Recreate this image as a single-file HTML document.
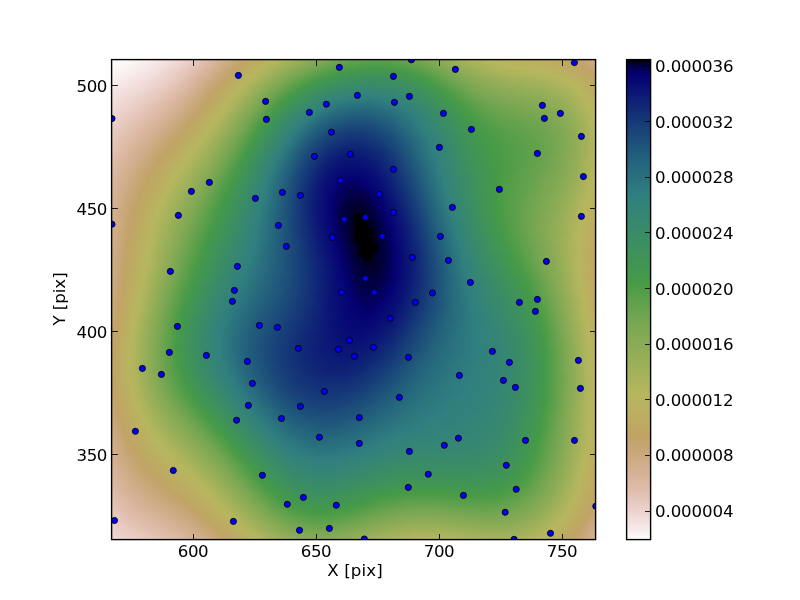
<!DOCTYPE html><html><head><meta charset="utf-8"><title>KDE density X [pix] Y [pix]</title><style>
html,body{margin:0;padding:0;background:#fff}
body{width:800px;height:600px;position:relative;overflow:hidden;font-family:"DejaVu Sans","Liberation Sans",sans-serif;font-size:16.67px;color:#000}
#fld{position:absolute;left:112px;top:60px;width:484px;height:480px;overflow:hidden}
#fld i{display:block;height:1px;width:100%}
#pts{position:absolute;left:112px;top:60px}
.ln{position:absolute;background:#000}
.t{position:absolute;white-space:nowrap;line-height:20px;height:20px;letter-spacing:-0.13px;will-change:transform}
#cb{position:absolute;left:627px;top:60px;width:24px;height:480px;background:linear-gradient(180deg,#000000 0%,#000000 0.3906%,#01002b 0.3906%,#01002b 0.7812%,#010039 0.7812%,#010039 1.172%,#020043 1.172%,#020043 1.562%,#03004e 1.562%,#03004e 1.953%,#030059 1.953%,#030059 2.344%,#040064 2.344%,#040064 2.734%,#05006e 2.734%,#05006e 3.125%,#050274 3.125%,#050274 3.516%,#060574 3.516%,#060574 3.906%,#070774 3.906%,#070774 4.297%,#070975 4.297%,#070975 4.688%,#080b75 4.688%,#080b75 5.078%,#090e75 5.078%,#090e75 5.469%,#091075 5.469%,#091075 5.859%,#0a1275 5.859%,#0a1275 6.25%,#0b1575 6.25%,#0b1575 6.641%,#0b1776 6.641%,#0b1776 7.031%,#0c1976 7.031%,#0c1976 7.422%,#0d1c76 7.422%,#0d1c76 7.812%,#0d1e76 7.812%,#0d1e76 8.203%,#0e2076 8.203%,#0e2076 8.594%,#0f2277 8.594%,#0f2277 8.984%,#0f2577 8.984%,#0f2577 9.375%,#102777 9.375%,#102777 9.766%,#112977 9.766%,#112977 10.16%,#112c77 10.16%,#112c77 10.55%,#122e77 10.55%,#122e77 10.94%,#133078 10.94%,#133078 11.33%,#133278 11.33%,#133278 11.72%,#143478 11.72%,#143478 12.11%,#153778 12.11%,#153778 12.5%,#153978 12.5%,#153978 12.89%,#163b79 12.89%,#163b79 13.28%,#173d79 13.28%,#173d79 13.67%,#173f79 13.67%,#173f79 14.06%,#184179 14.06%,#184179 14.45%,#194379 14.45%,#194379 14.84%,#194579 14.84%,#194579 15.23%,#1a477a 15.23%,#1a477a 15.62%,#1b497a 15.62%,#1b497a 16.02%,#1b4b7a 16.02%,#1b4b7a 16.41%,#1c4d7a 16.41%,#1c4d7a 16.8%,#1d4f7a 16.8%,#1d4f7a 17.19%,#1d517b 17.19%,#1d517b 17.58%,#1e537b 17.58%,#1e537b 17.97%,#1f557b 17.97%,#1f557b 18.36%,#1f577b 18.36%,#1f577b 18.75%,#20597b 18.75%,#20597b 19.14%,#215a7b 19.14%,#215a7b 19.53%,#215c7c 19.53%,#215c7c 19.92%,#225e7c 19.92%,#225e7c 20.31%,#23607c 20.31%,#23607c 20.7%,#23627c 20.7%,#23627c 21.09%,#24647c 21.09%,#24647c 21.48%,#25657d 21.48%,#25657d 21.88%,#25677d 21.88%,#25677d 22.27%,#26687d 22.27%,#26687d 22.66%,#276a7d 22.66%,#276a7d 23.05%,#276b7d 23.05%,#276b7d 23.44%,#286d7d 23.44%,#286d7d 23.83%,#296f7e 23.83%,#296f7e 24.22%,#29707e 24.22%,#29707e 24.61%,#2a727e 24.61%,#2a727e 25%,#2b737e 25%,#2b737e 25.39%,#2b757e 25.39%,#2b757e 25.78%,#2c777f 25.78%,#2c777f 26.17%,#2d787f 26.17%,#2d787f 26.56%,#2d7a7f 26.56%,#2d7a7f 26.95%,#2e7b7f 26.95%,#2e7b7f 27.34%,#2f7d7f 27.34%,#2f7d7f 27.73%,#2f7e7f 27.73%,#2f7e7f 28.12%,#308080 28.12%,#308080 28.52%,#30817e 28.52%,#30817e 28.91%,#31817d 28.91%,#31817d 29.3%,#31827c 29.3%,#31827c 29.69%,#32827b 29.69%,#32827b 30.08%,#328379 30.08%,#328379 30.47%,#338378 30.47%,#338378 30.86%,#338477 30.86%,#338477 31.25%,#348576 31.25%,#348576 31.64%,#348575 31.64%,#348575 32.03%,#358673 32.03%,#358673 32.42%,#358672 32.42%,#358672 32.81%,#368771 32.81%,#368771 33.2%,#368770 33.2%,#368770 33.59%,#37886e 33.59%,#37886e 33.98%,#37896d 33.98%,#37896d 34.38%,#38896c 34.38%,#38896c 34.77%,#388a6b 34.77%,#388a6b 35.16%,#388a6a 35.16%,#388a6a 35.55%,#398b68 35.55%,#398b68 35.94%,#398c67 35.94%,#398c67 36.33%,#3a8c66 36.33%,#3a8c66 36.72%,#3a8d65 36.72%,#3a8d65 37.11%,#3b8d63 37.11%,#3b8d63 37.5%,#3b8e62 37.5%,#3b8e62 37.89%,#3c8e61 37.89%,#3c8e61 38.28%,#3c8f60 38.28%,#3c8f60 38.67%,#3d905f 38.67%,#3d905f 39.06%,#3d905d 39.06%,#3d905d 39.45%,#3e915c 39.45%,#3e915c 39.84%,#3e915b 39.84%,#3e915b 40.23%,#3f925a 40.23%,#3f925a 40.62%,#3f9258 40.62%,#3f9258 41.02%,#409357 41.02%,#409357 41.41%,#409456 41.41%,#409456 41.8%,#409455 41.8%,#409455 42.19%,#419554 42.19%,#419554 42.58%,#419552 42.58%,#419552 42.97%,#429651 42.97%,#429651 43.36%,#429650 43.36%,#429650 43.75%,#43974f 43.75%,#43974f 44.14%,#43984d 44.14%,#43984d 44.53%,#44984c 44.53%,#44984c 44.92%,#44994b 44.92%,#44994b 45.31%,#45994a 45.31%,#45994a 45.7%,#459a49 45.7%,#459a49 46.09%,#479a47 46.09%,#479a47 46.48%,#4a9b46 46.48%,#4a9b46 46.88%,#4c9c47 46.88%,#4c9c47 47.27%,#4e9c47 47.27%,#4e9c47 47.66%,#509d48 47.66%,#509d48 48.05%,#539d48 48.05%,#539d48 48.44%,#559e49 48.44%,#559e49 48.83%,#579f4a 48.83%,#579f4a 49.22%,#599f4a 49.22%,#599f4a 49.61%,#5ba04b 49.61%,#5ba04b 50%,#5ea04b 50%,#5ea04b 50.39%,#60a14c 50.39%,#60a14c 50.78%,#62a14c 50.78%,#62a14c 51.17%,#64a24d 51.17%,#64a24d 51.56%,#67a34e 51.56%,#67a34e 51.95%,#69a34e 51.95%,#69a34e 52.34%,#6ba44f 52.34%,#6ba44f 52.73%,#6da44f 52.73%,#6da44f 53.12%,#6fa450 53.12%,#6fa450 53.52%,#72a551 53.52%,#72a551 53.91%,#74a551 53.91%,#74a551 54.3%,#76a652 54.3%,#76a652 54.69%,#78a652 54.69%,#78a652 55.08%,#7aa752 55.08%,#7aa752 55.47%,#7ca753 55.47%,#7ca753 55.86%,#7da853 55.86%,#7da853 56.25%,#7fa853 56.25%,#7fa853 56.64%,#81a854 56.64%,#81a854 57.03%,#82a954 57.03%,#82a954 57.42%,#84a954 57.42%,#84a954 57.81%,#86aa55 57.81%,#86aa55 58.2%,#87aa55 58.2%,#87aa55 58.59%,#89ab55 58.59%,#89ab55 58.98%,#8aab56 58.98%,#8aab56 59.38%,#8cab56 59.38%,#8cab56 59.77%,#8eac56 59.77%,#8eac56 60.16%,#8fac56 60.16%,#8fac56 60.55%,#91ad57 60.55%,#91ad57 60.94%,#93ad57 60.94%,#93ad57 61.33%,#94ae57 61.33%,#94ae57 61.72%,#96ae58 61.72%,#96ae58 62.11%,#98af58 62.11%,#98af58 62.5%,#99af58 62.5%,#99af58 62.89%,#9baf59 62.89%,#9baf59 63.28%,#9db059 63.28%,#9db059 63.67%,#9eb059 63.67%,#9eb059 64.06%,#a0b15a 64.06%,#a0b15a 64.45%,#a2b15a 64.45%,#a2b15a 64.84%,#a3b25a 64.84%,#a3b25a 65.23%,#a5b25b 65.23%,#a5b25b 65.62%,#a7b25b 65.62%,#a7b25b 66.02%,#a8b35b 66.02%,#a8b35b 66.41%,#aab35c 66.41%,#aab35c 66.8%,#abb45c 66.8%,#abb45c 67.19%,#adb45c 67.19%,#adb45c 67.58%,#afb55c 67.58%,#afb55c 67.97%,#b0b55d 67.97%,#b0b55d 68.36%,#b2b65d 68.36%,#b2b65d 68.75%,#b4b65d 68.75%,#b4b65d 69.14%,#b5b65e 69.14%,#b5b65e 69.53%,#b7b75e 69.53%,#b7b75e 69.92%,#b7b65e 69.92%,#b7b65e 70.31%,#b8b55f 70.31%,#b8b55f 70.7%,#b8b45f 70.7%,#b8b45f 71.09%,#b9b35f 71.09%,#b9b35f 71.48%,#b9b360 71.48%,#b9b360 71.88%,#b9b260 71.88%,#b9b260 72.27%,#bab160 72.27%,#bab160 72.66%,#bab061 72.66%,#bab061 73.05%,#bbaf61 73.05%,#bbaf61 73.44%,#bbae61 73.44%,#bbae61 73.83%,#bcad62 73.83%,#bcad62 74.22%,#bcac62 74.22%,#bcac62 74.61%,#bcac62 74.61%,#bcac62 75%,#bdab62 75%,#bdab62 75.39%,#bdaa63 75.39%,#bdaa63 75.78%,#bea963 75.78%,#bea963 76.17%,#bea863 76.17%,#bea863 76.56%,#bfa764 76.56%,#bfa764 76.95%,#bfa664 76.95%,#bfa664 77.34%,#bfa664 77.34%,#bfa664 77.73%,#c0a565 77.73%,#c0a565 78.12%,#c0a465 78.12%,#c0a465 78.52%,#c1a367 78.52%,#c1a367 78.91%,#c2a46a 78.91%,#c2a46a 79.3%,#c3a46c 79.3%,#c3a46c 79.69%,#c4a46f 79.69%,#c4a46f 80.08%,#c5a571 80.08%,#c5a571 80.47%,#c6a574 80.47%,#c6a574 80.86%,#c7a676 80.86%,#c7a676 81.25%,#c8a779 81.25%,#c8a779 81.64%,#caa87b 81.64%,#caa87b 82.03%,#cba97e 82.03%,#cba97e 82.42%,#ccaa80 82.42%,#ccaa80 82.81%,#cdaa82 82.81%,#cdaa82 83.2%,#ceab85 83.2%,#ceab85 83.59%,#cfac87 83.59%,#cfac87 83.98%,#d0ad8a 83.98%,#d0ad8a 84.38%,#d1ae8c 84.38%,#d1ae8c 84.77%,#d3af8f 84.77%,#d3af8f 85.16%,#d4b091 85.16%,#d4b091 85.55%,#d5b194 85.55%,#d5b194 85.94%,#d6b196 85.94%,#d6b196 86.33%,#d7b298 86.33%,#d7b298 86.72%,#d8b49b 86.72%,#d8b49b 87.11%,#d9b59d 87.11%,#d9b59d 87.5%,#dab7a0 87.5%,#dab7a0 87.89%,#dbb8a2 87.89%,#dbb8a2 88.28%,#ddb9a5 88.28%,#ddb9a5 88.67%,#debba7 88.67%,#debba7 89.06%,#dfbcaa 89.06%,#dfbcaa 89.45%,#e0bdad 89.45%,#e0bdad 89.84%,#e1bfb0 89.84%,#e1bfb0 90.23%,#e2c1b3 90.23%,#e2c1b3 90.62%,#e3c3b6 90.62%,#e3c3b6 91.02%,#e4c5b9 91.02%,#e4c5b9 91.41%,#e6c7bc 91.41%,#e6c7bc 91.8%,#e7c9bf 91.8%,#e7c9bf 92.19%,#e8cbc2 92.19%,#e8cbc2 92.58%,#e9cdc5 92.58%,#e9cdc5 92.97%,#eacfc8 92.97%,#eacfc8 93.36%,#ebd1cb 93.36%,#ebd1cb 93.75%,#ecd3ce 93.75%,#ecd3ce 94.14%,#edd5d1 94.14%,#edd5d1 94.53%,#eed8d4 94.53%,#eed8d4 94.92%,#f0dad7 94.92%,#f0dad7 95.31%,#f1dcda 95.31%,#f1dcda 95.7%,#f2dedd 95.7%,#f2dedd 96.09%,#f3e1e0 96.09%,#f3e1e0 96.48%,#f4e4e3 96.48%,#f4e4e3 96.88%,#f5e7e6 96.88%,#f5e7e6 97.27%,#f6eae9 97.27%,#f6eae9 97.66%,#f7ecec 97.66%,#f7ecec 98.05%,#f9efef 98.05%,#f9efef 98.44%,#faf2f2 98.44%,#faf2f2 98.83%,#fbf5f5 98.83%,#fbf5f5 99.22%,#fcf8f8 99.22%,#fcf8f8 99.61%,#fdfbfb 99.61%,#fdfbfb 100%)}
</style></head><body>
<div id="fld"><i style="background:linear-gradient(90deg,#fdfbfb 0.5%,#fcf8f8 3.5%,#f4e4e3 10.5%,#f2dedd 11.5%,#f1dcda 12.5%,#eacfc8 15.5%,#e1bfb0 18.5%,#d7b298 21.5%,#d3af8f 22.5%,#c7a676 25.5%,#c3a46c 26.5%,#c0a565 27.5%,#b8b55f 32.5%,#b4b65d 33.5%,#8aab56 40.5%,#7ca753 43.5%,#78a652 44.5%,#72a551 45.5%,#60a14c 49.5%,#579f4a 53.5%,#599f4a 57.5%,#62a14c 60.5%,#6ba44f 62.5%,#72a551 63.5%,#a5b25b 73.5%,#b7b75e 78.5%,#bcac62 91.5%,#c0a565 95.5%,#c2a46a 96.5%,#ccaa80 99.5%)"></i><i style="background:linear-gradient(90deg,#fdfbfb 0.5%,#fcf8f8 3.5%,#f4e4e3 10.5%,#f2dedd 11.5%,#f1dcda 12.5%,#eacfc8 15.5%,#e1bfb0 18.5%,#d7b298 21.5%,#d3af8f 22.5%,#c7a676 25.5%,#c3a46c 26.5%,#c0a565 27.5%,#b8b55f 32.5%,#b4b65d 33.5%,#8aab56 40.5%,#7ca753 43.5%,#78a652 44.5%,#72a551 45.5%,#60a14c 49.5%,#579f4a 53.5%,#599f4a 57.5%,#62a14c 60.5%,#6ba44f 62.5%,#72a551 63.5%,#a5b25b 73.5%,#b7b75e 78.5%,#bcac62 91.5%,#c0a565 95.5%,#c2a46a 96.5%,#ccaa80 99.5%)"></i><i style="background:linear-gradient(90deg,#fdfbfb 0.5%,#fcf8f8 3.5%,#f4e4e3 10.5%,#f2dedd 11.5%,#f1dcda 12.5%,#eacfc8 15.5%,#e1bfaf 18.5%,#d7b298 21.5%,#c7a676 25.5%,#c3a46c 26.5%,#c0a565 27.5%,#b8b55f 32.5%,#b4b65d 33.5%,#8aab55 40.5%,#7ba753 43.5%,#78a652 44.5%,#71a550 45.5%,#60a14c 49.5%,#579e4a 53.5%,#599f4a 57.5%,#62a14c 60.5%,#6ba34f 62.5%,#71a550 63.5%,#a5b25b 73.5%,#b7b75e 78.5%,#bcac62 91.5%,#c0a565 95.5%,#c2a46a 96.5%,#ccaa80 99.5%)"></i><i style="background:linear-gradient(90deg,#fdfafa 0.5%,#fdfafa 1.5%,#fbf7f7 3.5%,#f7eceb 7.5%,#f4e3e2 10.5%,#eed7d2 13.5%,#e9cec6 15.5%,#e0beae 18.5%,#d6b196 21.5%,#c6a673 25.5%,#c2a46b 26.5%,#bfa664 27.5%,#b9b360 31.5%,#b1b55d 33.5%,#88aa55 40.5%,#78a652 43.5%,#74a551 44.5%,#6ea44f 45.5%,#5ca04b 49.5%,#539d49 53.5%,#539d49 55.5%,#569e49 57.5%,#5fa04c 60.5%,#67a34e 62.5%,#94ad57 70.5%,#a3b15a 73.5%,#b5b65e 78.5%,#b9b45f 82.5%,#bcad61 90.5%,#bfa664 95.5%,#c4a46f 97.5%,#cba97e 99.5%)"></i><i style="background:linear-gradient(90deg,#fdfafa 0.5%,#fdfafa 1.5%,#f7ebeb 7.5%,#f3e1e0 10.5%,#edd6d1 13.5%,#e3c3b5 17.5%,#d5b194 21.5%,#c5a571 25.5%,#c2a469 26.5%,#bfa664 27.5%,#b8b45f 31.5%,#afb55d 33.5%,#9db059 36.5%,#6aa34f 45.5%,#589f4a 49.5%,#4f9c49 53.5%,#4f9c49 55.5%,#529d48 57.5%,#5ba04b 60.5%,#64a24d 62.5%,#7ca753 66.5%,#a1b15a 73.5%,#b3b65d 78.5%,#b8b45f 82.5%,#bbae61 90.5%,#bfa664 95.5%,#c3a46d 97.5%,#caa87d 99.5%)"></i><i style="background:linear-gradient(90deg,#fcf9f9 0.5%,#fcf9f9 1.5%,#f7ebea 7.5%,#f5e6e5 8.5%,#f3e0df 10.5%,#edd5d0 13.5%,#e5c7bb 16.5%,#dfbcaa 18.5%,#d4b092 21.5%,#c4a46e 25.5%,#c1a467 26.5%,#bfa764 27.5%,#b8b55f 31.5%,#b3b55d 32.5%,#9aaf59 36.5%,#66a24e 45.5%,#549e49 49.5%,#4c9c49 53.5%,#4c9c49 55.5%,#4f9c48 57.5%,#589f4a 60.5%,#61a14c 62.5%,#7aa752 66.5%,#90ac57 70.5%,#a3b15a 74.5%,#b2b55d 78.5%,#b8b55f 82.5%,#b9b360 86.5%,#bcad62 92.5%,#bfa764 95.5%,#c2a46b 97.5%,#caa87b 99.5%)"></i><i style="background:linear-gradient(90deg,#fcf9f8 0.5%,#fcf9f8 1.5%,#f8eded 5.5%,#f8edec 6.5%,#f6eae9 7.5%,#f4e5e4 8.5%,#f2dfde 10.5%,#eed6d2 12.5%,#edd4cf 13.5%,#e9cec6 14.5%,#e5c6ba 16.5%,#d7b39a 20.5%,#c7a675 24.5%,#c3a46c 25.5%,#c0a566 26.5%,#b7b65e 31.5%,#98af58 36.5%,#7ca753 41.5%,#6da44f 43.5%,#62a14d 45.5%,#519d48 49.5%,#4c9c47 51.5%,#489b49 53.5%,#489b49 55.5%,#4c9c47 57.5%,#559e49 60.5%,#5ea04b 62.5%,#78a652 66.5%,#8eac56 70.5%,#a1b15a 74.5%,#b0b55d 78.5%,#b7b65e 82.5%,#b9b45f 86.5%,#bbae61 92.5%,#bea864 95.5%,#c1a369 97.5%,#c9a77a 99.5%)"></i><i style="background:linear-gradient(90deg,#fcf8f8 0.5%,#fcf8f8 1.5%,#f7ecec 5.5%,#f7ecec 6.5%,#f6e9e9 7.5%,#f4e4e3 8.5%,#f2dedc 10.5%,#edd5d0 12.5%,#ecd3cd 13.5%,#e9cdc4 14.5%,#e4c5b8 16.5%,#ddbaa7 18.5%,#d7b298 20.5%,#cfac87 22.5%,#c6a573 24.5%,#c2a46a 25.5%,#c0a565 26.5%,#b6b75e 31.5%,#95ae58 36.5%,#79a652 41.5%,#6aa34f 43.5%,#5fa14c 45.5%,#4d9c48 49.5%,#499b47 51.5%,#459a49 53.5%,#459a49 55.5%,#499b47 57.5%,#4d9c48 59.5%,#5b9f4b 62.5%,#75a651 66.5%,#8cab56 70.5%,#9fb15a 74.5%,#aeb55c 78.5%,#b6b75e 82.5%,#b9b360 88.5%,#bbae61 92.5%,#bfa664 96.5%,#c1a367 97.5%,#c4a46e 98.5%,#c8a778 99.5%)"></i><i style="background:linear-gradient(90deg,#fcf7f7 0.5%,#fbf7f6 1.5%,#f6e8e7 7.5%,#f4e3e2 8.5%,#f1dddb 10.5%,#edd4cf 12.5%,#ebd1cb 13.5%,#e3c4b6 16.5%,#d6b196 20.5%,#ceab85 22.5%,#c5a571 24.5%,#c1a468 25.5%,#bfa664 26.5%,#bab160 29.5%,#b4b65e 31.5%,#93ad57 36.5%,#75a651 41.5%,#66a24e 43.5%,#5ba04b 45.5%,#4b9b49 49.5%,#44994b 53.5%,#44994b 55.5%,#489a49 57.5%,#4b9b49 59.5%,#539d49 61.5%,#89ab55 70.5%,#9db059 74.5%,#acb45c 78.5%,#b5b65e 82.5%,#b9b45f 88.5%,#bbaf61 92.5%,#bfa764 96.5%,#c0a467 97.5%,#c3a46c 98.5%,#c7a676 99.5%)"></i><i style="background:linear-gradient(90deg,#fbf7f7 0.5%,#f5e7e6 7.5%,#f1dcda 10.5%,#ebd0c9 13.5%,#e3c2b4 16.5%,#d5b194 20.5%,#cdab83 22.5%,#c4a46f 24.5%,#c1a567 25.5%,#bfa764 26.5%,#b9b260 29.5%,#b7b55f 30.5%,#b2b65d 31.5%,#90ad57 36.5%,#72a550 41.5%,#62a14d 43.5%,#579f4a 45.5%,#4e9c4a 47.5%,#499a4a 49.5%,#44984d 53.5%,#44984d 55.5%,#46994b 57.5%,#499a4a 59.5%,#509d48 61.5%,#5b9f4b 63.5%,#76a651 67.5%,#87aa55 70.5%,#97ae58 73.5%,#a8b35b 77.5%,#b0b55d 80.5%,#b3b65d 82.5%,#b8b55f 88.5%,#bab061 92.5%,#bfa764 96.5%,#c2a46a 98.5%,#c6a674 99.5%)"></i><i style="background:linear-gradient(90deg,#fbf6f6 0.5%,#f9f0f0 3.5%,#f5e6e5 7.5%,#f0dbd9 10.5%,#eacfc8 13.5%,#e5c7bb 15.5%,#dfbcaa 17.5%,#d4b092 20.5%,#ccaa81 22.5%,#c3a46d 24.5%,#c0a566 25.5%,#b6b55e 30.5%,#b0b55d 31.5%,#8eac56 36.5%,#7ca753 39.5%,#5fa04c 43.5%,#4f9c48 46.5%,#4a9b4a 47.5%,#47994b 49.5%,#43974e 53.5%,#43974f 54.5%,#45984d 57.5%,#47994b 59.5%,#4c9c48 61.5%,#579f4a 63.5%,#80a853 69.5%,#95ae58 73.5%,#a6b25b 77.5%,#aeb45c 80.5%,#b1b55d 82.5%,#b8b65f 88.5%,#bab160 92.5%,#bea864 96.5%,#c1a468 98.5%,#c5a572 99.5%)"></i><i style="background:linear-gradient(90deg,#fbf6f5 0.5%,#f9f0f0 2.5%,#f9f0ef 3.5%,#f5e7e7 6.5%,#f0dad7 10.5%,#e5c6b9 15.5%,#debba8 17.5%,#d7b399 19.5%,#d3af90 20.5%,#d0ac88 21.5%,#c7a675 23.5%,#c2a46b 24.5%,#c0a565 25.5%,#b6b65e 30.5%,#92ad57 35.5%,#7aa752 39.5%,#5ba04b 43.5%,#509d48 45.5%,#4c9c47 46.5%,#479a4a 47.5%,#429650 52.5%,#429651 54.5%,#429650 56.5%,#469a4a 60.5%,#499b48 61.5%,#549e49 63.5%,#7ea853 69.5%,#94ad57 73.5%,#a4b25a 77.5%,#acb45c 80.5%,#b7b65e 88.5%,#bbae61 94.5%,#bfa664 97.5%,#c1a466 98.5%,#c4a570 99.5%)"></i><i style="background:linear-gradient(90deg,#fbf5f5 0.5%,#f8efef 2.5%,#f8efee 3.5%,#f3e0df 8.5%,#f0dcd9 9.5%,#efd9d6 10.5%,#e4c5b8 15.5%,#ddbaa6 17.5%,#d7b298 19.5%,#d2af8e 20.5%,#cfac86 21.5%,#c6a573 23.5%,#c1a469 24.5%,#bfa664 25.5%,#bab160 28.5%,#b4b65e 30.5%,#90ac57 35.5%,#76a652 39.5%,#589f4a 43.5%,#499b47 46.5%,#44994b 47.5%,#43974e 49.5%,#419553 54.5%,#429651 57.5%,#44994b 60.5%,#479a48 61.5%,#519d48 63.5%,#65a24d 66.5%,#7ca753 69.5%,#92ad57 73.5%,#a2b15a 77.5%,#acb45c 81.5%,#b6b75e 88.5%,#b7b55f 90.5%,#bbaf61 94.5%,#c0a465 98.5%,#c4a46e 99.5%)"></i><i style="background:linear-gradient(90deg,#faf4f4 0.5%,#f8efee 2.5%,#f8eeed 3.5%,#f2dfde 8.5%,#f0dbd8 9.5%,#efd8d5 10.5%,#e3c3b6 15.5%,#d6b196 19.5%,#d1ae8c 20.5%,#c5a571 23.5%,#c1a468 24.5%,#bfa764 25.5%,#b9b260 28.5%,#b2b65d 30.5%,#7aa752 38.5%,#549e49 43.5%,#479a49 46.5%,#44984d 47.5%,#429650 49.5%,#409455 54.5%,#419553 57.5%,#46994a 61.5%,#4e9c48 63.5%,#7aa752 69.5%,#90ac57 73.5%,#a0b15a 77.5%,#abb45c 81.5%,#b4b65e 88.5%,#b6b55e 90.5%,#bbaf61 94.5%,#c0a565 98.5%,#c3a46d 99.5%)"></i><i style="background:linear-gradient(90deg,#faf4f3 0.5%,#f2dedd 8.5%,#f0dad7 9.5%,#eed7d4 10.5%,#e5c7bc 14.5%,#e3c2b4 15.5%,#d5b195 19.5%,#c8a778 22.5%,#c4a46f 23.5%,#c0a567 24.5%,#bea764 25.5%,#b9b35f 28.5%,#b6b55e 29.5%,#b0b55d 30.5%,#77a652 38.5%,#519d48 43.5%,#46994b 46.5%,#43974f 47.5%,#419553 49.5%,#409356 52.5%,#409356 55.5%,#419553 58.5%,#45994b 61.5%,#4c9c48 63.5%,#529d48 64.5%,#77a652 69.5%,#83a954 71.5%,#97ae58 75.5%,#9eb059 77.5%,#a9b35b 81.5%,#b3b65d 88.5%,#b7b55e 91.5%,#bbae61 95.5%,#c0a565 98.5%,#c2a46b 99.5%)"></i><i style="background:linear-gradient(90deg,#faf3f3 0.5%,#f1dddb 8.5%,#efd9d5 9.5%,#eed7d2 10.5%,#e5c6ba 14.5%,#d8b39a 18.5%,#d5b093 19.5%,#c7a676 22.5%,#c3a46d 23.5%,#c0a566 24.5%,#b8b45f 28.5%,#b5b65e 29.5%,#83a954 36.5%,#5ca04b 41.5%,#4e9c47 43.5%,#46994c 45.5%,#429651 47.5%,#419455 49.5%,#3f9358 52.5%,#3f9358 55.5%,#419455 58.5%,#429650 60.5%,#499b48 63.5%,#509d48 64.5%,#75a651 69.5%,#81a954 71.5%,#95ae58 75.5%,#9cb059 77.5%,#a7b35b 81.5%,#aab45c 84.5%,#b6b65e 91.5%,#bbaf61 95.5%,#bfa664 98.5%,#c2a369 99.5%)"></i><i style="background:linear-gradient(90deg,#faf3f2 0.5%,#f1dcda 8.5%,#efd8d4 9.5%,#edd6d1 10.5%,#e5c6b9 14.5%,#debba8 16.5%,#d7b399 18.5%,#d4b092 19.5%,#c6a574 22.5%,#c2a46b 23.5%,#c0a565 24.5%,#b8b55f 28.5%,#b4b65e 29.5%,#79a652 37.5%,#589f4a 41.5%,#4b9b46 43.5%,#469a4a 44.5%,#419553 47.5%,#409357 49.5%,#3e925a 52.5%,#3e925a 55.5%,#409357 58.5%,#469a49 63.5%,#4d9c47 64.5%,#6aa34e 68.5%,#72a551 69.5%,#7fa853 71.5%,#93ad57 75.5%,#a5b25b 81.5%,#a9b35b 84.5%,#b2b65d 90.5%,#b6b65e 91.5%,#bab061 95.5%,#bfa664 98.5%,#c1a368 99.5%)"></i><i style="background:linear-gradient(90deg,#f9f1f1 0.5%,#f0dcd9 8.5%,#eed7d3 9.5%,#edd5d0 10.5%,#e4c4b7 14.5%,#ddbaa6 16.5%,#d6b297 18.5%,#d3af90 19.5%,#c6a573 22.5%,#c1a469 23.5%,#bfa664 24.5%,#b7b55e 28.5%,#b3b65d 29.5%,#7fa853 36.5%,#64a24d 39.5%,#559e49 41.5%,#499a48 43.5%,#44994b 44.5%,#409455 47.5%,#3f9259 49.5%,#3e915c 52.5%,#3e915c 55.5%,#3f9258 58.5%,#45994a 63.5%,#4b9b47 64.5%,#519d48 65.5%,#70a550 69.5%,#7ea853 71.5%,#92ad57 75.5%,#a4b25a 81.5%,#afb55d 89.5%,#b6b65e 92.5%,#bab060 95.5%,#bfa764 98.5%,#c0a467 99.5%)"></i><i style="background:linear-gradient(90deg,#f9f0f0 0.5%,#f4e3e2 5.5%,#f0dbd8 8.5%,#eed6d2 9.5%,#edd4cf 10.5%,#e3c3b5 14.5%,#d6b196 18.5%,#ceab85 20.5%,#c5a571 22.5%,#c1a468 23.5%,#bfa764 24.5%,#b6b55e 28.5%,#b1b55d 29.5%,#7ca753 36.5%,#61a14c 39.5%,#519d49 41.5%,#4c9b49 42.5%,#47994a 43.5%,#43984d 44.5%,#409357 47.5%,#3e915b 49.5%,#3d905e 52.5%,#3d905e 55.5%,#3f925a 58.5%,#44994b 63.5%,#4e9c48 65.5%,#6ea450 69.5%,#7ca753 71.5%,#90ac57 75.5%,#a2b15a 81.5%,#adb45c 89.5%,#b5b65e 92.5%,#bab160 95.5%,#c0a466 99.5%)"></i><i style="background:linear-gradient(90deg,#f8efef 0.5%,#f3e2e1 5.5%,#ecd3cd 10.5%,#e5c7bb 13.5%,#d8b49c 17.5%,#d5b194 18.5%,#c9a779 21.5%,#c4a570 22.5%,#c0a567 23.5%,#bea864 24.5%,#b9b35f 27.5%,#b5b55e 28.5%,#afb55d 29.5%,#79a752 36.5%,#5ea04b 39.5%,#4e9c48 41.5%,#46984c 43.5%,#43974f 44.5%,#3d905d 49.5%,#3c8f60 53.5%,#3c8f60 55.5%,#3e915b 58.5%,#44984d 63.5%,#4b9b48 65.5%,#549e49 66.5%,#7aa752 71.5%,#8eac56 75.5%,#a0b15a 81.5%,#acb45c 89.5%,#b7b55e 93.5%,#b9b260 95.5%,#c0a566 99.5%)"></i><i style="background:linear-gradient(90deg,#f8eeed 0.5%,#f3e1e1 5.5%,#f1dddb 6.5%,#efd9d5 8.5%,#edd4cf 9.5%,#ecd2cc 10.5%,#e5c6ba 13.5%,#d8b39a 17.5%,#cdaa82 20.5%,#c4a46e 22.5%,#c0a566 23.5%,#b8b45f 27.5%,#b3b55d 28.5%,#adb45c 29.5%,#77a652 36.5%,#5b9f4b 39.5%,#4b9b48 41.5%,#47994b 42.5%,#429651 44.5%,#3d8f5f 49.5%,#3b8e62 53.5%,#3c8e61 55.5%,#3d905d 58.5%,#43974e 63.5%,#489b49 65.5%,#519d48 66.5%,#78a652 71.5%,#8cac56 75.5%,#9fb059 81.5%,#aab35c 89.5%,#b6b65e 93.5%,#b9b360 95.5%,#bfa665 99.5%)"></i><i style="background:linear-gradient(90deg,#f7edec 0.5%,#f3e1e0 5.5%,#f1dcda 6.5%,#efd8d4 8.5%,#ecd3ce 9.5%,#ebd1cb 10.5%,#e4c5b9 13.5%,#debba7 15.5%,#d7b299 17.5%,#ccaa80 20.5%,#c3a46d 22.5%,#bfa664 23.5%,#b8b55f 27.5%,#acb45c 29.5%,#8bab56 33.5%,#74a551 36.5%,#69a34e 37.5%,#579f4a 39.5%,#489b47 41.5%,#44984c 42.5%,#409357 45.5%,#3c8e61 49.5%,#3a8d64 53.5%,#3c8e61 57.5%,#409357 61.5%,#459a49 65.5%,#4e9c47 66.5%,#559e49 67.5%,#76a652 71.5%,#8bab56 75.5%,#9db059 81.5%,#a8b35b 89.5%,#adb45c 91.5%,#b5b65e 93.5%,#b9b35f 95.5%,#bfa664 99.5%)"></i><i style="background:linear-gradient(90deg,#f7eceb 0.5%,#f3e0df 5.5%,#f0dcd9 6.5%,#eed7d3 8.5%,#ecd2cd 9.5%,#ebd0ca 10.5%,#e4c4b7 13.5%,#d6b297 17.5%,#d3af90 18.5%,#c6a674 21.5%,#c2a46b 22.5%,#bfa664 23.5%,#b7b55e 27.5%,#b1b55d 28.5%,#71a550 36.5%,#549e49 39.5%,#469a49 41.5%,#43974e 42.5%,#3f9259 45.5%,#3b8e63 49.5%,#3a8c66 53.5%,#3b8e62 57.5%,#3f9259 61.5%,#45994a 65.5%,#539d48 67.5%,#74a551 71.5%,#89ab55 75.5%,#9baf59 81.5%,#a7b35b 89.5%,#afb55d 92.5%,#b4b65e 93.5%,#b8b45f 95.5%,#bfa764 99.5%)"></i><i style="background:linear-gradient(90deg,#f7ebeb 0.5%,#f2dfdd 5.5%,#eed6d1 8.5%,#ebd1cb 9.5%,#eacfc8 10.5%,#e3c3b5 13.5%,#d6b196 17.5%,#d2af8e 18.5%,#c6a572 21.5%,#c2a469 22.5%,#bfa764 23.5%,#b9b360 26.5%,#b6b55e 27.5%,#afb55c 28.5%,#7fa853 34.5%,#6ea450 36.5%,#5a9f4a 38.5%,#4a9b49 40.5%,#45994b 41.5%,#429750 42.5%,#3e915b 45.5%,#3a8d64 49.5%,#398b68 53.5%,#3a8c66 56.5%,#3e925a 61.5%,#44994b 65.5%,#509d48 67.5%,#72a551 71.5%,#87aa55 75.5%,#8eac56 77.5%,#99af58 81.5%,#a3b25a 88.5%,#aab45c 91.5%,#b5b65e 94.5%,#b8b45f 95.5%,#bea764 99.5%)"></i><i style="background:linear-gradient(90deg,#f7ebea 0.5%,#f2dedc 5.5%,#edd5d0 8.5%,#ebd1ca 9.5%,#eacfc7 10.5%,#e2c2b3 13.5%,#d9b59d 16.5%,#d2ae8d 18.5%,#c9a87a 20.5%,#c1a468 22.5%,#bea864 23.5%,#b9b35f 26.5%,#b4b55e 27.5%,#7da753 34.5%,#569e49 38.5%,#4e9c48 39.5%,#489a4a 40.5%,#409456 43.5%,#3c8f60 46.5%,#3a8c66 49.5%,#388a6a 53.5%,#398b67 56.5%,#3e915c 61.5%,#44984c 65.5%,#4e9c47 67.5%,#6fa450 71.5%,#76a651 72.5%,#86aa55 75.5%,#8dac56 77.5%,#98af58 81.5%,#a2b15a 88.5%,#a9b35b 91.5%,#b4b65e 94.5%,#b8b55f 95.5%,#bea863 99.5%)"></i><i style="background:linear-gradient(90deg,#f7eae9 0.5%,#f1dddb 5.5%,#edd4cf 8.5%,#ead0c9 9.5%,#e9cec6 10.5%,#d9b49c 16.5%,#d1ae8b 18.5%,#c8a778 20.5%,#c4a46e 21.5%,#c0a566 22.5%,#bea863 23.5%,#b8b45f 26.5%,#b3b55d 27.5%,#7ba752 34.5%,#539e49 38.5%,#4a9b48 39.5%,#43974f 41.5%,#3e915c 44.5%,#3a8c67 48.5%,#388a6b 52.5%,#398b69 56.5%,#3d905d 61.5%,#43984e 65.5%,#46994a 66.5%,#4c9c47 67.5%,#6da44f 71.5%,#74a551 72.5%,#84a954 75.5%,#8cab56 77.5%,#96ae58 81.5%,#a0b15a 88.5%,#a8b35b 91.5%,#b3b65d 94.5%,#b8b65f 95.5%,#bea963 99.5%)"></i><i style="background:linear-gradient(90deg,#f6e9e9 0.5%,#f0dad7 6.5%,#edd5d1 7.5%,#e9cdc5 10.5%,#e7c9bf 11.5%,#e3c3b6 12.5%,#dfbca9 14.5%,#d8b49b 16.5%,#d4b091 17.5%,#d0ad8a 18.5%,#c7a676 20.5%,#c3a46c 21.5%,#c0a565 22.5%,#b8b55f 26.5%,#b2b65d 27.5%,#78a652 34.5%,#509d48 38.5%,#479a47 39.5%,#44984c 40.5%,#3f925a 43.5%,#398b69 48.5%,#37896d 52.5%,#388a6b 56.5%,#398b67 58.5%,#3d8f5f 61.5%,#44994b 66.5%,#4a9b46 67.5%,#6ba44f 71.5%,#78a652 73.5%,#8aab55 77.5%,#93ad57 80.5%,#9eb059 88.5%,#a3b25a 90.5%,#aab35b 92.5%,#b7b65e 95.5%,#bea963 99.5%)"></i><i style="background:linear-gradient(90deg,#f6e8e8 0.5%,#efd9d5 6.5%,#edd4cf 7.5%,#ecd2cc 8.5%,#e8ccc3 10.5%,#debba8 14.5%,#d7b399 16.5%,#d3af8f 17.5%,#d0ac88 18.5%,#c7a674 20.5%,#c2a46b 21.5%,#bfa664 22.5%,#b7b55e 26.5%,#b1b55d 27.5%,#7ea853 33.5%,#589f4a 37.5%,#4e9c49 38.5%,#469a49 39.5%,#43974e 40.5%,#3c8f5f 44.5%,#38896c 49.5%,#36886f 53.5%,#398b69 58.5%,#3c8f60 61.5%,#44984c 66.5%,#489a47 67.5%,#509d48 68.5%,#68a34e 71.5%,#76a652 73.5%,#89ab55 77.5%,#91ad57 80.5%,#9db059 88.5%,#a2b15a 90.5%,#a8b35b 92.5%,#b6b65e 95.5%,#b8b45f 96.5%,#bdaa63 99.5%)"></i><i style="background:linear-gradient(90deg,#f5e7e6 0.5%,#efd8d4 6.5%,#e7cbc1 10.5%,#d7b298 16.5%,#d2af8e 17.5%,#cfac87 18.5%,#c6a573 20.5%,#c2a469 21.5%,#bfa664 22.5%,#b6b65e 26.5%,#afb55d 27.5%,#7ca753 33.5%,#559e49 37.5%,#4b9b49 38.5%,#45994b 39.5%,#3c8e61 44.5%,#37886e 49.5%,#368771 53.5%,#388a6a 58.5%,#3b8e62 61.5%,#43974e 66.5%,#479a49 67.5%,#4e9c48 68.5%,#74a551 73.5%,#87aa55 77.5%,#8fac56 80.5%,#9bb059 88.5%,#a0b15a 90.5%,#afb55d 94.5%,#b5b65e 95.5%,#b8b55f 96.5%,#bdaa63 99.5%)"></i><i style="background:linear-gradient(90deg,#f5e6e5 0.5%,#eed7d3 6.5%,#e7c9bf 10.5%,#e0bdac 13.5%,#d6b296 16.5%,#d1ae8c 17.5%,#ceab85 18.5%,#c5a571 20.5%,#c1a468 21.5%,#bfa764 22.5%,#b9b35f 25.5%,#b5b65e 26.5%,#aeb45c 27.5%,#7aa752 33.5%,#5a9f4a 36.5%,#519d48 37.5%,#499a4a 38.5%,#429652 40.5%,#3b8e63 44.5%,#368770 49.5%,#358673 53.5%,#38896c 58.5%,#3b8d63 61.5%,#43974f 66.5%,#46994a 67.5%,#4b9c48 68.5%,#73a551 73.5%,#79a652 74.5%,#85aa54 77.5%,#8dac56 80.5%,#9cb059 89.5%,#a6b25b 92.5%,#aeb45c 94.5%,#b4b65e 95.5%,#b8b65f 96.5%,#bdab62 99.5%)"></i><i style="background:linear-gradient(90deg,#f4e5e4 0.5%,#eed6d2 6.5%,#ebd2cc 7.5%,#ead0c9 8.5%,#e6c8bd 10.5%,#dfbdaa 13.5%,#d5b195 16.5%,#d1ad8b 17.5%,#cdab83 18.5%,#c4a570 20.5%,#c1a466 21.5%,#bea864 22.5%,#b8b45f 25.5%,#b4b65e 26.5%,#78a652 33.5%,#579f4a 36.5%,#4e9c47 37.5%,#46994b 38.5%,#3a8d65 44.5%,#358672 49.5%,#348575 53.5%,#368770 57.5%,#3a8d65 61.5%,#429650 66.5%,#499b47 68.5%,#71a550 73.5%,#77a652 74.5%,#80a853 76.5%,#8aab55 79.5%,#9baf59 89.5%,#a4b25a 92.5%,#acb45c 94.5%,#b7b65e 96.5%,#bdab62 99.5%)"></i><i style="background:linear-gradient(90deg,#f4e4e3 0.5%,#edd5d0 6.5%,#ebd1ca 7.5%,#eacfc7 8.5%,#dfbca9 13.5%,#d5b093 16.5%,#d0ad89 17.5%,#cdaa82 18.5%,#c4a46e 20.5%,#c0a465 21.5%,#b8b45f 25.5%,#b3b65d 26.5%,#75a652 33.5%,#549e49 36.5%,#4b9b47 37.5%,#44994b 38.5%,#3b8e63 43.5%,#388a6a 45.5%,#358674 49.5%,#348476 53.5%,#358771 57.5%,#3b8e63 62.5%,#44984d 67.5%,#479a48 68.5%,#569e49 70.5%,#6fa450 73.5%,#75a652 74.5%,#7ea853 76.5%,#88aa55 79.5%,#99af58 89.5%,#abb45c 94.5%,#b7b75e 96.5%,#bcac62 99.5%)"></i><i style="background:linear-gradient(90deg,#f4e3e2 0.5%,#edd4cf 6.5%,#ebd0c9 7.5%,#e9cec6 8.5%,#debba8 13.5%,#d4b092 16.5%,#c8a677 19.5%,#c3a46c 20.5%,#c0a565 21.5%,#b7b55f 25.5%,#b1b55d 26.5%,#86aa55 31.5%,#73a551 33.5%,#519d49 36.5%,#4a9b48 37.5%,#44984d 38.5%,#3a8d65 43.5%,#38896c 45.5%,#348575 49.5%,#338478 53.5%,#358673 57.5%,#3b8d64 62.5%,#43974e 67.5%,#469a49 68.5%,#4d9c48 69.5%,#73a551 74.5%,#80a854 77.5%,#89ab55 80.5%,#98ae58 89.5%,#a1b15a 92.5%,#aab35c 94.5%,#b6b65e 96.5%,#bcac62 99.5%)"></i><i style="background:linear-gradient(90deg,#f4e2e1 0.5%,#ecd3ce 6.5%,#eacfc8 7.5%,#e9cdc5 8.5%,#e0bead 12.5%,#d3af90 16.5%,#c7a675 19.5%,#c2a46a 20.5%,#bfa664 21.5%,#b9b260 24.5%,#b6b55e 25.5%,#b0b55d 26.5%,#7ba753 32.5%,#4e9c48 36.5%,#489a4a 37.5%,#43974f 38.5%,#3b8e63 42.5%,#37886e 45.5%,#338477 49.5%,#328379 53.5%,#348574 57.5%,#3a8c65 62.5%,#43974f 67.5%,#45994a 68.5%,#4b9b48 69.5%,#539d48 70.5%,#71a550 74.5%,#7fa853 77.5%,#87aa55 80.5%,#96ae58 89.5%,#a0b15a 92.5%,#a9b35b 94.5%,#b5b65e 96.5%,#b8b55f 97.5%,#bcad62 99.5%)"></i><i style="background:linear-gradient(90deg,#f3e2e1 0.5%,#f0dbd8 3.5%,#e8ccc4 8.5%,#ddb9a5 13.5%,#d2af8f 16.5%,#ceab85 17.5%,#cba97d 18.5%,#c1a468 20.5%,#bfa664 21.5%,#b9b35f 24.5%,#b5b55e 25.5%,#aeb45c 26.5%,#79a652 32.5%,#4c9c48 36.5%,#46994b 37.5%,#429650 38.5%,#3a8d64 42.5%,#36886f 45.5%,#338378 49.5%,#32827b 53.5%,#348576 57.5%,#3a8c66 62.5%,#429650 67.5%,#499b48 69.5%,#519d48 70.5%,#6ea450 74.5%,#7ea853 77.5%,#86aa55 80.5%,#95ae57 89.5%,#9fb059 92.5%,#b4b65d 96.5%,#b8b55f 97.5%,#bcad62 99.5%)"></i><i style="background:linear-gradient(90deg,#f3e1e0 0.5%,#f0dad7 3.5%,#eed6d1 4.5%,#ebd1cb 6.5%,#e9cec5 7.5%,#e8ccc2 8.5%,#dcb8a3 13.5%,#d2ae8d 16.5%,#c5a572 19.5%,#c1a466 20.5%,#bfa764 21.5%,#b8b45f 24.5%,#b4b65e 25.5%,#a4b25a 27.5%,#77a652 32.5%,#549e49 35.5%,#499b47 36.5%,#44984d 37.5%,#3a8c66 42.5%,#368771 45.5%,#338379 48.5%,#31827c 51.5%,#31827c 53.5%,#338478 57.5%,#398b68 62.5%,#44984d 68.5%,#469a48 69.5%,#4f9c47 70.5%,#6ca44f 74.5%,#7ca753 77.5%,#85a954 80.5%,#8dac56 85.5%,#8dac56 86.5%,#93ad57 89.5%,#9db059 92.5%,#b3b65d 96.5%,#b8b65e 97.5%,#bbae61 99.5%)"></i><i style="background:linear-gradient(90deg,#f3e1e0 0.5%,#efd9d6 3.5%,#edd5d0 4.5%,#ebd1ca 6.5%,#e9cdc4 7.5%,#e8cbc1 8.5%,#debca9 12.5%,#d8b39a 14.5%,#d1ae8b 16.5%,#c5a570 19.5%,#c0a465 20.5%,#b8b45f 24.5%,#b3b65d 25.5%,#88aa55 30.5%,#75a551 32.5%,#519d48 35.5%,#479a48 36.5%,#43974e 37.5%,#398b68 42.5%,#358673 45.5%,#32827a 48.5%,#31807d 51.5%,#31807d 53.5%,#338379 57.5%,#398b69 62.5%,#459a49 69.5%,#4d9c47 70.5%,#5da04b 72.5%,#71a550 75.5%,#7ba753 77.5%,#83a954 80.5%,#8bab56 85.5%,#8bab56 86.5%,#92ad57 89.5%,#9cb059 92.5%,#abb45c 95.5%,#b7b65e 97.5%,#bbae61 99.5%)"></i><i style="background:linear-gradient(90deg,#f3e0df 0.5%,#ead0c9 6.5%,#e8ccc3 7.5%,#e7cac0 8.5%,#e3c2b4 10.5%,#debba7 12.5%,#d7b399 14.5%,#d0ad8a 16.5%,#c4a46e 19.5%,#c0a565 20.5%,#b7b55f 24.5%,#b2b55d 25.5%,#7ca753 31.5%,#67a34e 33.5%,#4e9c48 35.5%,#46994a 36.5%,#429750 37.5%,#388a6a 42.5%,#348575 45.5%,#31817b 48.5%,#307f7e 53.5%,#32837a 57.5%,#388a6a 62.5%,#45994a 69.5%,#4b9b48 70.5%,#5ba04b 72.5%,#6fa450 75.5%,#79a752 77.5%,#82a954 80.5%,#8aab55 85.5%,#8aab55 86.5%,#91ad57 89.5%,#9baf59 92.5%,#aab35c 95.5%,#b6b65e 97.5%,#bbaf61 99.5%)"></i><i style="background:linear-gradient(90deg,#f2e0de 0.5%,#eacfc8 6.5%,#e8cbc2 7.5%,#e7c9bf 8.5%,#e2c1b3 10.5%,#d6b297 14.5%,#d0ad88 16.5%,#c3a46c 19.5%,#c0a565 20.5%,#b7b55e 24.5%,#b0b55d 25.5%,#7aa752 31.5%,#64a24d 33.5%,#579e49 34.5%,#4c9c48 35.5%,#45994b 36.5%,#38896c 42.5%,#338477 45.5%,#32827c 47.5%,#2f7e7d 50.5%,#2f7d7e 53.5%,#307f7e 55.5%,#338379 58.5%,#38896c 62.5%,#44994b 69.5%,#499b48 70.5%,#509d48 71.5%,#599f4a 72.5%,#6da44f 75.5%,#78a652 77.5%,#80a854 80.5%,#89ab55 85.5%,#89ab55 86.5%,#8fac56 89.5%,#99af58 92.5%,#a9b35b 95.5%,#b5b65e 97.5%,#bbaf61 99.5%)"></i><i style="background:linear-gradient(90deg,#f2dfde 0.5%,#f0dbd8 1.5%,#eed7d2 3.5%,#e9cec6 6.5%,#e7cac0 7.5%,#e6c8bd 8.5%,#e2c1b1 10.5%,#d6b196 14.5%,#cfac87 16.5%,#c2a36a 19.5%,#bfa664 20.5%,#b6b65e 24.5%,#a7b35b 26.5%,#79a652 31.5%,#549e49 34.5%,#499b48 35.5%,#419553 37.5%,#37896d 42.5%,#338378 45.5%,#31817d 47.5%,#2e7c7e 50.5%,#2e7c7e 53.5%,#30807e 56.5%,#32837a 58.5%,#37896d 62.5%,#44984c 69.5%,#489b48 70.5%,#4e9c47 71.5%,#579f4a 72.5%,#6ba44f 75.5%,#7aa752 78.5%,#7fa853 80.5%,#87aa55 85.5%,#87aa55 86.5%,#8eac56 89.5%,#98af58 92.5%,#a8b35b 95.5%,#b5b65e 97.5%,#bbaf61 99.5%)"></i><i style="background:linear-gradient(90deg,#f2dfdd 0.5%,#f0dad7 1.5%,#ecd3ce 4.5%,#eacfc8 5.5%,#e9cdc5 6.5%,#e7c9bf 7.5%,#e6c8bc 8.5%,#e1c0b0 10.5%,#debba8 11.5%,#d8b49b 13.5%,#ceab85 16.5%,#c1a368 19.5%,#bfa664 20.5%,#b9b260 23.5%,#b6b65e 24.5%,#a5b25b 26.5%,#77a652 31.5%,#519d48 34.5%,#469a49 35.5%,#43974e 36.5%,#36886f 42.5%,#32837a 45.5%,#30807f 47.5%,#2e7a7f 50.5%,#2e7a7f 53.5%,#307f7f 56.5%,#338379 59.5%,#37886e 62.5%,#43984d 69.5%,#469a48 70.5%,#4c9c47 71.5%,#559e49 72.5%,#69a34e 75.5%,#79a652 78.5%,#7ea853 80.5%,#86aa55 85.5%,#86aa55 86.5%,#8dac56 89.5%,#96ae58 92.5%,#a7b35b 95.5%,#b4b65d 97.5%,#bab061 99.5%)"></i><i style="background:linear-gradient(90deg,#f1dedc 0.5%,#efdad6 1.5%,#ecd2cd 4.5%,#eacfc7 5.5%,#e9cdc4 6.5%,#e6c9be 7.5%,#e5c6ba 8.5%,#e1bfae 10.5%,#ddbaa6 11.5%,#d8b39a 13.5%,#ceab84 16.5%,#c5a570 18.5%,#c0a367 19.5%,#bfa764 20.5%,#b9b35f 23.5%,#b4b65e 24.5%,#92ad57 28.5%,#75a551 31.5%,#4f9c48 34.5%,#45994a 35.5%,#398c67 40.5%,#338378 44.5%,#2f7e7f 47.5%,#2d787f 50.5%,#2d787f 53.5%,#2f7d7f 56.5%,#32827a 59.5%,#36886f 62.5%,#459a49 70.5%,#4b9b47 71.5%,#539e49 72.5%,#67a34e 75.5%,#77a652 78.5%,#7ca753 80.5%,#85aa54 86.5%,#8bab56 89.5%,#95ae58 92.5%,#9aaf59 93.5%,#b3b65d 97.5%,#b8b55f 98.5%,#bab060 99.5%)"></i><i style="background:linear-gradient(90deg,#f1dddb 0.5%,#e8ccc3 6.5%,#e0bead 10.5%,#d4b092 14.5%,#cdaa82 16.5%,#c4a46f 18.5%,#c0a466 19.5%,#b8b45f 23.5%,#b3b65d 24.5%,#90ac57 28.5%,#72a551 31.5%,#4c9c48 34.5%,#44994b 35.5%,#398b69 40.5%,#32837a 44.5%,#2e7c7f 47.5%,#2c767e 50.5%,#2c767e 53.5%,#2e7c7f 56.5%,#32827c 59.5%,#38896c 63.5%,#45994a 70.5%,#4a9b47 71.5%,#66a24d 75.5%,#75a651 78.5%,#7ba753 80.5%,#84a954 86.5%,#8aab56 89.5%,#94ae57 92.5%,#99af58 93.5%,#b3b65d 97.5%,#b8b55f 98.5%,#bab160 99.5%)"></i><i style="background:linear-gradient(90deg,#f1dcd9 0.5%,#e8cbc1 6.5%,#dfbdab 10.5%,#d3b091 14.5%,#ccaa81 16.5%,#c3a46d 18.5%,#c0a466 19.5%,#b8b45f 23.5%,#b2b55d 24.5%,#8eac56 28.5%,#70a550 31.5%,#569e49 33.5%,#4a9b48 34.5%,#44984d 35.5%,#388a6a 40.5%,#31827c 44.5%,#2d7a7f 47.5%,#2b747e 50.5%,#2b747e 53.5%,#2d7a7f 56.5%,#31817d 59.5%,#37896d 63.5%,#44994b 70.5%,#489b48 71.5%,#509d48 72.5%,#64a24d 75.5%,#73a551 78.5%,#7ba753 81.5%,#87aa55 88.5%,#93ad57 92.5%,#a4b25a 95.5%,#b2b55d 97.5%,#b8b65e 98.5%,#bab160 99.5%)"></i><i style="background:linear-gradient(90deg,#f0dbd8 0.5%,#eed6d1 2.5%,#ebd0c9 4.5%,#e8ccc3 5.5%,#e7cac0 6.5%,#dcb9a3 11.5%,#d3af90 14.5%,#cba97f 16.5%,#c2a46c 18.5%,#c0a565 19.5%,#b8b55f 23.5%,#a8b35b 25.5%,#82a954 29.5%,#6ea44f 31.5%,#539e49 33.5%,#489b48 34.5%,#43974e 35.5%,#3a8c66 39.5%,#31817e 44.5%,#2c777f 47.5%,#2a727e 50.5%,#2a727e 53.5%,#2c767e 55.5%,#31817e 59.5%,#37886e 63.5%,#44984c 70.5%,#479a48 71.5%,#4e9c47 72.5%,#68a34e 76.5%,#71a550 78.5%,#7aa752 81.5%,#85aa55 88.5%,#92ad57 92.5%,#9cb059 94.5%,#b7b65e 98.5%,#b9b260 99.5%)"></i><i style="background:linear-gradient(90deg,#f0dad7 0.5%,#edd5d1 2.5%,#e8cbc2 5.5%,#e7c9bf 6.5%,#e0bead 9.5%,#dcb8a2 11.5%,#d3af8f 14.5%,#cba97e 16.5%,#c2a46a 18.5%,#bfa664 19.5%,#b7b65e 23.5%,#95ae57 27.5%,#81a854 29.5%,#6ba44f 31.5%,#519d48 33.5%,#459a49 34.5%,#429750 35.5%,#398b68 39.5%,#30807f 44.5%,#2b757e 47.5%,#29707e 50.5%,#29707e 53.5%,#2b747e 55.5%,#30807f 59.5%,#368870 63.5%,#459a48 71.5%,#4c9c47 72.5%,#67a34e 76.5%,#74a551 79.5%,#84a954 88.5%,#91ad57 92.5%,#9baf59 94.5%,#b7b75e 98.5%,#b9b260 99.5%)"></i><i style="background:linear-gradient(90deg,#efd9d6 0.5%,#edd4d0 2.5%,#e6c8be 6.5%,#dbb7a1 11.5%,#d2ae8d 14.5%,#c6a572 17.5%,#c1a469 18.5%,#bfa664 19.5%,#b6b65e 23.5%,#a5b25b 25.5%,#7fa853 29.5%,#69a34e 31.5%,#4e9c48 33.5%,#45994a 34.5%,#388a6a 39.5%,#338378 42.5%,#2f7e7f 44.5%,#2b737e 47.5%,#296e7e 50.5%,#296f7e 53.5%,#2a727e 55.5%,#2f7f7f 59.5%,#368771 63.5%,#459949 71.5%,#4b9b47 72.5%,#65a24d 76.5%,#72a551 79.5%,#83a954 88.5%,#90ad57 92.5%,#9aaf59 94.5%,#b6b75e 98.5%,#b9b360 99.5%)"></i><i style="background:linear-gradient(90deg,#efd9d6 0.5%,#ecd4ce 2.5%,#e6c8bc 6.5%,#dab69f 11.5%,#d1ae8c 14.5%,#c5a571 17.5%,#c1a468 18.5%,#bfa764 19.5%,#b5b65e 23.5%,#7ea853 29.5%,#67a24e 31.5%,#4c9c48 33.5%,#44994b 34.5%,#388a6b 39.5%,#32837a 42.5%,#2e7c7f 44.5%,#2a717e 47.5%,#286c7d 50.5%,#286d7d 53.5%,#29707e 55.5%,#2f7d7f 59.5%,#31807d 60.5%,#358772 63.5%,#44994a 71.5%,#499b47 72.5%,#63a24d 76.5%,#70a550 79.5%,#76a651 81.5%,#82a954 88.5%,#8fac56 92.5%,#9aaf58 94.5%,#b6b75e 98.5%,#b9b35f 99.5%)"></i><i style="background:linear-gradient(90deg,#efd8d5 0.5%,#e5c7bb 6.5%,#dcb9a4 10.5%,#d0ad8a 14.5%,#c4a46f 17.5%,#c1a467 18.5%,#bea864 19.5%,#b8b45f 22.5%,#b4b65e 23.5%,#7da753 29.5%,#579f4a 32.5%,#4a9b48 33.5%,#44984d 34.5%,#37896d 39.5%,#32827b 42.5%,#2e7a7f 44.5%,#296f7e 47.5%,#276a7d 50.5%,#276a7d 52.5%,#296f7e 55.5%,#2e7c7f 59.5%,#30807e 60.5%,#358673 63.5%,#44994b 71.5%,#489b48 72.5%,#4f9c47 73.5%,#5ca04b 75.5%,#6ba44f 78.5%,#74a551 81.5%,#81a854 88.5%,#8eac56 92.5%,#99af58 94.5%,#b5b65e 98.5%,#b9b45f 99.5%)"></i><i style="background:linear-gradient(90deg,#efd8d4 0.5%,#edd4cf 1.5%,#eacfc8 3.5%,#e7cabf 5.5%,#dcb9a3 10.5%,#d0ad89 14.5%,#c3a46e 17.5%,#c0a466 18.5%,#b8b45f 22.5%,#b3b65d 23.5%,#7ba753 29.5%,#559e49 32.5%,#479a48 33.5%,#43974f 34.5%,#37886e 39.5%,#31817d 42.5%,#2d787f 44.5%,#286d7d 47.5%,#26687d 50.5%,#26687d 52.5%,#286d7d 55.5%,#2c767f 58.5%,#307f7f 60.5%,#358674 63.5%,#44984d 71.5%,#469a48 72.5%,#4d9c47 73.5%,#5a9f4a 75.5%,#6aa34f 78.5%,#73a551 81.5%,#80a853 88.5%,#85aa54 90.5%,#8dac56 92.5%,#98af58 94.5%,#b4b65e 98.5%,#b8b45f 99.5%)"></i><i style="background:linear-gradient(90deg,#eed7d4 0.5%,#ecd3ce 1.5%,#eacfc8 3.5%,#e8cbc2 4.5%,#e7c9bf 5.5%,#e0bdad 8.5%,#dbb8a2 10.5%,#d8b49b 11.5%,#d6b196 12.5%,#cfac87 14.5%,#c3a46c 17.5%,#c0a565 18.5%,#b8b55f 22.5%,#b2b65d 23.5%,#7aa752 29.5%,#529d48 32.5%,#459a49 33.5%,#3d905d 36.5%,#368770 39.5%,#30807e 42.5%,#296e7e 46.5%,#25677d 50.5%,#25677d 52.5%,#276b7d 55.5%,#2b757e 58.5%,#2f7e7f 60.5%,#31817d 61.5%,#459a49 72.5%,#4c9c47 73.5%,#599f4a 75.5%,#69a34e 78.5%,#6fa450 80.5%,#84a954 90.5%,#8cab56 92.5%,#98af58 94.5%,#abb45c 97.5%,#b4b65d 98.5%,#b8b45f 99.5%)"></i><i style="background:linear-gradient(90deg,#eed7d2 0.5%,#ecd3cd 1.5%,#e9cec6 3.5%,#e7cac0 4.5%,#e6c8bd 5.5%,#dbb7a1 10.5%,#d5b194 12.5%,#ceac86 14.5%,#c2a46b 17.5%,#bfa664 18.5%,#b7b55e 22.5%,#b1b55d 23.5%,#78a652 29.5%,#509d48 32.5%,#45994a 33.5%,#3d8f5f 36.5%,#368771 39.5%,#307f7e 42.5%,#286c7d 46.5%,#25667d 49.5%,#25657c 52.5%,#276a7d 55.5%,#2b737e 58.5%,#2f7d7f 60.5%,#30807e 61.5%,#348575 63.5%,#459a49 72.5%,#4a9b47 73.5%,#63a24d 77.5%,#6ea450 80.5%,#7ea853 88.5%,#83a954 90.5%,#8bab56 92.5%,#a4b25a 96.5%,#b3b65d 98.5%,#b8b55f 99.5%)"></i><i style="background:linear-gradient(90deg,#edd6d1 0.5%,#e9cdc5 3.5%,#e7c9bf 4.5%,#e6c8bc 5.5%,#dab69f 10.5%,#d4b093 12.5%,#ceab84 14.5%,#c2a469 17.5%,#bfa664 18.5%,#b6b65e 22.5%,#afb55d 23.5%,#9db059 25.5%,#75a651 29.5%,#4e9c48 32.5%,#44994b 33.5%,#37896d 38.5%,#31817c 41.5%,#2f7d7f 42.5%,#2a727e 44.5%,#276a7d 46.5%,#24647c 49.5%,#24637c 52.5%,#26687d 55.5%,#2a727e 58.5%,#307f7e 61.5%,#348476 63.5%,#45994a 72.5%,#499b47 73.5%,#61a14c 77.5%,#6da44f 80.5%,#7da753 88.5%,#82a954 90.5%,#8bab56 92.5%,#96ae58 94.5%,#b2b65d 98.5%,#b8b55f 99.5%)"></i><i style="background:linear-gradient(90deg,#edd5d0 0.5%,#e9cdc4 3.5%,#e6c9be 4.5%,#e5c7bb 5.5%,#dcb9a4 9.5%,#d4b091 12.5%,#cdab83 14.5%,#c9a779 15.5%,#c5a571 16.5%,#c1a468 17.5%,#bfa764 18.5%,#b9b35f 21.5%,#b5b65e 22.5%,#9cb059 25.5%,#7ea853 28.5%,#73a551 29.5%,#4b9c48 32.5%,#44984c 33.5%,#37886e 38.5%,#30807d 41.5%,#29707e 44.5%,#26687d 46.5%,#23627c 49.5%,#23617c 52.5%,#25667d 55.5%,#286d7d 57.5%,#2f7e7f 61.5%,#338477 63.5%,#44994b 72.5%,#489b48 73.5%,#4e9c47 74.5%,#60a14c 77.5%,#6ba44f 80.5%,#7ca753 88.5%,#86aa55 91.5%,#94ae57 94.5%,#a2b15a 96.5%,#b2b55d 98.5%,#b8b55f 99.5%)"></i><i style="background:linear-gradient(90deg,#edd4cf 0.5%,#e8ccc3 3.5%,#e6c8bd 4.5%,#e5c6ba 5.5%,#dcb8a3 9.5%,#d3af90 12.5%,#ccaa81 14.5%,#c8a777 15.5%,#c4a570 16.5%,#c1a466 17.5%,#b8b45f 21.5%,#b4b65e 22.5%,#9aaf59 25.5%,#7da753 28.5%,#71a550 29.5%,#499b47 32.5%,#43974e 33.5%,#388a6a 37.5%,#32827b 40.5%,#307f7f 41.5%,#2b737e 43.5%,#25677d 46.5%,#23607c 49.5%,#225f7c 52.5%,#24657c 55.5%,#276b7d 57.5%,#2f7d7f 61.5%,#31817c 62.5%,#44984c 72.5%,#469a48 73.5%,#4d9c47 74.5%,#5fa04c 77.5%,#6aa34e 80.5%,#7ba752 88.5%,#85a954 91.5%,#93ad57 94.5%,#a1b15a 96.5%,#b8b65e 99.5%)"></i><i style="background:linear-gradient(90deg,#ecd3ce 0.5%,#e8cbc1 3.5%,#e5c7bb 4.5%,#e4c5b8 5.5%,#dbb8a2 9.5%,#d6b196 11.5%,#cca980 14.5%,#c7a676 15.5%,#c4a46e 16.5%,#c0a465 17.5%,#b8b45f 21.5%,#b3b65d 22.5%,#99af58 25.5%,#7ba753 28.5%,#549e49 31.5%,#479a48 32.5%,#43974f 33.5%,#358771 38.5%,#31817c 40.5%,#2f7e7f 41.5%,#286d7d 44.5%,#24657c 46.5%,#225e7c 49.5%,#225e7c 52.5%,#24637c 55.5%,#26697d 57.5%,#2f7d7f 61.5%,#31817d 62.5%,#459a49 73.5%,#4b9c47 74.5%,#5da04b 77.5%,#60a14c 78.5%,#68a34e 80.5%,#7aa752 88.5%,#84a954 91.5%,#93ad57 94.5%,#a0b15a 96.5%,#b7b65e 99.5%)"></i><i style="background:linear-gradient(90deg,#ecd2cd 0.5%,#e7cac0 3.5%,#e5c6ba 4.5%,#e4c4b7 5.5%,#dbb7a0 9.5%,#d5b194 11.5%,#cba97e 14.5%,#c6a674 15.5%,#c3a46d 16.5%,#c0a565 17.5%,#b8b55f 21.5%,#b2b65d 22.5%,#aab35b 23.5%,#7aa752 28.5%,#529d48 31.5%,#469a49 32.5%,#429650 33.5%,#37896c 37.5%,#31807d 40.5%,#2e7c7f 41.5%,#276b7d 44.5%,#24637c 46.5%,#215c7c 49.5%,#215c7c 52.5%,#23627c 55.5%,#26687d 57.5%,#2e7c7f 61.5%,#30807e 62.5%,#45994a 73.5%,#4a9b47 74.5%,#5ca04b 77.5%,#67a34e 80.5%,#79a652 88.5%,#83a954 91.5%,#92ad57 94.5%,#9fb15a 96.5%,#b7b65e 99.5%)"></i><i style="background:linear-gradient(90deg,#ecd2cc 0.5%,#e4c5b9 4.5%,#e3c3b6 5.5%,#ddb9a5 8.5%,#d4b092 11.5%,#caa87c 14.5%,#c6a573 15.5%,#c2a46b 16.5%,#bfa664 17.5%,#b8b65f 21.5%,#a8b35b 23.5%,#82a954 27.5%,#78a652 28.5%,#4f9d48 31.5%,#45994a 32.5%,#429652 33.5%,#37886e 37.5%,#307f7e 40.5%,#2d7a7f 41.5%,#26697d 44.5%,#23617c 46.5%,#205a7b 49.5%,#205a7b 52.5%,#23607c 55.5%,#25677d 57.5%,#307f7e 62.5%,#32827b 63.5%,#43974e 72.5%,#45994a 73.5%,#499b48 74.5%,#5a9f4a 77.5%,#66a24d 80.5%,#75a651 87.5%,#82a954 91.5%,#91ad57 94.5%,#98af58 95.5%,#b7b65e 99.5%)"></i><i style="background:linear-gradient(90deg,#ebd2cc 0.5%,#e4c5b8 4.5%,#e3c3b5 5.5%,#dcb9a4 8.5%,#d4b091 11.5%,#c9a87b 14.5%,#c5a571 15.5%,#c2a36a 16.5%,#bfa664 17.5%,#b7b65e 21.5%,#a7b35b 23.5%,#81a854 27.5%,#76a652 28.5%,#4d9c47 31.5%,#45994c 32.5%,#419553 33.5%,#36886f 37.5%,#32827b 39.5%,#307e7e 40.5%,#2a727e 42.5%,#24637c 45.5%,#215c7c 47.5%,#20587b 49.5%,#20587b 52.5%,#215c7c 54.5%,#25667d 57.5%,#2f7e7f 62.5%,#32827c 63.5%,#43974f 72.5%,#479a48 74.5%,#4e9c47 75.5%,#599f4a 77.5%,#64a24d 80.5%,#74a551 87.5%,#7da753 90.5%,#90ad57 94.5%,#a6b25b 97.5%,#b7b75e 99.5%)"></i><i style="background:linear-gradient(90deg,#ebd1cb 0.5%,#e8cbc2 2.5%,#e4c4b6 4.5%,#e2c2b3 5.5%,#d6b297 10.5%,#c9a779 14.5%,#c4a570 15.5%,#c1a368 16.5%,#bfa764 17.5%,#b7b75e 21.5%,#93ad57 25.5%,#80a853 27.5%,#75a551 28.5%,#65a24d 29.5%,#4b9b46 31.5%,#44984d 32.5%,#3b8e63 35.5%,#31827c 39.5%,#2f7d7f 40.5%,#29707e 42.5%,#23617c 45.5%,#205a7b 47.5%,#1f567b 49.5%,#1f567b 52.5%,#205a7b 54.5%,#24647c 57.5%,#2f7d7f 62.5%,#31817d 63.5%,#43974f 72.5%,#469a48 74.5%,#4d9c47 75.5%,#589f4a 77.5%,#63a24d 80.5%,#72a551 87.5%,#7ca753 90.5%,#90ac57 94.5%,#a5b25b 97.5%,#b7b75e 99.5%)"></i><i style="background:linear-gradient(90deg,#ebd1ca 0.5%,#e3c3b5 4.5%,#e2c1b2 5.5%,#d6b195 10.5%,#c8a778 14.5%,#c4a46e 15.5%,#c0a367 16.5%,#bea864 17.5%,#b6b75e 21.5%,#7ea853 27.5%,#73a551 28.5%,#63a24d 29.5%,#499b47 31.5%,#43974e 32.5%,#3b8d64 35.5%,#31817d 39.5%,#2e7c7f 40.5%,#286e7e 42.5%,#225f7c 45.5%,#20587b 47.5%,#1e547b 49.5%,#1e547b 52.5%,#20587b 54.5%,#24637c 57.5%,#2e7c7f 62.5%,#31817d 63.5%,#409455 71.5%,#459a49 74.5%,#4b9c47 75.5%,#529d48 76.5%,#5b9f4b 78.5%,#61a14c 80.5%,#71a550 87.5%,#7ba753 90.5%,#8fac56 94.5%,#a5b25b 97.5%,#b7b75e 99.5%)"></i><i style="background:linear-gradient(90deg,#ebd0ca 0.5%,#e1c0b1 5.5%,#d5b194 10.5%,#c7a676 14.5%,#c3a46d 15.5%,#c0a466 16.5%,#bea863 17.5%,#b9b45f 20.5%,#b5b65e 21.5%,#7da753 27.5%,#549e49 30.5%,#489a48 31.5%,#43974f 32.5%,#358673 37.5%,#307f7e 39.5%,#2d7a7f 40.5%,#286c7d 42.5%,#225d7c 45.5%,#1f567b 47.5%,#1e527b 49.5%,#1e527b 52.5%,#1f567b 54.5%,#23617c 57.5%,#2e7b7f 62.5%,#30807e 63.5%,#409456 71.5%,#459a49 74.5%,#4a9b47 75.5%,#599f4a 78.5%,#63a24d 81.5%,#70a550 87.5%,#7ba752 90.5%,#8fac56 94.5%,#a4b25a 97.5%,#b6b75e 99.5%)"></i><i style="background:linear-gradient(90deg,#ebd0c9 0.5%,#ddb9a5 7.5%,#d1ae8c 11.5%,#c7a675 14.5%,#c2a46b 15.5%,#c0a566 16.5%,#bea963 17.5%,#b8b45f 20.5%,#b4b65d 21.5%,#7ca753 27.5%,#529d48 30.5%,#479a49 31.5%,#429651 32.5%,#348574 37.5%,#2f7e7e 39.5%,#276a7d 42.5%,#215b7c 45.5%,#1e547b 47.5%,#1d507a 49.5%,#1d507a 52.5%,#1f557b 54.5%,#23607c 57.5%,#30807e 63.5%,#409456 71.5%,#45994a 74.5%,#4a9b47 75.5%,#589f4a 78.5%,#62a14c 81.5%,#6fa450 87.5%,#7aa752 90.5%,#8fac56 94.5%,#a4b25a 97.5%,#b5b65e 99.5%)"></i><i style="background:linear-gradient(90deg,#ead0c9 0.5%,#e4c4b7 3.5%,#dcb9a4 7.5%,#d1ae8b 11.5%,#c6a573 14.5%,#c2a369 15.5%,#bfa665 16.5%,#b8b55f 20.5%,#b2b65d 21.5%,#aab35b 22.5%,#7aa752 27.5%,#519d48 30.5%,#46994a 31.5%,#429652 32.5%,#348575 37.5%,#32827c 38.5%,#2f7d7f 39.5%,#26697d 42.5%,#20597b 45.5%,#1e527b 47.5%,#1c4e7a 49.5%,#1c4e7a 52.5%,#1e537b 54.5%,#225e7c 57.5%,#307f7f 63.5%,#409357 71.5%,#45994a 74.5%,#499b47 75.5%,#579e49 78.5%,#61a14c 81.5%,#6ea450 87.5%,#79a652 90.5%,#8eac56 94.5%,#9cb059 96.5%,#b5b65e 99.5%)"></i><i style="background:linear-gradient(90deg,#eacfc8 0.5%,#e3c4b6 3.5%,#e2c2b3 4.5%,#dcb8a3 7.5%,#d8b49b 8.5%,#d0ad8a 11.5%,#c5a572 14.5%,#c1a368 15.5%,#bfa664 16.5%,#b8b65e 20.5%,#a8b35b 22.5%,#79a652 27.5%,#69a34e 28.5%,#4f9c47 30.5%,#45994b 31.5%,#398b69 35.5%,#31817d 38.5%,#2e7c7f 39.5%,#26677d 42.5%,#20577b 45.5%,#1d507a 47.5%,#1c4c7a 49.5%,#1c4c7a 52.5%,#1c4e7a 53.5%,#215d7c 57.5%,#2f7f7f 63.5%,#31827c 64.5%,#409357 71.5%,#44994b 74.5%,#489b47 75.5%,#4c9c47 76.5%,#5a9f4a 79.5%,#60a14c 81.5%,#6ea44f 87.5%,#79a652 90.5%,#8eac56 94.5%,#9baf59 96.5%,#b4b65d 99.5%)"></i><i style="background:linear-gradient(90deg,#eacfc7 0.5%,#e3c3b5 3.5%,#e2c1b2 4.5%,#dbb7a1 7.5%,#d8b39a 8.5%,#d0ad89 11.5%,#c8a778 13.5%,#c0a367 15.5%,#bfa764 16.5%,#b7b65e 20.5%,#b0b55d 21.5%,#95ae58 24.5%,#77a652 27.5%,#67a34e 28.5%,#4d9c47 30.5%,#44984c 31.5%,#388a6a 35.5%,#30807d 38.5%,#2d7a7f 39.5%,#25657d 42.5%,#1f557b 45.5%,#1c4e7a 47.5%,#1b4a7a 49.5%,#1b4a7a 52.5%,#1c4c7a 53.5%,#215c7c 57.5%,#2a717e 61.5%,#2f7e7f 63.5%,#31827c 64.5%,#3f9358 71.5%,#44994b 74.5%,#4b9b47 76.5%,#599f4a 79.5%,#5fa14c 81.5%,#6da44f 87.5%,#78a652 90.5%,#87aa55 93.5%,#94ae57 95.5%,#b3b65d 99.5%)"></i><i style="background:linear-gradient(90deg,#e9cec6 0.5%,#d7b399 8.5%,#cfac87 11.5%,#c4a46f 14.5%,#c0a466 15.5%,#b6b65e 20.5%,#94ad57 24.5%,#75a651 27.5%,#66a24d 28.5%,#4b9b48 30.5%,#43984d 31.5%,#388a6b 35.5%,#328379 37.5%,#307f7e 38.5%,#2d787f 39.5%,#24647c 42.5%,#1e537b 45.5%,#1b4a7a 48.5%,#1a487a 50.5%,#1b4a7a 53.5%,#215a7b 57.5%,#2f7d7f 63.5%,#31817d 64.5%,#3b8e62 69.5%,#3f9259 71.5%,#469a49 75.5%,#4a9b47 76.5%,#589f4a 79.5%,#5ea04b 81.5%,#6ca44f 87.5%,#78a652 90.5%,#86aa55 93.5%,#93ad57 95.5%,#b3b65d 99.5%)"></i><i style="background:linear-gradient(90deg,#e9cdc4 0.5%,#dcb9a4 6.5%,#d1ae8c 10.5%,#cba97e 12.5%,#c3a46d 14.5%,#c0a466 15.5%,#b9b35f 19.5%,#b5b65e 20.5%,#9bb059 23.5%,#7fa853 26.5%,#73a551 27.5%,#569e49 29.5%,#499b48 30.5%,#43974e 31.5%,#32827a 37.5%,#2f7e7e 38.5%,#23627c 42.5%,#1d517b 45.5%,#1a487a 48.5%,#194579 50.5%,#1a497a 53.5%,#20597b 57.5%,#2e7c7f 63.5%,#31817d 64.5%,#338478 65.5%,#3f9259 71.5%,#469a49 75.5%,#499b47 76.5%,#579e49 79.5%,#5da04b 81.5%,#6ba44f 87.5%,#7ba753 91.5%,#85aa55 93.5%,#93ad57 95.5%,#b3b65d 99.5%)"></i><i style="background:linear-gradient(90deg,#e8ccc3 0.5%,#dcb9a3 6.5%,#d1ad8b 10.5%,#caa87d 12.5%,#c2a46c 14.5%,#c0a565 15.5%,#b9b45f 19.5%,#b5b65e 20.5%,#9aaf59 23.5%,#7da753 26.5%,#71a550 27.5%,#559e49 29.5%,#479a48 30.5%,#429750 31.5%,#31827c 37.5%,#2f7d7f 38.5%,#23607c 42.5%,#1d507a 45.5%,#194579 48.5%,#194379 50.5%,#1a477a 53.5%,#20587b 57.5%,#2e7b7f 63.5%,#31817e 64.5%,#3e925a 71.5%,#44984d 74.5%,#45994a 75.5%,#489b47 76.5%,#4d9c47 77.5%,#5ca04b 81.5%,#6aa34e 87.5%,#7ba753 91.5%,#85a954 93.5%,#92ad57 95.5%,#b2b65d 99.5%)"></i><i style="background:linear-gradient(90deg,#e8cbc2 0.5%,#e6c7bc 1.5%,#e4c5b9 2.5%,#dcb8a2 6.5%,#d8b49b 7.5%,#d0ad8a 10.5%,#c6a574 13.5%,#c2a46a 14.5%,#bfa664 15.5%,#b8b45f 19.5%,#b4b65d 20.5%,#99af58 23.5%,#7ca753 26.5%,#70a450 27.5%,#539d48 29.5%,#459a49 30.5%,#31817d 37.5%,#2e7b7f 38.5%,#225e7c 42.5%,#1c4e7a 45.5%,#194379 48.5%,#184179 50.5%,#194579 53.5%,#1d517b 56.5%,#286d7d 61.5%,#30817e 64.5%,#409456 72.5%,#43984d 74.5%,#44994b 75.5%,#489b47 76.5%,#4c9c47 77.5%,#5ca04b 81.5%,#69a34e 87.5%,#7aa752 91.5%,#84a954 93.5%,#91ad57 95.5%,#b2b65d 99.5%)"></i><i style="background:linear-gradient(90deg,#e8cbc1 0.5%,#e5c7bb 1.5%,#e4c5b8 2.5%,#d5b195 8.5%,#c6a572 13.5%,#c1a469 14.5%,#bfa664 15.5%,#b8b55f 19.5%,#b2b65d 20.5%,#aab35c 21.5%,#7aa752 26.5%,#6ea450 27.5%,#519d48 29.5%,#459949 30.5%,#31807e 37.5%,#2d7a7f 38.5%,#215d7c 42.5%,#1d517b 44.5%,#1a487a 46.5%,#184179 48.5%,#173f79 50.5%,#184179 52.5%,#1a487a 54.5%,#1f557b 57.5%,#286c7d 61.5%,#30807f 64.5%,#409356 72.5%,#43974e 74.5%,#479a48 76.5%,#4b9b47 77.5%,#5b9f4b 81.5%,#68a34e 87.5%,#7aa752 91.5%,#84a954 93.5%,#91ad57 95.5%,#b2b55d 99.5%)"></i><i style="background:linear-gradient(90deg,#e7cac1 0.5%,#d5b194 8.5%,#c5a571 13.5%,#c1a468 14.5%,#bfa764 15.5%,#b7b55f 19.5%,#a9b35b 21.5%,#79a652 26.5%,#6ca44f 27.5%,#4f9c47 29.5%,#44994a 30.5%,#388a6a 34.5%,#307f7e 37.5%,#2d797f 38.5%,#215b7c 42.5%,#1d4f7a 44.5%,#1a467a 46.5%,#184079 48.5%,#173e79 50.5%,#184079 52.5%,#1a467a 54.5%,#1e547b 57.5%,#307f7f 64.5%,#409357 72.5%,#43974e 74.5%,#469a48 76.5%,#4a9b47 77.5%,#5a9f4a 81.5%,#68a34e 87.5%,#70a550 89.5%,#83a954 93.5%,#90ad57 95.5%,#b1b55d 99.5%)"></i><i style="background:linear-gradient(90deg,#e7cac0 0.5%,#dfbca9 4.5%,#d5b093 8.5%,#c4a46f 13.5%,#c1a467 14.5%,#bfa764 15.5%,#b6b65e 19.5%,#a7b35b 21.5%,#82a954 25.5%,#6aa34f 27.5%,#4d9c47 29.5%,#44994b 30.5%,#358672 35.5%,#307f7e 37.5%,#205a7b 42.5%,#1c4d7a 44.5%,#194479 46.5%,#173e79 48.5%,#163c79 50.5%,#173e79 52.5%,#194479 54.5%,#1e527b 57.5%,#2f7e7f 64.5%,#368770 67.5%,#3f9357 72.5%,#43974f 74.5%,#469a49 76.5%,#4e9c47 78.5%,#569e49 80.5%,#67a34e 87.5%,#6fa450 89.5%,#83a954 93.5%,#90ad57 95.5%,#b1b55d 99.5%)"></i><i style="background:linear-gradient(90deg,#e7cabf 0.5%,#e0beae 3.5%,#d4b092 8.5%,#c3a46e 13.5%,#c0a466 14.5%,#b6b65e 19.5%,#9eb059 22.5%,#80a854 25.5%,#68a34e 27.5%,#4b9b47 29.5%,#44984d 30.5%,#358673 35.5%,#2f7e7f 37.5%,#20587b 42.5%,#1b4b7a 44.5%,#173f79 47.5%,#163c79 48.5%,#163a78 50.5%,#163c79 52.5%,#184279 54.5%,#1d517a 57.5%,#2f7e7f 64.5%,#32827b 65.5%,#3f9358 72.5%,#43974f 74.5%,#459a49 76.5%,#4d9c47 78.5%,#559e49 80.5%,#5fa04c 84.5%,#6ea450 89.5%,#83a954 93.5%,#90ac57 95.5%,#b1b55d 99.5%)"></i><i style="background:linear-gradient(90deg,#e7c9bf 0.5%,#e0bdad 3.5%,#d9b59d 6.5%,#d4b091 8.5%,#c3a46c 13.5%,#c0a565 14.5%,#b9b35f 18.5%,#b5b65e 19.5%,#9cb059 22.5%,#7fa853 25.5%,#74a551 26.5%,#4a9b46 29.5%,#43984e 30.5%,#348575 35.5%,#32827b 36.5%,#2f7d7f 37.5%,#25657d 40.5%,#1b497a 44.5%,#173d79 47.5%,#153878 49.5%,#163b79 52.5%,#194579 55.5%,#1d4f7a 57.5%,#2f7d7f 64.5%,#31827c 65.5%,#3f9258 72.5%,#44984c 75.5%,#479a47 77.5%,#4c9c47 78.5%,#559e49 80.5%,#5ea04b 84.5%,#62a14c 85.5%,#6da44f 89.5%,#74a551 90.5%,#82a954 93.5%,#8fac56 95.5%,#b0b55d 99.5%)"></i><i style="background:linear-gradient(90deg,#e6c8bd 0.5%,#dfbdab 3.5%,#d3af8f 8.5%,#c2a46b 13.5%,#bfa564 14.5%,#b8b45f 18.5%,#b4b65e 19.5%,#9baf59 22.5%,#7da853 25.5%,#72a551 26.5%,#489b47 29.5%,#43974f 30.5%,#348576 35.5%,#31827c 36.5%,#2e7b7f 37.5%,#24647c 40.5%,#1a477a 44.5%,#163b79 47.5%,#153978 48.5%,#153778 50.5%,#163978 52.5%,#194479 55.5%,#1c4e7a 57.5%,#2e7c7f 64.5%,#31817d 65.5%,#37896d 68.5%,#429650 74.5%,#479a48 77.5%,#4b9c47 78.5%,#549e49 80.5%,#5da04b 84.5%,#6da44f 89.5%,#82a954 93.5%,#8fac56 95.5%,#b0b55d 99.5%)"></i><i style="background:linear-gradient(90deg,#e6c8bc 0.5%,#dfbcaa 3.5%,#dab7a0 5.5%,#d2af8e 8.5%,#c5a570 12.5%,#c2a469 13.5%,#bfa664 14.5%,#b8b55f 18.5%,#b3b65d 19.5%,#9aaf58 22.5%,#7ca753 25.5%,#70a550 26.5%,#549e49 28.5%,#479a48 29.5%,#429750 30.5%,#36886f 34.5%,#31817d 36.5%,#2d7a7f 37.5%,#23627c 40.5%,#194679 44.5%,#153978 47.5%,#153778 48.5%,#143678 50.5%,#153878 52.5%,#184279 55.5%,#1c4d7a 57.5%,#2e7b7f 64.5%,#31817e 65.5%,#3f925a 72.5%,#43984d 75.5%,#469a48 77.5%,#4b9b46 78.5%,#539d48 80.5%,#5da04b 84.5%,#6da44f 89.5%,#82a954 93.5%,#8fac56 95.5%,#b0b55d 99.5%)"></i><i style="background:linear-gradient(90deg,#e5c7bb 0.5%,#e1bfaf 2.5%,#d4b093 7.5%,#cba97f 10.5%,#c4a46f 12.5%,#c1a468 13.5%,#bfa664 14.5%,#b8b55f 18.5%,#b2b65d 19.5%,#aab35c 20.5%,#98af58 22.5%,#7ba752 25.5%,#539d48 28.5%,#469a49 29.5%,#368770 34.5%,#31817e 36.5%,#2d797f 37.5%,#23617c 40.5%,#194479 44.5%,#153778 47.5%,#143578 48.5%,#143578 50.5%,#153778 52.5%,#184179 55.5%,#1b4b7a 57.5%,#2e7b7f 64.5%,#30817e 65.5%,#3e925a 72.5%,#43974e 75.5%,#469a48 77.5%,#4a9b46 78.5%,#569e49 81.5%,#5ca04b 84.5%,#65a24d 87.5%,#6da44f 89.5%,#7ca753 92.5%,#8fac56 95.5%,#b0b55d 99.5%)"></i><i style="background:linear-gradient(90deg,#e5c6ba 0.5%,#e0beae 2.5%,#d4b092 7.5%,#cdab83 9.5%,#cba97e 10.5%,#c3a46d 12.5%,#c1a466 13.5%,#b8b65f 18.5%,#a9b35b 20.5%,#79a652 25.5%,#519d48 28.5%,#45994a 29.5%,#358771 34.5%,#30807f 36.5%,#225f7c 40.5%,#184279 44.5%,#143678 47.5%,#143478 48.5%,#143478 51.5%,#153878 53.5%,#184079 55.5%,#1b4a7a 57.5%,#30807f 65.5%,#37886e 68.5%,#409456 73.5%,#469a48 77.5%,#4a9b46 78.5%,#559e49 81.5%,#65a24d 87.5%,#76a652 91.5%,#96ae58 96.5%,#b0b55d 99.5%)"></i><i style="background:linear-gradient(90deg,#e4c5b8 0.5%,#e0bdac 2.5%,#d3b091 7.5%,#cdaa82 9.5%,#caa97d 10.5%,#c3a46c 12.5%,#c0a465 13.5%,#b7b65e 18.5%,#a8b35b 20.5%,#78a652 25.5%,#509d48 28.5%,#44994b 29.5%,#358672 34.5%,#308080 36.5%,#225e7c 40.5%,#1a477a 43.5%,#163c79 45.5%,#143478 47.5%,#133278 48.5%,#133278 51.5%,#153678 53.5%,#173e79 55.5%,#1b497a 57.5%,#308080 65.5%,#37886f 68.5%,#409456 73.5%,#44994b 76.5%,#459a49 77.5%,#4a9b46 78.5%,#559e49 81.5%,#5ea04b 85.5%,#64a24d 87.5%,#7ca753 92.5%,#96ae58 96.5%,#b0b55d 99.5%)"></i><i style="background:linear-gradient(90deg,#e4c5b8 0.5%,#e0bdac 2.5%,#d3af90 7.5%,#caa87c 10.5%,#c2a46a 12.5%,#c0a565 13.5%,#b6b65e 18.5%,#a6b25b 20.5%,#77a652 25.5%,#4e9c48 28.5%,#44984c 29.5%,#358673 34.5%,#32827a 35.5%,#2f7e7f 36.5%,#215c7c 40.5%,#194579 43.5%,#163b79 45.5%,#133178 48.5%,#133178 51.5%,#143578 53.5%,#173d79 55.5%,#1a487a 57.5%,#307f80 65.5%,#32837a 66.5%,#409357 73.5%,#459a49 77.5%,#499b46 78.5%,#549e49 81.5%,#64a24d 87.5%,#71a550 90.5%,#82a954 93.5%,#96ae58 96.5%,#b0b55d 99.5%)"></i><i style="background:linear-gradient(90deg,#e4c4b7 0.5%,#dab7a0 4.5%,#d3af8f 7.5%,#c9a77a 10.5%,#c2a469 12.5%,#c0a565 13.5%,#b8b45f 17.5%,#b5b65e 18.5%,#a5b25b 20.5%,#80a853 24.5%,#75a651 25.5%,#4c9c48 28.5%,#44984d 29.5%,#32827b 35.5%,#2f7d7f 36.5%,#215b7b 40.5%,#194479 43.5%,#153978 45.5%,#122f78 48.5%,#122f78 51.5%,#143478 53.5%,#163c79 55.5%,#1a477a 57.5%,#2f7e7f 65.5%,#32827b 66.5%,#3e915b 72.5%,#43974f 75.5%,#459a49 77.5%,#499b47 78.5%,#549e49 81.5%,#63a24d 87.5%,#71a550 90.5%,#81a954 93.5%,#96ae58 96.5%,#b0b55d 99.5%)"></i><i style="background:linear-gradient(90deg,#e4c4b7 0.5%,#dab69f 4.5%,#d2ae8e 7.5%,#c5a570 11.5%,#c1a467 12.5%,#bfa664 13.5%,#b8b45f 17.5%,#b4b65e 18.5%,#9baf59 21.5%,#7fa853 24.5%,#74a551 25.5%,#4a9b47 28.5%,#43984e 29.5%,#31827c 35.5%,#2e7c7f 36.5%,#20597b 40.5%,#194379 43.5%,#153778 45.5%,#122e77 48.5%,#112c77 49.5%,#122e77 51.5%,#133278 53.5%,#163b79 55.5%,#215a7b 60.5%,#24637c 61.5%,#2f7e7f 65.5%,#32827b 66.5%,#3e915c 72.5%,#43974f 75.5%,#459a49 77.5%,#489b47 78.5%,#539e49 81.5%,#63a24d 87.5%,#70a550 90.5%,#81a954 93.5%,#96ae58 96.5%,#b0b55d 99.5%)"></i><i style="background:linear-gradient(90deg,#e3c4b6 0.5%,#d9b59e 4.5%,#d2ae8d 7.5%,#c4a46f 11.5%,#c0a466 12.5%,#b8b55f 17.5%,#b3b65d 18.5%,#9aaf58 21.5%,#7ea853 24.5%,#65a24d 26.5%,#489b47 28.5%,#43974e 29.5%,#31817d 35.5%,#2e7a7f 36.5%,#20587b 40.5%,#1a487a 42.5%,#163b79 44.5%,#133178 46.5%,#112a77 49.5%,#112a77 50.5%,#133178 53.5%,#163978 55.5%,#20597b 60.5%,#23627c 61.5%,#2f7d7f 65.5%,#31827c 66.5%,#348576 67.5%,#3e915c 72.5%,#419553 74.5%,#45994a 77.5%,#489b47 78.5%,#539d48 81.5%,#62a14d 87.5%,#70a450 90.5%,#8eac56 95.5%,#a7b25b 98.5%,#b0b55d 99.5%)"></i><i style="background:linear-gradient(90deg,#e3c3b5 0.5%,#dcb9a4 3.5%,#d9b59d 4.5%,#d1ae8b 7.5%,#c4a46e 11.5%,#c0a465 12.5%,#b8b55f 17.5%,#b2b55d 18.5%,#86aa55 23.5%,#71a550 25.5%,#549e49 27.5%,#479a48 28.5%,#3f9358 30.5%,#31817d 35.5%,#2d797f 36.5%,#1f567b 40.5%,#184079 43.5%,#143478 45.5%,#123078 46.5%,#102977 49.5%,#102977 50.5%,#123078 53.5%,#153878 55.5%,#20587b 60.5%,#23617c 61.5%,#2f7d7f 65.5%,#31827c 66.5%,#348476 67.5%,#3a8c66 70.5%,#419554 74.5%,#45994a 77.5%,#4c9c47 79.5%,#62a14c 87.5%,#6fa450 90.5%,#8eac56 95.5%,#a7b25b 98.5%,#b0b55d 99.5%)"></i><i style="background:linear-gradient(90deg,#e3c3b5 0.5%,#d9b49c 4.5%,#d0ad8a 7.5%,#c3a46d 11.5%,#c0a565 12.5%,#b7b65e 17.5%,#b1b55d 18.5%,#98af58 21.5%,#85aa54 23.5%,#6fa450 25.5%,#539d48 27.5%,#469a49 28.5%,#368770 33.5%,#30807e 35.5%,#2c787f 36.5%,#1c4d7a 41.5%,#173e79 43.5%,#133278 45.5%,#102977 48.5%,#102777 49.5%,#102977 51.5%,#122e77 53.5%,#153778 55.5%,#1b497a 58.5%,#2e7c7f 65.5%,#31817d 66.5%,#38896c 69.5%,#3d905d 72.5%,#429651 75.5%,#479a48 78.5%,#4b9b46 79.5%,#529d48 81.5%,#62a14c 87.5%,#6fa450 90.5%,#81a854 93.5%,#8eac56 95.5%,#a7b25b 98.5%,#b0b55d 99.5%)"></i><i style="background:linear-gradient(90deg,#e3c2b4 0.5%,#d8b49b 4.5%,#d6b196 5.5%,#d0ad88 7.5%,#c2a46b 11.5%,#c0a565 12.5%,#b7b65e 17.5%,#97ae58 21.5%,#84a954 23.5%,#6da44f 25.5%,#519d48 27.5%,#46994a 28.5%,#368771 33.5%,#307f7e 35.5%,#1b4b7a 41.5%,#173d79 43.5%,#122d77 46.5%,#102777 48.5%,#102777 51.5%,#122d77 53.5%,#143578 55.5%,#1a487a 58.5%,#2e7c7f 65.5%,#31817d 66.5%,#38896c 69.5%,#3d905d 72.5%,#429651 75.5%,#469a48 78.5%,#4b9b46 79.5%,#62a14c 87.5%,#6fa450 90.5%,#81a854 93.5%,#8eac56 95.5%,#a7b25b 98.5%,#b0b55d 99.5%)"></i><i style="background:linear-gradient(90deg,#e2c2b3 0.5%,#d8b39a 4.5%,#d5b195 5.5%,#c2a369 11.5%,#bfa664 12.5%,#b6b65e 17.5%,#96ae58 21.5%,#82a954 23.5%,#78a652 24.5%,#509d48 27.5%,#45994b 28.5%,#358672 33.5%,#2f7e7f 35.5%,#1b497a 41.5%,#163b79 43.5%,#112b77 46.5%,#0f2577 48.5%,#0f2577 51.5%,#102777 52.5%,#143478 55.5%,#1a477a 58.5%,#2e7c7f 65.5%,#31817e 66.5%,#338478 67.5%,#3f9259 73.5%,#469a48 78.5%,#4a9b46 79.5%,#62a14c 87.5%,#6fa450 90.5%,#8eac56 95.5%,#a7b25b 98.5%,#b0b55d 99.5%)"></i><i style="background:linear-gradient(90deg,#e2c2b3 0.5%,#d7b299 4.5%,#d5b194 5.5%,#c8a677 9.5%,#c1a368 11.5%,#bfa664 12.5%,#b6b65e 17.5%,#95ae57 21.5%,#81a854 23.5%,#77a652 24.5%,#4f9c47 27.5%,#44984c 28.5%,#32827a 34.5%,#2f7d7f 35.5%,#1a487a 41.5%,#153978 43.5%,#133378 44.5%,#0f2577 47.5%,#0f2377 48.5%,#0f2377 51.5%,#0f2577 52.5%,#133378 55.5%,#194579 58.5%,#2e7b7f 65.5%,#31817e 66.5%,#338478 67.5%,#3f925a 73.5%,#459a48 78.5%,#4a9b46 79.5%,#4e9c47 80.5%,#62a14c 87.5%,#6fa450 90.5%,#8eac56 95.5%,#a7b25b 98.5%,#b0b55d 99.5%)"></i><i style="background:linear-gradient(90deg,#e2c1b2 0.5%,#d7b298 4.5%,#d4b093 5.5%,#c7a675 9.5%,#c0a367 11.5%,#bfa764 12.5%,#bab060 15.5%,#b8b55f 16.5%,#b4b65e 17.5%,#93ad57 21.5%,#80a853 23.5%,#75a651 24.5%,#4d9c47 27.5%,#44984d 28.5%,#32827b 34.5%,#2e7c7f 35.5%,#1a467a 41.5%,#153878 43.5%,#133178 44.5%,#0f2477 47.5%,#0e2176 48.5%,#0e2276 51.5%,#0f2477 52.5%,#133278 55.5%,#194479 58.5%,#24657c 62.5%,#2e7b7f 65.5%,#30807f 66.5%,#37896d 69.5%,#3f925a 73.5%,#459a49 78.5%,#499b46 79.5%,#4e9c47 80.5%,#62a14c 87.5%,#6fa450 90.5%,#8eac56 95.5%,#b0b55d 99.5%)"></i><i style="background:linear-gradient(90deg,#e2c1b2 0.5%,#d6b297 4.5%,#d4b092 5.5%,#c3a46d 10.5%,#c0a466 11.5%,#bea764 12.5%,#b8b55f 16.5%,#b3b65d 17.5%,#9baf59 20.5%,#7fa853 23.5%,#74a551 24.5%,#4b9b48 27.5%,#43984e 28.5%,#31827c 34.5%,#2e7b7f 35.5%,#194579 41.5%,#153678 43.5%,#133078 44.5%,#0f2277 47.5%,#0e2076 48.5%,#0e2076 50.5%,#0f2377 52.5%,#133178 55.5%,#194479 58.5%,#24647c 62.5%,#30807f 66.5%,#37886e 69.5%,#3e925a 73.5%,#459a49 78.5%,#499b47 79.5%,#4d9c47 80.5%,#62a14c 87.5%,#6fa450 90.5%,#8eac56 95.5%,#b0b55d 99.5%)"></i><i style="background:linear-gradient(90deg,#e2c0b1 0.5%,#d6b196 4.5%,#d3b091 5.5%,#c3a46c 10.5%,#c0a466 11.5%,#b8b65e 16.5%,#aab35c 18.5%,#9aaf58 20.5%,#7ea853 23.5%,#72a551 24.5%,#499b48 27.5%,#43974e 28.5%,#31817d 34.5%,#2e7a7f 35.5%,#194479 41.5%,#143578 43.5%,#122f77 44.5%,#0e2176 47.5%,#0e1f76 48.5%,#0e2076 51.5%,#112a77 54.5%,#143578 56.5%,#194379 58.5%,#24637c 62.5%,#30807f 66.5%,#37886e 69.5%,#3e925a 73.5%,#459a49 78.5%,#489b47 79.5%,#509d48 81.5%,#62a14c 87.5%,#6fa450 90.5%,#8fac56 95.5%,#9eb059 97.5%,#b0b55d 99.5%)"></i><i style="background:linear-gradient(90deg,#e1c0b0 0.5%,#d5b195 4.5%,#d3af90 5.5%,#c2a46b 10.5%,#c0a565 11.5%,#b7b65e 16.5%,#a9b35b 18.5%,#87aa55 22.5%,#71a550 24.5%,#569e49 26.5%,#479a48 27.5%,#43974f 28.5%,#31817e 34.5%,#2d797f 35.5%,#1e547b 39.5%,#163b79 42.5%,#122d77 44.5%,#0e1f76 47.5%,#0d1d76 48.5%,#0e1f76 51.5%,#0f2477 53.5%,#102977 54.5%,#143478 56.5%,#184279 58.5%,#24637c 62.5%,#30807f 66.5%,#37886e 69.5%,#3e915b 73.5%,#44984c 77.5%,#489b47 79.5%,#509d48 81.5%,#62a14c 87.5%,#6fa450 90.5%,#96ae58 96.5%,#b0b55d 99.5%)"></i><i style="background:linear-gradient(90deg,#e1bfb0 0.5%,#debba7 1.5%,#dbb8a2 2.5%,#d5b194 4.5%,#d3af8f 5.5%,#c2a46a 10.5%,#bfa664 11.5%,#b7b75e 16.5%,#a8b35b 18.5%,#86aa55 22.5%,#70a450 24.5%,#559e49 26.5%,#459a49 27.5%,#30817e 34.5%,#25657d 37.5%,#153978 42.5%,#112c77 44.5%,#0d1e76 47.5%,#0d1c76 48.5%,#0d1c76 50.5%,#0f2377 53.5%,#102777 54.5%,#122e77 55.5%,#133278 56.5%,#184179 58.5%,#23627c 62.5%,#308080 66.5%,#37886e 69.5%,#3e915b 73.5%,#44984c 77.5%,#479a47 79.5%,#509d48 81.5%,#559e49 83.5%,#62a14c 87.5%,#6fa450 90.5%,#96ae58 96.5%,#b0b55d 99.5%)"></i><i style="background:linear-gradient(90deg,#e1bfaf 0.5%,#d5b093 4.5%,#d2ae8e 5.5%,#c8a778 8.5%,#c1a469 10.5%,#bfa664 11.5%,#b6b75e 16.5%,#96ae58 20.5%,#7ba752 23.5%,#539e49 26.5%,#459a49 27.5%,#30807f 34.5%,#24647c 37.5%,#153878 42.5%,#112a77 44.5%,#0d1d76 47.5%,#0c1b76 48.5%,#0c1a76 50.5%,#0e2276 53.5%,#102677 54.5%,#133278 56.5%,#184079 58.5%,#23617c 62.5%,#307f80 66.5%,#3e915b 73.5%,#44984c 77.5%,#479a47 79.5%,#509d48 81.5%,#559e49 83.5%,#62a14c 87.5%,#70a550 90.5%,#96ae58 96.5%,#b1b55d 99.5%)"></i><i style="background:linear-gradient(90deg,#e0bead 0.5%,#d7b399 3.5%,#d2ae8d 5.5%,#c4a46e 9.5%,#c1a468 10.5%,#bfa764 11.5%,#bab061 14.5%,#b8b45f 15.5%,#b5b65e 16.5%,#95ae58 20.5%,#79a752 23.5%,#519d48 26.5%,#45994a 27.5%,#368771 32.5%,#307f7f 34.5%,#24637c 37.5%,#173e79 41.5%,#112977 44.5%,#0d1b76 47.5%,#0c1976 50.5%,#0d1d76 52.5%,#0f2577 54.5%,#133178 56.5%,#173f79 58.5%,#23607c 62.5%,#2f7f7f 66.5%,#32827b 67.5%,#388a6a 70.5%,#3e915b 73.5%,#429650 76.5%,#479a47 79.5%,#4f9d48 81.5%,#62a14c 87.5%,#6ba44f 89.5%,#8fac56 95.5%,#9fb059 97.5%,#b1b55d 99.5%)"></i><i style="background:linear-gradient(90deg,#e0bdac 0.5%,#d7b298 3.5%,#d1ae8c 5.5%,#c3a46d 9.5%,#c1a467 10.5%,#bfa764 11.5%,#b8b55f 15.5%,#b4b65d 16.5%,#94ad57 20.5%,#78a652 23.5%,#4f9d48 26.5%,#44994b 27.5%,#358672 32.5%,#2f7e7f 34.5%,#23627c 37.5%,#173d79 41.5%,#102877 44.5%,#0c1a76 47.5%,#0b1776 50.5%,#0d1c76 52.5%,#0f2477 54.5%,#153778 57.5%,#1f567b 61.5%,#23607c 62.5%,#2f7e7f 66.5%,#32827b 67.5%,#388a6a 70.5%,#3e915c 73.5%,#429650 76.5%,#479a47 79.5%,#4c9c47 80.5%,#62a14c 87.5%,#6ba44f 89.5%,#8fac56 95.5%,#b1b55d 99.5%)"></i><i style="background:linear-gradient(90deg,#dfbdab 0.5%,#d6b297 3.5%,#d1ad8b 5.5%,#c7a675 8.5%,#c2a46b 9.5%,#c0a466 10.5%,#bea864 11.5%,#b8b65f 15.5%,#b3b65d 16.5%,#92ad57 20.5%,#77a652 23.5%,#5da04b 25.5%,#4e9c47 26.5%,#44994c 27.5%,#358673 32.5%,#2f7e7f 34.5%,#23617c 37.5%,#163c79 41.5%,#102677 44.5%,#0c1876 47.5%,#0b1676 50.5%,#0c1b76 52.5%,#102877 55.5%,#143678 57.5%,#25677d 63.5%,#2f7d7f 66.5%,#31827c 67.5%,#388a6b 70.5%,#3e915c 73.5%,#429650 76.5%,#479a47 79.5%,#4c9c47 80.5%,#62a14c 87.5%,#6ba44f 89.5%,#8fac56 95.5%,#b2b55d 99.5%)"></i><i style="background:linear-gradient(90deg,#dfbcaa 0.5%,#ddb9a5 1.5%,#d6b196 3.5%,#d4b091 4.5%,#c6a574 8.5%,#c2a46a 9.5%,#c0a565 10.5%,#b7b65e 15.5%,#b2b65d 16.5%,#89ab55 21.5%,#76a652 23.5%,#5ba04b 25.5%,#4c9c47 26.5%,#44984c 27.5%,#32827b 33.5%,#2f7d7f 34.5%,#23607c 37.5%,#163b79 41.5%,#0f2577 44.5%,#0b1776 47.5%,#0b1575 50.5%,#0c1976 52.5%,#102777 55.5%,#143478 57.5%,#25677d 63.5%,#2f7d7f 66.5%,#31827c 67.5%,#388a6b 70.5%,#3e915c 73.5%,#429650 76.5%,#479a47 79.5%,#4e9c47 81.5%,#62a14c 87.5%,#6ba44f 89.5%,#8fac56 95.5%,#a8b35b 98.5%,#b2b65d 99.5%)"></i><i style="background:linear-gradient(90deg,#dfbca9 0.5%,#d3af90 4.5%,#c9a77a 7.5%,#c1a469 9.5%,#bfa564 10.5%,#b9b260 14.5%,#b7b65e 15.5%,#b1b55d 16.5%,#88aa55 21.5%,#74a551 23.5%,#4a9b47 26.5%,#43984d 27.5%,#32827c 33.5%,#2e7c7f 34.5%,#225f7c 37.5%,#163a78 41.5%,#0f2477 44.5%,#0b1676 47.5%,#0a1475 50.5%,#0c1876 52.5%,#102677 55.5%,#143378 57.5%,#25667d 63.5%,#2e7c7f 66.5%,#31817d 67.5%,#3a8c66 71.5%,#419554 75.5%,#45994a 78.5%,#4b9c47 80.5%,#63a24d 87.5%,#6ca44f 89.5%,#90ac57 95.5%,#b2b65d 99.5%)"></i><i style="background:linear-gradient(90deg,#debca9 0.5%,#d3af8f 4.5%,#c9a779 7.5%,#c1a468 9.5%,#bfa664 10.5%,#b9b360 14.5%,#b6b65e 15.5%,#b0b55d 16.5%,#87aa55 21.5%,#72a551 23.5%,#499b47 26.5%,#43974e 27.5%,#31827c 33.5%,#2e7b7f 34.5%,#225e7c 37.5%,#153978 41.5%,#0f2377 44.5%,#0b1575 47.5%,#0a1375 50.5%,#0b1776 52.5%,#0e1f76 54.5%,#133378 57.5%,#25657d 63.5%,#2e7b7f 66.5%,#31817d 67.5%,#3a8c66 71.5%,#419454 75.5%,#469a48 79.5%,#4b9b46 80.5%,#63a24d 87.5%,#6ca44f 89.5%,#90ad57 95.5%,#b2b65d 99.5%)"></i><i style="background:linear-gradient(90deg,#debba8 0.5%,#d2af8e 4.5%,#c4a46f 8.5%,#c1a467 9.5%,#b9b35f 14.5%,#b5b65e 15.5%,#afb55c 16.5%,#86aa55 21.5%,#7ca753 22.5%,#70a550 23.5%,#569e49 25.5%,#489b48 26.5%,#43974f 27.5%,#31817d 33.5%,#2d7a7f 34.5%,#153878 41.5%,#0d1c76 45.5%,#0a1475 47.5%,#0a1275 50.5%,#0b1676 52.5%,#0d1e76 54.5%,#133278 57.5%,#1e527b 61.5%,#24657c 63.5%,#2e7b7f 66.5%,#31817e 67.5%,#3a8c67 71.5%,#3f9258 74.5%,#429651 76.5%,#469a48 79.5%,#4a9b46 80.5%,#64a24d 87.5%,#6ca44f 89.5%,#90ad57 95.5%,#b2b65d 99.5%)"></i><i style="background:linear-gradient(90deg,#debba8 0.5%,#d2ae8d 4.5%,#c8a677 7.5%,#c3a46d 8.5%,#c0a466 9.5%,#b8b45f 14.5%,#b4b65e 15.5%,#aeb45c 16.5%,#85a954 21.5%,#6fa450 23.5%,#549e49 25.5%,#469a48 26.5%,#31817e 33.5%,#2d797f 34.5%,#225d7c 37.5%,#184079 40.5%,#122f78 42.5%,#0c1a76 45.5%,#0b1676 46.5%,#0a1175 48.5%,#0a1175 50.5%,#0c1876 53.5%,#0d1d76 54.5%,#133178 57.5%,#1e527b 61.5%,#24647c 63.5%,#2e7a7f 66.5%,#31817e 67.5%,#398c67 71.5%,#3f9258 74.5%,#43984d 77.5%,#469a48 79.5%,#4a9b46 80.5%,#64a24d 87.5%,#6da44f 89.5%,#74a551 90.5%,#7da853 92.5%,#91ad57 95.5%,#b2b65d 99.5%)"></i><i style="background:linear-gradient(90deg,#debba7 0.5%,#d8b49b 2.5%,#c7a676 7.5%,#c3a46c 8.5%,#c0a465 9.5%,#b8b45f 14.5%,#b3b65d 15.5%,#adb45c 16.5%,#83a954 21.5%,#7aa752 22.5%,#529d48 25.5%,#459a49 26.5%,#30807e 33.5%,#25657c 36.5%,#173f79 40.5%,#122e77 42.5%,#0c1976 45.5%,#0b1475 46.5%,#091075 48.5%,#091075 50.5%,#0b1776 53.5%,#0d1b76 54.5%,#133078 57.5%,#24637c 63.5%,#2b737e 65.5%,#30817e 67.5%,#398b67 71.5%,#3f9259 74.5%,#43984e 77.5%,#459a49 79.5%,#4a9b46 80.5%,#539d48 82.5%,#60a14c 86.5%,#6da44f 89.5%,#7da853 92.5%,#91ad57 95.5%,#b2b65d 99.5%)"></i><i style="background:linear-gradient(90deg,#ddbaa6 0.5%,#d7b39a 2.5%,#c6a674 7.5%,#c2a46b 8.5%,#c0a565 9.5%,#b8b55f 14.5%,#b2b65d 15.5%,#acb45c 16.5%,#8bab56 20.5%,#78a652 22.5%,#519d48 25.5%,#45994a 26.5%,#30807f 33.5%,#215b7b 37.5%,#173e79 40.5%,#122d77 42.5%,#0c1876 45.5%,#0a1375 46.5%,#090f75 48.5%,#091175 51.5%,#0b1676 53.5%,#0c1a76 54.5%,#122f78 57.5%,#24637c 63.5%,#30807f 67.5%,#398b67 71.5%,#3f9259 74.5%,#43974e 77.5%,#459a49 79.5%,#4a9b46 80.5%,#539d48 82.5%,#60a14c 86.5%,#6ea450 89.5%,#7ea853 92.5%,#92ad57 95.5%,#b3b65d 99.5%)"></i><i style="background:linear-gradient(90deg,#ddbaa6 0.5%,#d7b399 2.5%,#caa87b 6.5%,#c2a46a 8.5%,#c0a565 9.5%,#b8b65f 14.5%,#abb45c 16.5%,#81a854 21.5%,#77a652 22.5%,#4f9d48 25.5%,#45994a 26.5%,#30807f 33.5%,#1a467a 39.5%,#0f2477 43.5%,#0a1275 46.5%,#090e75 48.5%,#090f75 51.5%,#0c1976 54.5%,#122e77 57.5%,#23627c 63.5%,#30807f 67.5%,#398b68 71.5%,#3f9259 74.5%,#459a49 79.5%,#4a9b46 80.5%,#61a14c 86.5%,#6ea450 89.5%,#7ea853 92.5%,#92ad57 95.5%,#b3b65d 99.5%)"></i><i style="background:linear-gradient(90deg,#ddbaa5 0.5%,#d7b298 2.5%,#c9a87a 6.5%,#c1a369 8.5%,#bfa664 9.5%,#b7b65e 14.5%,#aab35c 16.5%,#89ab55 20.5%,#76a652 22.5%,#4e9c47 25.5%,#44994b 26.5%,#307f7f 33.5%,#194579 39.5%,#0f2277 43.5%,#0a1275 46.5%,#080d75 48.5%,#090e75 51.5%,#0c1876 54.5%,#122d77 57.5%,#23617c 63.5%,#30807f 67.5%,#398b68 71.5%,#3f9259 74.5%,#459a49 79.5%,#4a9b46 80.5%,#61a14c 86.5%,#7ea853 92.5%,#92ad57 95.5%,#b3b65d 99.5%)"></i><i style="background:linear-gradient(90deg,#ddbaa5 0.5%,#d6b297 2.5%,#c9a779 6.5%,#c1a368 8.5%,#bfa664 9.5%,#b7b75e 14.5%,#a9b35b 16.5%,#88aa55 20.5%,#75a551 22.5%,#4d9c47 25.5%,#44984c 26.5%,#328379 32.5%,#2f7f7f 33.5%,#194479 39.5%,#0e2176 43.5%,#091175 46.5%,#080c75 48.5%,#080c75 51.5%,#0b1776 54.5%,#112c77 57.5%,#23607c 63.5%,#30807f 67.5%,#398b68 71.5%,#3f925a 74.5%,#459a49 79.5%,#4a9b46 80.5%,#62a14c 86.5%,#74a551 90.5%,#7fa853 92.5%,#93ad57 95.5%,#b4b65d 99.5%)"></i><i style="background:linear-gradient(90deg,#dcb9a4 0.5%,#d6b196 2.5%,#c8a778 6.5%,#c4a46e 7.5%,#c1a367 8.5%,#bfa764 9.5%,#b6b75e 14.5%,#87aa55 20.5%,#73a551 22.5%,#4b9c47 25.5%,#44984c 26.5%,#32837a 32.5%,#2f7e7f 33.5%,#23627c 36.5%,#194379 39.5%,#0e2076 43.5%,#091075 46.5%,#080b75 48.5%,#080b75 51.5%,#0b1676 54.5%,#112b77 57.5%,#194579 60.5%,#1d4f7a 61.5%,#308080 67.5%,#398b68 71.5%,#3f925a 74.5%,#459a49 79.5%,#4a9b46 80.5%,#67a34e 87.5%,#74a551 90.5%,#7fa853 92.5%,#93ad57 95.5%,#b4b65d 99.5%)"></i><i style="background:linear-gradient(90deg,#dcb9a4 0.5%,#ceac86 4.5%,#c8a677 6.5%,#c3a46d 7.5%,#c0a467 8.5%,#bfa764 9.5%,#b5b65e 14.5%,#86aa55 20.5%,#72a551 22.5%,#4a9b47 25.5%,#44984d 26.5%,#32827b 32.5%,#2f7d7f 33.5%,#23617c 36.5%,#184279 39.5%,#0e1f76 43.5%,#090f75 46.5%,#080a75 48.5%,#080a75 51.5%,#0b1676 54.5%,#112a77 57.5%,#194479 60.5%,#1c4e7a 61.5%,#307f80 67.5%,#398b69 71.5%,#3e925a 74.5%,#459a49 79.5%,#4a9b46 80.5%,#62a14c 86.5%,#75a551 90.5%,#93ad57 95.5%,#b4b65e 99.5%)"></i><i style="background:linear-gradient(90deg,#dcb9a3 0.5%,#d5b195 2.5%,#cba97d 5.5%,#c7a676 6.5%,#c3a46c 7.5%,#c0a466 8.5%,#b8b55f 13.5%,#b4b65e 14.5%,#85a954 20.5%,#70a550 22.5%,#4a9b47 25.5%,#43984d 26.5%,#32827b 32.5%,#2e7c7f 33.5%,#23607c 36.5%,#184179 39.5%,#0d1e76 43.5%,#090e75 46.5%,#070975 48.5%,#070975 51.5%,#0b1575 54.5%,#112977 57.5%,#194379 60.5%,#1c4d7a 61.5%,#307f80 67.5%,#32837a 68.5%,#398b69 71.5%,#3e925a 74.5%,#459a49 79.5%,#4a9b46 80.5%,#62a14c 86.5%,#75a651 90.5%,#94ad57 95.5%,#b5b65e 99.5%)"></i><i style="background:linear-gradient(90deg,#dcb8a3 0.5%,#d5b194 2.5%,#c7a675 6.5%,#c2a46b 7.5%,#c0a465 8.5%,#b8b55f 13.5%,#b3b65d 14.5%,#84a954 20.5%,#6fa450 22.5%,#499b47 25.5%,#43974e 26.5%,#31827c 32.5%,#2e7b7f 33.5%,#225f7c 36.5%,#184079 39.5%,#0d1d76 43.5%,#080d75 46.5%,#070874 48.5%,#070874 51.5%,#0a1475 54.5%,#102877 57.5%,#1e547b 62.5%,#2f7f7f 67.5%,#32827a 68.5%,#398b69 71.5%,#409456 75.5%,#459a49 79.5%,#4a9b46 80.5%,#5fa14c 85.5%,#62a14c 86.5%,#76a652 90.5%,#94ae57 95.5%,#b5b65e 99.5%)"></i><i style="background:linear-gradient(90deg,#dcb8a2 0.5%,#d5b194 2.5%,#c6a574 6.5%,#c2a46a 7.5%,#c0a565 8.5%,#b7b65e 13.5%,#b2b65d 14.5%,#83a954 20.5%,#6ea450 22.5%,#539d49 24.5%,#489b47 25.5%,#409357 27.5%,#31817d 32.5%,#2d7a7f 33.5%,#225e7c 36.5%,#173f79 39.5%,#0d1c76 43.5%,#080c75 46.5%,#070774 48.5%,#070774 51.5%,#0a1375 54.5%,#102777 57.5%,#1e537b 62.5%,#2f7f7f 67.5%,#32827b 68.5%,#398a6a 71.5%,#409456 75.5%,#459a49 79.5%,#4a9b46 80.5%,#60a14c 85.5%,#67a34e 87.5%,#6da44f 88.5%,#7ca753 91.5%,#94ae57 95.5%,#b5b65e 99.5%)"></i><i style="background:linear-gradient(90deg,#dbb8a2 0.5%,#d1ae8b 3.5%,#cdaa82 4.5%,#c6a573 6.5%,#c2a469 7.5%,#c0a565 8.5%,#b7b65e 13.5%,#b1b55d 14.5%,#82a954 20.5%,#6ca44f 22.5%,#529d48 24.5%,#479a48 25.5%,#3f9358 27.5%,#31817e 32.5%,#2d797f 33.5%,#225e7c 36.5%,#1a497a 38.5%,#0d1b76 43.5%,#080b75 46.5%,#060674 48.5%,#070774 51.5%,#0a1275 54.5%,#102677 57.5%,#1e537b 62.5%,#2f7e7f 67.5%,#32827b 68.5%,#388a6a 71.5%,#409356 75.5%,#459a49 79.5%,#4a9b46 80.5%,#5ca04b 84.5%,#67a34e 87.5%,#6ea44f 88.5%,#77a652 90.5%,#87aa55 93.5%,#95ae57 95.5%,#b6b65e 99.5%)"></i><i style="background:linear-gradient(90deg,#dbb7a1 0.5%,#d1ad8a 3.5%,#c9a779 5.5%,#c5a572 6.5%,#c1a468 7.5%,#bfa664 8.5%,#b6b65e 13.5%,#a1b15a 16.5%,#80a854 20.5%,#6ba34f 22.5%,#519d48 24.5%,#469a49 25.5%,#31817e 32.5%,#2d797f 33.5%,#225d7c 36.5%,#1a487a 38.5%,#0c1b76 43.5%,#080b75 46.5%,#060574 48.5%,#060674 51.5%,#0a1175 54.5%,#102577 57.5%,#24657c 64.5%,#2f7d7f 67.5%,#32827c 68.5%,#388a6a 71.5%,#409356 75.5%,#459a49 79.5%,#4a9b46 80.5%,#5ca04b 84.5%,#67a34e 87.5%,#6ea450 88.5%,#88aa55 93.5%,#95ae58 95.5%,#b6b75e 99.5%)"></i><i style="background:linear-gradient(90deg,#dab6a0 0.5%,#d0ad89 3.5%,#c8a778 5.5%,#c5a571 6.5%,#c1a467 7.5%,#bfa664 8.5%,#b9b45f 12.5%,#b5b65e 13.5%,#a0b15a 16.5%,#7fa853 20.5%,#69a34e 22.5%,#509d48 24.5%,#469a49 25.5%,#30817f 32.5%,#215c7c 36.5%,#1a477a 38.5%,#0c1a76 43.5%,#080a75 46.5%,#060474 48.5%,#060674 51.5%,#091075 54.5%,#0f2477 57.5%,#173f79 60.5%,#24647c 64.5%,#2f7d7f 67.5%,#31827c 68.5%,#388a6a 71.5%,#409357 75.5%,#459a49 79.5%,#4b9b46 80.5%,#5da04b 84.5%,#68a34e 87.5%,#6ea450 88.5%,#88aa55 93.5%,#95ae58 95.5%,#b6b75e 99.5%)"></i><i style="background:linear-gradient(90deg,#dab69e 0.5%,#d0ad88 3.5%,#c8a777 5.5%,#c4a570 6.5%,#c1a466 7.5%,#b8b45f 12.5%,#b5b65e 13.5%,#9fb15a 16.5%,#7ea853 20.5%,#68a34e 22.5%,#4f9c48 24.5%,#45994a 25.5%,#30807f 32.5%,#215b7c 36.5%,#1a467a 38.5%,#0e2176 42.5%,#090e75 45.5%,#060674 47.5%,#060374 48.5%,#060574 51.5%,#080a75 53.5%,#090f75 54.5%,#0f2477 57.5%,#173e79 60.5%,#24647c 64.5%,#2e7c7f 67.5%,#31817d 68.5%,#3c8f60 73.5%,#419552 76.5%,#459a49 79.5%,#4b9c47 80.5%,#5da04b 84.5%,#68a34e 87.5%,#6fa450 88.5%,#88aa55 93.5%,#96ae58 95.5%,#b7b75e 99.5%)"></i><i style="background:linear-gradient(90deg,#d9b59d 0.5%,#ccaa80 4.5%,#c7a676 5.5%,#c4a46f 6.5%,#c0a465 7.5%,#b8b45f 12.5%,#b4b65d 13.5%,#9eb059 16.5%,#7da853 20.5%,#4e9c47 24.5%,#44994b 25.5%,#308080 32.5%,#1d517b 37.5%,#194579 38.5%,#0e2076 42.5%,#0a1275 44.5%,#060574 47.5%,#050274 48.5%,#050274 50.5%,#070975 53.5%,#090e75 54.5%,#0f2377 57.5%,#173d79 60.5%,#24647c 64.5%,#2e7b7f 67.5%,#31817d 68.5%,#3c8f60 73.5%,#419552 76.5%,#459a49 79.5%,#4c9c47 80.5%,#5ea04b 84.5%,#60a14c 85.5%,#69a34e 87.5%,#6fa450 88.5%,#89ab55 93.5%,#96ae58 95.5%,#b7b75e 99.5%)"></i><i style="background:linear-gradient(90deg,#d9b59d 0.5%,#cba97f 4.5%,#c7a676 5.5%,#c0a465 7.5%,#b8b55f 12.5%,#b3b65d 13.5%,#9db059 16.5%,#7ca753 20.5%,#4d9c47 24.5%,#44984c 25.5%,#338379 31.5%,#307f80 32.5%,#1d507a 37.5%,#194579 38.5%,#0e2076 42.5%,#0a1275 44.5%,#080d75 45.5%,#060474 47.5%,#050273 48.5%,#050271 50.5%,#060473 51.5%,#070975 53.5%,#090d75 54.5%,#0f2277 57.5%,#173c79 60.5%,#24637c 64.5%,#2e7b7f 67.5%,#31817d 68.5%,#3c8f60 73.5%,#419553 76.5%,#459a49 79.5%,#4c9c47 80.5%,#69a34e 87.5%,#70a550 88.5%,#89ab55 93.5%,#97ae58 95.5%,#b7b75e 99.5%)"></i><i style="background:linear-gradient(90deg,#d9b59c 0.5%,#cfac86 3.5%,#c7a675 5.5%,#c0a565 7.5%,#b8b55f 12.5%,#b2b65d 13.5%,#9cb059 16.5%,#7ba753 20.5%,#4b9c47 24.5%,#44984c 25.5%,#328379 31.5%,#2f7f7f 32.5%,#1d507a 37.5%,#194479 38.5%,#102877 41.5%,#0b1776 43.5%,#070774 46.5%,#050172 48.5%,#05016d 49.5%,#05016d 50.5%,#060574 52.5%,#080d75 54.5%,#0a1375 55.5%,#112a77 58.5%,#23627c 64.5%,#2e7b7f 67.5%,#31817e 68.5%,#3c8f60 73.5%,#419553 76.5%,#459a49 79.5%,#4c9c47 80.5%,#6aa34e 87.5%,#70a550 88.5%,#8aab55 93.5%,#97ae58 95.5%,#b7b65e 99.5%)"></i><i style="background:linear-gradient(90deg,#d9b49c 0.5%,#ceac86 3.5%,#c7a675 5.5%,#c3a46c 6.5%,#c0a565 7.5%,#b7b65e 12.5%,#b2b55d 13.5%,#9baf59 16.5%,#7aa752 20.5%,#4a9b47 24.5%,#43984d 25.5%,#32837a 31.5%,#2f7e7f 32.5%,#24637c 35.5%,#102777 41.5%,#0b1676 43.5%,#080b75 45.5%,#060374 47.5%,#050171 48.5%,#05016a 49.5%,#05016a 50.5%,#050271 51.5%,#060474 52.5%,#0a1275 55.5%,#112977 58.5%,#23617c 64.5%,#2e7a7f 67.5%,#31817e 68.5%,#38896c 71.5%,#409357 75.5%,#459a49 79.5%,#4c9c47 80.5%,#6aa34f 87.5%,#71a550 88.5%,#85aa54 92.5%,#98af58 95.5%,#b7b65e 99.5%)"></i><i style="background:linear-gradient(90deg,#d8b49b 0.5%,#ceab85 3.5%,#c6a574 5.5%,#c2a46b 6.5%,#c0a564 7.5%,#b7b65e 12.5%,#a2b15a 15.5%,#79a652 20.5%,#499b47 24.5%,#43974e 25.5%,#32837a 31.5%,#2f7d7f 32.5%,#23627c 35.5%,#102677 41.5%,#0b1676 43.5%,#080a75 45.5%,#050374 47.5%,#05006f 48.5%,#040067 49.5%,#040067 50.5%,#05016f 51.5%,#060374 52.5%,#0a1175 55.5%,#102877 58.5%,#23617c 64.5%,#2a727e 66.5%,#31817e 68.5%,#38896c 71.5%,#409357 75.5%,#459a49 79.5%,#4c9c47 80.5%,#6ba34f 87.5%,#71a550 88.5%,#85aa55 92.5%,#a0b15a 96.5%,#b8b55f 99.5%)"></i><i style="background:linear-gradient(90deg,#d8b49b 0.5%,#ceab85 3.5%,#c6a574 5.5%,#c2a46a 6.5%,#bfa664 7.5%,#b7b75e 12.5%,#a1b15a 15.5%,#78a652 20.5%,#479a47 24.5%,#43974f 25.5%,#32827b 31.5%,#2f7d7f 32.5%,#23627c 35.5%,#153978 39.5%,#133078 40.5%,#0f2577 41.5%,#0b1575 43.5%,#060574 46.5%,#050274 47.5%,#05006e 48.5%,#040063 49.5%,#040063 50.5%,#05006e 51.5%,#050274 52.5%,#091075 55.5%,#102777 58.5%,#23607c 64.5%,#2a727e 66.5%,#30817e 68.5%,#38896c 71.5%,#409357 75.5%,#459a49 79.5%,#4c9c47 80.5%,#6ba44f 87.5%,#72a551 88.5%,#86aa55 92.5%,#a0b15a 96.5%,#b0b55d 98.5%,#b8b55f 99.5%)"></i><i style="background:linear-gradient(90deg,#d8b39a 0.5%,#ceab84 3.5%,#c1a469 6.5%,#bfa664 7.5%,#b6b75e 12.5%,#a0b15a 15.5%,#77a652 20.5%,#539e49 23.5%,#479a48 24.5%,#32827b 31.5%,#2e7c7f 32.5%,#23617c 35.5%,#0f2477 41.5%,#0b1475 43.5%,#060474 46.5%,#050270 47.5%,#040061 49.5%,#040061 50.5%,#05006c 51.5%,#050273 52.5%,#091075 55.5%,#102777 58.5%,#23607c 64.5%,#30807f 68.5%,#37896c 71.5%,#3f9358 75.5%,#459a49 79.5%,#4c9c47 80.5%,#6ca44f 87.5%,#72a551 88.5%,#86aa55 92.5%,#a1b15a 96.5%,#b1b55d 98.5%,#b8b55f 99.5%)"></i><i style="background:linear-gradient(90deg,#d8b39a 0.5%,#d1ae8b 2.5%,#c5a572 5.5%,#c1a468 6.5%,#bfa664 7.5%,#b8b45f 11.5%,#b5b65e 12.5%,#9fb15a 15.5%,#75a651 20.5%,#529d48 23.5%,#469a49 24.5%,#31827c 31.5%,#2e7b7f 32.5%,#23607c 35.5%,#0f2477 41.5%,#0a1475 43.5%,#060474 46.5%,#04005f 49.5%,#04005f 50.5%,#04006a 51.5%,#050171 52.5%,#060574 53.5%,#090f75 55.5%,#102677 58.5%,#225f7c 64.5%,#30807f 68.5%,#37896d 71.5%,#3f9358 75.5%,#459a49 79.5%,#4c9c47 80.5%,#6ca44f 87.5%,#73a551 88.5%,#86aa55 92.5%,#9aaf59 95.5%,#b2b55d 98.5%,#b8b55f 99.5%)"></i><i style="background:linear-gradient(90deg,#d7b399 0.5%,#d1ad8b 2.5%,#c5a571 5.5%,#c1a467 6.5%,#bfa764 7.5%,#b8b55f 11.5%,#b4b65d 12.5%,#9eb059 15.5%,#7da853 19.5%,#69a34e 21.5%,#509d48 23.5%,#45994a 24.5%,#31827c 31.5%,#2e7b7f 32.5%,#22607c 35.5%,#0f2377 41.5%,#0a1375 43.5%,#060374 46.5%,#040060 48.5%,#04005d 49.5%,#04005d 50.5%,#050170 52.5%,#060474 53.5%,#090f75 55.5%,#102677 58.5%,#225f7c 64.5%,#30807f 68.5%,#37896d 71.5%,#3f9358 75.5%,#459a49 79.5%,#4c9c47 80.5%,#6ca44f 87.5%,#73a551 88.5%,#87aa55 92.5%,#9aaf59 95.5%,#b3b65d 98.5%,#b8b55f 99.5%)"></i><i style="background:linear-gradient(90deg,#d7b299 0.5%,#d0ad8a 2.5%,#c4a570 5.5%,#c0a466 6.5%,#b8b55f 11.5%,#b3b65d 12.5%,#a5b25b 14.5%,#7ca753 19.5%,#68a34e 21.5%,#4f9c47 23.5%,#45994a 24.5%,#31817d 31.5%,#2e7a7f 32.5%,#2a727e 33.5%,#1b4c7a 37.5%,#0f2377 41.5%,#080c75 44.5%,#050374 46.5%,#040066 47.5%,#04005c 48.5%,#03005a 50.5%,#05006f 52.5%,#060374 53.5%,#070874 54.5%,#0d1c76 57.5%,#1b4a7a 62.5%,#225e7c 64.5%,#30807f 68.5%,#37896d 71.5%,#3f9358 75.5%,#459a49 79.5%,#4c9c47 80.5%,#579e49 82.5%,#6da44f 87.5%,#74a551 88.5%,#87aa55 92.5%,#9baf59 95.5%,#b3b65d 98.5%,#b8b45f 99.5%)"></i><i style="background:linear-gradient(90deg,#d7b298 0.5%,#d0ad89 2.5%,#c4a46f 5.5%,#c0a465 6.5%,#b8b55f 11.5%,#b2b55d 12.5%,#a5b25b 14.5%,#7ba753 19.5%,#66a24e 21.5%,#4e9c47 23.5%,#44994b 24.5%,#31817d 31.5%,#2d7a7f 32.5%,#2a727e 33.5%,#0f2277 41.5%,#080b75 44.5%,#050274 46.5%,#040063 47.5%,#030058 48.5%,#030058 50.5%,#05006d 52.5%,#050274 53.5%,#070774 54.5%,#0d1b76 57.5%,#1b497a 62.5%,#225e7c 64.5%,#308080 68.5%,#3b8e62 73.5%,#419554 76.5%,#459a49 79.5%,#4c9c47 80.5%,#579f4a 82.5%,#6da44f 87.5%,#74a551 88.5%,#87aa55 92.5%,#9baf59 95.5%,#b4b65d 98.5%,#b8b45f 99.5%)"></i><i style="background:linear-gradient(90deg,#d7b298 0.5%,#d0ad88 2.5%,#c3a46d 5.5%,#c0a465 6.5%,#b8b65f 11.5%,#a4b25a 14.5%,#7ba753 19.5%,#65a24d 21.5%,#4c9c47 23.5%,#44984c 24.5%,#31817e 31.5%,#2d797f 32.5%,#26677d 34.5%,#0e2276 41.5%,#0a1275 43.5%,#050272 46.5%,#040061 47.5%,#030056 48.5%,#030056 50.5%,#04005e 51.5%,#050272 53.5%,#060674 54.5%,#0c1a76 57.5%,#143578 60.5%,#225d7c 64.5%,#307f80 68.5%,#32837a 69.5%,#3b8e63 73.5%,#419554 76.5%,#459a49 79.5%,#4c9c47 80.5%,#88aa55 92.5%,#9cb059 95.5%,#b4b65e 98.5%,#b8b45f 99.5%)"></i><i style="background:linear-gradient(90deg,#d6b297 0.5%,#c7a676 4.5%,#c3a46c 5.5%,#c0a565 6.5%,#b7b65e 11.5%,#a2b15a 14.5%,#7aa752 19.5%,#4b9b47 23.5%,#44984c 24.5%,#31817e 31.5%,#2d797f 32.5%,#1e547b 36.5%,#0e2176 41.5%,#0a1175 43.5%,#060674 45.5%,#050171 46.5%,#04005e 47.5%,#030054 48.5%,#030054 50.5%,#030059 51.5%,#040064 52.5%,#050171 53.5%,#060674 54.5%,#080c75 55.5%,#0c1976 57.5%,#143578 60.5%,#215c7c 64.5%,#2f7e7f 68.5%,#32837a 69.5%,#3b8e63 73.5%,#419454 76.5%,#459a49 79.5%,#4c9c47 80.5%,#83a954 91.5%,#9db059 95.5%,#b4b65e 98.5%,#b8b45f 99.5%)"></i><i style="background:linear-gradient(90deg,#d6b297 0.5%,#c7a675 4.5%,#c2a46b 5.5%,#c0a565 6.5%,#b7b65e 11.5%,#a1b15a 14.5%,#79a652 19.5%,#4a9b47 23.5%,#44984d 24.5%,#31817e 31.5%,#2d797f 32.5%,#1e547b 36.5%,#0e2176 41.5%,#0a1175 43.5%,#060574 45.5%,#050170 46.5%,#04005c 47.5%,#030051 48.5%,#030051 50.5%,#030055 51.5%,#04005f 52.5%,#050170 53.5%,#060574 54.5%,#080b75 55.5%,#0c1876 57.5%,#143478 60.5%,#215c7c 64.5%,#2f7e7f 68.5%,#32827a 69.5%,#398b68 72.5%,#419454 76.5%,#459a49 79.5%,#4c9c47 80.5%,#83a954 91.5%,#9db059 95.5%,#b5b65e 98.5%,#b9b45f 99.5%)"></i><i style="background:linear-gradient(90deg,#d6b196 0.5%,#c6a574 4.5%,#c2a46a 5.5%,#bfa564 6.5%,#b7b75e 11.5%,#79a652 19.5%,#489b47 23.5%,#43984d 24.5%,#31817e 31.5%,#1e537b 36.5%,#1a487a 37.5%,#112c77 40.5%,#0e2076 41.5%,#091075 43.5%,#060574 45.5%,#05006f 46.5%,#03005a 47.5%,#03004f 48.5%,#030050 51.5%,#03005b 52.5%,#05006f 53.5%,#060574 54.5%,#070a75 55.5%,#0b1776 57.5%,#133378 60.5%,#215b7b 64.5%,#2f7d7f 68.5%,#32827b 69.5%,#398b68 72.5%,#429650 77.5%,#459a49 79.5%,#4c9c47 80.5%,#66a24e 85.5%,#6fa450 87.5%,#76a652 88.5%,#84a954 91.5%,#a5b25b 96.5%,#b5b65e 98.5%,#b9b35f 99.5%)"></i><i style="background:linear-gradient(90deg,#d6b196 0.5%,#d2af8e 1.5%,#c6a573 4.5%,#c2a36a 5.5%,#bfa664 6.5%,#b6b75e 11.5%,#78a652 19.5%,#6ba34f 20.5%,#549e49 22.5%,#479a48 23.5%,#30807e 31.5%,#1e537b 36.5%,#1a477a 37.5%,#112b77 40.5%,#0e2076 41.5%,#091075 43.5%,#060474 45.5%,#05006d 46.5%,#030059 47.5%,#03004e 48.5%,#03004d 51.5%,#030058 52.5%,#05006c 53.5%,#060474 54.5%,#070975 55.5%,#0b1776 57.5%,#133278 60.5%,#1d517a 63.5%,#286d7d 66.5%,#2f7d7f 68.5%,#32827b 69.5%,#398b68 72.5%,#429650 77.5%,#459a49 79.5%,#4c9c47 80.5%,#70a450 87.5%,#76a652 88.5%,#84a954 91.5%,#a5b25b 96.5%,#b6b65e 98.5%,#b9b35f 99.5%)"></i><i style="background:linear-gradient(90deg,#d6b195 0.5%,#d2af8e 1.5%,#c1a369 5.5%,#bfa664 6.5%,#b5b65e 11.5%,#87aa55 17.5%,#76a652 19.5%,#539d48 22.5%,#479a48 23.5%,#30807f 31.5%,#1e527b 36.5%,#1a477a 37.5%,#0e2076 41.5%,#091075 43.5%,#060474 45.5%,#04006b 46.5%,#030059 47.5%,#03004e 48.5%,#02004b 49.5%,#02004b 51.5%,#030055 52.5%,#040068 53.5%,#060372 54.5%,#090f75 56.5%,#102877 59.5%,#286c7d 66.5%,#2e7c7f 68.5%,#32827b 69.5%,#398b69 72.5%,#409455 76.5%,#459a49 79.5%,#4c9c47 80.5%,#70a550 87.5%,#77a652 88.5%,#85aa54 91.5%,#9fb059 95.5%,#b6b65e 98.5%,#b9b360 99.5%)"></i><i style="background:linear-gradient(90deg,#d5b195 0.5%,#d2ae8d 1.5%,#c1a369 5.5%,#bfa664 6.5%,#b8b45f 10.5%,#b4b65e 11.5%,#7ea853 18.5%,#75a651 19.5%,#519d48 22.5%,#469a49 23.5%,#338379 30.5%,#307f7f 31.5%,#1e527b 36.5%,#0e2076 41.5%,#091075 43.5%,#060374 45.5%,#040069 46.5%,#030059 47.5%,#03004e 48.5%,#020048 49.5%,#020048 51.5%,#030053 52.5%,#050271 54.5%,#070874 55.5%,#090e75 56.5%,#102777 59.5%,#24637c 65.5%,#2e7c7f 68.5%,#31827c 69.5%,#398b69 72.5%,#409455 76.5%,#459a49 79.5%,#4c9c47 80.5%,#71a550 87.5%,#77a652 88.5%,#8bab56 92.5%,#9fb159 95.5%,#b6b65e 98.5%,#b9b260 99.5%)"></i><i style="background:linear-gradient(90deg,#d5b194 0.5%,#d2ae8d 1.5%,#c1a368 5.5%,#bfa664 6.5%,#b8b55f 10.5%,#b3b65d 11.5%,#9eb059 14.5%,#7da753 18.5%,#73a551 19.5%,#509d48 22.5%,#459a49 23.5%,#328379 30.5%,#307f7f 31.5%,#1e527b 36.5%,#0e2076 41.5%,#091075 43.5%,#060374 45.5%,#040066 46.5%,#030059 47.5%,#03004e 48.5%,#020046 49.5%,#020046 51.5%,#030051 52.5%,#04005f 53.5%,#050170 54.5%,#070774 55.5%,#080d75 56.5%,#102677 59.5%,#24627c 65.5%,#2e7c7f 68.5%,#31817d 69.5%,#398b69 72.5%,#409455 76.5%,#459a49 79.5%,#4c9c47 80.5%,#78a652 88.5%,#8cab56 92.5%,#9fb15a 95.5%,#b7b65e 98.5%,#b9b260 99.5%)"></i><i style="background:linear-gradient(90deg,#d5b194 0.5%,#d1ae8c 1.5%,#c9a779 3.5%,#c1a368 5.5%,#bfa664 6.5%,#b8b55f 10.5%,#b2b65d 11.5%,#9db059 14.5%,#7ca753 18.5%,#5ca04b 21.5%,#4f9c47 22.5%,#45994a 23.5%,#328379 30.5%,#2f7f7f 31.5%,#1d517b 36.5%,#133278 39.5%,#0b1776 42.5%,#050274 45.5%,#040064 46.5%,#020044 49.5%,#020044 51.5%,#03005a 53.5%,#05006f 54.5%,#070774 55.5%,#080c75 56.5%,#0f2577 59.5%,#23627c 65.5%,#2e7b7f 68.5%,#31817d 69.5%,#398a6a 72.5%,#3d905f 74.5%,#459a49 79.5%,#4c9c47 80.5%,#5ea04b 83.5%,#67a34e 85.5%,#78a652 88.5%,#8cab56 92.5%,#a0b15a 95.5%,#b0b55d 97.5%,#b7b65e 98.5%,#b9b260 99.5%)"></i><i style="background:linear-gradient(90deg,#d5b194 0.5%,#d1ae8c 1.5%,#c8a778 3.5%,#c0a367 5.5%,#bfa764 6.5%,#b8b55f 10.5%,#b2b55d 11.5%,#9cb059 14.5%,#7ba753 18.5%,#5a9f4a 21.5%,#4d9c47 22.5%,#45994a 23.5%,#32837a 30.5%,#2f7e7f 31.5%,#1d517a 36.5%,#173c79 38.5%,#0b1776 42.5%,#050274 45.5%,#040064 46.5%,#020042 49.5%,#020042 51.5%,#030057 53.5%,#05006d 54.5%,#060674 55.5%,#080b75 56.5%,#0f2477 59.5%,#23617c 65.5%,#2e7b7f 68.5%,#31817d 69.5%,#3d8f5f 74.5%,#459a49 79.5%,#4c9c47 80.5%,#5ea04b 83.5%,#67a34e 85.5%,#79a652 88.5%,#8dac56 92.5%,#a0b15a 95.5%,#b1b55d 97.5%,#b7b65e 98.5%,#bab260 99.5%)"></i><i style="background:linear-gradient(90deg,#d5b194 0.5%,#c8a778 3.5%,#c0a466 5.5%,#b8b65e 10.5%,#aab35c 12.5%,#7aa752 18.5%,#4d9c47 22.5%,#44994b 23.5%,#32827a 30.5%,#2f7e7f 31.5%,#1d507a 36.5%,#0e1f76 41.5%,#090f75 43.5%,#050274 45.5%,#030055 47.5%,#02003f 49.5%,#02003f 51.5%,#030055 53.5%,#04006a 54.5%,#060574 55.5%,#080b75 56.5%,#0f2477 59.5%,#23617c 65.5%,#2e7b7f 68.5%,#31817e 69.5%,#3d8f5f 74.5%,#459a49 79.5%,#4c9c47 80.5%,#79a652 88.5%,#8dac56 92.5%,#9aaf58 94.5%,#b1b55d 97.5%,#b8b65e 98.5%,#bab160 99.5%)"></i><i style="background:linear-gradient(90deg,#d5b194 0.5%,#c8a777 3.5%,#c0a466 5.5%,#b7b65e 10.5%,#aab35b 12.5%,#7aa752 18.5%,#4c9c47 22.5%,#44994b 23.5%,#32827b 30.5%,#2f7e7f 31.5%,#286c7d 33.5%,#0e1f76 41.5%,#090f75 43.5%,#050274 45.5%,#030053 47.5%,#02003d 49.5%,#02003d 51.5%,#030053 53.5%,#040068 54.5%,#060474 55.5%,#080a75 56.5%,#0c1a76 58.5%,#184179 62.5%,#23607c 65.5%,#2e7a7f 68.5%,#31817e 69.5%,#3c8f5f 74.5%,#459a49 79.5%,#4c9c47 80.5%,#6ea450 86.5%,#94ad57 93.5%,#b1b55d 97.5%,#b8b65f 98.5%,#bab160 99.5%)"></i><i style="background:linear-gradient(90deg,#d5b194 0.5%,#c8a677 3.5%,#c0a465 5.5%,#b7b65e 10.5%,#a9b35b 12.5%,#79a652 18.5%,#4b9b46 22.5%,#44984c 23.5%,#32827b 30.5%,#2f7d7f 31.5%,#276c7d 33.5%,#0d1e76 41.5%,#090e75 43.5%,#050274 45.5%,#040064 46.5%,#030050 47.5%,#01003b 49.5%,#01003b 51.5%,#030050 53.5%,#040066 54.5%,#060374 55.5%,#0c1a76 58.5%,#184079 62.5%,#1b4c7a 63.5%,#26697d 66.5%,#2d7a7f 68.5%,#31817e 69.5%,#3c8f60 74.5%,#459a49 79.5%,#4c9c47 80.5%,#6fa450 86.5%,#94ae57 93.5%,#b2b55d 97.5%,#b8b55f 98.5%,#bab160 99.5%)"></i><i style="background:linear-gradient(90deg,#d5b194 0.5%,#c7a676 3.5%,#c3a46c 4.5%,#c0a565 5.5%,#b7b75e 10.5%,#78a652 18.5%,#4a9b46 22.5%,#44984c 23.5%,#31827c 30.5%,#2f7d7f 31.5%,#276b7d 33.5%,#0d1e76 41.5%,#090e75 43.5%,#050274 45.5%,#040064 46.5%,#03004e 47.5%,#010039 49.5%,#010039 51.5%,#03004e 53.5%,#040064 54.5%,#050274 55.5%,#091075 57.5%,#173f79 62.5%,#1b4b7a 63.5%,#26687d 66.5%,#2d7a7f 68.5%,#30817e 69.5%,#3c8f60 74.5%,#459a49 79.5%,#4c9c47 80.5%,#64a24d 84.5%,#94ae57 93.5%,#b2b65d 97.5%,#b8b55f 98.5%,#bab160 99.5%)"></i><i style="background:linear-gradient(90deg,#d5b093 0.5%,#c7a676 3.5%,#c3a46c 4.5%,#c0a565 5.5%,#b6b75e 10.5%,#77a652 18.5%,#499b47 22.5%,#44984d 23.5%,#31827c 30.5%,#2e7c7f 31.5%,#276b7d 33.5%,#0d1e76 41.5%,#070774 44.5%,#050274 45.5%,#03004e 47.5%,#020041 48.5%,#010039 49.5%,#010036 50.5%,#010036 51.5%,#03004c 53.5%,#040061 54.5%,#050273 55.5%,#091075 57.5%,#0c1876 58.5%,#173e79 62.5%,#1b4b7a 63.5%,#26687d 66.5%,#30807f 69.5%,#3c8f60 74.5%,#459a49 79.5%,#4c9c47 80.5%,#64a24d 84.5%,#95ae58 93.5%,#b2b65d 97.5%,#b8b55f 98.5%,#bab160 99.5%)"></i><i style="background:linear-gradient(90deg,#d4b093 0.5%,#c7a675 3.5%,#c2a46b 4.5%,#c0a565 5.5%,#b6b75e 10.5%,#76a651 18.5%,#489b47 22.5%,#43974e 23.5%,#31827c 30.5%,#2e7c7f 31.5%,#23627c 34.5%,#0d1e76 41.5%,#070774 44.5%,#050274 45.5%,#04005f 46.5%,#02003f 48.5%,#010039 49.5%,#010033 50.5%,#010033 51.5%,#02004a 53.5%,#04005f 54.5%,#050172 55.5%,#070874 56.5%,#0b1776 58.5%,#112a77 60.5%,#1b4a7a 63.5%,#25677d 66.5%,#30807f 69.5%,#3c8f60 74.5%,#459a49 79.5%,#4c9c47 80.5%,#64a24d 84.5%,#89ab55 91.5%,#9cb059 94.5%,#b3b65d 97.5%,#b8b55f 98.5%,#bab060 99.5%)"></i><i style="background:linear-gradient(90deg,#d4b092 0.5%,#c7a675 3.5%,#c2a46b 4.5%,#c0a564 5.5%,#b8b45f 9.5%,#b5b65e 10.5%,#7ea853 17.5%,#74a551 18.5%,#529d48 21.5%,#479a48 22.5%,#43974e 23.5%,#31817d 30.5%,#2e7b7f 31.5%,#23627c 34.5%,#0d1e76 41.5%,#070774 44.5%,#050274 45.5%,#04005d 46.5%,#02003d 48.5%,#010039 49.5%,#010030 50.5%,#010030 51.5%,#020048 53.5%,#050171 55.5%,#070874 56.5%,#0b1676 58.5%,#112977 60.5%,#225d7c 65.5%,#30807f 69.5%,#3c8f61 74.5%,#459a49 79.5%,#4c9c47 80.5%,#7ba753 88.5%,#8aab55 91.5%,#9db059 94.5%,#b3b65d 97.5%,#b8b55f 98.5%,#bab060 99.5%)"></i><i style="background:linear-gradient(90deg,#d4b092 0.5%,#c6a574 3.5%,#c2a46a 4.5%,#bfa564 5.5%,#b8b55f 9.5%,#b4b65e 10.5%,#7da753 17.5%,#73a551 18.5%,#519d48 21.5%,#469a48 22.5%,#31817d 30.5%,#2e7a7f 31.5%,#23627c 34.5%,#0d1e76 41.5%,#070774 44.5%,#050274 45.5%,#03005b 46.5%,#03004e 47.5%,#01003b 48.5%,#010039 49.5%,#01002e 50.5%,#01002e 51.5%,#020045 53.5%,#05006f 55.5%,#070774 56.5%,#0b1676 58.5%,#102877 60.5%,#215d7c 65.5%,#30807f 69.5%,#3c8f61 74.5%,#45994a 79.5%,#4c9c47 80.5%,#76a652 87.5%,#8aab55 91.5%,#b3b65d 97.5%,#b8b45f 98.5%,#bab061 99.5%)"></i><i style="background:linear-gradient(90deg,#d4b091 0.5%,#c6a574 3.5%,#c2a46a 4.5%,#bfa664 5.5%,#b8b55f 9.5%,#b4b65d 10.5%,#7ca753 17.5%,#509d48 21.5%,#459a49 22.5%,#31817d 30.5%,#2d7a7f 31.5%,#23627c 34.5%,#1f577b 35.5%,#194579 37.5%,#0d1e76 41.5%,#070774 44.5%,#050274 45.5%,#030059 46.5%,#03004e 47.5%,#010039 48.5%,#010038 49.5%,#01002b 50.5%,#01002b 51.5%,#010038 52.5%,#020043 53.5%,#05006e 55.5%,#070774 56.5%,#0b1575 58.5%,#102777 60.5%,#215c7c 65.5%,#308080 69.5%,#3c8e61 74.5%,#45994a 79.5%,#4c9c47 80.5%,#64a24d 84.5%,#69a34e 85.5%,#76a652 87.5%,#8bab56 91.5%,#b4b65d 97.5%,#b8b45f 98.5%,#bab061 99.5%)"></i><i style="background:linear-gradient(90deg,#d3af91 0.5%,#c6a573 3.5%,#c1a369 4.5%,#bfa664 5.5%,#b8b55f 9.5%,#b3b65d 10.5%,#7ba753 17.5%,#4f9d48 21.5%,#459a49 22.5%,#31817d 30.5%,#2d797f 31.5%,#23627c 34.5%,#0d1e76 41.5%,#070774 44.5%,#050274 45.5%,#030059 46.5%,#03004c 47.5%,#010039 48.5%,#010035 49.5%,#01002b 50.5%,#01002b 51.5%,#020041 53.5%,#05006c 55.5%,#070674 56.5%,#0b1475 58.5%,#102777 60.5%,#215b7c 65.5%,#307f80 69.5%,#3c8e61 74.5%,#45994a 79.5%,#4b9c47 80.5%,#76a652 87.5%,#8bab56 91.5%,#a5b25b 95.5%,#b4b65e 97.5%,#bbb061 99.5%)"></i><i style="background:linear-gradient(90deg,#d3af90 0.5%,#c6a573 3.5%,#c1a369 4.5%,#bfa664 5.5%,#b8b65f 9.5%,#b2b65d 10.5%,#7aa752 17.5%,#4e9c47 21.5%,#45994a 22.5%,#31817e 30.5%,#2d797f 31.5%,#23617c 34.5%,#0d1e76 41.5%,#070774 44.5%,#050274 45.5%,#030059 46.5%,#010039 48.5%,#01002b 50.5%,#01002b 51.5%,#010033 52.5%,#02003f 53.5%,#04006a 55.5%,#060674 56.5%,#0a1475 58.5%,#102677 60.5%,#215b7b 65.5%,#2f7f7f 69.5%,#32837a 70.5%,#3c8e62 74.5%,#409357 76.5%,#45994a 79.5%,#4b9b46 80.5%,#70a550 86.5%,#8bab56 91.5%,#a6b25b 95.5%,#b5b65e 97.5%,#bbaf61 99.5%)"></i><i style="background:linear-gradient(90deg,#d3af90 0.5%,#c1a368 4.5%,#bfa664 5.5%,#b8b65e 9.5%,#b2b55d 10.5%,#7aa752 17.5%,#4d9c47 21.5%,#45994a 22.5%,#31817e 30.5%,#2d797f 31.5%,#23617c 34.5%,#0d1e76 41.5%,#070774 44.5%,#050274 45.5%,#030059 46.5%,#020047 47.5%,#010039 48.5%,#010030 49.5%,#01002b 50.5%,#01002b 51.5%,#010030 52.5%,#02003c 53.5%,#040067 55.5%,#060574 56.5%,#0a1375 58.5%,#102677 60.5%,#24647c 66.5%,#2f7e7f 69.5%,#32837a 70.5%,#409357 76.5%,#45994a 79.5%,#4a9b46 80.5%,#71a550 86.5%,#8cab56 91.5%,#a6b25b 95.5%,#b6b75e 97.5%,#bbaf61 99.5%)"></i><i style="background:linear-gradient(90deg,#d3af8f 0.5%,#c1a368 4.5%,#bfa664 5.5%,#b7b65e 9.5%,#9aaf58 13.5%,#79a652 17.5%,#4d9c47 21.5%,#44994b 22.5%,#31817e 30.5%,#23607c 34.5%,#0d1e76 41.5%,#070774 44.5%,#050274 45.5%,#030059 46.5%,#020045 47.5%,#01002d 49.5%,#01002b 50.5%,#01002d 52.5%,#01003a 53.5%,#040065 55.5%,#060574 56.5%,#0a1375 58.5%,#0f2577 60.5%,#24647c 66.5%,#2f7d7f 69.5%,#32827b 70.5%,#409357 76.5%,#45994a 79.5%,#4a9b46 80.5%,#71a550 86.5%,#8cab56 91.5%,#a6b25b 95.5%,#b7b75e 97.5%,#bbae61 99.5%)"></i><i style="background:linear-gradient(90deg,#d2af8f 0.5%,#c1a367 4.5%,#bfa764 5.5%,#b7b65e 9.5%,#99af58 13.5%,#78a652 17.5%,#4c9c47 21.5%,#44994b 22.5%,#30817e 30.5%,#23607c 34.5%,#0d1e76 41.5%,#070774 44.5%,#050274 45.5%,#030059 46.5%,#020043 47.5%,#010039 48.5%,#01002b 49.5%,#010028 50.5%,#010028 51.5%,#01002b 52.5%,#010039 53.5%,#040063 55.5%,#060474 56.5%,#0a1275 58.5%,#0f2577 60.5%,#24637c 66.5%,#2f7d7f 69.5%,#32827b 70.5%,#409357 76.5%,#45994a 79.5%,#4a9b46 80.5%,#72a551 86.5%,#8cab56 91.5%,#a7b35b 95.5%,#b7b75e 97.5%,#bbae61 99.5%)"></i><i style="background:linear-gradient(90deg,#d2af8e 0.5%,#c5a571 3.5%,#c0a367 4.5%,#b7b65e 9.5%,#98af58 13.5%,#77a652 17.5%,#4b9b47 21.5%,#44984c 22.5%,#30807f 30.5%,#1f577b 35.5%,#0d1e76 41.5%,#070774 44.5%,#050274 45.5%,#030059 46.5%,#020043 47.5%,#010039 48.5%,#01002b 49.5%,#00001f 50.5%,#00001f 51.5%,#010039 53.5%,#02004b 54.5%,#040061 55.5%,#060373 56.5%,#080a75 57.5%,#0c1a76 59.5%,#153878 62.5%,#24637c 66.5%,#2e7c7f 69.5%,#32827b 70.5%,#3f9358 76.5%,#45994a 79.5%,#4a9b46 80.5%,#72a551 86.5%,#8dac56 91.5%,#a7b35b 95.5%,#b7b75e 97.5%,#bbae61 99.5%)"></i><i style="background:linear-gradient(90deg,#d2ae8d 0.5%,#c5a570 3.5%,#c0a366 4.5%,#b6b65e 9.5%,#98af58 13.5%,#76a652 17.5%,#4a9b47 21.5%,#44984c 22.5%,#30807f 30.5%,#1f577b 35.5%,#0d1e76 41.5%,#070774 44.5%,#050274 45.5%,#030059 46.5%,#020043 47.5%,#010039 48.5%,#01002b 49.5%,#000016 50.5%,#000016 51.5%,#01002b 52.5%,#010039 53.5%,#020049 54.5%,#04005e 55.5%,#050271 56.5%,#070975 57.5%,#0c1976 59.5%,#23627c 66.5%,#2e7c7f 69.5%,#31827c 70.5%,#3f9358 76.5%,#45994a 79.5%,#4a9b46 80.5%,#72a551 86.5%,#8dac56 91.5%,#a1b15a 94.5%,#b7b65e 97.5%,#bbae61 99.5%)"></i><i style="background:linear-gradient(90deg,#d2ae8d 0.5%,#c4a570 3.5%,#c0a466 4.5%,#b6b65e 9.5%,#97ae58 13.5%,#75a651 17.5%,#499b47 21.5%,#419554 23.5%,#30807f 30.5%,#1f577b 35.5%,#0d1e76 41.5%,#070774 44.5%,#050274 45.5%,#030059 46.5%,#020043 47.5%,#010039 48.5%,#01002b 49.5%,#00000d 50.5%,#00000d 51.5%,#01002b 52.5%,#020047 54.5%,#050170 56.5%,#070874 57.5%,#0c1876 59.5%,#23617c 66.5%,#2e7c7f 69.5%,#31827c 70.5%,#3f9358 76.5%,#44994b 79.5%,#4a9b46 80.5%,#72a551 86.5%,#8dac56 91.5%,#a1b15a 94.5%,#b7b65e 97.5%,#bbae61 99.5%)"></i><i style="background:linear-gradient(90deg,#d2ae8c 0.5%,#c4a46f 3.5%,#c0a465 4.5%,#b6b65e 9.5%,#7ea853 16.5%,#74a551 17.5%,#539d49 20.5%,#489b47 21.5%,#419455 23.5%,#30807f 30.5%,#1f577b 35.5%,#0d1e76 41.5%,#070774 44.5%,#050274 45.5%,#030059 46.5%,#020043 47.5%,#010039 48.5%,#01002b 49.5%,#000004 50.5%,#000004 51.5%,#01002b 52.5%,#020044 54.5%,#05006f 56.5%,#070774 57.5%,#0b1776 59.5%,#1f577b 65.5%,#276a7d 67.5%,#2e7b7f 69.5%,#31817d 70.5%,#3f9258 76.5%,#44994b 79.5%,#4a9b46 80.5%,#78a652 87.5%,#8eac56 91.5%,#b7b65e 97.5%,#bcad61 99.5%)"></i><i style="background:linear-gradient(90deg,#d1ae8c 0.5%,#c4a46f 3.5%,#c0a465 4.5%,#b9b45f 8.5%,#b5b65e 9.5%,#7da753 16.5%,#73a551 17.5%,#529d48 20.5%,#479a48 21.5%,#409455 23.5%,#308080 30.5%,#1f577b 35.5%,#0d1e76 41.5%,#090e75 43.5%,#050274 45.5%,#030059 46.5%,#020043 47.5%,#010039 48.5%,#01002b 49.5%,#000000 50.5%,#000000 51.5%,#010027 52.5%,#010037 53.5%,#020042 54.5%,#05006d 56.5%,#070774 57.5%,#0b1776 59.5%,#1f567b 65.5%,#276a7d 67.5%,#2e7b7f 69.5%,#31817d 70.5%,#388a6a 73.5%,#3f9259 76.5%,#44994b 79.5%,#499b46 80.5%,#78a652 87.5%,#87aa55 90.5%,#b1b55d 96.5%,#b7b65e 97.5%,#bcad62 99.5%)"></i><i style="background:linear-gradient(90deg,#d1ae8c 0.5%,#c4a46e 3.5%,#c0a465 4.5%,#b8b45f 8.5%,#b4b65e 9.5%,#7ca753 16.5%,#519d48 20.5%,#479a48 21.5%,#43974e 22.5%,#307f80 30.5%,#1c4d7a 36.5%,#0e1f76 41.5%,#090e75 43.5%,#050274 45.5%,#030059 46.5%,#020043 47.5%,#010039 48.5%,#01002b 49.5%,#000000 50.5%,#000000 51.5%,#00001e 52.5%,#010034 53.5%,#020040 54.5%,#04006b 56.5%,#060674 57.5%,#0b1676 59.5%,#22607c 66.5%,#2e7a7f 69.5%,#31817e 70.5%,#388a6a 73.5%,#3f9259 76.5%,#44994b 79.5%,#499b46 80.5%,#78a652 87.5%,#88aa55 90.5%,#b1b55d 96.5%,#b8b65e 97.5%,#bcad62 99.5%)"></i><i style="background:linear-gradient(90deg,#d1ae8c 0.5%,#c3a46e 3.5%,#c0a465 4.5%,#b8b45f 8.5%,#b4b65d 9.5%,#7ca753 16.5%,#509d48 20.5%,#469a49 21.5%,#32827b 29.5%,#307f80 30.5%,#1c4d7a 36.5%,#0e1f76 41.5%,#090f75 43.5%,#050274 45.5%,#030059 46.5%,#020043 47.5%,#010039 48.5%,#01002b 49.5%,#000000 50.5%,#000000 51.5%,#000015 52.5%,#010031 53.5%,#02003e 54.5%,#040069 56.5%,#060674 57.5%,#0b1676 59.5%,#225f7c 66.5%,#2d7a7f 69.5%,#31817e 70.5%,#388a6a 73.5%,#3f9259 76.5%,#44994b 79.5%,#499b47 80.5%,#78a652 87.5%,#88aa55 90.5%,#b1b55d 96.5%,#b8b65f 97.5%,#bcad62 99.5%)"></i><i style="background:linear-gradient(90deg,#d1ae8c 0.5%,#c3a46d 3.5%,#c0a465 4.5%,#b8b55f 8.5%,#b3b65d 9.5%,#7ba753 16.5%,#4f9d48 20.5%,#459a49 21.5%,#32827b 29.5%,#2f7f7f 30.5%,#1c4d7a 36.5%,#194379 37.5%,#0b1776 42.5%,#050274 45.5%,#030059 46.5%,#020043 47.5%,#010039 48.5%,#01002b 49.5%,#000000 50.5%,#000000 51.5%,#00000c 52.5%,#01002f 53.5%,#02003b 54.5%,#040066 56.5%,#060574 57.5%,#0e1f76 60.5%,#225f7c 66.5%,#2d797f 69.5%,#31817e 70.5%,#388a6a 73.5%,#3f9259 76.5%,#44994b 79.5%,#489b47 80.5%,#78a652 87.5%,#88aa55 90.5%,#b2b55d 96.5%,#b8b55f 97.5%,#bcad62 99.5%)"></i><i style="background:linear-gradient(90deg,#d1ae8c 0.5%,#c8a779 2.5%,#c3a46d 3.5%,#c0a565 4.5%,#b8b55f 8.5%,#b2b65d 9.5%,#acb45c 10.5%,#7aa752 16.5%,#4e9c47 20.5%,#45994a 21.5%,#31827c 29.5%,#2f7f7f 30.5%,#1c4d7a 36.5%,#194379 37.5%,#0b1776 42.5%,#050274 45.5%,#030059 46.5%,#020043 47.5%,#010039 48.5%,#01002b 49.5%,#000000 50.5%,#000000 51.5%,#000003 52.5%,#01002c 53.5%,#010039 54.5%,#040064 56.5%,#060574 57.5%,#0d1e76 60.5%,#173d79 63.5%,#1b497a 64.5%,#225e7c 66.5%,#30817e 70.5%,#388a6b 73.5%,#3f925a 76.5%,#489b47 80.5%,#4e9c47 81.5%,#579f4a 82.5%,#78a652 87.5%,#89ab55 90.5%,#b2b65d 96.5%,#b8b55f 97.5%,#bcad62 99.5%)"></i><i style="background:linear-gradient(90deg,#d1ae8c 0.5%,#c8a778 2.5%,#c3a46c 3.5%,#c0a565 4.5%,#b8b55f 8.5%,#b2b55d 9.5%,#abb45c 10.5%,#79a752 16.5%,#4d9c47 20.5%,#45994a 21.5%,#31827c 29.5%,#2f7e7f 30.5%,#1c4d7a 36.5%,#194379 37.5%,#0b1776 42.5%,#050274 45.5%,#03005a 46.5%,#020045 47.5%,#01002b 49.5%,#000000 50.5%,#000000 52.5%,#01002b 53.5%,#010039 54.5%,#03004c 55.5%,#040064 56.5%,#060474 57.5%,#0d1e76 60.5%,#225e7c 66.5%,#30807f 70.5%,#3e925a 76.5%,#479a47 80.5%,#4e9c47 81.5%,#64a24d 84.5%,#78a652 87.5%,#89ab55 90.5%,#b2b65d 96.5%,#b8b55f 97.5%,#bcac62 99.5%)"></i><i style="background:linear-gradient(90deg,#d1ae8b 0.5%,#c8a778 2.5%,#c2a46b 3.5%,#c0a565 4.5%,#b8b55f 8.5%,#b1b55d 9.5%,#79a652 16.5%,#4d9c47 20.5%,#44994b 21.5%,#31827c 29.5%,#2f7e7f 30.5%,#1c4d7a 36.5%,#194379 37.5%,#0b1776 42.5%,#050274 45.5%,#020047 47.5%,#01002b 49.5%,#000000 50.5%,#000000 52.5%,#01002b 53.5%,#010039 54.5%,#02004a 55.5%,#040064 56.5%,#060474 57.5%,#0d1d76 60.5%,#225d7c 66.5%,#30807f 70.5%,#3e915b 76.5%,#479a48 80.5%,#4e9c47 81.5%,#64a24d 84.5%,#78a652 87.5%,#89ab55 90.5%,#b3b65d 96.5%,#b8b55f 97.5%,#bcac62 99.5%)"></i><i style="background:linear-gradient(90deg,#d1ad8b 0.5%,#c8a777 2.5%,#c2a46b 3.5%,#c0a565 4.5%,#b8b65f 8.5%,#b1b55d 9.5%,#78a652 16.5%,#4c9c47 20.5%,#44994b 21.5%,#31817d 29.5%,#2f7e7f 30.5%,#225e7c 34.5%,#0b1776 42.5%,#050274 45.5%,#020049 47.5%,#010039 48.5%,#01002b 49.5%,#000000 50.5%,#000000 52.5%,#01002b 53.5%,#020048 55.5%,#040064 56.5%,#060374 57.5%,#0d1d76 60.5%,#215c7c 66.5%,#307f7f 70.5%,#409455 77.5%,#469a48 80.5%,#4e9c47 81.5%,#64a24d 84.5%,#78a652 87.5%,#89ab55 90.5%,#9db059 93.5%,#b3b65d 96.5%,#b8b55f 97.5%,#bcac62 99.5%)"></i><i style="background:linear-gradient(90deg,#d1ad8a 0.5%,#c8a677 2.5%,#c2a46a 3.5%,#bfa564 4.5%,#b8b65e 8.5%,#a9b35b 10.5%,#77a652 16.5%,#4b9b46 20.5%,#44984c 21.5%,#31817d 29.5%,#2f7d7f 30.5%,#225e7c 34.5%,#0b1776 42.5%,#050274 45.5%,#040061 46.5%,#03004c 47.5%,#010039 48.5%,#01002b 49.5%,#000000 50.5%,#000000 52.5%,#01002b 53.5%,#020046 55.5%,#040064 56.5%,#050374 57.5%,#0a1375 59.5%,#102677 61.5%,#1d527b 65.5%,#25657d 67.5%,#307f7f 70.5%,#328379 71.5%,#409456 77.5%,#469a48 80.5%,#4e9c47 81.5%,#78a652 87.5%,#89ab55 90.5%,#9db059 93.5%,#b3b65d 96.5%,#b8b45f 97.5%,#bcac62 99.5%)"></i><i style="background:linear-gradient(90deg,#d0ad8a 0.5%,#c7a676 2.5%,#c2a46a 3.5%,#bfa664 4.5%,#b7b65e 8.5%,#76a652 16.5%,#4a9b46 20.5%,#44984c 21.5%,#31817d 29.5%,#2f7d7f 30.5%,#225e7c 34.5%,#0b1776 42.5%,#050274 45.5%,#040063 46.5%,#010039 48.5%,#01002b 49.5%,#000000 50.5%,#000000 52.5%,#01002b 53.5%,#010039 54.5%,#020043 55.5%,#040064 56.5%,#050274 57.5%,#070975 58.5%,#0f2577 61.5%,#1d517b 65.5%,#25657d 67.5%,#2f7e7f 70.5%,#328379 71.5%,#409456 77.5%,#459a49 80.5%,#4e9c47 81.5%,#78a652 87.5%,#89ab55 90.5%,#9db059 93.5%,#b4b65d 96.5%,#b8b45f 97.5%,#bcac62 99.5%)"></i><i style="background:linear-gradient(90deg,#d0ad8a 0.5%,#c2a46a 3.5%,#bfa664 4.5%,#b7b65e 8.5%,#75a652 16.5%,#499b47 20.5%,#44984d 21.5%,#31817d 29.5%,#2f7d7f 30.5%,#225e7c 34.5%,#0b1776 42.5%,#050374 45.5%,#040064 46.5%,#010039 48.5%,#01002b 49.5%,#000000 50.5%,#000000 52.5%,#010023 53.5%,#010036 54.5%,#020043 55.5%,#040061 56.5%,#050273 57.5%,#070975 58.5%,#0f2477 61.5%,#1d507a 65.5%,#24657c 67.5%,#2f7e7f 70.5%,#32837a 71.5%,#409356 77.5%,#459a49 80.5%,#4e9c47 81.5%,#78a652 87.5%,#89ab55 90.5%,#9db059 93.5%,#b4b65d 96.5%,#b8b45f 97.5%,#bdab62 99.5%)"></i><i style="background:linear-gradient(90deg,#d0ad8a 0.5%,#c2a46a 3.5%,#bfa664 4.5%,#b7b65e 8.5%,#74a551 16.5%,#489b47 20.5%,#43984d 21.5%,#31817e 29.5%,#2e7c7f 30.5%,#225e7c 34.5%,#0c1876 42.5%,#060374 45.5%,#040064 46.5%,#010039 48.5%,#01002b 49.5%,#000000 50.5%,#000000 52.5%,#010033 54.5%,#020043 55.5%,#04005f 56.5%,#050172 57.5%,#070874 58.5%,#0f2477 61.5%,#24647c 67.5%,#2f7e7f 70.5%,#32827a 71.5%,#409356 77.5%,#459a49 80.5%,#4d9c47 81.5%,#72a551 86.5%,#9db059 93.5%,#b4b65e 96.5%,#b8b45f 97.5%,#bdab62 99.5%)"></i><i style="background:linear-gradient(90deg,#d0ad8a 0.5%,#c2a46a 3.5%,#bfa664 4.5%,#b7b75e 8.5%,#7da753 15.5%,#73a551 16.5%,#529d48 19.5%,#479a48 20.5%,#43974e 21.5%,#31817e 29.5%,#2e7c7f 30.5%,#225e7c 34.5%,#0c1876 42.5%,#060474 45.5%,#040064 46.5%,#010039 48.5%,#01002b 49.5%,#000000 50.5%,#000000 52.5%,#000011 53.5%,#010030 54.5%,#020043 55.5%,#04005d 56.5%,#050171 57.5%,#070874 58.5%,#0f2377 61.5%,#24637c 67.5%,#2f7d7f 70.5%,#32827b 71.5%,#3b8e62 75.5%,#409357 77.5%,#459a49 80.5%,#4d9c47 81.5%,#72a551 86.5%,#9eb059 93.5%,#b5b65e 96.5%,#b8b45f 97.5%,#bdab62 99.5%)"></i><i style="background:linear-gradient(90deg,#d0ad8a 0.5%,#c6a574 2.5%,#c2a46a 3.5%,#bfa664 4.5%,#b7b75e 8.5%,#7ca753 15.5%,#519d48 19.5%,#469a48 20.5%,#31817e 29.5%,#2e7c7f 30.5%,#225e7c 34.5%,#0c1976 42.5%,#060474 45.5%,#040064 46.5%,#010039 48.5%,#01002b 49.5%,#000000 50.5%,#000000 52.5%,#000008 53.5%,#01002e 54.5%,#03005b 56.5%,#05006f 57.5%,#070774 58.5%,#0f2377 61.5%,#24637c 67.5%,#2f7d7f 70.5%,#32827b 71.5%,#409357 77.5%,#45994a 80.5%,#4c9c47 81.5%,#72a551 86.5%,#9eb059 93.5%,#b5b65e 96.5%,#bdab62 99.5%)"></i><i style="background:linear-gradient(90deg,#d0ad8a 0.5%,#ccaa80 1.5%,#c6a574 2.5%,#c2a46a 3.5%,#bfa664 4.5%,#b7b75e 8.5%,#7ca753 15.5%,#509d48 19.5%,#459a49 20.5%,#30817e 29.5%,#2e7b7f 30.5%,#225e7c 34.5%,#194579 37.5%,#112977 40.5%,#0c1976 42.5%,#060574 45.5%,#040064 46.5%,#010039 48.5%,#01002b 49.5%,#000000 50.5%,#000000 53.5%,#01002b 54.5%,#020043 55.5%,#05006e 57.5%,#070774 58.5%,#0f2277 61.5%,#20597b 66.5%,#2f7d7f 70.5%,#31827c 71.5%,#3b8e62 75.5%,#409357 77.5%,#45994a 80.5%,#4c9c47 81.5%,#69a34e 85.5%,#72a551 86.5%,#9eb059 93.5%,#b5b65e 96.5%,#bdab62 99.5%)"></i><i style="background:linear-gradient(90deg,#d0ad89 0.5%,#cca97f 1.5%,#c6a573 2.5%,#c1a369 3.5%,#bfa764 4.5%,#b6b75e 8.5%,#7ba753 15.5%,#4f9d48 19.5%,#459a49 20.5%,#30817e 29.5%,#2e7b7f 30.5%,#225e7c 34.5%,#194579 37.5%,#112a77 40.5%,#060574 45.5%,#040066 46.5%,#03004e 47.5%,#01003b 48.5%,#01002b 49.5%,#000000 50.5%,#000000 53.5%,#01002b 54.5%,#030056 56.5%,#05006e 57.5%,#070774 58.5%,#0f2276 61.5%,#23627c 67.5%,#2e7c7f 70.5%,#31827c 71.5%,#3f9358 77.5%,#45994a 80.5%,#4b9c47 81.5%,#71a550 86.5%,#9eb059 93.5%,#b6b75e 96.5%,#bdab63 99.5%)"></i><i style="background:linear-gradient(90deg,#d0ad89 0.5%,#cba97f 1.5%,#c6a573 2.5%,#c1a369 3.5%,#bfa764 4.5%,#b6b65e 8.5%,#7aa752 15.5%,#4e9c47 19.5%,#45994a 20.5%,#30817e 29.5%,#225d7c 34.5%,#112a77 40.5%,#0a1275 43.5%,#060574 45.5%,#040068 46.5%,#03004e 47.5%,#01002b 49.5%,#000000 50.5%,#000000 53.5%,#01002b 54.5%,#030054 56.5%,#05006e 57.5%,#070774 58.5%,#0e2176 61.5%,#23617c 67.5%,#2e7c7f 70.5%,#31817c 71.5%,#3b8d63 75.5%,#45994a 80.5%,#4b9b46 81.5%,#71a550 86.5%,#9eb059 93.5%,#b6b75e 96.5%,#bdaa63 99.5%)"></i><i style="background:linear-gradient(90deg,#d0ad88 0.5%,#cba97e 1.5%,#c5a572 2.5%,#c1a368 3.5%,#bfa764 4.5%,#b9b45f 7.5%,#b5b65e 8.5%,#7aa752 15.5%,#4d9c47 19.5%,#45994a 20.5%,#30817e 29.5%,#25657d 33.5%,#0a1275 43.5%,#060574 45.5%,#04006a 46.5%,#03004e 47.5%,#02003f 48.5%,#01002b 49.5%,#000000 50.5%,#000000 53.5%,#01002b 54.5%,#02003c 55.5%,#030052 56.5%,#05006e 57.5%,#070774 58.5%,#0e2176 61.5%,#23617c 67.5%,#2e7c7f 70.5%,#31817d 71.5%,#3d905e 76.5%,#44994b 80.5%,#4a9b46 81.5%,#70a550 86.5%,#9eb059 93.5%,#b6b75e 96.5%,#bdaa63 99.5%)"></i><i style="background:linear-gradient(90deg,#cfac88 0.5%,#cba97e 1.5%,#c5a572 2.5%,#c1a368 3.5%,#bfa764 4.5%,#b8b45f 7.5%,#b4b65e 8.5%,#79a652 15.5%,#4d9c47 19.5%,#44994b 20.5%,#30817e 29.5%,#25657d 33.5%,#0a1275 43.5%,#060574 45.5%,#05006d 46.5%,#03004e 47.5%,#020042 48.5%,#01002b 49.5%,#000000 50.5%,#000000 53.5%,#01002b 54.5%,#01003a 55.5%,#030050 56.5%,#05006e 57.5%,#070774 58.5%,#090e75 59.5%,#0e2176 61.5%,#23607c 67.5%,#2e7b7f 70.5%,#31817d 71.5%,#3d905e 76.5%,#44994b 80.5%,#4a9b46 81.5%,#69a34e 85.5%,#9eb059 93.5%,#b7b75e 96.5%,#bdaa63 99.5%)"></i><i style="background:linear-gradient(90deg,#cfac87 0.5%,#c5a571 2.5%,#c1a367 3.5%,#bea764 4.5%,#b8b45f 7.5%,#b4b65d 8.5%,#78a652 15.5%,#4c9c47 19.5%,#44994b 20.5%,#30817e 29.5%,#25657d 33.5%,#0a1375 43.5%,#060574 45.5%,#05006e 46.5%,#03004f 47.5%,#020043 48.5%,#01002b 49.5%,#000000 50.5%,#000000 53.5%,#01002b 54.5%,#010039 55.5%,#03004e 56.5%,#05006e 57.5%,#070774 58.5%,#090e75 59.5%,#0e2076 61.5%,#23607c 67.5%,#2e7b7f 70.5%,#31817d 71.5%,#3d8f5f 76.5%,#44994b 80.5%,#4a9b46 81.5%,#69a34e 85.5%,#9eb059 93.5%,#b7b75e 96.5%,#bdaa63 99.5%)"></i><i style="background:linear-gradient(90deg,#cfac87 0.5%,#c5a571 2.5%,#c0a367 3.5%,#b8b45f 7.5%,#b3b65d 8.5%,#8aab55 13.5%,#77a652 15.5%,#4b9b47 19.5%,#44984c 20.5%,#30807f 29.5%,#25657d 33.5%,#0a1375 43.5%,#060574 45.5%,#05006e 46.5%,#030051 47.5%,#020043 48.5%,#01002b 49.5%,#000000 50.5%,#000000 53.5%,#01002b 54.5%,#010039 55.5%,#03004e 56.5%,#04006b 57.5%,#060674 58.5%,#080d75 59.5%,#0e2076 61.5%,#22607c 67.5%,#2e7a7f 70.5%,#31817e 71.5%,#3c8f5f 76.5%,#44994b 80.5%,#499b46 81.5%,#68a34e 85.5%,#9fb059 93.5%,#b7b75e 96.5%,#bdaa63 99.5%)"></i><i style="background:linear-gradient(90deg,#cfac87 0.5%,#c5a571 2.5%,#c0a366 3.5%,#b8b55f 7.5%,#b3b65d 8.5%,#80a853 14.5%,#76a652 15.5%,#4a9b47 19.5%,#44984c 20.5%,#30807f 29.5%,#25657d 33.5%,#0a1375 43.5%,#060674 45.5%,#05006e 46.5%,#030053 47.5%,#020043 48.5%,#01002b 49.5%,#000000 50.5%,#000000 53.5%,#01002b 54.5%,#010039 55.5%,#03004e 56.5%,#040069 57.5%,#060674 58.5%,#080d75 59.5%,#0e1f76 61.5%,#225f7c 67.5%,#2d7a7f 70.5%,#31817e 71.5%,#3c8f60 76.5%,#44984c 80.5%,#499b47 81.5%,#76a652 87.5%,#98af58 92.5%,#b7b75e 96.5%,#bda963 99.5%)"></i><i style="background:linear-gradient(90deg,#cfac87 0.5%,#c5a571 2.5%,#c0a466 3.5%,#b8b55f 7.5%,#b3b65d 8.5%,#7fa853 14.5%,#499b47 19.5%,#44984d 20.5%,#388a6a 25.5%,#30807f 29.5%,#25657d 33.5%,#122d77 40.5%,#0d1c76 42.5%,#060674 45.5%,#05006e 46.5%,#030055 47.5%,#020043 48.5%,#01002b 49.5%,#000000 50.5%,#000000 53.5%,#01002b 54.5%,#010039 55.5%,#03004e 56.5%,#040067 57.5%,#060574 58.5%,#080c75 59.5%,#0e1f76 61.5%,#225f7c 67.5%,#2d797f 70.5%,#31817e 71.5%,#3a8c66 75.5%,#44984c 80.5%,#489b47 81.5%,#4f9c47 82.5%,#76a652 87.5%,#98af58 92.5%,#b7b75e 96.5%,#bea963 99.5%)"></i><i style="background:linear-gradient(90deg,#cfac87 0.5%,#c5a571 2.5%,#c0a465 3.5%,#b8b55f 7.5%,#b2b65d 8.5%,#7fa853 14.5%,#489b47 19.5%,#43984d 20.5%,#388a6b 25.5%,#30807f 29.5%,#25657d 33.5%,#143478 39.5%,#122e77 40.5%,#0d1c76 42.5%,#070774 45.5%,#05006e 46.5%,#020043 48.5%,#01002b 49.5%,#000000 50.5%,#000000 53.5%,#01002b 54.5%,#010039 55.5%,#040065 57.5%,#060574 58.5%,#080c75 59.5%,#0d1e76 61.5%,#225e7c 67.5%,#31817e 71.5%,#3e915b 77.5%,#44984c 80.5%,#489b47 81.5%,#4e9c47 82.5%,#76a652 87.5%,#89ab55 90.5%,#b7b75e 96.5%,#bea963 99.5%)"></i><i style="background:linear-gradient(90deg,#cfac87 0.5%,#c5a571 2.5%,#c0a465 3.5%,#b8b55f 7.5%,#b2b65d 8.5%,#7fa853 14.5%,#529d48 18.5%,#479a48 19.5%,#43974e 20.5%,#388a6b 25.5%,#308080 29.5%,#25657c 33.5%,#122e77 40.5%,#0d1c76 42.5%,#070774 45.5%,#05006f 46.5%,#020044 48.5%,#01002c 49.5%,#000004 50.5%,#000000 51.5%,#000000 53.5%,#010027 54.5%,#010039 55.5%,#040064 57.5%,#060474 58.5%,#080b75 59.5%,#0d1e76 61.5%,#225e7c 67.5%,#30807e 71.5%,#3e915b 77.5%,#479a48 81.5%,#4e9c47 82.5%,#76a652 87.5%,#89ab55 90.5%,#b7b75e 96.5%,#bea963 99.5%)"></i><i style="background:linear-gradient(90deg,#cfac87 0.5%,#c5a570 2.5%,#c0a465 3.5%,#b8b55f 7.5%,#b2b55d 8.5%,#7ea853 14.5%,#519d48 18.5%,#479a48 19.5%,#43974e 20.5%,#348476 27.5%,#307f80 29.5%,#24657c 33.5%,#122e77 40.5%,#0d1c76 42.5%,#070874 45.5%,#050170 46.5%,#020047 48.5%,#01002f 49.5%,#00000d 50.5%,#000000 51.5%,#000000 53.5%,#00001e 54.5%,#010039 55.5%,#02004b 56.5%,#040064 57.5%,#060474 58.5%,#0d1d76 61.5%,#225d7c 67.5%,#30807f 71.5%,#409356 78.5%,#479a48 81.5%,#4d9c47 82.5%,#75a652 87.5%,#89ab55 90.5%,#b7b75e 96.5%,#bea963 99.5%)"></i><i style="background:linear-gradient(90deg,#cfac87 0.5%,#c5a570 2.5%,#c0a465 3.5%,#b8b65f 7.5%,#b1b55d 8.5%,#7da753 14.5%,#509d48 18.5%,#469a49 19.5%,#43974f 20.5%,#348476 27.5%,#307f80 29.5%,#24647c 33.5%,#1a467a 37.5%,#0d1d76 42.5%,#070874 45.5%,#050171 46.5%,#04005e 47.5%,#010032 49.5%,#000016 50.5%,#000000 51.5%,#000000 53.5%,#000015 54.5%,#010039 55.5%,#020048 56.5%,#040064 57.5%,#060374 58.5%,#0d1d76 61.5%,#215c7c 67.5%,#307f7f 71.5%,#409357 78.5%,#469a49 81.5%,#4d9c47 82.5%,#75a651 87.5%,#89ab55 90.5%,#a7b25b 94.5%,#b7b65e 96.5%,#bea963 99.5%)"></i><i style="background:linear-gradient(90deg,#cfac87 0.5%,#c4a56f 2.5%,#c0a465 3.5%,#b8b65e 7.5%,#b1b55d 8.5%,#7da753 14.5%,#4f9d48 18.5%,#459a49 19.5%,#338477 27.5%,#2f7f7f 29.5%,#24647c 33.5%,#1a477a 37.5%,#0d1d76 42.5%,#050272 46.5%,#040061 47.5%,#00001f 50.5%,#000000 51.5%,#000000 53.5%,#00000c 54.5%,#010039 55.5%,#020046 56.5%,#040064 57.5%,#060374 58.5%,#0d1c76 61.5%,#163b79 64.5%,#1a487a 65.5%,#25667d 68.5%,#307f7f 71.5%,#409357 78.5%,#459a49 81.5%,#4c9c47 82.5%,#75a551 87.5%,#90ac57 91.5%,#b7b65e 96.5%,#bea963 99.5%)"></i><i style="background:linear-gradient(90deg,#cfac87 0.5%,#c4a46f 2.5%,#c0a465 3.5%,#b7b65e 7.5%,#b1b55d 8.5%,#7ca753 14.5%,#72a551 15.5%,#65a24d 16.5%,#4e9c47 18.5%,#45994a 19.5%,#338477 27.5%,#2f7f7f 29.5%,#1a477a 37.5%,#0d1e76 42.5%,#050274 46.5%,#040063 47.5%,#010038 49.5%,#010028 50.5%,#000000 51.5%,#000000 53.5%,#000003 54.5%,#010039 55.5%,#020044 56.5%,#040064 57.5%,#050274 58.5%,#0d1c76 61.5%,#163b79 64.5%,#1a477a 65.5%,#25657d 68.5%,#2f7f7f 71.5%,#32827b 72.5%,#358673 73.5%,#409357 78.5%,#45994a 81.5%,#4c9c47 82.5%,#74a551 87.5%,#90ac56 91.5%,#b7b65e 96.5%,#bea963 99.5%)"></i><i style="background:linear-gradient(90deg,#cfac87 0.5%,#c4a46f 2.5%,#c0a465 3.5%,#b7b65e 7.5%,#b0b55d 8.5%,#7ba753 14.5%,#71a550 15.5%,#4d9c47 18.5%,#45994a 19.5%,#338477 27.5%,#2f7e7f 29.5%,#1a477a 37.5%,#0d1e76 42.5%,#050374 46.5%,#040064 47.5%,#010039 49.5%,#01002b 50.5%,#000000 51.5%,#000000 54.5%,#010039 55.5%,#020043 56.5%,#040062 57.5%,#050274 58.5%,#0d1c76 61.5%,#163a79 64.5%,#1a477a 65.5%,#25657c 68.5%,#2f7e7f 71.5%,#32827b 72.5%,#358674 73.5%,#3f9358 78.5%,#45994a 81.5%,#4b9b47 82.5%,#74a551 87.5%,#8fac56 91.5%,#b7b65e 96.5%,#bea963 99.5%)"></i><i style="background:linear-gradient(90deg,#cfac86 0.5%,#c4a46f 2.5%,#c0a465 3.5%,#b7b65e 7.5%,#b0b55d 8.5%,#7aa752 14.5%,#4d9c47 18.5%,#44994b 19.5%,#31827c 28.5%,#2f7e7f 29.5%,#24647c 33.5%,#1a477a 37.5%,#0b1776 43.5%,#060374 46.5%,#040064 47.5%,#010039 49.5%,#01002b 50.5%,#000000 51.5%,#000000 54.5%,#010039 55.5%,#020043 56.5%,#040060 57.5%,#050274 58.5%,#0d1c76 61.5%,#24657c 68.5%,#2f7e7f 71.5%,#32827b 72.5%,#37886e 74.5%,#3f9358 78.5%,#45994a 81.5%,#4a9b47 82.5%,#7ba753 88.5%,#8fac56 91.5%,#b7b65e 96.5%,#bea963 99.5%)"></i><i style="background:linear-gradient(90deg,#cfac86 0.5%,#c4a46f 2.5%,#c0a465 3.5%,#b7b65e 7.5%,#7aa752 14.5%,#4c9c47 18.5%,#44994b 19.5%,#3b8e62 23.5%,#31817d 28.5%,#2f7e7f 29.5%,#24647c 33.5%,#1a477a 37.5%,#0b1776 43.5%,#060474 46.5%,#040064 47.5%,#010039 49.5%,#01002b 50.5%,#000000 51.5%,#000000 54.5%,#010039 55.5%,#020043 56.5%,#04005d 57.5%,#050274 58.5%,#0d1c76 61.5%,#163a78 64.5%,#1a467a 65.5%,#24647c 68.5%,#2f7e7f 71.5%,#32827b 72.5%,#3f9259 78.5%,#44994a 81.5%,#499b47 82.5%,#7ba752 88.5%,#8fac56 91.5%,#b7b65e 96.5%,#bea963 99.5%)"></i><i style="background:linear-gradient(90deg,#ceac85 0.5%,#c4a46f 2.5%,#c0a565 3.5%,#b7b75e 7.5%,#79a652 14.5%,#589f4a 17.5%,#4b9b46 18.5%,#44984c 19.5%,#3b8e63 23.5%,#31817d 28.5%,#2f7d7f 29.5%,#1d4f7a 36.5%,#0b1776 43.5%,#060474 46.5%,#040064 47.5%,#010039 49.5%,#01002b 50.5%,#000000 51.5%,#000000 54.5%,#010039 55.5%,#020043 56.5%,#050274 58.5%,#0a1275 60.5%,#0f2577 62.5%,#24647c 68.5%,#2f7d7f 71.5%,#32827c 72.5%,#3d905e 77.5%,#44994b 81.5%,#489b47 82.5%,#7aa752 88.5%,#88aa55 90.5%,#b7b65e 96.5%,#bea863 99.5%)"></i><i style="background:linear-gradient(90deg,#ceab85 0.5%,#c4a46f 2.5%,#c0a565 3.5%,#b7b75e 7.5%,#78a652 14.5%,#579f4a 17.5%,#4a9b46 18.5%,#44984c 19.5%,#3b8d63 23.5%,#31817d 28.5%,#2f7d7f 29.5%,#1d4f7a 36.5%,#0b1776 43.5%,#070975 45.5%,#060574 46.5%,#040064 47.5%,#010039 49.5%,#01002b 50.5%,#000000 51.5%,#000000 54.5%,#010039 55.5%,#020043 56.5%,#030059 57.5%,#050274 58.5%,#070975 59.5%,#0f2577 62.5%,#24647c 68.5%,#2f7d7f 71.5%,#31827c 72.5%,#3d905f 77.5%,#489b47 82.5%,#509d48 83.5%,#7aa752 88.5%,#87aa55 90.5%,#b7b65e 96.5%,#bea863 99.5%)"></i><i style="background:linear-gradient(90deg,#ceab85 0.5%,#c4a46e 2.5%,#c0a565 3.5%,#b7b75e 7.5%,#78a652 14.5%,#569e49 17.5%,#499b46 18.5%,#44984c 19.5%,#3b8d64 23.5%,#31817d 28.5%,#2f7d7f 29.5%,#1d4f7a 36.5%,#0b1776 43.5%,#070a75 45.5%,#060574 46.5%,#040066 47.5%,#01003b 49.5%,#01002b 50.5%,#000000 51.5%,#000000 53.5%,#000008 54.5%,#010039 55.5%,#020043 56.5%,#030059 57.5%,#050274 58.5%,#070975 59.5%,#0f2477 62.5%,#24637c 68.5%,#2f7d7f 71.5%,#31827c 72.5%,#3d8f5f 77.5%,#479a48 82.5%,#509d48 83.5%,#7aa752 88.5%,#9eb059 93.5%,#b7b65e 96.5%,#bea863 99.5%)"></i><i style="background:linear-gradient(90deg,#ceab85 0.5%,#c4a46e 2.5%,#c0a565 3.5%,#b6b75e 7.5%,#77a652 14.5%,#499b47 18.5%,#44984d 19.5%,#3b8d64 23.5%,#31817e 28.5%,#2e7c7f 29.5%,#1d4f7a 36.5%,#0c1876 43.5%,#060574 46.5%,#040068 47.5%,#02003d 49.5%,#01002b 50.5%,#000000 51.5%,#000000 53.5%,#000011 54.5%,#010039 55.5%,#020043 56.5%,#030059 57.5%,#050274 58.5%,#0a1175 60.5%,#0f2477 62.5%,#24637c 68.5%,#2e7c7f 71.5%,#31827c 72.5%,#3c8f60 77.5%,#479a48 82.5%,#4f9d48 83.5%,#79a652 88.5%,#9eb059 93.5%,#b7b65e 96.5%,#bea863 99.5%)"></i><i style="background:linear-gradient(90deg,#ceab85 0.5%,#c3a46d 2.5%,#c0a564 3.5%,#b6b75e 7.5%,#77a652 14.5%,#489b47 18.5%,#44984d 19.5%,#388a6a 24.5%,#31817e 28.5%,#2e7c7f 29.5%,#24647c 33.5%,#1d4f7a 36.5%,#0c1876 43.5%,#060574 46.5%,#04006a 47.5%,#01002b 50.5%,#000000 51.5%,#000000 53.5%,#00001a 54.5%,#010039 55.5%,#020043 56.5%,#030059 57.5%,#050274 58.5%,#0a1175 60.5%,#0f2377 62.5%,#24637c 68.5%,#2e7c7f 71.5%,#31817d 72.5%,#3c8f60 77.5%,#469a48 82.5%,#4f9c47 83.5%,#5fa04c 85.5%,#79a652 88.5%,#8eac56 91.5%,#b7b65e 96.5%,#bea863 99.5%)"></i><i style="background:linear-gradient(90deg,#ceab85 0.5%,#c3a46d 2.5%,#bfa564 3.5%,#b6b75e 7.5%,#77a652 14.5%,#6aa34e 15.5%,#489b47 18.5%,#43984d 19.5%,#3c8f5f 22.5%,#31817e 28.5%,#2e7c7f 29.5%,#24647c 33.5%,#1d4f7a 36.5%,#0e2076 42.5%,#060574 46.5%,#05006c 47.5%,#01002b 50.5%,#000000 51.5%,#000000 53.5%,#010023 54.5%,#010039 55.5%,#020043 56.5%,#030059 57.5%,#050274 58.5%,#091175 60.5%,#0f2377 62.5%,#23627c 68.5%,#2e7c7f 71.5%,#31817d 72.5%,#3a8c66 76.5%,#469a48 82.5%,#4f9c47 83.5%,#569e49 84.5%,#79a652 88.5%,#8eac56 91.5%,#b7b65e 96.5%,#bea863 99.5%)"></i><i style="background:linear-gradient(90deg,#ceab85 0.5%,#c3a46c 2.5%,#bfa664 3.5%,#b9b35f 6.5%,#b5b65e 7.5%,#76a652 14.5%,#69a34e 15.5%,#529d48 17.5%,#479a47 18.5%,#43984d 19.5%,#388a6b 24.5%,#30817e 28.5%,#24647c 33.5%,#1d4f7a 36.5%,#173f79 38.5%,#112977 41.5%,#0e2076 42.5%,#060574 46.5%,#05006e 47.5%,#020043 49.5%,#01002b 50.5%,#000001 51.5%,#000000 53.5%,#01002b 54.5%,#010039 55.5%,#020043 56.5%,#030059 57.5%,#050274 58.5%,#091075 60.5%,#0f2277 62.5%,#23627c 68.5%,#2e7b7f 71.5%,#31817d 72.5%,#3a8c66 76.5%,#459a49 82.5%,#4e9c47 83.5%,#559e49 84.5%,#78a652 88.5%,#8eac56 91.5%,#b7b65e 96.5%,#bea863 99.5%)"></i><i style="background:linear-gradient(90deg,#ceab84 0.5%,#c3a46c 2.5%,#bfa664 3.5%,#b9b45f 6.5%,#b5b65e 7.5%,#75a651 14.5%,#68a34e 15.5%,#529d48 17.5%,#479a48 18.5%,#43974e 19.5%,#388a6b 24.5%,#30807f 28.5%,#24637c 33.5%,#1d4f7a 36.5%,#0e2176 42.5%,#060574 46.5%,#05006e 47.5%,#01002e 50.5%,#00000a 51.5%,#000000 52.5%,#000000 53.5%,#01002b 54.5%,#010039 55.5%,#020043 56.5%,#030059 57.5%,#050274 58.5%,#091075 60.5%,#0f2277 62.5%,#23627c 68.5%,#2e7b7f 71.5%,#31817e 72.5%,#3a8c66 76.5%,#459a49 82.5%,#4d9c47 83.5%,#549e49 84.5%,#78a652 88.5%,#8dac56 91.5%,#b7b65e 96.5%,#bea863 99.5%)"></i><i style="background:linear-gradient(90deg,#ceab84 0.5%,#c3a46c 2.5%,#bfa664 3.5%,#b8b45f 6.5%,#b5b65e 7.5%,#74a551 14.5%,#67a34e 15.5%,#519d48 17.5%,#469a48 18.5%,#43974f 19.5%,#388a6b 24.5%,#30807f 28.5%,#1d4f7a 36.5%,#0e2176 42.5%,#060674 46.5%,#05006e 47.5%,#020043 49.5%,#010031 50.5%,#000013 51.5%,#000000 52.5%,#000000 53.5%,#01002b 54.5%,#010039 55.5%,#020043 56.5%,#030059 57.5%,#050274 58.5%,#091075 60.5%,#0f2277 62.5%,#23617c 68.5%,#2d7a7f 71.5%,#31817e 72.5%,#3c8e62 77.5%,#45994a 82.5%,#4c9c47 83.5%,#77a652 88.5%,#8dac56 91.5%,#b7b65e 96.5%,#bea863 99.5%)"></i><i style="background:linear-gradient(90deg,#cdab83 0.5%,#c3a46c 2.5%,#bfa664 3.5%,#b8b45f 6.5%,#b4b65e 7.5%,#73a551 14.5%,#66a24d 15.5%,#509d48 17.5%,#469a49 18.5%,#3a8c66 23.5%,#30807f 28.5%,#1d4f7a 36.5%,#0e2276 42.5%,#060674 46.5%,#05006e 47.5%,#020043 49.5%,#010034 50.5%,#00001c 51.5%,#000000 52.5%,#000000 53.5%,#01002b 54.5%,#010039 55.5%,#020043 56.5%,#030059 57.5%,#050274 58.5%,#070874 59.5%,#0f2277 62.5%,#23617c 68.5%,#30807f 72.5%,#3b8e62 77.5%,#45994a 82.5%,#4b9b46 83.5%,#77a652 88.5%,#8dac56 91.5%,#b7b65e 96.5%,#bea863 99.5%)"></i><i style="background:linear-gradient(90deg,#cdab83 0.5%,#c3a46c 2.5%,#bfa664 3.5%,#b8b45f 6.5%,#b4b65d 7.5%,#72a551 14.5%,#65a24d 15.5%,#4f9c47 17.5%,#459a49 18.5%,#3a8c67 23.5%,#30807f 28.5%,#1d4f7a 36.5%,#112977 41.5%,#070774 46.5%,#05006e 47.5%,#020043 49.5%,#010037 50.5%,#010025 51.5%,#000000 52.5%,#000000 53.5%,#01002b 54.5%,#010039 55.5%,#020043 56.5%,#030059 57.5%,#050274 58.5%,#070774 59.5%,#091075 60.5%,#112c77 63.5%,#23607c 68.5%,#30807f 72.5%,#3b8e62 77.5%,#44994b 82.5%,#4a9b46 83.5%,#76a652 88.5%,#8cac56 91.5%,#b7b65e 96.5%,#bea863 99.5%)"></i><i style="background:linear-gradient(90deg,#cdaa82 0.5%,#c3a46c 2.5%,#bfa664 3.5%,#b8b45f 6.5%,#b4b65d 7.5%,#71a550 14.5%,#64a24d 15.5%,#4e9c47 17.5%,#45994a 18.5%,#398b67 23.5%,#308080 28.5%,#1d4f7a 36.5%,#133278 40.5%,#112a77 41.5%,#070774 46.5%,#05006f 47.5%,#020044 49.5%,#01002b 51.5%,#000003 52.5%,#000003 53.5%,#01002b 54.5%,#010039 55.5%,#020043 56.5%,#030059 57.5%,#050274 58.5%,#070774 59.5%,#112c77 63.5%,#23607c 68.5%,#308080 72.5%,#3b8e62 77.5%,#44994b 82.5%,#499b46 83.5%,#76a652 88.5%,#8cab56 91.5%,#b7b65e 96.5%,#bea863 99.5%)"></i><i style="background:linear-gradient(90deg,#cdaa82 0.5%,#c3a46c 2.5%,#bfa664 3.5%,#b8b45f 6.5%,#b3b65d 7.5%,#7ba753 13.5%,#4d9c47 17.5%,#44994a 18.5%,#398b68 23.5%,#308080 28.5%,#1d4f7a 36.5%,#070774 46.5%,#050170 47.5%,#020046 49.5%,#01002b 51.5%,#00000c 52.5%,#00000c 53.5%,#01002b 54.5%,#010039 55.5%,#020043 56.5%,#030059 57.5%,#050274 58.5%,#070774 59.5%,#0c1976 61.5%,#112c77 63.5%,#22607c 68.5%,#308080 72.5%,#3b8e63 77.5%,#44984c 82.5%,#489b47 83.5%,#75a651 88.5%,#8cab56 91.5%,#b7b65e 96.5%,#bea863 99.5%)"></i><i style="background:linear-gradient(90deg,#cdaa82 0.5%,#c2a46b 2.5%,#bfa664 3.5%,#b8b55f 6.5%,#b3b65d 7.5%,#7ba753 13.5%,#4c9c47 17.5%,#44994b 18.5%,#398b68 23.5%,#307f80 28.5%,#1d4f7a 36.5%,#070774 46.5%,#050171 47.5%,#04005e 48.5%,#020048 49.5%,#01002b 51.5%,#000015 52.5%,#000015 53.5%,#01002b 54.5%,#010039 55.5%,#020043 56.5%,#030059 57.5%,#050274 58.5%,#070774 59.5%,#0c1876 61.5%,#225f7c 68.5%,#307f80 72.5%,#3b8d63 77.5%,#44984c 82.5%,#489b47 83.5%,#509d48 84.5%,#74a551 88.5%,#8bab56 91.5%,#b7b65e 96.5%,#bea863 99.5%)"></i><i style="background:linear-gradient(90deg,#cdaa82 0.5%,#c2a46b 2.5%,#bfa664 3.5%,#b8b55f 6.5%,#b3b65d 7.5%,#7ba752 13.5%,#4b9b46 17.5%,#44994b 18.5%,#398b69 23.5%,#31827c 27.5%,#307f7f 28.5%,#1d4f7a 36.5%,#070774 46.5%,#050272 47.5%,#010039 50.5%,#00001e 52.5%,#00001e 53.5%,#010039 55.5%,#020043 56.5%,#030059 57.5%,#050274 58.5%,#070774 59.5%,#0c1876 61.5%,#225f7c 68.5%,#307f7f 72.5%,#3b8d64 77.5%,#479a48 83.5%,#509d48 84.5%,#73a551 88.5%,#84a954 90.5%,#8bab56 91.5%,#b7b75e 96.5%,#bea863 99.5%)"></i><i style="background:linear-gradient(90deg,#cdaa82 0.5%,#c2a46a 2.5%,#bfa664 3.5%,#b8b55f 6.5%,#b2b65d 7.5%,#7aa752 13.5%,#4a9b46 17.5%,#44984c 18.5%,#398a69 23.5%,#31817d 27.5%,#2f7f7f 28.5%,#2a727e 30.5%,#215c7c 34.5%,#1d4f7a 36.5%,#0f2577 42.5%,#0d1c76 43.5%,#070774 46.5%,#050273 47.5%,#040062 48.5%,#010039 50.5%,#01002b 51.5%,#010027 52.5%,#010027 53.5%,#01002b 54.5%,#010039 55.5%,#020043 56.5%,#030059 57.5%,#050274 58.5%,#070774 59.5%,#0b1776 61.5%,#1b4b7a 66.5%,#225e7c 68.5%,#2f7f7f 72.5%,#3a8d64 77.5%,#469a48 83.5%,#4f9c47 84.5%,#7ca753 89.5%,#8bab56 91.5%,#b7b75e 96.5%,#bea863 99.5%)"></i><i style="background:linear-gradient(90deg,#cdaa82 0.5%,#c2a36a 2.5%,#bfa764 3.5%,#b8b55f 6.5%,#b2b65d 7.5%,#7aa752 13.5%,#499b46 17.5%,#44984c 18.5%,#388a6a 23.5%,#31817d 27.5%,#2f7e7f 28.5%,#1d4f7a 36.5%,#0f2577 42.5%,#0d1c76 43.5%,#070774 46.5%,#050274 47.5%,#040064 48.5%,#01003a 50.5%,#01002c 51.5%,#01002b 54.5%,#010039 55.5%,#020043 56.5%,#030059 57.5%,#050274 58.5%,#070774 59.5%,#0b1776 61.5%,#1f557b 67.5%,#25677d 69.5%,#2f7e7f 72.5%,#388a6a 76.5%,#459a49 83.5%,#4e9c47 84.5%,#7ba753 89.5%,#8aab55 91.5%,#b7b75e 96.5%,#bea863 99.5%)"></i><i style="background:linear-gradient(90deg,#cdaa82 0.5%,#c1a369 2.5%,#bfa764 3.5%,#b8b55f 6.5%,#b2b55d 7.5%,#79a652 13.5%,#489b47 17.5%,#44984d 18.5%,#388a6a 23.5%,#31817e 27.5%,#2f7d7f 28.5%,#1d4f7a 36.5%,#1a477a 37.5%,#163b79 39.5%,#0d1c76 43.5%,#050274 47.5%,#040064 48.5%,#03004e 49.5%,#02003c 50.5%,#01002f 51.5%,#01002b 52.5%,#01002b 54.5%,#010039 55.5%,#020043 56.5%,#030059 57.5%,#050274 58.5%,#070874 59.5%,#0b1776 61.5%,#1b4b7a 66.5%,#25667d 69.5%,#2f7e7f 72.5%,#32827b 73.5%,#388a6a 76.5%,#459a49 83.5%,#4d9c47 84.5%,#7ba753 89.5%,#8aab55 91.5%,#b7b75e 96.5%,#bea863 99.5%)"></i><i style="background:linear-gradient(90deg,#cdaa82 0.5%,#c1a369 2.5%,#bfa764 3.5%,#b8b65f 6.5%,#b1b55d 7.5%,#78a652 13.5%,#529d48 16.5%,#479a47 17.5%,#43984d 18.5%,#388a6a 23.5%,#31817e 27.5%,#2f7d7f 28.5%,#1d4f7a 36.5%,#0d1d76 43.5%,#050274 47.5%,#040064 48.5%,#03004e 49.5%,#02003e 50.5%,#010032 51.5%,#01002b 52.5%,#01002b 54.5%,#010039 55.5%,#020043 56.5%,#030059 57.5%,#050274 58.5%,#0b1776 61.5%,#1b4a7a 66.5%,#25667d 69.5%,#2f7e7f 72.5%,#32827b 73.5%,#388a6b 76.5%,#45994a 83.5%,#4c9c47 84.5%,#66a34e 87.5%,#7ba753 89.5%,#8aab55 91.5%,#b7b75e 96.5%,#bea863 99.5%)"></i><i style="background:linear-gradient(90deg,#cdaa82 0.5%,#c1a368 2.5%,#bfa764 3.5%,#b8b65e 6.5%,#b1b55d 7.5%,#77a652 13.5%,#529d48 16.5%,#469a48 17.5%,#3a8c65 22.5%,#31817e 27.5%,#2e7c7f 28.5%,#1d4f7a 36.5%,#050274 47.5%,#040064 48.5%,#03004e 49.5%,#020040 50.5%,#01002b 52.5%,#01002b 54.5%,#010039 55.5%,#020043 56.5%,#030059 57.5%,#050274 58.5%,#0b1776 61.5%,#1b4a7a 66.5%,#25667d 69.5%,#2f7d7f 72.5%,#32827c 73.5%,#388a6b 76.5%,#45994a 83.5%,#4b9b46 84.5%,#66a24d 87.5%,#7aa752 89.5%,#89ab55 91.5%,#b7b75e 96.5%,#bea863 99.5%)"></i><i style="background:linear-gradient(90deg,#cdaa82 0.5%,#c1a368 2.5%,#bfa764 3.5%,#b7b65e 6.5%,#b1b55d 7.5%,#76a652 13.5%,#519d48 16.5%,#459a48 17.5%,#3a8c66 22.5%,#30817e 27.5%,#25677d 32.5%,#1d4f7a 36.5%,#050274 47.5%,#040064 48.5%,#03004e 49.5%,#01002b 52.5%,#01002b 54.5%,#010039 55.5%,#020043 56.5%,#030059 57.5%,#050274 58.5%,#0b1776 61.5%,#1b497a 66.5%,#25657d 69.5%,#2f7d7f 72.5%,#31827c 73.5%,#38896c 76.5%,#44994b 83.5%,#4a9b46 84.5%,#65a24d 87.5%,#7aa752 89.5%,#89ab55 91.5%,#a3b25a 94.5%,#b7b75e 96.5%,#bea863 99.5%)"></i><i style="background:linear-gradient(90deg,#cdaa82 0.5%,#c1a367 2.5%,#bea764 3.5%,#b7b65e 6.5%,#b0b55d 7.5%,#75a652 13.5%,#509d48 16.5%,#459a49 17.5%,#3a8c66 22.5%,#30807f 27.5%,#25667d 32.5%,#1d4f7a 36.5%,#143478 40.5%,#112c77 41.5%,#050374 47.5%,#040065 48.5%,#030050 49.5%,#01002d 52.5%,#01002b 53.5%,#01002d 54.5%,#020045 56.5%,#03005a 57.5%,#050274 58.5%,#0b1776 61.5%,#1e537b 67.5%,#25657d 69.5%,#2f7d7f 72.5%,#31827c 73.5%,#398b67 77.5%,#44994b 83.5%,#499b46 84.5%,#64a24d 87.5%,#79a752 89.5%,#89ab55 91.5%,#b7b75e 96.5%,#bea863 99.5%)"></i><i style="background:linear-gradient(90deg,#cdaa82 0.5%,#c1a367 2.5%,#bea864 3.5%,#b7b65e 6.5%,#afb55d 7.5%,#7fa853 12.5%,#509d48 16.5%,#459a49 17.5%,#3a8c67 22.5%,#30807f 27.5%,#1f557b 35.5%,#143478 40.5%,#112c77 41.5%,#060374 47.5%,#040067 48.5%,#030052 49.5%,#020043 50.5%,#010030 52.5%,#01002b 53.5%,#010030 54.5%,#020047 56.5%,#050274 58.5%,#0c1876 61.5%,#1e537b 67.5%,#25657d 69.5%,#2e7c7f 72.5%,#31827c 73.5%,#398b68 77.5%,#44984c 83.5%,#489b47 84.5%,#64a24d 87.5%,#79a652 89.5%,#88aa55 91.5%,#b6b75e 96.5%,#bea863 99.5%)"></i><i style="background:linear-gradient(90deg,#ccaa81 0.5%,#c1a367 2.5%,#bea864 3.5%,#b7b65e 6.5%,#a6b25b 8.5%,#7fa853 12.5%,#4f9c47 16.5%,#45994a 17.5%,#398b67 22.5%,#30807f 27.5%,#1f557b 35.5%,#143478 40.5%,#112c77 41.5%,#060474 47.5%,#04006a 48.5%,#030054 49.5%,#020043 50.5%,#010039 51.5%,#01002b 53.5%,#010033 54.5%,#020049 56.5%,#050274 58.5%,#0c1876 61.5%,#25657d 69.5%,#2e7c7f 72.5%,#31817d 73.5%,#398b68 77.5%,#44984c 83.5%,#479a47 84.5%,#509d48 85.5%,#78a652 89.5%,#88aa55 91.5%,#b6b75e 96.5%,#bea863 99.5%)"></i><i style="background:linear-gradient(90deg,#ccaa81 0.5%,#c1a367 2.5%,#bea863 3.5%,#b7b75e 6.5%,#7ea853 12.5%,#4f9c47 16.5%,#44994a 17.5%,#398b68 22.5%,#30807f 27.5%,#1f557b 35.5%,#143478 40.5%,#112c77 41.5%,#070975 46.5%,#060474 47.5%,#05006c 48.5%,#030056 49.5%,#020043 50.5%,#010039 51.5%,#010035 52.5%,#01002b 53.5%,#03004c 56.5%,#040061 57.5%,#050274 58.5%,#0c1976 61.5%,#25657d 69.5%,#2e7c7f 72.5%,#31817d 73.5%,#398b68 77.5%,#469a48 84.5%,#4f9c48 85.5%,#77a652 89.5%,#90ad57 92.5%,#b6b75e 96.5%,#bea863 99.5%)"></i><i style="background:linear-gradient(90deg,#ccaa80 0.5%,#c1a367 2.5%,#bea863 3.5%,#b7b75e 6.5%,#7da853 12.5%,#4e9c47 16.5%,#44994b 17.5%,#398b68 22.5%,#308080 27.5%,#1f557b 35.5%,#143478 40.5%,#112c77 41.5%,#070975 46.5%,#060574 47.5%,#05006e 48.5%,#020043 50.5%,#010039 51.5%,#010038 52.5%,#01002b 53.5%,#010038 54.5%,#03004e 56.5%,#040063 57.5%,#050274 58.5%,#091075 60.5%,#143478 64.5%,#1e537b 67.5%,#25657d 69.5%,#2e7b7f 72.5%,#31817d 73.5%,#398b68 77.5%,#459a48 84.5%,#4e9c47 85.5%,#76a652 89.5%,#8fac56 92.5%,#b5b65e 96.5%,#bea863 99.5%)"></i><i style="background:linear-gradient(90deg,#ccaa80 0.5%,#c1a367 2.5%,#bea863 3.5%,#b7b75e 6.5%,#7da753 12.5%,#4d9c47 16.5%,#44994b 17.5%,#398b69 22.5%,#307f80 27.5%,#1f557b 35.5%,#143478 40.5%,#070a75 46.5%,#060574 47.5%,#05006e 48.5%,#020045 50.5%,#01003b 51.5%,#010039 52.5%,#01002e 53.5%,#03004e 56.5%,#040064 57.5%,#050274 58.5%,#091075 60.5%,#143478 64.5%,#1e537b 67.5%,#25657c 69.5%,#2e7b7f 72.5%,#31817d 73.5%,#398b69 77.5%,#459a49 84.5%,#4d9c47 85.5%,#75a652 89.5%,#8fac56 92.5%,#b5b65e 96.5%,#bea863 99.5%)"></i><i style="background:linear-gradient(90deg,#ccaa80 0.5%,#c6a573 1.5%,#c0a366 2.5%,#b6b75e 6.5%,#7ca753 12.5%,#4c9c47 16.5%,#44984c 17.5%,#398a69 22.5%,#338478 25.5%,#2f7f7f 27.5%,#1e547b 35.5%,#143478 40.5%,#0b1776 44.5%,#060574 47.5%,#05006e 48.5%,#030059 49.5%,#020048 50.5%,#02003d 51.5%,#010039 52.5%,#010030 53.5%,#010039 54.5%,#03004e 56.5%,#040064 57.5%,#050274 58.5%,#091075 60.5%,#143478 64.5%,#1e537b 67.5%,#24647c 69.5%,#2e7b7f 72.5%,#31817e 73.5%,#398a69 77.5%,#45994a 84.5%,#4c9c47 85.5%,#7ea853 90.5%,#8fac56 92.5%,#b5b65e 96.5%,#bea863 99.5%)"></i><i style="background:linear-gradient(90deg,#ccaa80 0.5%,#c6a572 1.5%,#c0a466 2.5%,#b6b75e 6.5%,#7ba753 12.5%,#4b9c47 16.5%,#44984c 17.5%,#388a6a 22.5%,#338379 25.5%,#2f7e7f 27.5%,#1e547b 35.5%,#143478 40.5%,#0b1776 44.5%,#060574 47.5%,#05006e 48.5%,#030059 49.5%,#02004a 50.5%,#02003f 51.5%,#010033 53.5%,#010039 54.5%,#03004e 56.5%,#040064 57.5%,#050274 58.5%,#091075 60.5%,#143478 64.5%,#1e537b 67.5%,#24647c 69.5%,#2e7a7f 72.5%,#31817e 73.5%,#45994a 84.5%,#4b9c47 85.5%,#7ea853 90.5%,#8eac56 92.5%,#b5b65e 96.5%,#bea863 99.5%)"></i><i style="background:linear-gradient(90deg,#ccaa80 0.5%,#c5a572 1.5%,#c0a465 2.5%,#b6b75e 6.5%,#7ba752 12.5%,#4a9b46 16.5%,#44984d 17.5%,#388a6a 22.5%,#338379 25.5%,#2f7d7f 27.5%,#1c4d7a 36.5%,#143478 40.5%,#0b1776 44.5%,#060574 47.5%,#05006e 48.5%,#030059 49.5%,#03004c 50.5%,#010039 52.5%,#010036 53.5%,#010039 54.5%,#03004e 56.5%,#040064 57.5%,#050274 58.5%,#091075 60.5%,#143478 64.5%,#1e537b 67.5%,#276c7d 70.5%,#2d7a7f 72.5%,#31817e 73.5%,#44994b 84.5%,#4a9b46 85.5%,#7ea853 90.5%,#8eac56 92.5%,#b5b65e 96.5%,#bea863 99.5%)"></i><i style="background:linear-gradient(90deg,#ccaa80 0.5%,#c5a571 1.5%,#c0a465 2.5%,#b5b65e 6.5%,#7aa752 12.5%,#4a9b46 16.5%,#43984d 17.5%,#388a6b 22.5%,#32837a 25.5%,#31817d 26.5%,#2f7d7f 27.5%,#1c4d7a 36.5%,#122e77 41.5%,#0b1776 44.5%,#0a1275 45.5%,#060574 47.5%,#05006e 48.5%,#030059 49.5%,#010039 52.5%,#010039 54.5%,#03004e 56.5%,#040064 57.5%,#050274 58.5%,#091075 60.5%,#143478 64.5%,#1e537b 67.5%,#2b737e 71.5%,#2d7a7f 72.5%,#30817e 73.5%,#44994b 84.5%,#4a9b46 85.5%,#72a551 89.5%,#7da753 90.5%,#8eac56 92.5%,#b5b65e 96.5%,#bea863 99.5%)"></i><i style="background:linear-gradient(90deg,#cca97f 0.5%,#c5a571 1.5%,#c0a465 2.5%,#b9b360 5.5%,#b5b65e 6.5%,#7aa752 12.5%,#499b47 16.5%,#43974e 17.5%,#368770 23.5%,#31817e 26.5%,#2e7c7f 27.5%,#1c4d7a 36.5%,#122e77 41.5%,#0b1776 44.5%,#060574 47.5%,#050170 48.5%,#03005b 49.5%,#03004e 50.5%,#020043 51.5%,#01003b 52.5%,#01003b 54.5%,#030050 56.5%,#040066 57.5%,#050374 58.5%,#0c1976 61.5%,#1e537b 67.5%,#24647c 69.5%,#2d797f 72.5%,#30807f 73.5%,#44984c 84.5%,#499b47 85.5%,#7da753 90.5%,#8dac56 92.5%,#b5b65e 96.5%,#bea863 99.5%)"></i><i style="background:linear-gradient(90deg,#cba97f 0.5%,#c5a571 1.5%,#c0a465 2.5%,#b9b35f 5.5%,#b5b65e 6.5%,#79a652 12.5%,#539d48 15.5%,#489b47 16.5%,#43974f 17.5%,#348576 24.5%,#31817e 26.5%,#2e7c7f 27.5%,#1c4d7a 36.5%,#122e77 41.5%,#0c1876 44.5%,#060674 47.5%,#050171 48.5%,#04005d 49.5%,#03004e 50.5%,#020043 51.5%,#02003d 52.5%,#02003d 54.5%,#030053 56.5%,#040068 57.5%,#060374 58.5%,#0c1976 61.5%,#1b497a 66.5%,#24647c 69.5%,#2d797f 72.5%,#30807f 73.5%,#44984c 84.5%,#489b47 85.5%,#7ca753 90.5%,#8dac56 92.5%,#b5b65e 96.5%,#b9b35f 97.5%,#bea963 99.5%)"></i><i style="background:linear-gradient(90deg,#cba97e 0.5%,#c5a571 1.5%,#c0a465 2.5%,#b9b35f 5.5%,#b4b65e 6.5%,#79a652 12.5%,#529d48 15.5%,#479a48 16.5%,#43974f 17.5%,#348476 24.5%,#30807f 26.5%,#2e7c7f 27.5%,#1c4d7a 36.5%,#122e77 41.5%,#080b75 46.5%,#050172 48.5%,#03004e 50.5%,#020043 51.5%,#02003f 52.5%,#02003f 54.5%,#030055 56.5%,#04006a 57.5%,#060474 58.5%,#0c1976 61.5%,#1b497a 66.5%,#24647c 69.5%,#30807f 73.5%,#44984d 84.5%,#479a48 85.5%,#529d48 86.5%,#5b9f4b 87.5%,#7ba753 90.5%,#8dac56 92.5%,#b4b65e 96.5%,#b9b35f 97.5%,#bea963 99.5%)"></i><i style="background:linear-gradient(90deg,#cba97e 0.5%,#c5a571 1.5%,#c0a565 2.5%,#b9b35f 5.5%,#b4b65d 6.5%,#79a652 12.5%,#519d48 15.5%,#469a48 16.5%,#3e915c 19.5%,#358772 23.5%,#30807f 26.5%,#1c4d7a 36.5%,#122e77 41.5%,#080b75 46.5%,#050273 48.5%,#040062 49.5%,#03004e 50.5%,#020043 51.5%,#020042 54.5%,#030057 56.5%,#05006d 57.5%,#060474 58.5%,#0c1976 61.5%,#1b497a 66.5%,#24647c 69.5%,#30807f 73.5%,#469a48 85.5%,#519d48 86.5%,#5a9f4a 87.5%,#7aa752 90.5%,#83a954 91.5%,#b4b65d 96.5%,#b9b35f 97.5%,#bea963 99.5%)"></i><i style="background:linear-gradient(90deg,#cba97e 0.5%,#c5a571 1.5%,#c0a565 2.5%,#b9b35f 5.5%,#b4b65d 6.5%,#78a652 12.5%,#509d48 15.5%,#459a49 16.5%,#409456 18.5%,#398b67 21.5%,#338477 24.5%,#308080 26.5%,#1c4d7a 36.5%,#122e77 41.5%,#080c75 46.5%,#050274 48.5%,#040064 49.5%,#03004f 50.5%,#020044 51.5%,#020044 54.5%,#030059 56.5%,#05006e 57.5%,#060574 58.5%,#0c1976 61.5%,#1b497a 66.5%,#24647c 69.5%,#308080 73.5%,#459a49 85.5%,#509d48 86.5%,#599f4a 87.5%,#7aa752 90.5%,#82a954 91.5%,#b4b65d 96.5%,#b9b35f 97.5%,#bea963 99.5%)"></i><i style="background:linear-gradient(90deg,#cba97e 0.5%,#c5a571 1.5%,#c0a565 2.5%,#b9b45f 5.5%,#b3b65d 6.5%,#77a652 12.5%,#4f9c48 15.5%,#459a49 16.5%,#409357 18.5%,#398b68 21.5%,#338477 24.5%,#307f80 26.5%,#1c4d7a 36.5%,#122e77 41.5%,#080c75 46.5%,#050274 48.5%,#030051 50.5%,#020046 51.5%,#020043 52.5%,#020043 53.5%,#020046 54.5%,#03004e 55.5%,#04005c 56.5%,#05006e 57.5%,#060574 58.5%,#0c1a76 61.5%,#1b497a 66.5%,#24647c 69.5%,#308080 73.5%,#459a49 85.5%,#4f9c48 86.5%,#589f4a 87.5%,#79a652 90.5%,#b3b65d 96.5%,#b9b45f 97.5%,#bea963 99.5%)"></i><i style="background:linear-gradient(90deg,#cba97e 0.5%,#c5a570 1.5%,#c0a565 2.5%,#b8b45f 5.5%,#b3b65d 6.5%,#76a652 12.5%,#4e9c47 15.5%,#45994a 16.5%,#3d905d 19.5%,#398b68 21.5%,#338478 24.5%,#2f7e7f 26.5%,#1c4c7a 36.5%,#122e77 41.5%,#0a1275 45.5%,#050274 48.5%,#030053 50.5%,#020048 51.5%,#020043 52.5%,#020043 53.5%,#03004e 55.5%,#05006e 57.5%,#060674 58.5%,#0c1a76 61.5%,#24647c 69.5%,#307f80 73.5%,#419553 83.5%,#459a49 85.5%,#4e9c47 86.5%,#579f4a 87.5%,#78a652 90.5%,#b3b65d 96.5%,#b8b45f 97.5%,#bea963 99.5%)"></i><i style="background:linear-gradient(90deg,#cba97e 0.5%,#c4a570 1.5%,#c0a565 2.5%,#b8b45f 5.5%,#b3b65d 6.5%,#75a651 12.5%,#4d9c47 15.5%,#45994a 16.5%,#3d905e 19.5%,#398b69 21.5%,#31827c 25.5%,#2f7e7f 26.5%,#1c4c7a 36.5%,#122e77 41.5%,#0a1275 45.5%,#050274 48.5%,#030055 50.5%,#02004b 51.5%,#020043 52.5%,#020043 53.5%,#02004b 54.5%,#03004e 55.5%,#040060 56.5%,#05006e 57.5%,#060674 58.5%,#080b75 59.5%,#0c1b76 61.5%,#24647c 69.5%,#307f7f 73.5%,#419554 83.5%,#459a49 85.5%,#4d9c47 86.5%,#569e49 87.5%,#77a652 90.5%,#b3b65d 96.5%,#b8b45f 97.5%,#bea963 99.5%)"></i><i style="background:linear-gradient(90deg,#cba97e 0.5%,#c4a46f 1.5%,#c0a565 2.5%,#b8b45f 5.5%,#b2b65d 6.5%,#74a551 12.5%,#4c9c47 15.5%,#44994b 16.5%,#3f9358 18.5%,#398a69 21.5%,#31817d 25.5%,#2f7d7f 26.5%,#1f577b 34.5%,#133378 40.5%,#122e77 41.5%,#0a1275 45.5%,#050274 48.5%,#040064 49.5%,#020043 52.5%,#020043 53.5%,#03004d 54.5%,#03004e 55.5%,#040062 56.5%,#05006e 57.5%,#070774 58.5%,#080b75 59.5%,#0d1b76 61.5%,#173f79 65.5%,#1e537b 67.5%,#24647c 69.5%,#2f7f7f 73.5%,#3b8e62 80.5%,#45994a 85.5%,#4c9c47 86.5%,#559e49 87.5%,#77a652 90.5%,#b2b65d 96.5%,#b8b45f 97.5%,#bea963 99.5%)"></i><i style="background:linear-gradient(90deg,#cba97d 0.5%,#c4a46f 1.5%,#c0a565 2.5%,#b8b45f 5.5%,#b2b55d 6.5%,#73a551 12.5%,#4c9c47 15.5%,#44994b 16.5%,#388a6a 21.5%,#31817d 25.5%,#2f7d7f 26.5%,#1f577b 34.5%,#133278 40.5%,#122e77 41.5%,#0a1275 45.5%,#050274 48.5%,#040065 49.5%,#020044 52.5%,#020044 53.5%,#03004e 54.5%,#03004f 55.5%,#040065 56.5%,#05006f 57.5%,#070774 58.5%,#080c75 59.5%,#0d1c76 61.5%,#173f79 65.5%,#1e537b 67.5%,#24647c 69.5%,#2f7e7f 73.5%,#338477 75.5%,#3b8e62 80.5%,#429650 84.5%,#45994a 85.5%,#4b9c47 86.5%,#559e49 87.5%,#76a652 90.5%,#b2b65d 96.5%,#b8b45f 97.5%,#bea963 99.5%)"></i><i style="background:linear-gradient(90deg,#caa87d 0.5%,#c4a46e 1.5%,#c0a565 2.5%,#b8b55f 5.5%,#b1b55d 6.5%,#7ea853 11.5%,#73a551 12.5%,#4b9b46 15.5%,#44984c 16.5%,#388a6a 21.5%,#31817e 25.5%,#2e7c7f 26.5%,#1f567b 34.5%,#122d77 41.5%,#0a1275 45.5%,#050274 48.5%,#030059 50.5%,#03004e 51.5%,#020047 52.5%,#020047 53.5%,#03004e 54.5%,#030051 55.5%,#040067 56.5%,#050170 57.5%,#070874 58.5%,#080c75 59.5%,#0d1c76 61.5%,#183f79 65.5%,#1e537b 67.5%,#24647c 69.5%,#2f7e7f 73.5%,#31827c 74.5%,#3b8e63 80.5%,#429651 84.5%,#44994b 85.5%,#4a9b47 86.5%,#5fa04c 88.5%,#75a652 90.5%,#b2b55d 96.5%,#b8b55f 97.5%,#bea963 99.5%)"></i><i style="background:linear-gradient(90deg,#caa87c 0.5%,#c3a46e 1.5%,#c0a565 2.5%,#b8b55f 5.5%,#b0b55d 6.5%,#7da753 11.5%,#4b9b46 15.5%,#44984c 16.5%,#388a6b 21.5%,#30817e 25.5%,#2e7c7f 26.5%,#1f567b 34.5%,#122d77 41.5%,#0a1275 45.5%,#050274 48.5%,#040069 49.5%,#030059 50.5%,#03004e 51.5%,#020049 52.5%,#020049 53.5%,#030054 55.5%,#040069 56.5%,#050171 57.5%,#070874 58.5%,#080d75 59.5%,#0d1d76 61.5%,#24647c 69.5%,#2f7e7f 73.5%,#31817d 74.5%,#3d905f 81.5%,#429651 84.5%,#44994b 85.5%,#4a9b47 86.5%,#5ea04b 88.5%,#75a651 90.5%,#b1b55d 96.5%,#b8b55f 97.5%,#bda963 99.5%)"></i><i style="background:linear-gradient(90deg,#caa87c 0.5%,#c3a46d 1.5%,#bfa564 2.5%,#b8b55f 5.5%,#b0b55d 6.5%,#7da753 11.5%,#4a9b46 15.5%,#44984d 16.5%,#388a6b 21.5%,#30807f 25.5%,#2e7c7f 26.5%,#1f557b 34.5%,#194579 37.5%,#0a1275 45.5%,#050274 48.5%,#04006b 49.5%,#030059 50.5%,#03004e 51.5%,#02004b 52.5%,#02004b 53.5%,#03004e 54.5%,#030056 55.5%,#04006b 56.5%,#050272 57.5%,#080d75 59.5%,#24647c 69.5%,#2f7d7f 73.5%,#31817d 74.5%,#3d8f5f 81.5%,#429652 84.5%,#44984c 85.5%,#499b47 86.5%,#539e49 87.5%,#5da04b 88.5%,#75a551 90.5%,#b1b55d 96.5%,#b8b55f 97.5%,#bdaa63 99.5%)"></i><i style="background:linear-gradient(90deg,#caa87b 0.5%,#c3a46d 1.5%,#bfa664 2.5%,#b8b55f 5.5%,#afb55d 6.5%,#7ca753 11.5%,#559e49 14.5%,#4a9b46 15.5%,#43984d 16.5%,#38896c 21.5%,#30807f 25.5%,#194579 37.5%,#0a1275 45.5%,#070975 47.5%,#050274 48.5%,#05006e 49.5%,#030059 50.5%,#03004e 51.5%,#03004e 54.5%,#030058 55.5%,#05006e 56.5%,#050274 57.5%,#0b1575 60.5%,#24647c 69.5%,#2f7d7f 73.5%,#31817d 74.5%,#328379 75.5%,#3c8f60 81.5%,#419552 84.5%,#489b47 86.5%,#5ca04b 88.5%,#74a551 90.5%,#b1b55d 96.5%,#b8b55f 97.5%,#bdaa63 99.5%)"></i><i style="background:linear-gradient(90deg,#c9a87b 0.5%,#c3a46c 1.5%,#bfa664 2.5%,#b8b55f 5.5%,#afb55c 6.5%,#7ba753 11.5%,#549e49 14.5%,#499b46 15.5%,#43974e 16.5%,#37896c 21.5%,#308080 25.5%,#2b757e 27.5%,#24637c 31.5%,#194579 37.5%,#0f2577 42.5%,#0e2076 43.5%,#0a1275 45.5%,#070975 47.5%,#050374 48.5%,#05006e 49.5%,#03005a 50.5%,#030050 51.5%,#030050 54.5%,#03005a 55.5%,#05006e 56.5%,#050374 57.5%,#0b1575 60.5%,#24647c 69.5%,#2f7d7f 73.5%,#31817d 74.5%,#32837a 75.5%,#3c8f60 81.5%,#419553 84.5%,#479a48 86.5%,#5ba04b 88.5%,#73a551 90.5%,#b0b55d 96.5%,#b8b55f 97.5%,#bdaa63 99.5%)"></i><i style="background:linear-gradient(90deg,#c9a87a 0.5%,#c3a46c 1.5%,#bfa664 2.5%,#b8b65e 5.5%,#aeb55c 6.5%,#7aa752 11.5%,#539e49 14.5%,#489b47 15.5%,#43974e 16.5%,#37896d 21.5%,#307f80 25.5%,#25667d 30.5%,#1e547b 34.5%,#194479 37.5%,#0f2577 42.5%,#0e2076 43.5%,#0a1275 45.5%,#060374 48.5%,#05006e 49.5%,#04005d 50.5%,#030052 51.5%,#030052 54.5%,#04005d 55.5%,#05006e 56.5%,#060374 57.5%,#0b1576 60.5%,#24647c 69.5%,#2e7c7f 73.5%,#31817e 74.5%,#3c8f61 81.5%,#469a48 86.5%,#519d48 87.5%,#5b9f4b 88.5%,#72a551 90.5%,#b0b55d 96.5%,#b8b55f 97.5%,#bdaa63 99.5%)"></i><i style="background:linear-gradient(90deg,#c9a77a 0.5%,#c3a46c 1.5%,#bfa664 2.5%,#b7b65e 5.5%,#7aa752 11.5%,#529d48 14.5%,#479a47 15.5%,#43974f 16.5%,#37896d 21.5%,#307f7f 25.5%,#25667d 30.5%,#1e547b 34.5%,#194479 37.5%,#0f2577 42.5%,#0e2076 43.5%,#0a1275 45.5%,#060474 48.5%,#05006e 49.5%,#04005f 50.5%,#030054 51.5%,#030054 54.5%,#04005f 55.5%,#05006e 56.5%,#060474 57.5%,#0b1676 60.5%,#24647c 69.5%,#2e7c7f 73.5%,#31817e 74.5%,#3c8e61 81.5%,#469a49 86.5%,#509d48 87.5%,#7ca753 91.5%,#afb55d 96.5%,#b8b65f 97.5%,#bdaa63 99.5%)"></i><i style="background:linear-gradient(90deg,#c9a779 0.5%,#c3a46c 1.5%,#bfa664 2.5%,#b7b65e 5.5%,#79a652 11.5%,#519d48 14.5%,#469a48 15.5%,#37886e 21.5%,#31817d 24.5%,#2f7f7f 25.5%,#25657d 30.5%,#1e537b 34.5%,#194379 37.5%,#133278 40.5%,#0f2577 42.5%,#0e2076 43.5%,#0a1275 45.5%,#060474 48.5%,#05006e 49.5%,#040061 50.5%,#030056 51.5%,#030056 54.5%,#040061 55.5%,#05006e 56.5%,#060474 57.5%,#0b1676 60.5%,#112977 62.5%,#24647c 69.5%,#2e7c7f 73.5%,#31817e 74.5%,#3c8e62 81.5%,#459a49 86.5%,#4f9c48 87.5%,#7ca753 91.5%,#afb55d 96.5%,#b8b65e 97.5%,#bdab63 99.5%)"></i><i style="background:linear-gradient(90deg,#c8a779 0.5%,#c3a46c 1.5%,#bfa664 2.5%,#b7b75e 5.5%,#84a954 10.5%,#78a652 11.5%,#509d48 14.5%,#459a48 15.5%,#37886e 21.5%,#31817d 24.5%,#2f7e7f 25.5%,#2d787f 26.5%,#1e537b 34.5%,#153778 39.5%,#133278 40.5%,#0a1275 45.5%,#060574 48.5%,#05006e 49.5%,#030059 51.5%,#030059 54.5%,#05006e 56.5%,#060574 57.5%,#0b1776 60.5%,#112977 62.5%,#153978 64.5%,#194379 65.5%,#24647c 69.5%,#2e7b7f 73.5%,#30817e 74.5%,#3b8e62 81.5%,#45994a 86.5%,#4e9c47 87.5%,#7ca753 91.5%,#afb55c 96.5%,#b7b65e 97.5%,#bdab62 99.5%)"></i><i style="background:linear-gradient(90deg,#c8a778 0.5%,#c3a46c 1.5%,#bfa764 2.5%,#b7b75e 5.5%,#78a652 11.5%,#509d48 14.5%,#459a49 15.5%,#37886f 21.5%,#31817d 24.5%,#2f7e7f 25.5%,#2a737e 27.5%,#1e537b 34.5%,#133278 40.5%,#0a1275 45.5%,#060574 48.5%,#05006f 49.5%,#03005b 51.5%,#030059 52.5%,#03005b 54.5%,#05016f 56.5%,#060574 57.5%,#091175 59.5%,#133178 63.5%,#194379 65.5%,#24647c 69.5%,#2e7b7f 73.5%,#30807f 74.5%,#37886f 78.5%,#3b8e62 81.5%,#45994a 86.5%,#4d9c47 87.5%,#7ba753 91.5%,#b7b65e 97.5%,#bdab62 99.5%)"></i><i style="background:linear-gradient(90deg,#c8a778 0.5%,#c2a46b 1.5%,#bfa764 2.5%,#b6b75e 5.5%,#77a652 11.5%,#4f9d48 14.5%,#45994a 15.5%,#3d905d 18.5%,#348574 22.5%,#31817e 24.5%,#2f7d7f 25.5%,#2a727e 27.5%,#1e527b 34.5%,#133278 40.5%,#0a1275 45.5%,#060574 48.5%,#050171 49.5%,#04005d 51.5%,#030059 52.5%,#04005d 53.5%,#04005d 54.5%,#050271 56.5%,#060574 57.5%,#0a1175 59.5%,#163978 64.5%,#1c4c7a 66.5%,#24647c 69.5%,#30807f 74.5%,#3b8e63 81.5%,#44994b 86.5%,#4c9c47 87.5%,#7aa752 91.5%,#b7b65e 97.5%,#bdab62 99.5%)"></i><i style="background:linear-gradient(90deg,#c8a677 0.5%,#c2a46b 1.5%,#bfa764 2.5%,#b6b75e 5.5%,#77a652 11.5%,#4f9c47 14.5%,#45994a 15.5%,#429651 16.5%,#348575 22.5%,#31817e 24.5%,#2f7d7f 25.5%,#26687d 29.5%,#1e527b 34.5%,#112c77 41.5%,#0a1275 45.5%,#060574 48.5%,#050172 49.5%,#04006a 50.5%,#04005f 51.5%,#030059 52.5%,#04005f 53.5%,#04005f 54.5%,#04006a 55.5%,#050372 56.5%,#060674 57.5%,#0a1175 59.5%,#163a78 64.5%,#1c4d7a 66.5%,#24647c 69.5%,#30807f 74.5%,#3d8f5f 82.5%,#44994b 86.5%,#4b9c47 87.5%,#7aa752 91.5%,#b7b65e 97.5%,#bdab62 99.5%)"></i><i style="background:linear-gradient(90deg,#c8a677 0.5%,#c2a46a 1.5%,#bfa764 2.5%,#b6b75e 5.5%,#77a652 11.5%,#4f9c47 14.5%,#44994b 15.5%,#3d905e 18.5%,#348575 22.5%,#31817e 24.5%,#2e7c7f 25.5%,#2a717e 27.5%,#1a477a 36.5%,#112c77 41.5%,#0a1275 45.5%,#060574 48.5%,#050273 49.5%,#05006c 50.5%,#030059 52.5%,#040061 53.5%,#040061 54.5%,#05006c 55.5%,#060473 56.5%,#070674 57.5%,#0a1275 59.5%,#163a78 64.5%,#1c4d7a 66.5%,#24647c 69.5%,#29707e 71.5%,#30807f 74.5%,#3c8f5f 82.5%,#44984c 86.5%,#4a9b46 87.5%,#79a652 91.5%,#b7b65e 97.5%,#bdab62 99.5%)"></i><i style="background:linear-gradient(90deg,#c7a676 0.5%,#c2a46a 1.5%,#bfa764 2.5%,#b5b65e 5.5%,#76a652 11.5%,#4e9c47 14.5%,#44994b 15.5%,#388a6b 20.5%,#348576 22.5%,#30817e 24.5%,#2e7b7f 25.5%,#25677d 29.5%,#24637c 30.5%,#1a477a 36.5%,#163b79 38.5%,#112c77 41.5%,#0a1275 45.5%,#060574 48.5%,#050274 49.5%,#05006e 50.5%,#030059 52.5%,#040064 53.5%,#040064 54.5%,#05006e 55.5%,#060574 56.5%,#070774 57.5%,#0a1275 59.5%,#163b79 64.5%,#1c4d7a 66.5%,#215c7c 68.5%,#29707e 71.5%,#308080 74.5%,#3c8f60 82.5%,#44984c 86.5%,#4a9b46 87.5%,#78a652 91.5%,#b7b65e 97.5%,#bcac62 99.5%)"></i><i style="background:linear-gradient(90deg,#c7a676 0.5%,#c1a369 1.5%,#bea864 2.5%,#b9b360 4.5%,#b5b65e 5.5%,#75a651 11.5%,#4d9c47 14.5%,#44984c 15.5%,#388a6b 20.5%,#30807f 24.5%,#29707e 27.5%,#1a477a 36.5%,#112b77 41.5%,#0a1275 45.5%,#050274 49.5%,#05006e 50.5%,#040066 51.5%,#03005b 52.5%,#040064 53.5%,#040066 54.5%,#050170 55.5%,#060574 56.5%,#070874 57.5%,#0a1375 59.5%,#163b79 64.5%,#1c4d7a 66.5%,#215c7c 68.5%,#29707e 71.5%,#308080 74.5%,#3c8f60 82.5%,#44984d 86.5%,#499b47 87.5%,#5fa14c 89.5%,#78a652 91.5%,#b7b65e 97.5%,#bcac62 99.5%)"></i><i style="background:linear-gradient(90deg,#c7a676 0.5%,#c1a369 1.5%,#bea864 2.5%,#b9b35f 4.5%,#b5b65e 5.5%,#80a853 10.5%,#74a551 11.5%,#4c9c47 14.5%,#44984c 15.5%,#38896c 20.5%,#30807f 24.5%,#296f7e 27.5%,#1a467a 36.5%,#112b77 41.5%,#0a1275 45.5%,#050274 49.5%,#040068 51.5%,#04005d 52.5%,#040068 54.5%,#050171 55.5%,#060674 56.5%,#070975 57.5%,#0b1475 59.5%,#163c79 64.5%,#1c4d7a 66.5%,#24647c 69.5%,#29707e 71.5%,#308080 74.5%,#3c8e61 82.5%,#43984d 86.5%,#489b47 87.5%,#539d48 88.5%,#77a652 91.5%,#b7b65e 97.5%,#bcac62 99.5%)"></i><i style="background:linear-gradient(90deg,#c7a676 0.5%,#c1a368 1.5%,#bea864 2.5%,#b9b35f 4.5%,#b4b65e 5.5%,#80a853 10.5%,#4b9b46 14.5%,#44984d 15.5%,#37896c 20.5%,#307f7f 24.5%,#296f7e 27.5%,#1a467a 36.5%,#133078 40.5%,#0a1275 45.5%,#050274 49.5%,#04006a 51.5%,#040060 52.5%,#040064 53.5%,#050172 55.5%,#060674 56.5%,#090f75 58.5%,#0f2477 61.5%,#1c4d7a 66.5%,#24647c 69.5%,#29707e 71.5%,#308080 74.5%,#3c8e61 82.5%,#43974e 86.5%,#479a48 87.5%,#529d48 88.5%,#5da04b 89.5%,#77a652 91.5%,#a1b15a 95.5%,#b7b75e 97.5%,#bcac62 99.5%)"></i><i style="background:linear-gradient(90deg,#c7a676 0.5%,#c1a368 1.5%,#bea863 2.5%,#b9b35f 4.5%,#b4b65d 5.5%,#7fa853 10.5%,#4a9b46 14.5%,#43984d 15.5%,#37896d 20.5%,#2f7f7f 24.5%,#23617c 30.5%,#194579 36.5%,#133078 40.5%,#0a1275 45.5%,#050274 49.5%,#05006e 50.5%,#05006d 51.5%,#040062 52.5%,#040064 53.5%,#05006d 54.5%,#050273 55.5%,#091075 58.5%,#0f2477 61.5%,#143678 63.5%,#24647c 69.5%,#29707e 71.5%,#308080 74.5%,#3b8e62 82.5%,#469a48 87.5%,#519d48 88.5%,#5ca04b 89.5%,#76a652 91.5%,#a0b15a 95.5%,#b7b75e 97.5%,#bcac62 99.5%)"></i><i style="background:linear-gradient(90deg,#c7a676 0.5%,#c1a367 1.5%,#bea863 2.5%,#b9b35f 4.5%,#b4b65d 5.5%,#93ad57 8.5%,#7fa853 10.5%,#499b46 14.5%,#43984e 15.5%,#37896d 20.5%,#31827c 23.5%,#2f7e7f 24.5%,#23607c 30.5%,#194579 36.5%,#133078 40.5%,#0a1275 45.5%,#070975 47.5%,#050274 49.5%,#05006f 50.5%,#05006e 51.5%,#040064 52.5%,#040064 53.5%,#05006f 54.5%,#050274 55.5%,#091075 58.5%,#0f2577 61.5%,#153778 63.5%,#24647c 69.5%,#29707e 71.5%,#308080 74.5%,#3b8e62 82.5%,#459a49 87.5%,#509d48 88.5%,#5ba04b 89.5%,#76a652 91.5%,#a0b15a 95.5%,#b7b75e 97.5%,#bcac62 99.5%)"></i><i style="background:linear-gradient(90deg,#c7a675 0.5%,#c0a367 1.5%,#b9b45f 4.5%,#b3b65d 5.5%,#7ea853 10.5%,#489b47 14.5%,#43974e 15.5%,#37886e 20.5%,#31817d 23.5%,#2f7e7f 24.5%,#22607c 30.5%,#194579 36.5%,#123078 40.5%,#0a1275 45.5%,#070975 47.5%,#060374 49.5%,#050170 50.5%,#05006e 51.5%,#040066 52.5%,#040066 53.5%,#050170 54.5%,#060374 55.5%,#0a1175 58.5%,#102677 61.5%,#153778 63.5%,#24647c 69.5%,#308080 74.5%,#3b8e63 82.5%,#459a49 87.5%,#509d48 88.5%,#5ba04b 89.5%,#75a651 91.5%,#9fb15a 95.5%,#b7b75e 97.5%,#bcac62 99.5%)"></i><i style="background:linear-gradient(90deg,#c7a675 0.5%,#c0a366 1.5%,#b8b45f 4.5%,#b3b65d 5.5%,#7da853 10.5%,#489b47 14.5%,#43974e 15.5%,#358673 21.5%,#31817d 23.5%,#2f7d7f 24.5%,#26687d 28.5%,#194479 36.5%,#0a1275 45.5%,#070975 47.5%,#060374 49.5%,#05006e 51.5%,#040069 52.5%,#040069 53.5%,#050171 54.5%,#060374 55.5%,#0a1175 58.5%,#0e1f76 60.5%,#1a477a 65.5%,#24647c 69.5%,#307f80 74.5%,#3b8e63 82.5%,#45994a 87.5%,#4f9d48 88.5%,#80a853 92.5%,#9fb159 95.5%,#b6b75e 97.5%,#bcac62 99.5%)"></i><i style="background:linear-gradient(90deg,#c7a674 0.5%,#c0a466 1.5%,#b8b45f 4.5%,#b3b65d 5.5%,#7da753 10.5%,#549e49 13.5%,#479a48 14.5%,#358674 21.5%,#31817e 23.5%,#2e7c7f 24.5%,#26687d 28.5%,#194479 36.5%,#0a1275 45.5%,#070975 47.5%,#060474 49.5%,#05006e 51.5%,#04006b 52.5%,#04006b 53.5%,#050272 54.5%,#060474 55.5%,#0a1275 58.5%,#0e1f76 60.5%,#1a487a 65.5%,#24657c 69.5%,#307f7f 74.5%,#36886f 79.5%,#3d8f5f 83.5%,#45994a 87.5%,#4f9c47 88.5%,#7fa853 92.5%,#9fb059 95.5%,#b6b75e 97.5%,#bcac62 99.5%)"></i><i style="background:linear-gradient(90deg,#c6a574 0.5%,#c0a465 1.5%,#b8b45f 4.5%,#b2b65d 5.5%,#7ca753 10.5%,#70a450 11.5%,#539d49 13.5%,#469a48 14.5%,#348574 21.5%,#31817e 23.5%,#2e7c7f 24.5%,#25677d 28.5%,#194379 36.5%,#112977 41.5%,#0b1776 44.5%,#070975 47.5%,#050273 50.5%,#05006e 51.5%,#05006d 53.5%,#050273 54.5%,#060474 55.5%,#0a1275 58.5%,#0e2076 60.5%,#1b497a 65.5%,#25657c 69.5%,#2f7f7f 74.5%,#38896c 80.5%,#3c8f60 83.5%,#44994b 87.5%,#4e9c47 88.5%,#7fa853 92.5%,#9eb059 95.5%,#b6b65e 97.5%,#bcac62 99.5%)"></i><i style="background:linear-gradient(90deg,#c6a573 0.5%,#c0a465 1.5%,#b8b45f 4.5%,#b2b55d 5.5%,#7ba753 10.5%,#6fa450 11.5%,#529d48 13.5%,#459a49 14.5%,#348575 21.5%,#30817f 23.5%,#276b7d 27.5%,#194379 36.5%,#112977 41.5%,#0b1776 44.5%,#090e75 46.5%,#070975 47.5%,#050374 50.5%,#05006f 51.5%,#05006f 53.5%,#050374 54.5%,#060574 55.5%,#0a1375 58.5%,#0e2176 60.5%,#1b497a 65.5%,#225e7c 68.5%,#29707e 71.5%,#2f7e7f 74.5%,#37896c 80.5%,#3c8f60 83.5%,#44994b 87.5%,#4e9c47 88.5%,#7fa853 92.5%,#9eb059 95.5%,#b5b65e 97.5%,#bcad62 99.5%)"></i><i style="background:linear-gradient(90deg,#c6a573 0.5%,#c0a465 1.5%,#b8b55f 4.5%,#b1b55d 5.5%,#7ba753 10.5%,#529d48 13.5%,#459a49 14.5%,#36886f 20.5%,#30807f 23.5%,#276b7d 27.5%,#20587b 31.5%,#184279 36.5%,#102977 41.5%,#0b1776 44.5%,#090e75 46.5%,#070774 48.5%,#060374 50.5%,#050170 51.5%,#050170 53.5%,#060374 54.5%,#080a75 56.5%,#0a1475 58.5%,#0e2276 60.5%,#1b4a7a 65.5%,#225f7c 68.5%,#29707e 71.5%,#2f7e7f 74.5%,#31817e 75.5%,#37896c 80.5%,#3c8f60 83.5%,#44994b 87.5%,#4d9c47 88.5%,#7ea853 92.5%,#b5b65e 97.5%,#b9b360 98.5%,#bcad62 99.5%)"></i><i style="background:linear-gradient(90deg,#c6a572 0.5%,#c0a465 1.5%,#b8b55f 4.5%,#b0b55d 5.5%,#7ba753 10.5%,#519d48 13.5%,#459a49 14.5%,#368770 20.5%,#30807f 23.5%,#276b7d 27.5%,#20587b 31.5%,#184279 36.5%,#0b1776 44.5%,#090e75 46.5%,#070774 48.5%,#060374 50.5%,#050171 51.5%,#050271 53.5%,#060374 54.5%,#080a75 56.5%,#0b1575 58.5%,#0f2377 60.5%,#1b4a7a 65.5%,#225f7c 68.5%,#29707e 71.5%,#2f7e7f 74.5%,#31817e 75.5%,#3a8d65 82.5%,#44984c 87.5%,#4c9c47 88.5%,#579e4a 89.5%,#7da753 92.5%,#b4b65e 97.5%,#b9b35f 98.5%,#bcad62 99.5%)"></i><i style="background:linear-gradient(90deg,#c5a572 0.5%,#c0a465 1.5%,#b8b55f 4.5%,#b0b55d 5.5%,#7aa752 10.5%,#519d48 13.5%,#459949 14.5%,#368770 20.5%,#30807f 23.5%,#276a7d 27.5%,#20577b 31.5%,#184179 36.5%,#090e75 46.5%,#070774 48.5%,#050272 51.5%,#060474 54.5%,#080b75 56.5%,#0b1676 58.5%,#0f2477 60.5%,#1b4b7a 65.5%,#22607c 68.5%,#2f7e7f 74.5%,#31817e 75.5%,#3a8c65 82.5%,#44984c 87.5%,#4b9b46 88.5%,#569e49 89.5%,#7da753 92.5%,#b4b65e 97.5%,#b9b35f 98.5%,#bcad62 99.5%)"></i><i style="background:linear-gradient(90deg,#c5a571 0.5%,#c0a565 1.5%,#b8b55f 4.5%,#afb55d 5.5%,#7aa752 10.5%,#509d48 13.5%,#45994a 14.5%,#368771 20.5%,#308080 23.5%,#296f7e 26.5%,#23607c 29.5%,#184179 36.5%,#0f2277 42.5%,#0d1c76 43.5%,#090e75 46.5%,#070774 48.5%,#050274 51.5%,#060474 54.5%,#080b75 56.5%,#0b1776 58.5%,#112c77 61.5%,#1e537b 66.5%,#23607c 68.5%,#276b7d 70.5%,#2f7e7f 74.5%,#30817e 75.5%,#3a8c66 82.5%,#44984c 87.5%,#4a9b46 88.5%,#559e49 89.5%,#7ca753 92.5%,#b4b65d 97.5%,#b9b35f 98.5%,#bcad62 99.5%)"></i><i style="background:linear-gradient(90deg,#c5a571 0.5%,#c0a565 1.5%,#b8b55f 4.5%,#afb55c 5.5%,#79a752 10.5%,#509d48 13.5%,#45994a 14.5%,#3d8f5f 17.5%,#368771 20.5%,#308080 23.5%,#296e7e 26.5%,#23607c 29.5%,#184179 36.5%,#0a1275 45.5%,#070774 48.5%,#050374 51.5%,#060574 54.5%,#080c75 56.5%,#0f2577 60.5%,#1e537b 66.5%,#23607c 68.5%,#2d7a7f 73.5%,#30817e 75.5%,#3a8c66 82.5%,#44984d 87.5%,#499b46 88.5%,#549e49 89.5%,#7ba753 92.5%,#b3b65d 97.5%,#b9b45f 98.5%,#bcad61 99.5%)"></i><i style="background:linear-gradient(90deg,#c5a570 0.5%,#c0a565 1.5%,#b8b55f 4.5%,#a4b25a 6.5%,#79a652 10.5%,#509d48 13.5%,#45994a 14.5%,#3d8f5f 17.5%,#358771 20.5%,#307f80 23.5%,#286e7e 26.5%,#225f7c 29.5%,#184079 36.5%,#0a1275 45.5%,#070874 48.5%,#060374 51.5%,#060674 54.5%,#080d75 56.5%,#102677 60.5%,#1e547b 66.5%,#23617c 68.5%,#2d7a7f 73.5%,#30817e 75.5%,#3a8c66 82.5%,#43984d 87.5%,#499b47 88.5%,#549e49 89.5%,#7ba753 92.5%,#b3b65d 97.5%,#b9b45f 98.5%,#bbae61 99.5%)"></i><i style="background:linear-gradient(90deg,#c4a570 0.5%,#c0a565 1.5%,#b8b65f 4.5%,#a4b25a 6.5%,#78a652 10.5%,#4f9c47 13.5%,#44994a 14.5%,#3c8f5f 17.5%,#358772 20.5%,#307f7f 23.5%,#286e7e 26.5%,#225f7c 29.5%,#184079 36.5%,#0a1275 45.5%,#070874 48.5%,#060474 51.5%,#070774 54.5%,#090e75 56.5%,#102677 60.5%,#1e547b 66.5%,#23617c 68.5%,#2d7a7f 73.5%,#30817e 75.5%,#3a8c67 82.5%,#43984e 87.5%,#489b47 88.5%,#549e49 89.5%,#7ba752 92.5%,#b3b65d 97.5%,#b8b45f 98.5%,#bbae61 99.5%)"></i><i style="background:linear-gradient(90deg,#c4a46f 0.5%,#bfa564 1.5%,#b8b65e 4.5%,#a4b25a 6.5%,#77a652 10.5%,#4f9c47 13.5%,#44994b 14.5%,#3f9259 16.5%,#358672 20.5%,#2f7f7f 23.5%,#2a727e 25.5%,#225f7c 29.5%,#173f79 36.5%,#153978 37.5%,#133178 39.5%,#0f2577 41.5%,#0a1275 45.5%,#070975 48.5%,#060474 51.5%,#060474 52.5%,#070874 54.5%,#0b1475 57.5%,#102777 60.5%,#1f547b 66.5%,#23627c 68.5%,#2d7a7f 73.5%,#30817e 75.5%,#3a8c67 82.5%,#43974e 87.5%,#489b47 88.5%,#539d49 89.5%,#7aa752 92.5%,#b2b65d 97.5%,#b8b45f 98.5%,#bbae61 99.5%)"></i><i style="background:linear-gradient(90deg,#c4a46f 0.5%,#bfa664 1.5%,#b7b65e 4.5%,#82a954 9.5%,#4e9c47 13.5%,#44994b 14.5%,#3f925a 16.5%,#358672 20.5%,#2f7e7f 23.5%,#2a727e 25.5%,#225e7c 29.5%,#173f79 36.5%,#153978 37.5%,#112c77 40.5%,#0f2577 41.5%,#0a1275 45.5%,#080b75 47.5%,#060574 50.5%,#060574 52.5%,#070975 54.5%,#080b75 55.5%,#0b1575 57.5%,#102777 60.5%,#133078 61.5%,#23627c 68.5%,#2d7a7f 73.5%,#30817e 75.5%,#398c67 82.5%,#3f925a 85.5%,#43974f 87.5%,#479a47 88.5%,#539d48 89.5%,#7aa752 92.5%,#b2b65d 97.5%,#b8b45f 98.5%,#bbae61 99.5%)"></i><i style="background:linear-gradient(90deg,#c4a46e 0.5%,#bfa664 1.5%,#b7b65e 4.5%,#82a954 9.5%,#4d9c47 13.5%,#44994b 14.5%,#3f925a 16.5%,#358672 20.5%,#31827c 22.5%,#2f7e7f 23.5%,#2a717e 25.5%,#225e7c 29.5%,#173e79 36.5%,#153878 37.5%,#112b77 40.5%,#0f2577 41.5%,#0a1275 45.5%,#080b75 47.5%,#060574 50.5%,#060574 52.5%,#070a75 54.5%,#080c75 55.5%,#0b1676 57.5%,#102877 60.5%,#133178 61.5%,#23627c 68.5%,#2d7a7f 73.5%,#30817e 75.5%,#398b67 82.5%,#3f925a 85.5%,#43974f 87.5%,#479a48 88.5%,#529d48 89.5%,#7aa752 92.5%,#b2b55d 97.5%,#b8b45f 98.5%,#bbae61 99.5%)"></i><i style="background:linear-gradient(90deg,#c4a46e 0.5%,#bfa664 1.5%,#b7b65e 4.5%,#82a954 9.5%,#4c9c47 13.5%,#44984c 14.5%,#3e925a 16.5%,#358673 20.5%,#31817d 22.5%,#2f7d7f 23.5%,#2a717e 25.5%,#225d7c 29.5%,#173e79 36.5%,#153878 37.5%,#0a1275 45.5%,#080b75 47.5%,#060574 50.5%,#060574 52.5%,#080a75 54.5%,#0b1676 57.5%,#112977 60.5%,#133278 61.5%,#24637c 68.5%,#2d7a7f 73.5%,#30817e 75.5%,#358673 79.5%,#398b68 82.5%,#3d8f5f 84.5%,#43974f 87.5%,#469a48 88.5%,#529d48 89.5%,#79a652 92.5%,#b1b55d 97.5%,#b8b55f 98.5%,#bbaf61 99.5%)"></i><i style="background:linear-gradient(90deg,#c3a46d 0.5%,#bfa664 1.5%,#b7b75e 4.5%,#81a954 9.5%,#4b9c47 13.5%,#44984c 14.5%,#358673 20.5%,#31817d 22.5%,#2f7d7f 23.5%,#2a717e 25.5%,#20587b 30.5%,#173e79 36.5%,#153778 37.5%,#0a1275 45.5%,#080b75 47.5%,#060674 50.5%,#060674 52.5%,#080b75 54.5%,#0b1776 57.5%,#0f2377 59.5%,#133378 61.5%,#24637c 68.5%,#2d7a7f 73.5%,#30817e 75.5%,#358673 79.5%,#398b68 82.5%,#3e925a 85.5%,#469a49 88.5%,#519d48 89.5%,#5da04b 90.5%,#79a652 92.5%,#b1b55d 97.5%,#b8b55f 98.5%,#bbaf61 99.5%)"></i><i style="background:linear-gradient(90deg,#c3a46d 0.5%,#bfa664 1.5%,#b7b75e 4.5%,#81a854 9.5%,#67a34e 11.5%,#4a9b46 13.5%,#44984d 14.5%,#358673 20.5%,#31817e 22.5%,#2e7c7f 23.5%,#20577b 30.5%,#1d507a 32.5%,#1b4a7a 33.5%,#173d79 36.5%,#153778 37.5%,#0a1275 45.5%,#080b75 47.5%,#070674 50.5%,#070674 52.5%,#080b75 54.5%,#0c1876 57.5%,#0f2477 59.5%,#143478 61.5%,#24637c 68.5%,#2a717e 71.5%,#30817e 75.5%,#358673 79.5%,#3b8d64 83.5%,#409456 86.5%,#459a49 88.5%,#519d48 89.5%,#5ca04b 90.5%,#79a652 92.5%,#b1b55d 97.5%,#b8b55f 98.5%,#bbaf61 99.5%)"></i><i style="background:linear-gradient(90deg,#c3a46c 0.5%,#bfa664 1.5%,#b7b75e 4.5%,#81a854 9.5%,#67a34e 11.5%,#4a9b46 13.5%,#43984d 14.5%,#358673 20.5%,#30817e 22.5%,#1f577b 30.5%,#1d4f7a 32.5%,#1b497a 33.5%,#173d79 36.5%,#153778 37.5%,#0a1275 45.5%,#070975 48.5%,#070774 50.5%,#070774 52.5%,#080c75 54.5%,#0d1e76 58.5%,#112c77 60.5%,#143478 61.5%,#24647c 68.5%,#2a727e 71.5%,#30817e 75.5%,#358673 79.5%,#3a8d65 83.5%,#409456 86.5%,#45994a 88.5%,#509d48 89.5%,#5ba04b 90.5%,#78a652 92.5%,#82a954 93.5%,#b0b55d 97.5%,#b8b55f 98.5%,#bbaf61 99.5%)"></i><i style="background:linear-gradient(90deg,#c3a46c 0.5%,#bfa764 1.5%,#b7b75e 4.5%,#80a854 9.5%,#66a24e 11.5%,#499b46 13.5%,#43974e 14.5%,#358674 20.5%,#30817e 22.5%,#1f567b 30.5%,#1d4f7a 32.5%,#1b497a 33.5%,#0a1275 45.5%,#070a75 48.5%,#070774 50.5%,#070874 52.5%,#080d75 54.5%,#0b1575 56.5%,#0e1f76 58.5%,#1b4a7a 64.5%,#24647c 68.5%,#2a727e 71.5%,#30807f 75.5%,#358674 79.5%,#3a8d65 83.5%,#409356 86.5%,#45994a 88.5%,#509d48 89.5%,#5ba04b 90.5%,#78a652 92.5%,#82a954 93.5%,#b0b55d 97.5%,#b8b55f 98.5%,#bbaf61 99.5%)"></i><i style="background:linear-gradient(90deg,#c2a46b 0.5%,#bfa764 1.5%,#b6b75e 4.5%,#80a853 9.5%,#66a24d 11.5%,#499b47 13.5%,#43974e 14.5%,#348674 20.5%,#30817e 22.5%,#1f567b 30.5%,#1c4e7a 32.5%,#1a487a 33.5%,#0a1275 45.5%,#080a75 48.5%,#070874 50.5%,#070975 52.5%,#090d75 54.5%,#0b1676 56.5%,#0e2076 58.5%,#1b4b7a 64.5%,#24647c 68.5%,#2a727e 71.5%,#30807f 75.5%,#348674 79.5%,#3a8c65 83.5%,#409357 86.5%,#45994a 88.5%,#4f9d48 89.5%,#5a9f4a 90.5%,#77a652 92.5%,#b0b55d 97.5%,#b8b55f 98.5%,#bbaf61 99.5%)"></i><i style="background:linear-gradient(90deg,#c2a46b 0.5%,#bfa764 1.5%,#b6b75e 4.5%,#80a853 9.5%,#65a24d 11.5%,#489b47 13.5%,#43974e 14.5%,#348574 20.5%,#30817e 22.5%,#296f7e 25.5%,#1f567b 30.5%,#1c4e7a 32.5%,#1a487a 33.5%,#133278 38.5%,#0f2377 41.5%,#0a1275 45.5%,#080b75 48.5%,#070874 50.5%,#080a75 52.5%,#090e75 54.5%,#0b1676 56.5%,#0e2176 58.5%,#1c4c7a 64.5%,#24657c 68.5%,#2d7a7f 73.5%,#30807f 75.5%,#348574 79.5%,#3a8c65 83.5%,#409357 86.5%,#44994b 88.5%,#4f9c47 89.5%,#5a9f4a 90.5%,#77a652 92.5%,#afb55d 97.5%,#b8b55f 98.5%,#bab061 99.5%)"></i><i style="background:linear-gradient(90deg,#c2a46a 0.5%,#bfa764 1.5%,#b6b65e 4.5%,#7fa853 9.5%,#489b47 13.5%,#43974e 14.5%,#348574 20.5%,#30817e 22.5%,#296f7e 25.5%,#1f557b 30.5%,#1c4e7a 32.5%,#1a477a 33.5%,#133278 38.5%,#0f2377 41.5%,#0e2076 42.5%,#0a1275 45.5%,#070975 49.5%,#070975 50.5%,#080b75 52.5%,#0a1275 55.5%,#0b1776 56.5%,#0e2276 58.5%,#1c4d7a 64.5%,#22607c 67.5%,#2a727e 71.5%,#30807f 75.5%,#348574 79.5%,#3a8c66 83.5%,#409357 86.5%,#44994b 88.5%,#4e9c47 89.5%,#5a9f4a 90.5%,#76a652 92.5%,#afb55d 97.5%,#b8b55f 98.5%,#bab061 99.5%)"></i><i style="background:linear-gradient(90deg,#c2a46a 0.5%,#bfa764 1.5%,#b5b65e 4.5%,#7fa853 9.5%,#64a24d 11.5%,#559e49 12.5%,#479a47 13.5%,#43974f 14.5%,#348575 20.5%,#30817e 22.5%,#296f7e 25.5%,#1f557b 30.5%,#133278 38.5%,#112c77 39.5%,#0f2277 41.5%,#0e2076 42.5%,#0a1375 45.5%,#070975 49.5%,#070975 51.5%,#0a1375 55.5%,#0f2377 58.5%,#153778 61.5%,#1c4e7a 64.5%,#23607c 67.5%,#2a727e 71.5%,#308080 75.5%,#348575 79.5%,#3a8c66 83.5%,#409357 86.5%,#44994b 88.5%,#4e9c47 89.5%,#66a34e 91.5%,#76a652 92.5%,#afb55c 97.5%,#b8b55f 98.5%,#bab061 99.5%)"></i><i style="background:linear-gradient(90deg,#c2a46a 0.5%,#bfa764 1.5%,#b9b360 3.5%,#b5b65e 4.5%,#7ea853 9.5%,#559e49 12.5%,#479a47 13.5%,#43974f 14.5%,#36886f 19.5%,#30807f 22.5%,#296f7e 25.5%,#1f557b 30.5%,#133278 38.5%,#0f2277 41.5%,#0a1375 45.5%,#080a75 49.5%,#080a75 51.5%,#0a1475 55.5%,#0f2477 58.5%,#1c4e7a 64.5%,#23617c 67.5%,#2a727e 71.5%,#308080 75.5%,#348575 79.5%,#3a8c66 83.5%,#3f9358 86.5%,#44994b 88.5%,#4d9c47 89.5%,#66a24d 91.5%,#76a652 92.5%,#aeb55c 97.5%,#b8b55f 98.5%,#bab061 99.5%)"></i><i style="background:linear-gradient(90deg,#c2a46a 0.5%,#bfa764 1.5%,#b9b360 3.5%,#b5b65e 4.5%,#7ea853 9.5%,#559e49 12.5%,#479a47 13.5%,#43974f 14.5%,#36886f 19.5%,#30807f 22.5%,#205a7b 29.5%,#0f2277 41.5%,#091075 46.5%,#080a75 49.5%,#080a75 51.5%,#0b1575 55.5%,#0f2577 58.5%,#1c4e7a 64.5%,#23617c 67.5%,#2a737e 71.5%,#308080 75.5%,#358772 80.5%,#3a8c66 83.5%,#3f9358 86.5%,#44984c 88.5%,#4c9c47 89.5%,#65a24d 91.5%,#75a651 92.5%,#aeb45c 97.5%,#b8b65f 98.5%,#bab061 99.5%)"></i><i style="background:linear-gradient(90deg,#c2a46a 0.5%,#bfa764 1.5%,#b9b360 3.5%,#b4b65e 4.5%,#7ea853 9.5%,#559e49 12.5%,#479a47 13.5%,#43974f 14.5%,#36886f 19.5%,#30807f 22.5%,#20597b 29.5%,#1c4c7a 32.5%,#1a4679 33.5%,#133178 38.5%,#0f2277 41.5%,#091075 46.5%,#080b75 49.5%,#080b75 51.5%,#0b1676 55.5%,#102677 58.5%,#163978 61.5%,#184279 62.5%,#23617c 67.5%,#2a737e 71.5%,#308080 75.5%,#358772 80.5%,#3a8c67 83.5%,#3f9358 86.5%,#44984c 88.5%,#4b9b46 89.5%,#65a24d 91.5%,#75a551 92.5%,#aeb45c 97.5%,#b8b65e 98.5%,#bab061 99.5%)"></i><i style="background:linear-gradient(90deg,#c2a46a 0.5%,#bfa764 1.5%,#b9b360 3.5%,#b4b65d 4.5%,#7da853 9.5%,#559e49 12.5%,#479a47 13.5%,#43974f 14.5%,#368870 19.5%,#30807f 22.5%,#2b747e 24.5%,#20597b 29.5%,#1b4c7a 32.5%,#194579 33.5%,#0d1e76 42.5%,#091075 46.5%,#080b75 49.5%,#080b75 51.5%,#0a1275 54.5%,#0b1676 55.5%,#0e2076 57.5%,#163a78 61.5%,#194379 62.5%,#23627c 67.5%,#2b737e 71.5%,#308080 75.5%,#358672 80.5%,#398c67 83.5%,#3f9258 86.5%,#44984c 88.5%,#4a9b46 89.5%,#65a24d 91.5%,#74a551 92.5%,#adb45c 97.5%,#b7b65e 98.5%,#bab061 99.5%)"></i><i style="background:linear-gradient(90deg,#c2a36a 0.5%,#bea764 1.5%,#b9b360 3.5%,#b4b65d 4.5%,#7da753 9.5%,#559e49 12.5%,#479a47 13.5%,#43974f 14.5%,#368770 19.5%,#308080 22.5%,#2b737e 24.5%,#20597b 29.5%,#194579 33.5%,#0d1e76 42.5%,#091075 46.5%,#080c75 49.5%,#080c75 51.5%,#0a1375 54.5%,#0e2176 57.5%,#194379 62.5%,#23627c 67.5%,#2b737e 71.5%,#308080 75.5%,#358672 80.5%,#398b67 83.5%,#3f9259 86.5%,#44984c 88.5%,#4a9b46 89.5%,#64a24d 91.5%,#74a551 92.5%,#adb45c 97.5%,#b7b65e 98.5%,#bab061 99.5%)"></i><i style="background:linear-gradient(90deg,#c1a369 0.5%,#bea864 1.5%,#b9b360 3.5%,#b3b65d 4.5%,#7da753 9.5%,#549e49 12.5%,#479a48 13.5%,#43974f 14.5%,#368770 19.5%,#308080 22.5%,#26687d 26.5%,#1c4f7a 31.5%,#0d1e76 42.5%,#0a1175 46.5%,#080c75 49.5%,#080d75 51.5%,#0a1475 54.5%,#0e2276 57.5%,#1b4b7a 63.5%,#24627c 67.5%,#2b737e 71.5%,#308080 75.5%,#358673 80.5%,#398b68 83.5%,#3f9259 86.5%,#44984d 88.5%,#4a9b46 89.5%,#64a24d 91.5%,#73a551 92.5%,#adb45c 97.5%,#b7b65e 98.5%,#bab060 99.5%)"></i><i style="background:linear-gradient(90deg,#c1a369 0.5%,#bea864 1.5%,#b9b35f 3.5%,#b3b65d 4.5%,#7ca753 9.5%,#549e49 12.5%,#469a48 13.5%,#3b8d63 17.5%,#308080 22.5%,#286e7e 25.5%,#1c4e7a 31.5%,#112a77 39.5%,#0b1776 44.5%,#090f75 47.5%,#080d75 49.5%,#090e75 51.5%,#0b1575 54.5%,#0f2377 57.5%,#1b4b7a 63.5%,#24637c 67.5%,#2b737e 71.5%,#308080 75.5%,#358673 80.5%,#398b68 83.5%,#3f9259 86.5%,#44984d 88.5%,#4a9b46 89.5%,#63a24d 91.5%,#73a551 92.5%,#acb45c 97.5%,#b7b65e 98.5%,#bab060 99.5%)"></i><i style="background:linear-gradient(90deg,#c1a368 0.5%,#bea864 1.5%,#b9b35f 3.5%,#b3b65d 4.5%,#7ca753 9.5%,#539e49 12.5%,#469a48 13.5%,#3b8d63 17.5%,#308080 22.5%,#286d7d 25.5%,#1c4e7a 31.5%,#112a77 39.5%,#0b1776 44.5%,#090f75 47.5%,#080d75 49.5%,#090f75 51.5%,#0b1676 54.5%,#0f2477 57.5%,#1c4c7a 63.5%,#24637c 67.5%,#29707e 70.5%,#308080 75.5%,#358673 80.5%,#398b68 83.5%,#3f9259 86.5%,#43984d 88.5%,#4a9b46 89.5%,#63a24d 91.5%,#72a551 92.5%,#acb45c 97.5%,#b7b75e 98.5%,#bab160 99.5%)"></i><i style="background:linear-gradient(90deg,#c1a368 0.5%,#bea863 1.5%,#b9b35f 3.5%,#b2b65d 4.5%,#7ca753 9.5%,#6fa450 10.5%,#539d48 12.5%,#459a48 13.5%,#3b8d63 17.5%,#348576 20.5%,#308080 22.5%,#286d7d 25.5%,#1c4e7a 31.5%,#112a77 39.5%,#102777 40.5%,#0b1776 44.5%,#091075 47.5%,#090e75 49.5%,#090e75 50.5%,#0b1776 54.5%,#0f2477 57.5%,#194579 62.5%,#1c4d7a 63.5%,#24637c 67.5%,#29707e 70.5%,#308080 75.5%,#358673 80.5%,#398b68 83.5%,#3f925a 86.5%,#43984d 88.5%,#4a9b46 89.5%,#62a14d 91.5%,#72a551 92.5%,#b7b75e 98.5%,#bab160 99.5%)"></i><i style="background:linear-gradient(90deg,#c1a367 0.5%,#b9b45f 3.5%,#b2b65d 4.5%,#7ca753 9.5%,#539d48 12.5%,#459a49 13.5%,#3d905d 16.5%,#348576 20.5%,#308080 22.5%,#286d7d 25.5%,#1c4d7a 31.5%,#112977 39.5%,#0b1776 44.5%,#091075 47.5%,#090e75 49.5%,#090e75 50.5%,#0c1876 54.5%,#102577 57.5%,#1a4679 62.5%,#1c4e7a 63.5%,#24647c 67.5%,#29707e 70.5%,#308080 75.5%,#358673 80.5%,#37896c 82.5%,#3f925a 86.5%,#43984e 88.5%,#499b46 89.5%,#559e49 90.5%,#71a550 92.5%,#b7b75e 98.5%,#bab160 99.5%)"></i><i style="background:linear-gradient(90deg,#c0a367 0.5%,#b9b45f 3.5%,#b2b65d 4.5%,#7ca753 9.5%,#539d48 12.5%,#459a49 13.5%,#3d905d 16.5%,#348576 20.5%,#308080 22.5%,#286d7d 25.5%,#1c4d7a 31.5%,#112977 39.5%,#0b1575 45.5%,#090f75 49.5%,#0a1175 51.5%,#0c1976 54.5%,#102677 57.5%,#1c4e7a 63.5%,#22607c 66.5%,#2a717e 70.5%,#308080 75.5%,#358673 80.5%,#37896c 82.5%,#3e925a 86.5%,#43974e 88.5%,#499b47 89.5%,#559e49 90.5%,#7da853 93.5%,#b6b75e 98.5%,#bab160 99.5%)"></i><i style="background:linear-gradient(90deg,#c0a366 0.5%,#b8b45f 3.5%,#b2b65d 4.5%,#7ca753 9.5%,#539d48 12.5%,#459a49 13.5%,#3d905d 16.5%,#348576 20.5%,#308080 22.5%,#286d7d 25.5%,#20587b 29.5%,#112977 39.5%,#0b1575 45.5%,#090f75 49.5%,#0a1175 51.5%,#0c1a76 54.5%,#102777 57.5%,#1f557b 64.5%,#23607c 66.5%,#2a717e 70.5%,#308080 75.5%,#338379 78.5%,#37896d 82.5%,#3e925a 86.5%,#43974e 88.5%,#489b47 89.5%,#7da853 93.5%,#b6b75e 98.5%,#bab160 99.5%)"></i><i style="background:linear-gradient(90deg,#c0a466 0.5%,#b8b45f 3.5%,#b2b65d 4.5%,#7ca753 9.5%,#539d48 12.5%,#459a49 13.5%,#409357 15.5%,#348576 20.5%,#308080 22.5%,#286d7d 25.5%,#1f577b 29.5%,#194379 33.5%,#112977 39.5%,#0b1575 45.5%,#091075 49.5%,#0a1275 51.5%,#0c1b76 54.5%,#102877 57.5%,#1f567b 64.5%,#23617c 66.5%,#2a717e 70.5%,#308080 75.5%,#328379 78.5%,#37896d 82.5%,#3e915b 86.5%,#43974e 88.5%,#489b47 89.5%,#7da853 93.5%,#b6b75e 98.5%,#bab160 99.5%)"></i><i style="background:linear-gradient(90deg,#c0a465 0.5%,#b8b45f 3.5%,#b2b65d 4.5%,#9baf59 6.5%,#7ca753 9.5%,#539d48 12.5%,#459a49 13.5%,#409357 15.5%,#348576 20.5%,#308080 22.5%,#286d7d 25.5%,#1f577b 29.5%,#1b497a 32.5%,#194379 33.5%,#0f2577 40.5%,#0c1976 44.5%,#0b1575 45.5%,#091075 49.5%,#0b1776 53.5%,#112977 57.5%,#1f577b 64.5%,#23627c 66.5%,#2a727e 70.5%,#308080 75.5%,#328379 78.5%,#37896d 82.5%,#3e915b 86.5%,#43974f 88.5%,#479a47 89.5%,#559e49 90.5%,#7da853 93.5%,#87aa55 94.5%,#b5b65e 98.5%,#bab260 99.5%)"></i><i style="background:linear-gradient(90deg,#c0a465 0.5%,#b8b45f 3.5%,#b2b55d 4.5%,#7ba753 9.5%,#539d48 12.5%,#459a49 13.5%,#409357 15.5%,#368770 19.5%,#308080 22.5%,#286d7d 25.5%,#1f577b 29.5%,#194379 33.5%,#0f2577 40.5%,#0b1575 45.5%,#0a1175 49.5%,#0c1876 53.5%,#112b77 57.5%,#23627c 66.5%,#2a727e 70.5%,#308080 75.5%,#328379 78.5%,#37896d 82.5%,#3c8f60 85.5%,#43974f 88.5%,#479a48 89.5%,#549e49 90.5%,#7da753 93.5%,#b5b65e 98.5%,#b9b260 99.5%)"></i><i style="background:linear-gradient(90deg,#c0a465 0.5%,#b8b45f 3.5%,#b1b55d 4.5%,#7ba753 9.5%,#539d48 12.5%,#459a49 13.5%,#3d905d 16.5%,#368770 19.5%,#308080 22.5%,#286d7d 25.5%,#1f577b 29.5%,#194379 33.5%,#0f2577 40.5%,#0b1676 45.5%,#0a1275 49.5%,#0c1976 53.5%,#112c77 57.5%,#24637c 66.5%,#2a727e 70.5%,#308080 75.5%,#328379 78.5%,#37896d 82.5%,#3c8f60 85.5%,#43974f 88.5%,#479a48 89.5%,#549e49 90.5%,#7da753 93.5%,#b5b65e 98.5%,#b9b260 99.5%)"></i><i style="background:linear-gradient(90deg,#c0a465 0.5%,#b8b45f 3.5%,#b1b55d 4.5%,#7ba752 9.5%,#539d48 12.5%,#459a49 13.5%,#3d905d 16.5%,#368770 19.5%,#308080 22.5%,#286d7d 25.5%,#1f577b 29.5%,#194379 33.5%,#0f2577 40.5%,#0b1676 45.5%,#0a1375 49.5%,#0c1a76 53.5%,#102877 56.5%,#133378 58.5%,#24637c 66.5%,#2a727e 70.5%,#308080 75.5%,#328379 78.5%,#37896d 82.5%,#3c8f61 85.5%,#469a48 89.5%,#539e49 90.5%,#7ca753 93.5%,#b5b65e 98.5%,#b9b260 99.5%)"></i><i style="background:linear-gradient(90deg,#c0a465 0.5%,#b8b45f 3.5%,#b1b55d 4.5%,#7aa752 9.5%,#539d48 12.5%,#459a49 13.5%,#3d905d 16.5%,#368770 19.5%,#308080 22.5%,#286d7d 25.5%,#1f577b 29.5%,#194379 33.5%,#0f2577 40.5%,#0d1e76 42.5%,#0b1776 45.5%,#0b1475 47.5%,#0b1475 50.5%,#0c1b76 53.5%,#143478 58.5%,#24637c 66.5%,#2a727e 70.5%,#308080 75.5%,#348574 80.5%,#398a69 83.5%,#3c8f61 85.5%,#469a48 89.5%,#539d49 90.5%,#7ca753 93.5%,#b5b65e 98.5%,#b9b260 99.5%)"></i><i style="background:linear-gradient(90deg,#c0a465 0.5%,#b8b45f 3.5%,#b0b55d 4.5%,#7aa752 9.5%,#539d48 12.5%,#459a49 13.5%,#3d905d 16.5%,#368770 19.5%,#308080 22.5%,#286d7d 25.5%,#1a477a 32.5%,#0f2577 40.5%,#0d1e76 42.5%,#0b1575 46.5%,#0b1575 50.5%,#0d1c76 53.5%,#112977 56.5%,#1c4d7a 62.5%,#26687d 67.5%,#308080 75.5%,#348575 80.5%,#388a6a 83.5%,#3c8e61 85.5%,#459a49 89.5%,#539d48 90.5%,#7ca753 93.5%,#b5b65e 98.5%,#b9b360 99.5%)"></i><i style="background:linear-gradient(90deg,#c0a465 0.5%,#b8b45f 3.5%,#b0b55d 4.5%,#7aa752 9.5%,#539d48 12.5%,#459a49 13.5%,#36886f 19.5%,#308080 22.5%,#286d7d 25.5%,#1a477a 32.5%,#0f2577 40.5%,#0d1e76 42.5%,#0b1575 46.5%,#0b1676 50.5%,#0d1d76 53.5%,#112a77 56.5%,#1c4e7a 62.5%,#26697d 67.5%,#2d787f 72.5%,#308080 75.5%,#348575 80.5%,#37896e 82.5%,#3c8e61 85.5%,#459a49 89.5%,#529d48 90.5%,#7ba753 93.5%,#b5b65e 98.5%,#b9b360 99.5%)"></i><i style="background:linear-gradient(90deg,#c0a465 0.5%,#b8b55f 3.5%,#b0b55d 4.5%,#7aa752 9.5%,#539d48 12.5%,#459a49 13.5%,#36886f 19.5%,#308080 22.5%,#215c7c 28.5%,#1e537b 30.5%,#1a477a 32.5%,#102677 40.5%,#0e1f76 42.5%,#0b1676 46.5%,#0b1776 50.5%,#0d1e76 53.5%,#112b77 56.5%,#23607c 65.5%,#26697d 67.5%,#2d797f 72.5%,#308080 75.5%,#348575 80.5%,#37886e 82.5%,#3c8e61 85.5%,#459a49 89.5%,#529d48 90.5%,#7ba753 93.5%,#b5b65e 98.5%,#b9b360 99.5%)"></i><i style="background:linear-gradient(90deg,#c0a465 0.5%,#b8b55f 3.5%,#b0b55d 4.5%,#7aa752 9.5%,#539d48 12.5%,#459a49 13.5%,#36886f 19.5%,#308080 22.5%,#215c7c 28.5%,#1e537b 30.5%,#1a477a 32.5%,#112977 39.5%,#0e1f76 42.5%,#0b1676 46.5%,#0b1676 49.5%,#0e1f76 53.5%,#153778 58.5%,#23617c 65.5%,#26697d 67.5%,#2d797f 72.5%,#308080 75.5%,#348575 80.5%,#37886e 82.5%,#3e915c 86.5%,#459a49 89.5%,#519d48 90.5%,#7ba752 93.5%,#b4b65e 98.5%,#b9b360 99.5%)"></i><i style="background:linear-gradient(90deg,#c0a465 0.5%,#b8b55f 3.5%,#b0b55d 4.5%,#7aa752 9.5%,#539d48 12.5%,#459a49 13.5%,#37886f 19.5%,#308080 22.5%,#215c7c 28.5%,#1e537b 30.5%,#1a477a 32.5%,#112977 39.5%,#0f2277 41.5%,#0b1776 46.5%,#0b1776 49.5%,#0e2076 53.5%,#153878 58.5%,#23617c 65.5%,#276a7d 67.5%,#2d797f 72.5%,#308080 75.5%,#348575 80.5%,#37886e 82.5%,#3e915c 86.5%,#459a49 89.5%,#519d48 90.5%,#7aa752 93.5%,#b4b65d 98.5%,#b9b360 99.5%)"></i><i style="background:linear-gradient(90deg,#c0a465 0.5%,#b8b55f 3.5%,#b0b55d 4.5%,#7aa752 9.5%,#539d48 12.5%,#459a48 13.5%,#398b68 18.5%,#308080 22.5%,#215c7c 28.5%,#1a477a 32.5%,#112977 39.5%,#0f2377 41.5%,#0b1776 46.5%,#0b1776 49.5%,#0e2076 53.5%,#153978 58.5%,#23627c 65.5%,#2d7a7f 72.5%,#308080 75.5%,#31827c 77.5%,#37886e 82.5%,#3e915c 86.5%,#459a49 89.5%,#509d48 90.5%,#7aa752 93.5%,#b4b65d 98.5%,#b9b360 99.5%)"></i><i style="background:linear-gradient(90deg,#c0a465 0.5%,#b8b55f 3.5%,#b0b55d 4.5%,#7aa752 9.5%,#539e49 12.5%,#469a48 13.5%,#398b68 18.5%,#30807f 22.5%,#20577b 29.5%,#194379 33.5%,#112977 39.5%,#0e2076 42.5%,#0c1876 46.5%,#0c1876 49.5%,#0e2176 53.5%,#122f78 56.5%,#24627c 65.5%,#2c777f 71.5%,#308080 75.5%,#31827c 77.5%,#37886e 82.5%,#3e915c 86.5%,#459a49 89.5%,#509d48 90.5%,#7aa752 93.5%,#b3b65d 98.5%,#b9b360 99.5%)"></i><i style="background:linear-gradient(90deg,#c0a465 0.5%,#b8b55f 3.5%,#b0b55d 4.5%,#7ba753 9.5%,#549e49 12.5%,#469a48 13.5%,#398b68 18.5%,#30807f 22.5%,#225d7c 28.5%,#194379 33.5%,#112977 39.5%,#0e2076 42.5%,#0c1876 46.5%,#0c1a76 50.5%,#0f2277 53.5%,#133078 56.5%,#24637c 65.5%,#2c777f 71.5%,#308080 75.5%,#31827c 77.5%,#37886e 82.5%,#3e915c 86.5%,#459a49 89.5%,#509d48 90.5%,#7aa752 93.5%,#b3b65d 98.5%,#b9b35f 99.5%)"></i><i style="background:linear-gradient(90deg,#c0a465 0.5%,#b8b55f 3.5%,#b0b55d 4.5%,#7ba753 9.5%,#549e49 12.5%,#479a48 13.5%,#398b68 18.5%,#30807f 22.5%,#225e7c 28.5%,#194379 33.5%,#112977 39.5%,#0e2076 42.5%,#0c1976 46.5%,#0c1b76 50.5%,#0f2377 53.5%,#133178 56.5%,#225f7c 64.5%,#276b7d 67.5%,#2c787f 71.5%,#308080 75.5%,#31827c 77.5%,#37886e 82.5%,#3e915c 86.5%,#459a49 89.5%,#509d48 90.5%,#7aa752 93.5%,#b3b65d 98.5%,#b9b35f 99.5%)"></i><i style="background:linear-gradient(90deg,#c0a565 0.5%,#b8b55f 3.5%,#b0b55d 4.5%,#8fac56 7.5%,#7ba753 9.5%,#559e49 12.5%,#479a47 13.5%,#43974f 14.5%,#398b68 18.5%,#30817f 22.5%,#24647c 27.5%,#194379 33.5%,#112977 39.5%,#0f2577 41.5%,#0e2076 42.5%,#0c1976 46.5%,#0d1b76 50.5%,#0f2477 53.5%,#133278 56.5%,#23607c 64.5%,#26687d 66.5%,#2d787f 71.5%,#308080 75.5%,#358672 81.5%,#388a6b 83.5%,#3e915c 86.5%,#45994a 89.5%,#509d48 90.5%,#7aa752 93.5%,#b2b65d 98.5%,#b9b35f 99.5%)"></i><i style="background:linear-gradient(90deg,#c0a565 0.5%,#b8b55f 3.5%,#b0b55d 4.5%,#7ca753 9.5%,#489b47 13.5%,#43974f 14.5%,#398b68 18.5%,#31817e 22.5%,#24647c 27.5%,#173f79 34.5%,#112a77 39.5%,#0d1e76 43.5%,#0d1e76 44.5%,#0c1a76 46.5%,#0d1c76 50.5%,#0f2577 53.5%,#143378 56.5%,#23607c 64.5%,#26687d 66.5%,#2d787f 71.5%,#30807f 75.5%,#358672 81.5%,#388a6b 83.5%,#3e915c 86.5%,#45994a 89.5%,#509d48 90.5%,#7aa752 93.5%,#b2b65d 98.5%,#b9b35f 99.5%)"></i><i style="background:linear-gradient(90deg,#c0a565 0.5%,#b8b55f 3.5%,#b0b55d 4.5%,#7ca753 9.5%,#489b47 13.5%,#43974e 14.5%,#398b68 18.5%,#31817e 22.5%,#2e7c7f 23.5%,#24647c 27.5%,#173f79 34.5%,#112a77 39.5%,#0e2176 42.5%,#0c1b76 46.5%,#0d1d76 50.5%,#102677 53.5%,#143478 56.5%,#23617c 64.5%,#2c757e 70.5%,#30807f 75.5%,#358672 81.5%,#388a6b 83.5%,#3e915c 86.5%,#45994a 89.5%,#509d48 90.5%,#7aa752 93.5%,#b2b65d 98.5%,#b9b35f 99.5%)"></i><i style="background:linear-gradient(90deg,#c0a565 0.5%,#b8b55f 3.5%,#b0b55d 4.5%,#7ca753 9.5%,#499b47 13.5%,#43974e 14.5%,#31817e 22.5%,#2e7c7f 23.5%,#24647c 27.5%,#173f79 34.5%,#112b77 39.5%,#0e2176 42.5%,#0d1c76 46.5%,#0d1e76 50.5%,#102777 53.5%,#163b79 57.5%,#215c7c 63.5%,#25657d 65.5%,#2c767e 70.5%,#30807f 75.5%,#31827c 77.5%,#358672 81.5%,#388a6b 83.5%,#409357 87.5%,#45994a 89.5%,#509d48 90.5%,#7aa752 93.5%,#b2b65d 98.5%,#b9b35f 99.5%)"></i><i style="background:linear-gradient(90deg,#c0a565 0.5%,#b8b55f 3.5%,#b0b55d 4.5%,#7ca753 9.5%,#499b46 13.5%,#43974e 14.5%,#31817e 22.5%,#2e7c7f 23.5%,#24657c 27.5%,#173f79 34.5%,#112b77 39.5%,#0e2276 42.5%,#0d1d76 46.5%,#0d1d76 48.5%,#0e2176 51.5%,#133178 55.5%,#225d7c 63.5%,#25667d 65.5%,#2c767e 70.5%,#30807f 75.5%,#31827c 77.5%,#358672 81.5%,#388a6b 83.5%,#3b8e62 85.5%,#45994a 89.5%,#509d48 90.5%,#7aa752 93.5%,#b2b65d 98.5%,#b9b35f 99.5%)"></i><i style="background:linear-gradient(90deg,#c0a565 0.5%,#b8b55f 3.5%,#b0b55d 4.5%,#7ca753 9.5%,#559e49 12.5%,#4a9b46 13.5%,#43984e 14.5%,#358672 20.5%,#31817d 22.5%,#2f7d7f 23.5%,#25657d 27.5%,#173f79 34.5%,#133278 37.5%,#0f2577 41.5%,#0e2076 43.5%,#0d1e76 45.5%,#0d1e76 48.5%,#0f2277 51.5%,#133278 55.5%,#225e7c 63.5%,#25677d 65.5%,#2c767f 70.5%,#30817e 75.5%,#31827c 77.5%,#358672 81.5%,#388a6b 83.5%,#409357 87.5%,#45994a 89.5%,#509d48 90.5%,#7aa752 93.5%,#84a954 94.5%,#b2b65d 98.5%,#b9b35f 99.5%)"></i><i style="background:linear-gradient(90deg,#c0a565 0.5%,#b8b55f 3.5%,#b0b55d 4.5%,#7ca753 9.5%,#4a9b46 13.5%,#43984d 14.5%,#358772 20.5%,#31817d 22.5%,#2f7d7f 23.5%,#25657d 27.5%,#173f79 34.5%,#133378 37.5%,#0f2577 41.5%,#0d1e76 45.5%,#0e1f76 48.5%,#0f2377 51.5%,#143378 55.5%,#225f7c 63.5%,#25677d 65.5%,#2c777f 70.5%,#2f7f7f 74.5%,#31827c 77.5%,#358672 81.5%,#3b8e62 85.5%,#409357 87.5%,#45994a 89.5%,#509d48 90.5%,#7aa752 93.5%,#84a954 94.5%,#b2b65d 98.5%,#b9b35f 99.5%)"></i><i style="background:linear-gradient(90deg,#c0a565 0.5%,#b8b55f 3.5%,#b0b55d 4.5%,#7ca753 9.5%,#4a9b46 13.5%,#44984d 14.5%,#368771 20.5%,#31827c 22.5%,#2f7e7f 23.5%,#25667d 27.5%,#184079 34.5%,#143378 37.5%,#102677 41.5%,#0e1f76 45.5%,#0e2076 48.5%,#0f2477 51.5%,#143578 55.5%,#22607c 63.5%,#276b7d 66.5%,#2c777f 70.5%,#307f7f 74.5%,#32827c 77.5%,#358672 81.5%,#3b8e62 85.5%,#409357 87.5%,#45994a 89.5%,#509d48 90.5%,#7aa752 93.5%,#84a954 94.5%,#b2b65d 98.5%,#b9b35f 99.5%)"></i><i style="background:linear-gradient(90deg,#c0a565 0.5%,#b8b55f 3.5%,#b0b55d 4.5%,#7da753 9.5%,#4b9b46 13.5%,#44984c 14.5%,#388a6b 19.5%,#31827c 22.5%,#2f7f7f 23.5%,#25667d 27.5%,#184079 34.5%,#143478 37.5%,#102677 41.5%,#0e1f76 45.5%,#0e1f76 47.5%,#0f2577 51.5%,#143678 55.5%,#23607c 63.5%,#276c7d 66.5%,#2c777f 70.5%,#307f80 74.5%,#328379 78.5%,#358672 81.5%,#3b8e62 85.5%,#409357 87.5%,#45994a 89.5%,#509d48 90.5%,#7aa752 93.5%,#84a954 94.5%,#b2b65d 98.5%,#b9b35f 99.5%)"></i><i style="background:linear-gradient(90deg,#c0a565 0.5%,#b8b45f 3.5%,#b0b55d 4.5%,#7da753 9.5%,#4b9c47 13.5%,#44984c 14.5%,#388a6b 19.5%,#307f80 23.5%,#25667d 27.5%,#184079 34.5%,#112977 40.5%,#0f2276 43.5%,#0e2076 45.5%,#0e2076 47.5%,#102677 51.5%,#163c79 56.5%,#23617c 63.5%,#296f7e 67.5%,#2c787f 70.5%,#308080 74.5%,#328379 78.5%,#358672 81.5%,#3b8e62 85.5%,#409357 87.5%,#45994a 89.5%,#509d48 90.5%,#7aa752 93.5%,#84a954 94.5%,#b2b65d 98.5%,#b9b35f 99.5%)"></i><i style="background:linear-gradient(90deg,#c0a565 0.5%,#b8b45f 3.5%,#b0b55d 4.5%,#7da753 9.5%,#4c9c47 13.5%,#44994b 14.5%,#388a6b 19.5%,#308080 23.5%,#25677d 27.5%,#194579 33.5%,#112977 40.5%,#0f2277 43.5%,#0e2076 45.5%,#0e2076 47.5%,#102777 51.5%,#173d79 56.5%,#23627c 63.5%,#29707e 67.5%,#308080 74.5%,#328379 78.5%,#358672 81.5%,#3b8e62 85.5%,#409357 87.5%,#45994a 89.5%,#509d48 90.5%,#7aa752 93.5%,#84a954 94.5%,#b2b65d 98.5%,#b9b35f 99.5%)"></i><i style="background:linear-gradient(90deg,#c0a565 0.5%,#b8b45f 3.5%,#b1b55d 4.5%,#7ea853 9.5%,#4d9c47 13.5%,#44994b 14.5%,#388a6a 19.5%,#30807f 23.5%,#26677d 27.5%,#194579 33.5%,#112a77 40.5%,#0f2377 43.5%,#0e2176 45.5%,#0f2377 49.5%,#102877 51.5%,#173e79 56.5%,#23627c 63.5%,#29707e 67.5%,#308080 74.5%,#328379 78.5%,#358672 81.5%,#3b8e62 85.5%,#409357 87.5%,#45994a 89.5%,#509d48 90.5%,#7aa752 93.5%,#b2b65d 98.5%,#b9b45f 99.5%)"></i><i style="background:linear-gradient(90deg,#c0a565 0.5%,#b8b45f 3.5%,#b1b55d 4.5%,#7ea853 9.5%,#4e9c47 13.5%,#44994a 14.5%,#388a6a 19.5%,#30807f 23.5%,#24637c 28.5%,#1a467a 33.5%,#112a77 40.5%,#102677 42.5%,#0f2276 45.5%,#0f2477 49.5%,#112a77 51.5%,#173e79 56.5%,#1f547b 60.5%,#25667d 64.5%,#2a717e 67.5%,#308080 74.5%,#328379 78.5%,#358672 81.5%,#3b8e62 85.5%,#409357 87.5%,#45994a 89.5%,#509d48 90.5%,#79a652 93.5%,#b2b65d 98.5%,#b8b45f 99.5%)"></i><i style="background:linear-gradient(90deg,#c0a565 0.5%,#b8b45f 3.5%,#b1b55d 4.5%,#7ea853 9.5%,#4f9c47 13.5%,#45994a 14.5%,#398a69 19.5%,#30807f 23.5%,#24637c 28.5%,#1a467a 33.5%,#112b77 40.5%,#102677 42.5%,#0f2377 45.5%,#0f2377 47.5%,#102877 50.5%,#173f79 56.5%,#1f557b 60.5%,#25677d 64.5%,#2a717e 67.5%,#308080 74.5%,#328379 78.5%,#358672 81.5%,#3c8e61 85.5%,#409357 87.5%,#45994a 89.5%,#509d48 90.5%,#79a652 93.5%,#b2b65d 98.5%,#b8b45f 99.5%)"></i><i style="background:linear-gradient(90deg,#c0a565 0.5%,#b8b45f 3.5%,#b2b55d 4.5%,#7fa853 9.5%,#509d48 13.5%,#45994a 14.5%,#398b69 19.5%,#30807f 23.5%,#24637c 28.5%,#1a477a 33.5%,#112b77 40.5%,#102777 42.5%,#0f2477 45.5%,#0f2477 47.5%,#102977 50.5%,#184079 56.5%,#1f567b 60.5%,#26687d 64.5%,#2a717e 67.5%,#308080 74.5%,#328379 78.5%,#358672 81.5%,#388a6b 83.5%,#409357 87.5%,#45994a 89.5%,#509d48 90.5%,#79a652 93.5%,#b2b65d 98.5%,#b8b45f 99.5%)"></i><i style="background:linear-gradient(90deg,#c0a565 0.5%,#b8b45f 3.5%,#b2b65d 4.5%,#7fa853 9.5%,#509d48 13.5%,#45994a 14.5%,#398b68 19.5%,#30817e 23.5%,#24647c 28.5%,#1a477a 33.5%,#133278 38.5%,#133078 39.5%,#112c77 40.5%,#0f2577 44.5%,#0f2577 47.5%,#112a77 50.5%,#184179 56.5%,#1f577b 60.5%,#26687d 64.5%,#2c777f 69.5%,#308080 74.5%,#328379 78.5%,#358672 81.5%,#388a6b 83.5%,#409357 87.5%,#45994a 89.5%,#509d48 90.5%,#78a652 93.5%,#b2b65d 98.5%,#b8b45f 99.5%)"></i><i style="background:linear-gradient(90deg,#c0a565 0.5%,#b8b45f 3.5%,#b2b65d 4.5%,#75a651 10.5%,#519d48 13.5%,#459a49 14.5%,#358673 21.5%,#31817e 23.5%,#2e7c7f 24.5%,#24647c 28.5%,#194379 34.5%,#133378 38.5%,#122d77 40.5%,#102677 44.5%,#102677 47.5%,#112b77 50.5%,#173e79 55.5%,#20587b 60.5%,#26697d 64.5%,#2c777f 69.5%,#308080 74.5%,#328379 78.5%,#37886e 82.5%,#409357 87.5%,#45994a 89.5%,#509d48 90.5%,#78a652 93.5%,#b2b55d 98.5%,#b8b45f 99.5%)"></i><i style="background:linear-gradient(90deg,#c0a465 0.5%,#b8b45f 3.5%,#b2b65d 4.5%,#76a652 10.5%,#519d48 13.5%,#469a49 14.5%,#358672 21.5%,#31817d 23.5%,#2f7d7f 24.5%,#25657c 28.5%,#194479 34.5%,#143378 38.5%,#112977 42.5%,#102777 44.5%,#102777 47.5%,#122c77 50.5%,#173f79 55.5%,#20587b 60.5%,#26697d 64.5%,#2c777f 69.5%,#308080 74.5%,#338477 79.5%,#37886e 82.5%,#3e915c 86.5%,#45994a 89.5%,#509d48 90.5%,#78a652 93.5%,#b1b55d 98.5%,#b8b45f 99.5%)"></i><i style="background:linear-gradient(90deg,#c0a465 0.5%,#b9b45f 3.5%,#b2b65d 4.5%,#77a652 10.5%,#529d48 13.5%,#469a48 14.5%,#3a8c67 19.5%,#31827c 23.5%,#2f7d7f 24.5%,#205a7b 30.5%,#194479 34.5%,#143478 38.5%,#112a77 42.5%,#102877 44.5%,#102877 47.5%,#122e77 50.5%,#153778 53.5%,#183f79 55.5%,#20597b 60.5%,#26697d 64.5%,#2c787f 69.5%,#308080 74.5%,#338477 79.5%,#37886e 82.5%,#3e915c 86.5%,#45994a 89.5%,#509d48 90.5%,#78a652 93.5%,#a7b25b 97.5%,#b1b55d 98.5%,#b8b45f 99.5%)"></i><i style="background:linear-gradient(90deg,#c0a465 0.5%,#b9b45f 3.5%,#b2b65d 4.5%,#78a652 10.5%,#529d48 13.5%,#479a48 14.5%,#43974e 15.5%,#3a8c66 19.5%,#32827b 23.5%,#2f7e7f 24.5%,#2a717e 26.5%,#23617c 29.5%,#215a7b 30.5%,#194579 34.5%,#143478 38.5%,#112977 43.5%,#102977 44.5%,#102977 47.5%,#133278 51.5%,#184079 55.5%,#24637c 62.5%,#2b737e 67.5%,#308080 74.5%,#338477 79.5%,#37886e 82.5%,#3e915c 86.5%,#45994a 89.5%,#509d48 90.5%,#78a652 93.5%,#a7b25b 97.5%,#b1b55d 98.5%,#b8b45f 99.5%)"></i><i style="background:linear-gradient(90deg,#c0a465 0.5%,#b9b35f 3.5%,#b2b65d 4.5%,#81a854 9.5%,#78a652 10.5%,#539d48 13.5%,#489b47 14.5%,#43984d 15.5%,#3a8c66 19.5%,#2f7f7f 24.5%,#2a727e 26.5%,#23627c 29.5%,#215b7b 30.5%,#194579 34.5%,#143578 38.5%,#112a77 43.5%,#112a77 47.5%,#133378 51.5%,#184179 55.5%,#1d517b 58.5%,#24647c 62.5%,#2d787f 69.5%,#308080 74.5%,#338477 79.5%,#37886e 82.5%,#3e915c 86.5%,#45994a 89.5%,#509d48 90.5%,#78a652 93.5%,#a7b25b 97.5%,#b0b55d 98.5%,#b8b45f 99.5%)"></i><i style="background:linear-gradient(90deg,#c0a465 0.5%,#b9b35f 3.5%,#b3b65d 4.5%,#79a652 10.5%,#499b47 14.5%,#44984d 15.5%,#3a8d65 19.5%,#307f7f 24.5%,#1d507a 32.5%,#184179 35.5%,#143678 38.5%,#112b77 43.5%,#112b77 47.5%,#143378 51.5%,#194379 55.5%,#215b7c 60.5%,#26687d 63.5%,#2d797f 69.5%,#30807f 74.5%,#338477 79.5%,#37886e 82.5%,#3e915c 86.5%,#45994a 89.5%,#509d48 90.5%,#79a652 93.5%,#a7b25b 97.5%,#b0b55d 98.5%,#b8b45f 99.5%)"></i><i style="background:linear-gradient(90deg,#c0a465 0.5%,#b9b35f 3.5%,#b3b65d 4.5%,#79a652 10.5%,#4a9b47 14.5%,#44984c 15.5%,#3b8d64 19.5%,#30807e 24.5%,#215c7c 30.5%,#184279 35.5%,#143378 39.5%,#112c77 43.5%,#112c77 47.5%,#143478 51.5%,#194479 55.5%,#215c7c 60.5%,#26687d 63.5%,#2d797f 69.5%,#30807f 74.5%,#348476 79.5%,#37886e 82.5%,#3e915c 86.5%,#45994a 89.5%,#509d48 90.5%,#79a652 93.5%,#a7b25b 97.5%,#b0b55d 98.5%,#b8b45f 99.5%)"></i><i style="background:linear-gradient(90deg,#c0a465 0.5%,#b9b35f 3.5%,#b3b65d 4.5%,#79a652 10.5%,#4a9b47 14.5%,#44984c 15.5%,#398b69 20.5%,#30807e 24.5%,#2e7a7f 25.5%,#225d7c 30.5%,#184279 35.5%,#143478 39.5%,#122d77 43.5%,#122d77 47.5%,#143578 51.5%,#194579 55.5%,#225d7c 60.5%,#26697d 63.5%,#2d797f 69.5%,#30807f 74.5%,#32827b 77.5%,#37886e 82.5%,#3e915c 86.5%,#45994a 89.5%,#509d48 90.5%,#79a652 93.5%,#a7b25b 97.5%,#b0b55d 98.5%,#b8b45f 99.5%)"></i><i style="background:linear-gradient(90deg,#c0a465 0.5%,#b9b35f 3.5%,#b4b65d 4.5%,#7aa752 10.5%,#64a24d 12.5%,#4b9c47 14.5%,#44994b 15.5%,#398b69 20.5%,#31817d 24.5%,#2e7b7f 25.5%,#24637c 29.5%,#194379 35.5%,#143478 39.5%,#122e77 42.5%,#122d77 47.5%,#153678 51.5%,#276a7d 63.5%,#2d7a7f 69.5%,#308080 73.5%,#32827b 77.5%,#368771 81.5%,#3a8c66 84.5%,#3e915c 86.5%,#45994a 89.5%,#509d48 90.5%,#7aa752 93.5%,#b0b55d 98.5%,#b8b45f 99.5%)"></i><i style="background:linear-gradient(90deg,#c0a465 0.5%,#b9b35f 3.5%,#b4b65d 4.5%,#7aa752 10.5%,#65a24d 12.5%,#4d9c47 14.5%,#45994b 15.5%,#358673 22.5%,#31817d 24.5%,#2e7c7f 25.5%,#24647c 29.5%,#194379 35.5%,#143578 39.5%,#122e77 42.5%,#122e77 47.5%,#153778 51.5%,#20597b 59.5%,#225f7c 60.5%,#276a7d 63.5%,#2d7a7f 69.5%,#308080 73.5%,#32827b 77.5%,#368771 81.5%,#3c8e61 85.5%,#45994a 89.5%,#509d48 90.5%,#7aa752 93.5%,#b0b55d 98.5%,#b8b45f 99.5%)"></i><i style="background:linear-gradient(90deg,#c0a466 0.5%,#b9b35f 3.5%,#b4b65e 4.5%,#71a550 11.5%,#4e9c47 14.5%,#45994a 15.5%,#358672 22.5%,#31827c 24.5%,#2f7d7f 25.5%,#225f7c 30.5%,#194479 35.5%,#143678 39.5%,#122f78 42.5%,#122f78 47.5%,#143678 50.5%,#163c79 52.5%,#225f7c 60.5%,#276a7d 63.5%,#2e7a7f 69.5%,#308080 73.5%,#32827a 77.5%,#368771 81.5%,#3c8e61 85.5%,#459a49 89.5%,#509d48 90.5%,#7aa752 93.5%,#b0b55d 98.5%,#b8b45f 99.5%)"></i><i style="background:linear-gradient(90deg,#c0a366 0.5%,#b9b35f 3.5%,#b5b65e 4.5%,#72a551 11.5%,#4f9d48 14.5%,#469a49 15.5%,#338477 23.5%,#2f7e7f 25.5%,#23607c 30.5%,#194579 35.5%,#153778 39.5%,#133078 42.5%,#133078 47.5%,#153778 50.5%,#173d79 52.5%,#23607c 60.5%,#276b7d 63.5%,#2e7a7f 69.5%,#308080 73.5%,#31827c 76.5%,#368771 81.5%,#3c8e61 85.5%,#459a49 89.5%,#509d48 90.5%,#7aa752 93.5%,#b0b55d 98.5%,#b8b45f 99.5%)"></i><i style="background:linear-gradient(90deg,#c0a367 0.5%,#b9b360 3.5%,#b5b65e 4.5%,#73a551 11.5%,#519d48 14.5%,#479a48 15.5%,#38896b 21.5%,#2f7f7f 25.5%,#23617c 30.5%,#1a467a 35.5%,#153778 39.5%,#133178 42.5%,#133178 47.5%,#153778 50.5%,#173e79 52.5%,#215b7c 59.5%,#23617c 60.5%,#2a717e 65.5%,#2e7b7f 69.5%,#308080 73.5%,#31827c 76.5%,#368771 81.5%,#3c8e61 85.5%,#459a49 89.5%,#509d48 90.5%,#7aa752 93.5%,#b0b55d 98.5%,#b8b45f 99.5%)"></i><i style="background:linear-gradient(90deg,#c1a367 0.5%,#bea863 1.5%,#b5b65e 4.5%,#74a551 11.5%,#529d48 14.5%,#479a48 15.5%,#43974e 16.5%,#388a6b 21.5%,#308080 25.5%,#286d7d 28.5%,#1b4b7a 34.5%,#153878 39.5%,#133278 42.5%,#133278 47.5%,#153878 50.5%,#173f79 52.5%,#1d517a 56.5%,#215c7c 59.5%,#23627c 60.5%,#2a727e 65.5%,#2e7b7f 69.5%,#308080 73.5%,#31827c 76.5%,#368771 81.5%,#3c8e61 85.5%,#459a49 89.5%,#509d48 90.5%,#7aa752 93.5%,#b0b55d 98.5%,#b8b45f 99.5%)"></i><i style="background:linear-gradient(90deg,#c1a367 0.5%,#bea863 1.5%,#b6b65e 4.5%,#75a551 11.5%,#539e49 14.5%,#489b47 15.5%,#44984d 16.5%,#388a6a 21.5%,#30807f 25.5%,#1c4c7a 34.5%,#183f79 37.5%,#163978 39.5%,#143378 42.5%,#143378 47.5%,#163a78 50.5%,#184079 52.5%,#24627c 60.5%,#296f7e 64.5%,#2b757e 66.5%,#2e7b7f 69.5%,#30807f 73.5%,#31827c 76.5%,#368771 81.5%,#3c8e61 85.5%,#459a49 89.5%,#519d48 90.5%,#7aa752 93.5%,#b1b55d 98.5%,#b8b45f 99.5%)"></i><i style="background:linear-gradient(90deg,#c1a367 0.5%,#bea864 1.5%,#b6b65e 4.5%,#75a651 11.5%,#499b47 15.5%,#44984c 16.5%,#398a6a 21.5%,#30817e 25.5%,#1c4d7a 34.5%,#184079 37.5%,#163a78 39.5%,#143478 42.5%,#143578 47.5%,#163b79 50.5%,#184179 52.5%,#24637c 60.5%,#29707e 64.5%,#2e7b7f 69.5%,#30807f 73.5%,#32827c 76.5%,#368770 81.5%,#3c8f61 85.5%,#459a49 89.5%,#519d48 90.5%,#7aa752 93.5%,#b1b55d 98.5%,#b8b45f 99.5%)"></i><i style="background:linear-gradient(90deg,#c1a367 0.5%,#bea864 1.5%,#b7b65e 4.5%,#76a652 11.5%,#4a9b47 15.5%,#44994b 16.5%,#398b69 21.5%,#31817e 25.5%,#2e7b7f 26.5%,#1c4e7a 34.5%,#173e79 38.5%,#143578 42.5%,#143578 46.5%,#163c79 50.5%,#184279 52.5%,#24647c 60.5%,#29707e 64.5%,#2e7b7f 69.5%,#30807f 73.5%,#328379 77.5%,#368770 81.5%,#3c8f60 85.5%,#459a49 89.5%,#529d48 90.5%,#7aa752 93.5%,#b1b55d 98.5%,#b8b45f 99.5%)"></i><i style="background:linear-gradient(90deg,#c1a367 0.5%,#bea864 1.5%,#b7b65e 4.5%,#77a652 11.5%,#4b9b47 15.5%,#44994b 16.5%,#358673 23.5%,#31817d 25.5%,#2e7c7f 26.5%,#1c4e7a 34.5%,#173e79 38.5%,#143678 42.5%,#143678 46.5%,#173d79 50.5%,#194479 52.5%,#24647c 60.5%,#2a717e 64.5%,#2c767e 66.5%,#30807f 73.5%,#328379 77.5%,#358673 80.5%,#3c8f60 85.5%,#459a49 89.5%,#529d48 90.5%,#7aa752 93.5%,#b2b55d 98.5%,#b8b45f 99.5%)"></i><i style="background:linear-gradient(90deg,#c1a367 0.5%,#bfa764 1.5%,#b7b65e 4.5%,#93ad57 8.5%,#82a954 10.5%,#4c9c47 15.5%,#45994a 16.5%,#358672 23.5%,#31827c 25.5%,#2f7d7f 26.5%,#1d4f7a 34.5%,#173f79 38.5%,#153678 42.5%,#153678 46.5%,#184179 51.5%,#215c7c 58.5%,#23627c 59.5%,#2a727e 64.5%,#2c767f 66.5%,#308080 72.5%,#328379 77.5%,#358673 80.5%,#3a8d65 84.5%,#3e915b 86.5%,#459a49 89.5%,#539d48 90.5%,#7aa752 93.5%,#86aa55 94.5%,#8fac56 95.5%,#b2b65d 98.5%,#b8b45f 99.5%)"></i><i style="background:linear-gradient(90deg,#c1a368 0.5%,#bfa764 1.5%,#b7b65e 4.5%,#83a954 10.5%,#4d9c47 15.5%,#469a49 16.5%,#358771 23.5%,#32827b 25.5%,#2f7e7f 26.5%,#1d507a 34.5%,#194479 37.5%,#173e79 39.5%,#153778 43.5%,#153878 46.5%,#184279 51.5%,#24637c 59.5%,#2a727e 64.5%,#2c777f 66.5%,#30817e 73.5%,#328379 77.5%,#358673 80.5%,#3a8d64 84.5%,#3e915b 86.5%,#469a48 89.5%,#539d48 90.5%,#7aa752 93.5%,#b2b65d 98.5%,#b8b45f 99.5%)"></i><i style="background:linear-gradient(90deg,#c1a368 0.5%,#bfa764 1.5%,#b8b65e 4.5%,#afb55d 5.5%,#7aa752 11.5%,#4f9c47 15.5%,#479a48 16.5%,#43974e 17.5%,#368771 23.5%,#2f7e7f 26.5%,#1f567b 33.5%,#1c4d7a 35.5%,#173e79 39.5%,#153878 43.5%,#153978 46.5%,#173e79 49.5%,#194379 51.5%,#24637c 59.5%,#2a727e 64.5%,#307f7f 71.5%,#30817e 73.5%,#32827b 76.5%,#358673 80.5%,#3b8d64 84.5%,#43974f 88.5%,#469a48 89.5%,#539d48 90.5%,#7ba752 93.5%,#b2b65d 98.5%,#b8b45f 99.5%)"></i><i style="background:linear-gradient(90deg,#c1a369 0.5%,#bfa764 1.5%,#b8b55f 4.5%,#b0b55d 5.5%,#7ba753 11.5%,#509d48 15.5%,#489a48 16.5%,#43974e 17.5%,#368770 23.5%,#307f7f 26.5%,#1f577b 33.5%,#1c4e7a 35.5%,#173f79 39.5%,#153978 43.5%,#163b79 47.5%,#173f79 49.5%,#1b4c7a 53.5%,#24647c 59.5%,#286d7d 62.5%,#2c777f 66.5%,#307f80 71.5%,#30817e 73.5%,#338477 78.5%,#368770 81.5%,#3b8d64 84.5%,#43974f 88.5%,#479a48 89.5%,#539d48 90.5%,#7ba753 93.5%,#b2b65d 98.5%,#b8b45f 99.5%)"></i><i style="background:linear-gradient(90deg,#c2a369 0.5%,#bfa764 1.5%,#b8b55f 4.5%,#b0b55d 5.5%,#7ca753 11.5%,#519d48 15.5%,#499b47 16.5%,#44984d 17.5%,#30807f 26.5%,#20587b 33.5%,#1c4f7a 35.5%,#184079 39.5%,#163a78 43.5%,#163a78 45.5%,#184079 49.5%,#1c4d7a 53.5%,#24657c 59.5%,#2c767e 65.5%,#308080 71.5%,#30817e 73.5%,#338477 78.5%,#368770 81.5%,#3b8d64 84.5%,#43974f 88.5%,#479a48 89.5%,#539d48 90.5%,#7ba753 93.5%,#b2b65d 98.5%,#b8b45f 99.5%)"></i><i style="background:linear-gradient(90deg,#c2a46a 0.5%,#bfa664 1.5%,#b8b55f 4.5%,#b0b55d 5.5%,#7da853 11.5%,#74a551 12.5%,#539d48 15.5%,#4a9b46 16.5%,#44984c 17.5%,#30817e 26.5%,#24647c 31.5%,#1d4f7a 35.5%,#184179 39.5%,#163b79 43.5%,#163b79 45.5%,#184179 49.5%,#1c4e7a 53.5%,#23627c 58.5%,#2c777f 65.5%,#308080 71.5%,#30817e 73.5%,#338477 78.5%,#368770 81.5%,#398b68 83.5%,#43974f 88.5%,#479a47 89.5%,#539d48 90.5%,#7ca753 93.5%,#9baf59 96.5%,#b2b65d 98.5%,#b8b45f 99.5%)"></i><i style="background:linear-gradient(90deg,#c2a46a 0.5%,#bfa664 1.5%,#b8b55f 4.5%,#b1b55d 5.5%,#75a651 12.5%,#4b9b46 16.5%,#44994b 17.5%,#31817e 26.5%,#2e7c7f 27.5%,#205a7b 33.5%,#1a487a 37.5%,#173e79 41.5%,#163c79 43.5%,#163c79 45.5%,#184279 49.5%,#1c4f7a 53.5%,#24637c 58.5%,#2c777f 65.5%,#30807f 71.5%,#31817e 73.5%,#338477 78.5%,#36886f 81.5%,#3b8d63 84.5%,#43974e 88.5%,#479a47 89.5%,#539d49 90.5%,#7ca753 93.5%,#b2b65d 98.5%,#b8b45f 99.5%)"></i><i style="background:linear-gradient(90deg,#c2a46b 0.5%,#bfa664 1.5%,#b8b55f 4.5%,#b2b55d 5.5%,#77a652 12.5%,#4d9c47 16.5%,#44994b 17.5%,#31817d 26.5%,#2f7d7f 27.5%,#2a717e 29.5%,#215b7b 33.5%,#1b497a 37.5%,#173f79 41.5%,#173d79 43.5%,#173d79 45.5%,#194479 49.5%,#1d507a 53.5%,#24637c 58.5%,#2c777f 65.5%,#307f7f 70.5%,#31817e 73.5%,#338477 78.5%,#36886f 81.5%,#3b8d63 84.5%,#43974e 88.5%,#479a47 89.5%,#549e49 90.5%,#7ca753 93.5%,#b2b65d 98.5%,#b8b45f 99.5%)"></i><i style="background:linear-gradient(90deg,#c2a46b 0.5%,#bfa664 1.5%,#b8b55f 4.5%,#b3b65d 5.5%,#98af58 8.5%,#78a652 12.5%,#4e9c47 16.5%,#45994a 17.5%,#31827c 26.5%,#2f7e7f 27.5%,#25677d 31.5%,#1b4a7a 37.5%,#183f79 41.5%,#173f79 43.5%,#183f79 46.5%,#194579 49.5%,#1d517b 53.5%,#24647c 58.5%,#2c787f 65.5%,#307f80 70.5%,#31817e 73.5%,#338378 77.5%,#36886f 81.5%,#3b8d63 84.5%,#43974e 88.5%,#479a47 89.5%,#549e49 90.5%,#7ca753 93.5%,#b2b65d 98.5%,#b9b45f 99.5%)"></i><i style="background:linear-gradient(90deg,#c3a46c 0.5%,#bfa664 1.5%,#b8b45f 4.5%,#b3b65d 5.5%,#99af58 8.5%,#79a652 12.5%,#4f9d48 16.5%,#459a49 17.5%,#307f80 27.5%,#26687d 31.5%,#1c4f7a 36.5%,#194479 39.5%,#184079 41.5%,#184079 45.5%,#184279 47.5%,#1c4f7a 52.5%,#23617c 57.5%,#286e7e 61.5%,#2d787f 65.5%,#308080 70.5%,#30817e 72.5%,#338378 77.5%,#37886f 81.5%,#3b8d63 84.5%,#43984e 88.5%,#479a47 89.5%,#549e49 90.5%,#6fa450 92.5%,#87aa55 94.5%,#b2b65d 98.5%,#b9b45f 99.5%)"></i><i style="background:linear-gradient(90deg,#c3a46d 0.5%,#bfa664 1.5%,#b8b45f 4.5%,#b4b65d 5.5%,#89ab55 10.5%,#7aa752 12.5%,#519d48 16.5%,#469a48 17.5%,#30807f 27.5%,#26697d 31.5%,#1d507a 36.5%,#194579 39.5%,#184179 41.5%,#184179 46.5%,#1b4a7a 50.5%,#1d507a 52.5%,#23627c 57.5%,#296f7e 61.5%,#2d787f 65.5%,#308080 70.5%,#30817e 72.5%,#348575 79.5%,#3b8d63 84.5%,#3f925a 86.5%,#43984d 88.5%,#489b47 89.5%,#6fa450 92.5%,#87aa55 94.5%,#b2b65d 98.5%,#b9b35f 99.5%)"></i><i style="background:linear-gradient(90deg,#c3a46d 0.5%,#bfa564 1.5%,#b8b45f 4.5%,#b5b65e 5.5%,#8aab55 10.5%,#7ba753 12.5%,#529d48 16.5%,#489b48 17.5%,#419553 19.5%,#30807f 27.5%,#276a7d 31.5%,#1d517a 36.5%,#1a477a 39.5%,#184279 42.5%,#194379 46.5%,#1b4b7a 50.5%,#24637c 57.5%,#2b747e 63.5%,#2f7f7f 69.5%,#31817e 72.5%,#348574 79.5%,#3b8d63 84.5%,#3f9259 86.5%,#43984d 88.5%,#489b47 89.5%,#7ca753 93.5%,#b2b65d 98.5%,#b9b35f 99.5%)"></i><i style="background:linear-gradient(90deg,#c3a46e 0.5%,#c0a565 1.5%,#b9b35f 4.5%,#b5b65e 5.5%,#8bab56 10.5%,#7ca753 12.5%,#549e49 16.5%,#499b48 17.5%,#44984c 18.5%,#31817e 27.5%,#2e7c7f 28.5%,#276b7d 31.5%,#1e527b 36.5%,#1a487a 39.5%,#194379 42.5%,#194479 46.5%,#1c4c7a 50.5%,#286d7d 60.5%,#2b757e 63.5%,#307f80 69.5%,#31817e 72.5%,#348574 79.5%,#3b8e63 84.5%,#3f9259 86.5%,#44984d 88.5%,#499b47 89.5%,#7ca753 93.5%,#b2b65d 98.5%,#b9b35f 99.5%)"></i><i style="background:linear-gradient(90deg,#c4a46e 0.5%,#c0a565 1.5%,#b6b75e 5.5%,#8cab56 10.5%,#7da853 12.5%,#559e49 16.5%,#4b9b48 17.5%,#44994b 18.5%,#31817d 27.5%,#2f7d7f 28.5%,#276c7d 31.5%,#1e537b 36.5%,#1b497a 39.5%,#194479 42.5%,#194479 45.5%,#1c4d7a 50.5%,#286e7d 60.5%,#2c767e 63.5%,#307f80 69.5%,#32827b 75.5%,#358674 79.5%,#388a6b 82.5%,#3f9259 86.5%,#44984d 88.5%,#499b46 89.5%,#7da753 93.5%,#b2b65d 98.5%,#b9b35f 99.5%)"></i><i style="background:linear-gradient(90deg,#c4a46f 0.5%,#c0a565 1.5%,#b7b75e 5.5%,#85aa55 11.5%,#7ea853 12.5%,#4d9c47 17.5%,#45994a 18.5%,#31827c 27.5%,#2f7e7f 28.5%,#286d7d 31.5%,#20587b 35.5%,#1c4d7a 38.5%,#194579 42.5%,#194579 45.5%,#1d517a 51.5%,#215c7c 54.5%,#2c767e 63.5%,#308080 69.5%,#32827b 75.5%,#348576 78.5%,#388a6b 82.5%,#3f9259 86.5%,#44984c 88.5%,#499b46 89.5%,#7da753 93.5%,#b2b65d 98.5%,#b9b35f 99.5%)"></i><i style="background:linear-gradient(90deg,#c4a46f 0.5%,#c0a565 1.5%,#b7b75e 5.5%,#86aa55 11.5%,#7fa853 12.5%,#4f9c47 17.5%,#459a49 18.5%,#32827b 27.5%,#307f7f 28.5%,#20597b 35.5%,#1c4e7a 38.5%,#1a4679 42.5%,#1a4679 45.5%,#1e527b 51.5%,#215d7c 54.5%,#2c777f 63.5%,#30807f 69.5%,#32827b 75.5%,#348576 78.5%,#388a6b 82.5%,#3f9258 86.5%,#44984c 88.5%,#4a9b46 89.5%,#62a14d 91.5%,#7da853 93.5%,#b2b65d 98.5%,#b9b35f 99.5%)"></i><i style="background:linear-gradient(90deg,#c4a570 0.5%,#c0a465 1.5%,#b7b65e 5.5%,#87aa55 11.5%,#80a854 12.5%,#509d48 17.5%,#479a49 18.5%,#43974e 19.5%,#32827a 27.5%,#307f7e 28.5%,#215a7b 35.5%,#1d4f7a 38.5%,#1a477a 42.5%,#1a477a 45.5%,#1e537b 51.5%,#25677d 57.5%,#2c777f 63.5%,#30807f 69.5%,#32827a 75.5%,#348575 78.5%,#388a6a 82.5%,#3f9358 86.5%,#44984c 88.5%,#4a9b46 89.5%,#7da853 93.5%,#b3b65d 98.5%,#b9b35f 99.5%)"></i><i style="background:linear-gradient(90deg,#c5a570 0.5%,#c0a465 1.5%,#b7b65e 5.5%,#82a954 12.5%,#70a450 14.5%,#529d48 17.5%,#489b48 18.5%,#43984d 19.5%,#30807e 28.5%,#2e7b7f 29.5%,#215c7c 35.5%,#1c4d7a 39.5%,#1a487a 42.5%,#1a487a 45.5%,#1d4f7a 49.5%,#1e547b 51.5%,#29707e 60.5%,#2c777f 63.5%,#30807f 69.5%,#32837a 75.5%,#348575 78.5%,#388a6a 82.5%,#3f9358 86.5%,#44984c 88.5%,#4b9b46 89.5%,#7da853 93.5%,#b3b65d 98.5%,#b9b35f 99.5%)"></i><i style="background:linear-gradient(90deg,#c5a571 0.5%,#c0a465 1.5%,#b8b65f 5.5%,#b1b55d 6.5%,#7aa752 13.5%,#539d49 17.5%,#4a9b47 18.5%,#44984c 19.5%,#338378 27.5%,#31817d 28.5%,#2e7c7f 29.5%,#215d7c 35.5%,#1c4e7a 39.5%,#1b4a7a 42.5%,#1b4a7a 45.5%,#1d507a 49.5%,#26697d 57.5%,#2c787f 63.5%,#308080 68.5%,#31827c 73.5%,#348575 78.5%,#37896d 81.5%,#3c8e61 84.5%,#3f9358 86.5%,#44994b 88.5%,#4b9b46 89.5%,#88aa55 94.5%,#b3b65d 98.5%,#b9b35f 99.5%)"></i><i style="background:linear-gradient(90deg,#c5a571 0.5%,#c0a465 1.5%,#b8b55f 5.5%,#b2b55d 6.5%,#73a551 14.5%,#4b9b47 18.5%,#44994b 19.5%,#358672 26.5%,#31827c 28.5%,#2f7d7f 29.5%,#25677d 33.5%,#225e7c 35.5%,#1d4f7a 39.5%,#1b4b7a 42.5%,#1b4b7a 45.5%,#1d517b 49.5%,#276a7d 57.5%,#2c767e 62.5%,#308080 68.5%,#31827c 73.5%,#348575 78.5%,#37896d 81.5%,#3c8e61 84.5%,#409357 86.5%,#44994b 88.5%,#4c9c47 89.5%,#579f4a 90.5%,#72a551 92.5%,#89ab55 94.5%,#b4b65d 98.5%,#b9b35f 99.5%)"></i><i style="background:linear-gradient(90deg,#c5a572 0.5%,#c0a465 1.5%,#b8b55f 5.5%,#b3b65d 6.5%,#75a651 14.5%,#4d9c47 18.5%,#45994a 19.5%,#358771 26.5%,#32827b 28.5%,#2f7d7f 29.5%,#26677d 33.5%,#215b7b 36.5%,#1d507a 39.5%,#1c4c7a 42.5%,#1c4c7a 45.5%,#1e527b 49.5%,#276a7d 57.5%,#2c777f 62.5%,#30807f 68.5%,#31827c 73.5%,#338478 76.5%,#37896d 81.5%,#3a8c66 83.5%,#409357 86.5%,#44994b 88.5%,#4c9c47 89.5%,#579f4a 90.5%,#72a551 92.5%,#89ab55 94.5%,#b4b65d 98.5%,#b9b35f 99.5%)"></i><i style="background:linear-gradient(90deg,#c5a572 0.5%,#c0a466 1.5%,#b8b55f 5.5%,#b3b65d 6.5%,#76a652 14.5%,#4e9c47 18.5%,#469a49 19.5%,#348576 27.5%,#2f7e7f 29.5%,#26687d 33.5%,#215c7c 36.5%,#1d517b 39.5%,#1c4d7a 42.5%,#1c4d7a 45.5%,#1e537b 49.5%,#276b7d 57.5%,#2c787f 62.5%,#30807f 68.5%,#32827c 73.5%,#338478 76.5%,#37896d 81.5%,#3a8c65 83.5%,#409357 86.5%,#44994b 88.5%,#4d9c47 89.5%,#589f4a 90.5%,#72a551 92.5%,#89ab55 94.5%,#b4b65d 98.5%,#b9b35f 99.5%)"></i><i style="background:linear-gradient(90deg,#c6a573 0.5%,#c0a366 1.5%,#b8b45f 5.5%,#b4b65d 6.5%,#77a652 14.5%,#509d48 18.5%,#479a48 19.5%,#43974e 20.5%,#348575 27.5%,#307f7e 29.5%,#26697d 33.5%,#215d7c 36.5%,#1e527b 39.5%,#1c4f7a 42.5%,#1c4f7a 45.5%,#1e547b 49.5%,#25667d 55.5%,#2d787f 62.5%,#2f7f7f 66.5%,#32827b 73.5%,#348576 77.5%,#37896d 81.5%,#3a8c65 83.5%,#44994b 88.5%,#4d9c47 89.5%,#7ea853 93.5%,#b4b65d 98.5%,#b9b35f 99.5%)"></i><i style="background:linear-gradient(90deg,#c6a573 0.5%,#c1a367 1.5%,#bea864 2.5%,#b8b45f 5.5%,#b5b65e 6.5%,#79a652 14.5%,#519d48 18.5%,#489b47 19.5%,#43984d 20.5%,#348574 27.5%,#30807e 29.5%,#2e7c7f 30.5%,#276a7d 33.5%,#205a7b 37.5%,#1e547b 39.5%,#1d507a 42.5%,#1d507a 46.5%,#1f557b 49.5%,#26677d 55.5%,#2d797f 62.5%,#307f80 66.5%,#32827b 73.5%,#348576 77.5%,#37896c 81.5%,#3a8d65 83.5%,#44994b 88.5%,#4e9c47 89.5%,#7fa853 93.5%,#b4b65d 98.5%,#b9b360 99.5%)"></i><i style="background:linear-gradient(90deg,#c6a574 0.5%,#c1a367 1.5%,#bfa764 2.5%,#b5b65e 6.5%,#7aa752 14.5%,#71a551 15.5%,#4a9b46 19.5%,#44984c 20.5%,#31817d 29.5%,#2f7d7f 30.5%,#276b7d 33.5%,#225e7c 36.5%,#1f557b 39.5%,#1d517b 41.5%,#1d517b 46.5%,#1f577b 49.5%,#29707e 58.5%,#2d7a7f 62.5%,#308080 66.5%,#32827b 73.5%,#348576 77.5%,#38896c 81.5%,#3a8d65 83.5%,#44994b 88.5%,#4e9c47 89.5%,#599f4a 90.5%,#74a551 92.5%,#aab35c 97.5%,#b4b65d 98.5%,#b9b360 99.5%)"></i><i style="background:linear-gradient(90deg,#c6a574 0.5%,#c1a368 1.5%,#bfa764 2.5%,#b6b65e 6.5%,#7ba753 14.5%,#73a551 15.5%,#4b9b47 19.5%,#44994b 20.5%,#358672 27.5%,#31817c 29.5%,#2f7e7f 30.5%,#286d7d 33.5%,#225f7c 36.5%,#1f567b 39.5%,#1e527b 41.5%,#1e527b 46.5%,#20587b 49.5%,#2c767e 60.5%,#2f7f7f 65.5%,#32827a 73.5%,#348576 77.5%,#38896c 81.5%,#3a8d64 83.5%,#44994b 88.5%,#4e9c47 89.5%,#5a9f4a 90.5%,#74a551 92.5%,#95ae57 95.5%,#b4b65d 98.5%,#b9b360 99.5%)"></i><i style="background:linear-gradient(90deg,#c7a675 0.5%,#c1a369 1.5%,#bfa764 2.5%,#b6b65e 6.5%,#7da753 14.5%,#4d9c47 19.5%,#45994a 20.5%,#338477 28.5%,#2f7e7f 30.5%,#286e7e 33.5%,#23607c 36.5%,#1f577b 39.5%,#1e537b 41.5%,#1e537b 46.5%,#20597b 49.5%,#2c767e 60.5%,#307f7f 65.5%,#32837a 73.5%,#348575 77.5%,#38896c 81.5%,#3b8d64 83.5%,#44994a 88.5%,#4e9c47 89.5%,#75a551 92.5%,#95ae58 95.5%,#b4b65e 98.5%,#b9b360 99.5%)"></i><i style="background:linear-gradient(90deg,#c7a675 0.5%,#c2a46a 1.5%,#bfa664 2.5%,#b7b65e 6.5%,#7ea853 14.5%,#63a24d 17.5%,#4f9c47 19.5%,#469a49 20.5%,#348576 28.5%,#307f7f 30.5%,#296f7e 33.5%,#225e7c 37.5%,#1f557b 41.5%,#1e537b 43.5%,#1f557b 46.5%,#215a7b 49.5%,#2b757e 59.5%,#307f80 65.5%,#32837a 73.5%,#348575 77.5%,#388a6b 81.5%,#3b8d64 83.5%,#45994a 88.5%,#4e9c47 89.5%,#75a651 92.5%,#95ae58 95.5%,#b5b65e 98.5%,#b9b360 99.5%)"></i><i style="background:linear-gradient(90deg,#c7a676 0.5%,#c2a46b 1.5%,#bfa664 2.5%,#b7b65e 6.5%,#b1b55d 7.5%,#93ad57 11.5%,#7fa853 14.5%,#65a24d 17.5%,#519d48 19.5%,#479a48 20.5%,#348575 28.5%,#30807f 30.5%,#24637c 36.5%,#215c7c 38.5%,#1f567b 41.5%,#1e547b 43.5%,#1f567b 46.5%,#215b7c 49.5%,#2c767e 59.5%,#308080 65.5%,#32837a 73.5%,#348575 77.5%,#388a6b 81.5%,#3b8d64 83.5%,#45994a 88.5%,#4e9c47 89.5%,#76a652 92.5%,#96ae58 95.5%,#b5b65e 98.5%,#b9b360 99.5%)"></i><i style="background:linear-gradient(90deg,#c7a676 0.5%,#c3a46c 1.5%,#bfa664 2.5%,#b7b65e 6.5%,#b2b65d 7.5%,#95ae57 11.5%,#81a854 14.5%,#67a34e 17.5%,#489b47 20.5%,#3f9258 23.5%,#30817e 30.5%,#24647c 36.5%,#215c7c 38.5%,#1f557b 43.5%,#1f577b 46.5%,#215c7c 49.5%,#2c777f 59.5%,#308080 65.5%,#328379 73.5%,#348575 77.5%,#388a6b 81.5%,#3b8d63 83.5%,#45994a 88.5%,#4e9c47 89.5%,#76a652 92.5%,#96ae58 95.5%,#b5b65e 98.5%,#b9b360 99.5%)"></i><i style="background:linear-gradient(90deg,#c8a777 0.5%,#c3a46d 1.5%,#c0a565 2.5%,#b8b55f 6.5%,#b3b65d 7.5%,#7aa752 15.5%,#68a34e 17.5%,#499b47 20.5%,#44994b 21.5%,#398b68 26.5%,#31817d 30.5%,#2f7c7f 31.5%,#24657c 36.5%,#225e7c 38.5%,#1f567b 43.5%,#20587b 46.5%,#225e7c 49.5%,#2c777f 59.5%,#2f7e7f 63.5%,#31817e 66.5%,#328379 73.5%,#348574 77.5%,#388a6b 81.5%,#3b8d63 83.5%,#459949 88.5%,#4f9c47 89.5%,#77a652 92.5%,#b5b65e 98.5%,#b9b260 99.5%)"></i><i style="background:linear-gradient(90deg,#c8a778 0.5%,#c3a46d 1.5%,#c0a565 2.5%,#b8b55f 6.5%,#b4b65d 7.5%,#73a551 16.5%,#4b9b48 20.5%,#44994b 21.5%,#358672 28.5%,#31827c 30.5%,#2f7e7f 31.5%,#25667d 36.5%,#225f7c 38.5%,#20577b 43.5%,#20597b 46.5%,#225f7c 49.5%,#2d787f 59.5%,#2f7e7f 63.5%,#31817d 66.5%,#338379 73.5%,#348574 77.5%,#388a6a 81.5%,#3b8d63 83.5%,#459a49 88.5%,#4f9c47 89.5%,#77a652 92.5%,#b5b65e 98.5%,#b9b260 99.5%)"></i><i style="background:linear-gradient(90deg,#c9a779 0.5%,#c4a46e 1.5%,#c0a465 2.5%,#b8b45f 6.5%,#b4b65e 7.5%,#75a651 16.5%,#4d9c48 20.5%,#45994a 21.5%,#358771 28.5%,#307f7f 31.5%,#25677d 36.5%,#23607c 38.5%,#20587b 43.5%,#215a7b 46.5%,#23607c 49.5%,#2d797f 59.5%,#307f7f 63.5%,#338379 73.5%,#358674 77.5%,#388a6a 81.5%,#3b8e63 83.5%,#459a49 88.5%,#509d48 89.5%,#78a652 92.5%,#b5b65e 98.5%,#b9b260 99.5%)"></i><i style="background:linear-gradient(90deg,#c9a87a 0.5%,#c4a46e 1.5%,#c0a465 2.5%,#b8b45f 6.5%,#b5b65e 7.5%,#77a652 16.5%,#4f9c48 20.5%,#459a49 21.5%,#368770 28.5%,#30807e 31.5%,#26687d 36.5%,#23617c 38.5%,#205a7b 43.5%,#215c7c 46.5%,#23617c 49.5%,#2d797f 59.5%,#308080 63.5%,#338378 73.5%,#358674 77.5%,#388a6a 81.5%,#3b8e62 83.5%,#459a49 88.5%,#509d48 89.5%,#78a652 92.5%,#b5b65e 98.5%,#b9b260 99.5%)"></i><i style="background:linear-gradient(90deg,#caa87b 0.5%,#c4a46f 1.5%,#c0a465 2.5%,#b6b65e 7.5%,#79a652 16.5%,#519d48 20.5%,#469a48 21.5%,#36886f 28.5%,#31817e 31.5%,#26697d 36.5%,#25657d 37.5%,#215d7c 41.5%,#215b7b 43.5%,#215d7c 46.5%,#24647c 50.5%,#2b747e 56.5%,#30807f 63.5%,#31827c 66.5%,#338378 73.5%,#358673 77.5%,#398a6a 81.5%,#3b8e62 83.5%,#459a48 88.5%,#509d48 89.5%,#78a652 92.5%,#b5b65e 98.5%,#b9b260 99.5%)"></i><i style="background:linear-gradient(90deg,#caa87c 0.5%,#c5a570 1.5%,#c0a466 2.5%,#b6b65e 7.5%,#b0b55d 8.5%,#7aa752 16.5%,#5ea04b 19.5%,#539d48 20.5%,#489b48 21.5%,#44984c 22.5%,#3f9258 24.5%,#31817d 31.5%,#2f7d7f 32.5%,#25667d 37.5%,#225e7c 41.5%,#215c7c 43.5%,#225e7c 46.5%,#25657c 50.5%,#2b747e 56.5%,#2f7e7f 61.5%,#31817d 65.5%,#338478 73.5%,#358673 77.5%,#398b69 81.5%,#3b8e62 83.5%,#43974e 87.5%,#469a48 88.5%,#519d48 89.5%,#78a652 92.5%,#b6b75e 98.5%,#b9b260 99.5%)"></i><i style="background:linear-gradient(90deg,#caa87c 0.5%,#c0a366 2.5%,#b7b65e 7.5%,#b1b55d 8.5%,#7ca753 16.5%,#60a14c 19.5%,#499b48 21.5%,#44994b 22.5%,#37896d 28.5%,#31817d 31.5%,#2d797f 33.5%,#26677d 37.5%,#225f7c 41.5%,#225d7c 43.5%,#225f7c 46.5%,#25667d 50.5%,#2c777f 57.5%,#2f7e7f 61.5%,#31827c 65.5%,#338478 73.5%,#358673 77.5%,#398b69 81.5%,#3c8e62 83.5%,#43974e 87.5%,#469a48 88.5%,#519d48 89.5%,#6ca44f 91.5%,#83a954 93.5%,#b6b75e 98.5%,#b9b260 99.5%)"></i><i style="background:linear-gradient(90deg,#caa87d 0.5%,#c0a367 2.5%,#b7b65e 7.5%,#b2b65d 8.5%,#7da753 16.5%,#62a14c 19.5%,#4b9b48 21.5%,#45994a 22.5%,#358672 29.5%,#31827c 31.5%,#307f7f 32.5%,#26687d 37.5%,#24647c 39.5%,#225e7c 43.5%,#23607c 46.5%,#25677d 50.5%,#2d787f 57.5%,#307f7f 61.5%,#32827b 65.5%,#338477 73.5%,#358673 77.5%,#398b69 81.5%,#3c8e61 83.5%,#43974e 87.5%,#479a48 88.5%,#529d48 89.5%,#6da44f 91.5%,#83a954 93.5%,#b6b75e 98.5%,#b9b260 99.5%)"></i><i style="background:linear-gradient(90deg,#cba97d 0.5%,#c1a367 2.5%,#bfa764 3.5%,#b8b55f 7.5%,#b3b65d 8.5%,#7ea853 16.5%,#63a24d 19.5%,#4d9c47 21.5%,#459a49 22.5%,#358771 29.5%,#30807e 32.5%,#26697d 37.5%,#24657c 39.5%,#22607c 43.5%,#23617c 46.5%,#26687d 50.5%,#2d797f 57.5%,#308080 61.5%,#32827b 65.5%,#338477 73.5%,#358672 77.5%,#398b68 81.5%,#3c8e61 83.5%,#43984e 87.5%,#479a47 88.5%,#529d48 89.5%,#6da44f 91.5%,#84a954 93.5%,#b7b75e 98.5%,#b9b260 99.5%)"></i><i style="background:linear-gradient(90deg,#cba97e 0.5%,#c1a368 2.5%,#bfa664 3.5%,#b8b55f 7.5%,#b4b65e 8.5%,#7fa853 16.5%,#65a24d 19.5%,#4f9c47 21.5%,#469a48 22.5%,#43974e 23.5%,#368770 29.5%,#31817e 32.5%,#276b7d 37.5%,#25667d 39.5%,#23617c 43.5%,#24627c 46.5%,#26697d 50.5%,#2d7a7f 57.5%,#30807f 61.5%,#32827b 65.5%,#338477 73.5%,#358672 77.5%,#398b68 81.5%,#3c8e61 83.5%,#43984d 87.5%,#489b47 88.5%,#539d49 89.5%,#6da44f 91.5%,#84a954 93.5%,#adb45c 97.5%,#b7b75e 98.5%,#bab260 99.5%)"></i><i style="background:linear-gradient(90deg,#cba97e 0.5%,#c1a369 2.5%,#bfa664 3.5%,#bab160 6.5%,#b5b65e 8.5%,#80a854 16.5%,#67a34e 19.5%,#519d48 21.5%,#489b48 22.5%,#43984d 23.5%,#36886f 29.5%,#31817d 32.5%,#2f7d7f 33.5%,#276c7d 37.5%,#25677d 39.5%,#23627c 43.5%,#24637c 46.5%,#26687d 49.5%,#2f7d7f 58.5%,#30817e 61.5%,#32827a 65.5%,#348575 74.5%,#358771 77.5%,#398b68 81.5%,#3c8f61 83.5%,#44984d 87.5%,#489b47 88.5%,#6ea450 91.5%,#8eac56 94.5%,#b7b75e 98.5%,#bab160 99.5%)"></i><i style="background:linear-gradient(90deg,#cba97f 0.5%,#c2a46a 2.5%,#bfa664 3.5%,#bab160 6.5%,#b6b65e 8.5%,#7aa752 17.5%,#69a34e 19.5%,#539d48 21.5%,#4a9b48 22.5%,#44984c 23.5%,#37886e 29.5%,#31817c 32.5%,#2f7e7f 33.5%,#2b747e 35.5%,#286d7d 37.5%,#26687d 39.5%,#24637c 43.5%,#24647c 46.5%,#26697d 49.5%,#2f7e7f 58.5%,#31817c 62.5%,#348575 74.5%,#36886f 78.5%,#398b68 81.5%,#3c8f60 83.5%,#44984c 87.5%,#499b47 88.5%,#6ea450 91.5%,#b7b65e 98.5%,#bab160 99.5%)"></i><i style="background:linear-gradient(90deg,#cba97f 0.5%,#c2a46b 2.5%,#c0a565 3.5%,#b6b65e 8.5%,#b1b55d 9.5%,#83a954 16.5%,#74a551 18.5%,#4c9c48 22.5%,#44994b 23.5%,#37896d 29.5%,#31827c 32.5%,#307f7f 33.5%,#2b757e 35.5%,#26697d 39.5%,#24647c 43.5%,#25657d 46.5%,#276a7d 49.5%,#2f7f7f 58.5%,#31827c 62.5%,#348575 74.5%,#36886f 78.5%,#398b67 81.5%,#3c8f60 83.5%,#44984c 87.5%,#499b46 88.5%,#6fa450 91.5%,#b7b65e 98.5%,#bab160 99.5%)"></i><i style="background:linear-gradient(90deg,#ccaa80 0.5%,#c3a46c 2.5%,#c0a565 3.5%,#b7b65e 8.5%,#b2b55d 9.5%,#76a652 18.5%,#4e9c47 22.5%,#45994a 23.5%,#37896c 29.5%,#30807e 33.5%,#2c767e 35.5%,#276a7d 39.5%,#25657c 43.5%,#25667d 46.5%,#276b7d 49.5%,#308080 58.5%,#32827b 62.5%,#348575 74.5%,#37886f 78.5%,#398b67 81.5%,#3c8f60 83.5%,#44994b 87.5%,#4a9b46 88.5%,#6fa450 91.5%,#adb45c 97.5%,#b7b65e 98.5%,#bab160 99.5%)"></i><i style="background:linear-gradient(90deg,#ccaa81 0.5%,#c3a46d 2.5%,#c0a465 3.5%,#b8b65e 8.5%,#b3b65d 9.5%,#77a652 18.5%,#4f9d48 22.5%,#469a49 23.5%,#43974f 24.5%,#388a6b 29.5%,#31817e 33.5%,#2c777f 35.5%,#276b7d 39.5%,#25667d 43.5%,#26687d 46.5%,#286c7d 49.5%,#30807f 58.5%,#32827a 62.5%,#348574 74.5%,#37886e 78.5%,#3a8c67 81.5%,#3c8f5f 83.5%,#44994b 87.5%,#4a9b46 88.5%,#70a550 91.5%,#adb45c 97.5%,#b7b65e 98.5%,#bab160 99.5%)"></i><i style="background:linear-gradient(90deg,#cdaa82 0.5%,#c4a46e 2.5%,#c0a466 3.5%,#b8b55f 8.5%,#b4b65d 9.5%,#79a652 18.5%,#519d48 22.5%,#479a49 23.5%,#43974e 24.5%,#388a6a 29.5%,#31817d 33.5%,#2f7d7f 34.5%,#276c7d 39.5%,#25677d 43.5%,#286d7d 49.5%,#2e7b7f 55.5%,#30807f 58.5%,#32837a 62.5%,#358674 74.5%,#37886e 78.5%,#3a8c66 81.5%,#3e915a 84.5%,#44994b 87.5%,#4b9b46 88.5%,#70a550 91.5%,#aeb45c 97.5%,#b8b65e 98.5%,#bab160 99.5%)"></i><i style="background:linear-gradient(90deg,#cdab83 0.5%,#c4a46f 2.5%,#c0a466 3.5%,#b8b55f 8.5%,#b5b65e 9.5%,#7aa752 18.5%,#539e49 22.5%,#499b48 23.5%,#43984d 24.5%,#398b69 29.5%,#31827c 33.5%,#2d7a7f 35.5%,#286d7d 39.5%,#26687d 43.5%,#286e7e 49.5%,#2e7c7f 55.5%,#31817e 58.5%,#338379 63.5%,#358673 74.5%,#37886e 78.5%,#3a8c66 81.5%,#3e925a 84.5%,#45994a 87.5%,#4c9c47 88.5%,#71a550 91.5%,#aeb45c 97.5%,#b8b65f 98.5%,#bab060 99.5%)"></i><i style="background:linear-gradient(90deg,#ceab84 0.5%,#c5a570 2.5%,#c0a367 3.5%,#bfa764 4.5%,#b8b55f 8.5%,#b6b75e 9.5%,#7ca753 18.5%,#4a9b47 23.5%,#44984c 24.5%,#358673 31.5%,#307f7f 34.5%,#2c777f 36.5%,#286e7d 39.5%,#26697d 43.5%,#296f7e 49.5%,#2f7d7f 55.5%,#31817e 58.5%,#338478 63.5%,#358673 74.5%,#37896e 78.5%,#398b69 80.5%,#3e925a 84.5%,#45994a 87.5%,#4d9c47 88.5%,#64a24d 90.5%,#71a550 91.5%,#aeb55c 97.5%,#b8b55f 98.5%,#bab061 99.5%)"></i><i style="background:linear-gradient(90deg,#ceab85 0.5%,#c1a367 3.5%,#bfa664 4.5%,#b7b75e 9.5%,#7da753 18.5%,#6ba44f 20.5%,#4c9c47 23.5%,#44994b 24.5%,#358672 31.5%,#30807e 34.5%,#2d787f 36.5%,#296f7e 39.5%,#276a7d 43.5%,#29707e 49.5%,#308080 56.5%,#338477 63.5%,#358673 73.5%,#37896d 78.5%,#398b68 80.5%,#3f925a 84.5%,#45994a 87.5%,#4e9c47 88.5%,#64a24d 90.5%,#72a551 91.5%,#afb55c 97.5%,#b8b55f 98.5%,#bab061 99.5%)"></i><i style="background:linear-gradient(90deg,#ceab85 0.5%,#c1a368 3.5%,#bfa664 4.5%,#b7b65e 9.5%,#a6b25b 12.5%,#7fa853 18.5%,#6da44f 20.5%,#4e9c47 23.5%,#45994a 24.5%,#43974f 25.5%,#368771 31.5%,#31817e 34.5%,#2f7e7f 35.5%,#29707e 39.5%,#276b7d 43.5%,#296f7e 48.5%,#30807f 56.5%,#338477 63.5%,#348574 71.5%,#368771 75.5%,#37896d 78.5%,#398b68 80.5%,#3f9259 84.5%,#45994a 87.5%,#4f9c47 88.5%,#65a24d 90.5%,#72a551 91.5%,#afb55d 97.5%,#b8b55f 98.5%,#bab061 99.5%)"></i><i style="background:linear-gradient(90deg,#ceac86 0.5%,#c1a368 3.5%,#bfa664 4.5%,#b7b65e 9.5%,#b2b65d 10.5%,#80a853 18.5%,#6fa450 20.5%,#4f9d48 23.5%,#469a49 24.5%,#43974e 25.5%,#368770 31.5%,#31817d 34.5%,#2f7e7f 35.5%,#2b747e 38.5%,#286d7d 41.5%,#286c7d 43.5%,#296f7e 47.5%,#2f7d7f 54.5%,#31817e 56.5%,#348476 63.5%,#358674 71.5%,#368770 75.5%,#37896c 78.5%,#3b8d64 81.5%,#419454 85.5%,#459a49 87.5%,#4f9c47 88.5%,#65a24d 90.5%,#73a551 91.5%,#afb55d 97.5%,#b8b55f 98.5%,#bab061 99.5%)"></i><i style="background:linear-gradient(90deg,#cfac86 0.5%,#c1a369 3.5%,#bfa564 4.5%,#b8b55f 9.5%,#b3b65d 10.5%,#9cb059 14.5%,#81a954 18.5%,#70a550 20.5%,#519d48 23.5%,#489a48 24.5%,#43974e 25.5%,#36886f 31.5%,#31827c 34.5%,#2e7b7f 36.5%,#2b757e 38.5%,#296e7e 41.5%,#29707e 47.5%,#2f7e7f 54.5%,#31817d 56.5%,#348576 63.5%,#368770 75.5%,#38896c 78.5%,#3b8d64 81.5%,#419454 85.5%,#459a49 87.5%,#4f9d48 88.5%,#66a24d 90.5%,#73a551 91.5%,#b0b55d 97.5%,#b8b55f 98.5%,#bab061 99.5%)"></i><i style="background:linear-gradient(90deg,#cfac87 0.5%,#c2a369 3.5%,#c0a565 4.5%,#b8b55f 9.5%,#b4b65e 10.5%,#9db059 14.5%,#83a954 18.5%,#72a551 20.5%,#499b47 24.5%,#44984d 25.5%,#398b69 30.5%,#32827b 34.5%,#30807f 35.5%,#2e7c7f 36.5%,#2c767e 38.5%,#296f7e 41.5%,#2a717e 47.5%,#307f7f 54.5%,#31817d 56.5%,#348575 63.5%,#368770 75.5%,#388a6b 78.5%,#3b8d64 81.5%,#419554 85.5%,#459a49 87.5%,#509d48 88.5%,#7ea853 92.5%,#87aa55 93.5%,#92ad57 94.5%,#b0b55d 97.5%,#b8b55f 98.5%,#bab061 99.5%)"></i><i style="background:linear-gradient(90deg,#cfac87 0.5%,#c2a46a 3.5%,#c0a565 4.5%,#b5b65e 10.5%,#9eb059 14.5%,#84a954 18.5%,#74a551 20.5%,#4a9b46 24.5%,#44984c 25.5%,#398b68 30.5%,#30817e 35.5%,#2c777f 38.5%,#29707e 41.5%,#2a727e 47.5%,#308080 54.5%,#31817d 55.5%,#348576 61.5%,#368870 75.5%,#388a6b 78.5%,#3b8d63 81.5%,#419553 85.5%,#459a49 87.5%,#509d48 88.5%,#7fa853 92.5%,#87aa55 93.5%,#93ad57 94.5%,#b0b55d 97.5%,#b8b55f 98.5%,#bab061 99.5%)"></i><i style="background:linear-gradient(90deg,#cfac88 0.5%,#c2a46b 3.5%,#c0a465 4.5%,#b6b65e 10.5%,#9fb15a 14.5%,#85aa55 18.5%,#76a651 20.5%,#62a14c 22.5%,#4c9c47 24.5%,#45994b 25.5%,#398b67 30.5%,#31817d 35.5%,#2c787f 38.5%,#2a727e 41.5%,#2a717e 45.5%,#2b737e 47.5%,#30807f 54.5%,#31827c 55.5%,#348575 61.5%,#36886f 75.5%,#388a6a 78.5%,#3b8e63 81.5%,#419553 85.5%,#469a48 87.5%,#519d48 88.5%,#7fa853 92.5%,#88aa55 93.5%,#b1b55d 97.5%,#b8b55f 98.5%,#bab061 99.5%)"></i><i style="background:linear-gradient(90deg,#d0ad88 0.5%,#c3a46c 3.5%,#c0a466 4.5%,#b9b45f 9.5%,#b6b65e 10.5%,#b2b55d 11.5%,#87aa55 18.5%,#77a652 20.5%,#64a24d 22.5%,#4e9c47 24.5%,#45994a 25.5%,#43974f 26.5%,#3a8c66 30.5%,#31827c 35.5%,#307f7e 36.5%,#2d797f 38.5%,#2a727e 42.5%,#2a727e 45.5%,#2b757e 47.5%,#2f7e7f 52.5%,#31817e 54.5%,#32827c 55.5%,#348574 61.5%,#37886f 75.5%,#388a6a 78.5%,#3b8e62 81.5%,#419552 85.5%,#44984d 86.5%,#469a48 87.5%,#519d48 88.5%,#80a853 92.5%,#b1b55d 97.5%,#b8b55f 98.5%,#bbb061 99.5%)"></i><i style="background:linear-gradient(90deg,#d0ad89 0.5%,#c3a46d 3.5%,#c0a466 4.5%,#bfa764 5.5%,#b9b35f 9.5%,#b3b65d 11.5%,#95ae58 16.5%,#79a652 20.5%,#66a24d 22.5%,#4f9d48 24.5%,#469a49 25.5%,#43974e 26.5%,#3a8c65 30.5%,#32827b 35.5%,#2f7d7f 37.5%,#2d7a7f 38.5%,#2b737e 42.5%,#2b737e 45.5%,#2f7d7f 51.5%,#31817d 54.5%,#32827b 55.5%,#358673 61.5%,#37886e 75.5%,#398b69 78.5%,#3b8e62 81.5%,#409356 84.5%,#44984d 86.5%,#479a48 87.5%,#529d48 88.5%,#80a854 92.5%,#b1b55d 97.5%,#b8b55f 98.5%,#bbaf61 99.5%)"></i><i style="background:linear-gradient(90deg,#d0ad89 0.5%,#cdaa82 1.5%,#c4a46e 3.5%,#c0a367 4.5%,#bfa764 5.5%,#b9b360 9.5%,#b4b65e 11.5%,#97ae58 16.5%,#7ba752 20.5%,#67a34e 22.5%,#519d48 24.5%,#479a48 25.5%,#44984d 26.5%,#3d8f5f 29.5%,#37886e 32.5%,#31817d 36.5%,#2e7b7f 38.5%,#2b747e 42.5%,#2b747e 45.5%,#2f7e7f 51.5%,#32837a 55.5%,#358673 61.5%,#37886e 75.5%,#388a6b 77.5%,#3c8e61 81.5%,#409356 84.5%,#44984c 86.5%,#479a47 87.5%,#529d48 88.5%,#76a652 91.5%,#b2b55d 97.5%,#b8b45f 98.5%,#bbaf61 99.5%)"></i><i style="background:linear-gradient(90deg,#d0ad8a 0.5%,#cdab83 1.5%,#c4a46f 3.5%,#c1a368 4.5%,#bfa664 5.5%,#b9b260 9.5%,#b6b65e 11.5%,#98af58 16.5%,#7ca753 20.5%,#69a34e 22.5%,#489b47 25.5%,#3d905e 29.5%,#358672 33.5%,#31817d 36.5%,#2f7f7f 37.5%,#2b757e 42.5%,#2b757e 45.5%,#2f7f7f 51.5%,#328379 55.5%,#368771 63.5%,#37896d 75.5%,#388a6b 77.5%,#3c8e61 81.5%,#409456 84.5%,#44984c 86.5%,#489b47 87.5%,#539d48 88.5%,#76a652 91.5%,#b2b65d 97.5%,#b8b45f 98.5%,#bbaf61 99.5%)"></i><i style="background:linear-gradient(90deg,#d1ae8b 0.5%,#c5a570 3.5%,#c1a369 4.5%,#bfa664 5.5%,#b6b65e 11.5%,#99af58 16.5%,#7da853 20.5%,#6ba44f 22.5%,#4a9b47 25.5%,#45994b 26.5%,#3d905d 29.5%,#368771 33.5%,#31827c 36.5%,#2f7d7f 38.5%,#2c767e 42.5%,#2c777f 45.5%,#307f7e 51.5%,#368771 61.5%,#37896d 75.5%,#388a6a 77.5%,#3c8f60 81.5%,#409455 84.5%,#44984c 86.5%,#499b47 87.5%,#549e49 88.5%,#77a652 91.5%,#b3b65d 97.5%,#b8b45f 98.5%,#bbaf61 99.5%)"></i><i style="background:linear-gradient(90deg,#d1ae8c 0.5%,#c5a571 3.5%,#c2a36a 4.5%,#bfa664 5.5%,#b8b45f 10.5%,#b7b65e 11.5%,#b2b65d 12.5%,#9aaf59 16.5%,#7fa853 20.5%,#6da44f 22.5%,#4c9c48 25.5%,#46994a 26.5%,#429650 27.5%,#3e915c 29.5%,#368770 33.5%,#32827b 36.5%,#2f7e7f 38.5%,#2c777f 42.5%,#2d797f 46.5%,#2f7e7f 49.5%,#32827b 53.5%,#368770 61.5%,#38896c 75.5%,#388a6a 77.5%,#3b8e63 80.5%,#3f9259 83.5%,#44994b 86.5%,#4a9b47 87.5%,#77a652 91.5%,#b3b65d 97.5%,#b8b45f 98.5%,#bbaf61 99.5%)"></i><i style="background:linear-gradient(90deg,#d2ae8d 0.5%,#c6a572 3.5%,#c2a46b 4.5%,#c0a564 5.5%,#b9b35f 10.5%,#b3b65d 12.5%,#9baf59 16.5%,#80a854 20.5%,#6fa450 22.5%,#4e9c48 25.5%,#469a49 26.5%,#43974f 27.5%,#3e915b 29.5%,#36886f 33.5%,#32827b 36.5%,#307f7f 38.5%,#2d787f 42.5%,#2d7a7f 46.5%,#2f7f7f 49.5%,#32837a 53.5%,#368870 61.5%,#38896c 75.5%,#3b8e63 80.5%,#3f9259 83.5%,#44994b 86.5%,#4a9b47 87.5%,#78a652 91.5%,#b3b65d 97.5%,#b9b45f 98.5%,#bbae61 99.5%)"></i><i style="background:linear-gradient(90deg,#d2af8e 0.5%,#c6a573 3.5%,#c0a565 5.5%,#b9b360 10.5%,#b5b65e 12.5%,#a9b35b 14.5%,#82a954 20.5%,#71a550 22.5%,#4f9d48 25.5%,#479a48 26.5%,#43974e 27.5%,#3e925a 29.5%,#37886e 33.5%,#32837a 36.5%,#2f7e7f 39.5%,#2d797f 42.5%,#2e7b7f 46.5%,#307f80 49.5%,#338379 53.5%,#36886f 61.5%,#388a6b 75.5%,#3b8e62 80.5%,#3f9259 83.5%,#45994a 86.5%,#4b9c47 87.5%,#78a652 91.5%,#b4b65d 97.5%,#b9b35f 98.5%,#bbae61 99.5%)"></i><i style="background:linear-gradient(90deg,#d3af8f 0.5%,#c6a574 3.5%,#c0a565 5.5%,#b6b65e 12.5%,#aab35c 14.5%,#83a954 20.5%,#73a551 22.5%,#519d48 25.5%,#489b47 26.5%,#44984d 27.5%,#3f9259 29.5%,#358772 34.5%,#338379 36.5%,#307f7f 39.5%,#2e7a7f 42.5%,#2e7c7f 46.5%,#30807f 49.5%,#338478 53.5%,#37886e 61.5%,#388a6a 75.5%,#3b8e62 80.5%,#3f9358 83.5%,#45994a 86.5%,#4c9c47 87.5%,#79a652 91.5%,#b4b65d 97.5%,#b9b35f 98.5%,#bbae61 99.5%)"></i><i style="background:linear-gradient(90deg,#d3af8f 0.5%,#c7a675 3.5%,#c0a466 5.5%,#b6b65e 12.5%,#a5b25b 15.5%,#84a954 20.5%,#74a551 22.5%,#539e49 25.5%,#4a9b47 26.5%,#44984c 27.5%,#3f9358 29.5%,#38896c 33.5%,#338478 36.5%,#31817d 38.5%,#2e7c7f 42.5%,#2f7d7f 46.5%,#31817e 49.5%,#348574 55.5%,#37896d 61.5%,#388a6a 75.5%,#3c8e61 80.5%,#3e915b 82.5%,#459a49 86.5%,#4d9c47 87.5%,#79a652 91.5%,#b4b65e 97.5%,#bbae61 99.5%)"></i><i style="background:linear-gradient(90deg,#d3af90 0.5%,#c7a676 3.5%,#c1a467 5.5%,#bfa664 6.5%,#b7b65e 12.5%,#acb45c 14.5%,#86aa55 20.5%,#76a651 22.5%,#559e49 25.5%,#4c9c48 26.5%,#44994b 27.5%,#3c8e62 31.5%,#388a6b 33.5%,#338477 36.5%,#31817c 38.5%,#2f7d7f 42.5%,#2f7e7f 46.5%,#31817d 49.5%,#358673 55.5%,#37896d 61.5%,#388a6a 73.5%,#3a8c66 77.5%,#3e915b 82.5%,#459a49 86.5%,#4e9c47 87.5%,#7aa752 91.5%,#b5b65e 97.5%,#bbae61 99.5%)"></i><i style="background:linear-gradient(90deg,#d3af90 0.5%,#c4a570 4.5%,#c1a468 5.5%,#bfa664 6.5%,#b7b55e 12.5%,#adb45c 14.5%,#87aa55 20.5%,#78a652 22.5%,#579e4a 25.5%,#4e9c48 26.5%,#45994a 27.5%,#3c8f61 31.5%,#37886f 34.5%,#31827c 38.5%,#2f7f7f 41.5%,#2f7f7f 45.5%,#31827c 49.5%,#358672 55.5%,#38896c 61.5%,#398b68 75.5%,#3b8d64 78.5%,#3e925a 82.5%,#459a49 86.5%,#4f9c48 87.5%,#599f4a 88.5%,#7ba753 91.5%,#b5b65e 97.5%,#bbae61 99.5%)"></i><i style="background:linear-gradient(90deg,#d4b091 0.5%,#c5a571 4.5%,#c2a46a 5.5%,#bfa664 6.5%,#b8b55f 12.5%,#b3b65d 13.5%,#a9b35b 15.5%,#88aa55 20.5%,#79a752 22.5%,#599f4a 25.5%,#509d48 26.5%,#459a49 27.5%,#409455 29.5%,#388a6a 33.5%,#338379 37.5%,#308080 41.5%,#308080 45.5%,#37896c 59.5%,#388a6a 63.5%,#388a6a 71.5%,#398b67 75.5%,#3b8d64 78.5%,#3f925a 82.5%,#459a49 86.5%,#509d48 87.5%,#599f4a 88.5%,#7ba753 91.5%,#84a954 92.5%,#b5b65e 97.5%,#bcad62 99.5%)"></i><i style="background:linear-gradient(90deg,#d4b091 0.5%,#c5a572 4.5%,#c2a46b 5.5%,#c0a565 6.5%,#b8b55f 12.5%,#b0b55d 14.5%,#97ae58 18.5%,#7ba753 22.5%,#5b9f4a 25.5%,#529d48 26.5%,#479a48 27.5%,#419454 29.5%,#398b69 33.5%,#338478 37.5%,#30807f 41.5%,#31817e 46.5%,#368770 55.5%,#388a6a 61.5%,#398b68 74.5%,#3c8f61 79.5%,#3f9259 82.5%,#43984d 85.5%,#469a48 86.5%,#519d48 87.5%,#5a9f4a 88.5%,#7ca753 91.5%,#b6b65e 97.5%,#bcad62 99.5%)"></i><i style="background:linear-gradient(90deg,#d4b092 0.5%,#c6a573 4.5%,#c0a565 6.5%,#b8b45f 12.5%,#b1b55d 14.5%,#92ad57 19.5%,#7ca753 22.5%,#5ca04b 25.5%,#539e49 26.5%,#489b48 27.5%,#44984d 28.5%,#419553 29.5%,#398b68 33.5%,#368870 35.5%,#338379 38.5%,#31817e 41.5%,#31817d 46.5%,#37896d 57.5%,#398b69 61.5%,#398b68 71.5%,#3a8c65 76.5%,#3e915b 81.5%,#44984d 85.5%,#479a48 86.5%,#519d48 87.5%,#7ca753 91.5%,#b6b75e 97.5%,#bcad62 99.5%)"></i><i style="background:linear-gradient(90deg,#d4b092 0.5%,#c6a674 4.5%,#c0a466 6.5%,#b9b45f 12.5%,#b2b65d 14.5%,#8dac56 20.5%,#7ea853 22.5%,#4a9b48 27.5%,#44984c 28.5%,#3d905d 31.5%,#36886f 35.5%,#338478 38.5%,#31817e 42.5%,#31827c 46.5%,#38896c 57.5%,#398b68 61.5%,#398b68 71.5%,#3a8d65 76.5%,#3e915b 81.5%,#44984c 85.5%,#489b47 86.5%,#529d48 87.5%,#7da753 91.5%,#b6b75e 97.5%,#bcad62 99.5%)"></i><i style="background:linear-gradient(90deg,#d4b093 0.5%,#c7a675 4.5%,#c0a467 6.5%,#bfa664 7.5%,#b9b35f 12.5%,#b4b65d 14.5%,#9baf59 18.5%,#7fa853 22.5%,#76a652 23.5%,#4c9c48 27.5%,#44994b 28.5%,#3e915c 31.5%,#37886e 35.5%,#328379 39.5%,#31817d 42.5%,#32827c 46.5%,#388a6b 57.5%,#398c67 61.5%,#3a8c67 71.5%,#3b8d64 76.5%,#3e925a 81.5%,#44984c 85.5%,#499b47 86.5%,#7da753 91.5%,#b7b75e 97.5%,#bcad62 99.5%)"></i><i style="background:linear-gradient(90deg,#d5b194 0.5%,#c7a676 4.5%,#c1a367 6.5%,#bfa664 7.5%,#b5b65e 14.5%,#8fac56 20.5%,#80a854 22.5%,#78a652 23.5%,#4e9c47 27.5%,#45994a 28.5%,#3e915b 31.5%,#37896d 35.5%,#338378 39.5%,#31827c 42.5%,#32827b 46.5%,#388a6a 57.5%,#3a8c66 61.5%,#3a8d65 65.5%,#3a8c66 71.5%,#3b8d64 76.5%,#3f925a 81.5%,#44994b 85.5%,#4a9b46 86.5%,#539d48 87.5%,#74a551 90.5%,#b7b75e 97.5%,#bcad62 99.5%)"></i><i style="background:linear-gradient(90deg,#d5b194 0.5%,#c8a677 4.5%,#c1a368 6.5%,#c0a564 7.5%,#b6b65e 14.5%,#a4b25a 17.5%,#82a954 22.5%,#7aa752 23.5%,#509d48 27.5%,#469a49 28.5%,#3e925a 31.5%,#37896c 35.5%,#358672 37.5%,#338477 39.5%,#32827b 42.5%,#32837a 46.5%,#398b69 57.5%,#3a8c65 61.5%,#3a8d65 71.5%,#3b8e63 76.5%,#3f9259 81.5%,#44994b 85.5%,#4a9b46 86.5%,#539e49 87.5%,#75a551 90.5%,#b7b75e 97.5%,#bcac62 99.5%)"></i><i style="background:linear-gradient(90deg,#d6b196 0.5%,#c5a571 5.5%,#c1a369 6.5%,#c0a565 7.5%,#b6b65e 14.5%,#a6b25b 17.5%,#83a954 22.5%,#7ba753 23.5%,#529d48 27.5%,#489a49 28.5%,#43974e 29.5%,#3f9259 31.5%,#388a6b 35.5%,#358771 37.5%,#348476 39.5%,#32837a 42.5%,#338379 46.5%,#398b68 57.5%,#3a8d64 61.5%,#3b8e62 76.5%,#3e915b 80.5%,#45994a 85.5%,#4b9c47 86.5%,#549e49 87.5%,#76a652 90.5%,#b7b75e 97.5%,#bcac62 99.5%)"></i><i style="background:linear-gradient(90deg,#d6b297 0.5%,#c5a572 5.5%,#c0a565 7.5%,#b9b45f 13.5%,#b3b65d 15.5%,#a7b35b 17.5%,#85a954 22.5%,#73a551 24.5%,#539e49 27.5%,#499b48 28.5%,#44984d 29.5%,#3c8e62 33.5%,#388a6a 35.5%,#348575 39.5%,#338379 42.5%,#338478 46.5%,#37896d 53.5%,#3b8d64 60.5%,#3c8e61 76.5%,#3e915b 80.5%,#45994a 85.5%,#4c9c47 86.5%,#559e49 87.5%,#77a652 90.5%,#b7b65e 97.5%,#bcac62 99.5%)"></i><i style="background:linear-gradient(90deg,#d7b298 0.5%,#c6a573 5.5%,#c0a465 7.5%,#b7b55f 14.5%,#b4b65e 15.5%,#a2b15a 18.5%,#86aa55 22.5%,#74a551 24.5%,#4b9b47 28.5%,#44984c 29.5%,#409357 31.5%,#398b69 35.5%,#348574 39.5%,#338478 42.5%,#338477 46.5%,#38896c 53.5%,#3b8d63 60.5%,#3c8f60 76.5%,#3e925a 80.5%,#459a49 85.5%,#4d9c47 86.5%,#569e49 87.5%,#78a652 90.5%,#89aa55 92.5%,#a6b25b 95.5%,#b7b65e 97.5%,#bcac62 99.5%)"></i><i style="background:linear-gradient(90deg,#d7b299 0.5%,#c6a574 5.5%,#c0a465 7.5%,#b5b65e 15.5%,#aab35c 17.5%,#87aa55 22.5%,#76a652 24.5%,#4c9c47 28.5%,#44994b 29.5%,#3a8d65 34.5%,#38896c 36.5%,#358673 39.5%,#338477 42.5%,#338477 45.5%,#3b8e62 60.5%,#3c8f60 76.5%,#3f925a 80.5%,#459a48 85.5%,#4e9c47 86.5%,#579f4a 87.5%,#78a652 90.5%,#89ab55 92.5%,#a7b25b 95.5%,#b7b65e 97.5%,#bcac62 99.5%)"></i><i style="background:linear-gradient(90deg,#d7b399 0.5%,#c7a675 5.5%,#c1a467 7.5%,#b6b65e 15.5%,#abb45c 17.5%,#89ab55 22.5%,#78a652 24.5%,#4e9c47 28.5%,#46994a 29.5%,#429650 30.5%,#3b8d64 34.5%,#388a6b 36.5%,#358672 39.5%,#348576 42.5%,#348576 45.5%,#3c8e61 60.5%,#3d8f5f 76.5%,#3f9259 80.5%,#44984c 84.5%,#479a48 85.5%,#509d48 86.5%,#599f4a 87.5%,#79a652 90.5%,#8aab55 92.5%,#b0b55d 96.5%,#b8b65f 97.5%,#bdab62 99.5%)"></i><i style="background:linear-gradient(90deg,#d7b39a 0.5%,#c7a676 5.5%,#c1a468 7.5%,#c0a565 8.5%,#b8b45f 14.5%,#b6b65e 15.5%,#b2b55d 16.5%,#8aab55 22.5%,#79a752 24.5%,#509d48 28.5%,#479a49 29.5%,#43974f 30.5%,#3b8e63 34.5%,#388a6a 36.5%,#36886f 38.5%,#348574 41.5%,#348575 45.5%,#3c8f60 60.5%,#3d905e 76.5%,#3f9358 80.5%,#44994b 84.5%,#489b48 85.5%,#519d48 86.5%,#64a24d 88.5%,#7aa752 90.5%,#8aab55 92.5%,#b0b55d 96.5%,#b8b55f 97.5%,#bdab62 99.5%)"></i><i style="background:linear-gradient(90deg,#d8b39a 0.5%,#c4a570 6.5%,#c0a465 8.5%,#b9b35f 14.5%,#b3b65d 16.5%,#8bab56 22.5%,#7ba753 24.5%,#529d48 28.5%,#489a48 29.5%,#43974e 30.5%,#3c8e62 34.5%,#398b69 36.5%,#37886f 38.5%,#358673 41.5%,#358674 45.5%,#37886e 50.5%,#3b8e62 57.5%,#3d8f5f 60.5%,#3d905d 76.5%,#409357 80.5%,#44994b 84.5%,#4a9b47 85.5%,#529d48 86.5%,#65a24d 88.5%,#7aa752 90.5%,#8bab56 92.5%,#b1b55d 96.5%,#b8b55f 97.5%,#bdab62 99.5%)"></i><i style="background:linear-gradient(90deg,#d8b39b 0.5%,#c5a571 6.5%,#c0a465 8.5%,#b7b55f 15.5%,#b4b65e 16.5%,#8dac56 22.5%,#85a954 23.5%,#73a551 25.5%,#499b47 29.5%,#44984d 30.5%,#3c8f61 34.5%,#398b68 36.5%,#37886e 38.5%,#358673 41.5%,#358673 45.5%,#37896d 50.5%,#3c8f61 57.5%,#3d905e 60.5%,#3d905d 76.5%,#409357 80.5%,#45994a 84.5%,#4b9b47 85.5%,#66a24d 88.5%,#7ba753 90.5%,#8cab56 92.5%,#b2b55d 96.5%,#b8b55f 97.5%,#bdab62 99.5%)"></i><i style="background:linear-gradient(90deg,#d8b49b 0.5%,#c5a572 6.5%,#c0a465 8.5%,#b6b65e 16.5%,#8eac56 22.5%,#7ea853 24.5%,#60a14c 27.5%,#4a9b46 29.5%,#44984c 30.5%,#3c8f5f 34.5%,#3a8c67 36.5%,#37896d 38.5%,#358672 41.5%,#358673 43.5%,#358672 45.5%,#38896c 50.5%,#3c8f5f 57.5%,#3d905d 60.5%,#3e915c 76.5%,#409456 80.5%,#45994a 84.5%,#4c9c47 85.5%,#67a34e 88.5%,#7ca753 90.5%,#8cac56 92.5%,#b2b65d 96.5%,#b8b45f 97.5%,#bdab62 99.5%)"></i><i style="background:linear-gradient(90deg,#d8b49c 0.5%,#c6a573 6.5%,#c1a467 8.5%,#bfa664 9.5%,#b6b65e 16.5%,#96ae58 21.5%,#87aa55 23.5%,#62a14d 27.5%,#4c9c47 29.5%,#45994b 30.5%,#3d905e 34.5%,#3a8c66 36.5%,#38896c 38.5%,#368771 41.5%,#358672 43.5%,#368771 45.5%,#388a6b 50.5%,#3d905e 57.5%,#3e915c 60.5%,#3e915a 64.5%,#3e915c 71.5%,#3e915b 76.5%,#409455 80.5%,#44984c 83.5%,#469a49 84.5%,#4d9c47 85.5%,#68a34e 88.5%,#73a551 89.5%,#b3b65d 96.5%,#b8b45f 97.5%,#bdab63 99.5%)"></i><i style="background:linear-gradient(90deg,#d9b49c 0.5%,#c7a675 6.5%,#c1a469 8.5%,#c0a565 9.5%,#b9b35f 15.5%,#b7b65e 16.5%,#b2b65d 17.5%,#98ae58 21.5%,#80a854 24.5%,#64a24d 27.5%,#4e9c47 29.5%,#46994a 30.5%,#43974f 31.5%,#3d905d 34.5%,#3a8d65 36.5%,#388a6b 38.5%,#368770 41.5%,#368771 43.5%,#368770 45.5%,#388a6a 50.5%,#3d905d 57.5%,#3e915b 60.5%,#3f9259 64.5%,#3e915b 71.5%,#3f925a 76.5%,#419454 80.5%,#44984c 83.5%,#479a48 84.5%,#4e9c47 85.5%,#69a34e 88.5%,#74a551 89.5%,#b3b65d 96.5%,#b8b45f 97.5%,#bdaa63 99.5%)"></i><i style="background:linear-gradient(90deg,#d9b59d 0.5%,#c7a676 6.5%,#c2a46a 8.5%,#c0a565 9.5%,#b9b360 15.5%,#b7b65e 16.5%,#b3b65d 17.5%,#99af58 21.5%,#82a954 24.5%,#66a24e 27.5%,#509d48 29.5%,#469a49 30.5%,#43974e 31.5%,#3e915c 34.5%,#3b8d64 36.5%,#388a6a 38.5%,#36886f 41.5%,#368770 43.5%,#36886f 45.5%,#3e925a 59.5%,#3f9358 64.5%,#3e925a 71.5%,#3f9259 76.5%,#419553 80.5%,#44994b 83.5%,#489b47 84.5%,#4f9c47 85.5%,#6aa34e 88.5%,#75a551 89.5%,#97ae58 93.5%,#b3b65d 96.5%,#b9b45f 97.5%,#bdaa63 99.5%)"></i><i style="background:linear-gradient(90deg,#d9b59d 0.5%,#c5a571 7.5%,#c0a465 9.5%,#b9b260 15.5%,#b5b65e 17.5%,#9aaf59 21.5%,#83a954 24.5%,#68a34e 27.5%,#529d48 29.5%,#479a48 30.5%,#44984d 31.5%,#3e915b 34.5%,#3a8c66 37.5%,#37886e 41.5%,#36886f 43.5%,#37886e 45.5%,#398b68 50.5%,#3c8e62 53.5%,#3f9259 59.5%,#409357 64.5%,#3f9259 75.5%,#419553 80.5%,#45994a 83.5%,#499b46 84.5%,#509d48 85.5%,#6ba34f 88.5%,#76a652 89.5%,#98ae58 93.5%,#b4b65d 96.5%,#b9b35f 97.5%,#bdaa63 99.5%)"></i><i style="background:linear-gradient(90deg,#d9b59e 0.5%,#d7b299 1.5%,#cba97e 5.5%,#c5a572 7.5%,#c0a466 9.5%,#bab160 15.5%,#b6b65e 17.5%,#9cb059 21.5%,#7ca753 25.5%,#6aa34e 27.5%,#499b47 30.5%,#44984c 31.5%,#3e925a 34.5%,#3a8c65 37.5%,#37896d 41.5%,#37886e 43.5%,#37896d 45.5%,#3a8c66 50.5%,#3e915c 56.5%,#409357 61.5%,#409455 65.5%,#3f9358 75.5%,#429652 80.5%,#459a49 83.5%,#4a9b46 84.5%,#519d48 85.5%,#6ca44f 88.5%,#77a652 89.5%,#98af58 93.5%,#b4b65d 96.5%,#b9b35f 97.5%,#bdaa63 99.5%)"></i><i style="background:linear-gradient(90deg,#dab69f 0.5%,#cba97f 5.5%,#c1a467 9.5%,#c0a565 10.5%,#b6b65e 17.5%,#9db059 21.5%,#7ea853 25.5%,#6ca44f 27.5%,#4b9b48 30.5%,#45994b 31.5%,#429750 32.5%,#3f9259 34.5%,#3a8d64 37.5%,#38896c 41.5%,#37896d 43.5%,#38896c 45.5%,#3a8c67 49.5%,#3e915b 56.5%,#409455 61.5%,#419454 65.5%,#409357 75.5%,#429651 80.5%,#469a49 83.5%,#4c9c47 84.5%,#529d48 85.5%,#77a652 89.5%,#99af58 93.5%,#b5b65e 96.5%,#b9b360 97.5%,#bea963 99.5%)"></i><i style="background:linear-gradient(90deg,#dab7a0 0.5%,#ccaa80 5.5%,#c2a469 9.5%,#bfa764 11.5%,#b9b35f 16.5%,#b7b65e 17.5%,#b2b65d 18.5%,#9eb059 21.5%,#77a652 26.5%,#4d9c48 30.5%,#46994a 31.5%,#43974f 32.5%,#3f9258 34.5%,#3b8d63 37.5%,#388a6b 41.5%,#38896c 43.5%,#388a6b 45.5%,#3a8c66 49.5%,#3f925a 56.5%,#419454 61.5%,#409456 75.5%,#429652 79.5%,#45994a 82.5%,#479a48 83.5%,#4d9c47 84.5%,#549e49 85.5%,#78a652 89.5%,#99af58 93.5%,#b5b65e 96.5%,#bea963 99.5%)"></i><i style="background:linear-gradient(90deg,#dbb7a1 0.5%,#d8b39a 1.5%,#ccaa81 5.5%,#c2a46a 9.5%,#c0a467 10.5%,#bfa664 11.5%,#b9b360 16.5%,#b4b65d 18.5%,#a0b15a 21.5%,#79a652 26.5%,#509d48 30.5%,#469a49 31.5%,#43984e 32.5%,#409357 34.5%,#3b8e62 37.5%,#388a6a 41.5%,#388a6b 43.5%,#388a6a 45.5%,#3a8d65 49.5%,#3e915b 54.5%,#419553 61.5%,#409455 75.5%,#429651 79.5%,#45994a 82.5%,#489b47 83.5%,#559e49 85.5%,#79a652 89.5%,#9aaf59 93.5%,#b6b75e 96.5%,#bea963 99.5%)"></i><i style="background:linear-gradient(90deg,#dbb8a2 0.5%,#d8b49b 1.5%,#cdaa82 5.5%,#c8a778 7.5%,#c5a571 8.5%,#c1a367 10.5%,#bfa664 11.5%,#b9b260 16.5%,#b5b65e 18.5%,#a1b15a 21.5%,#7ba753 26.5%,#5ba04b 29.5%,#529d48 30.5%,#479a48 31.5%,#44984d 32.5%,#409356 34.5%,#3c8e61 37.5%,#398b69 41.5%,#388a6a 43.5%,#398b69 45.5%,#3b8d64 49.5%,#3e925a 54.5%,#429651 61.5%,#419554 75.5%,#429650 79.5%,#459a49 82.5%,#499b46 83.5%,#579e49 85.5%,#71a550 88.5%,#9baf59 93.5%,#b7b75e 96.5%,#bea863 99.5%)"></i><i style="background:linear-gradient(90deg,#dcb8a3 0.5%,#d3af8f 3.5%,#c6a572 8.5%,#c1a368 10.5%,#c0a565 11.5%,#b6b65e 18.5%,#a2b15a 21.5%,#7da753 26.5%,#5da04b 29.5%,#549e49 30.5%,#499b47 31.5%,#44994b 32.5%,#409455 34.5%,#3c8f60 37.5%,#398b68 41.5%,#398b68 45.5%,#3b8e63 49.5%,#3f9259 54.5%,#429650 61.5%,#419553 75.5%,#43974f 79.5%,#469a48 82.5%,#4b9b46 83.5%,#589f4a 85.5%,#72a551 88.5%,#9cb059 93.5%,#b7b75e 96.5%,#bea863 99.5%)"></i><i style="background:linear-gradient(90deg,#dcb8a3 0.5%,#d3af90 3.5%,#c1a369 10.5%,#bfa764 12.5%,#b6b65e 18.5%,#aab45c 20.5%,#7ea853 26.5%,#4b9b47 31.5%,#45994a 32.5%,#43974f 33.5%,#3d8f5f 37.5%,#3a8c67 41.5%,#3a8c67 45.5%,#3b8d63 48.5%,#409356 55.5%,#43974f 61.5%,#43974f 67.5%,#429651 75.5%,#43974e 79.5%,#489b48 82.5%,#4c9c47 83.5%,#599f4a 85.5%,#73a551 88.5%,#94ae57 92.5%,#b7b65e 96.5%,#bea864 99.5%)"></i><i style="background:linear-gradient(90deg,#dcb9a4 0.5%,#d6b297 2.5%,#c7a675 8.5%,#c2a46a 10.5%,#bfa764 12.5%,#b9b35f 17.5%,#b7b65e 18.5%,#b2b65d 19.5%,#7fa853 26.5%,#4c9c48 31.5%,#469949 32.5%,#43974e 33.5%,#3e915b 36.5%,#3c8f61 38.5%,#3a8c66 41.5%,#3a8c66 45.5%,#3b8e62 48.5%,#409455 55.5%,#43974f 60.5%,#43974e 67.5%,#429650 72.5%,#429750 77.5%,#469a49 81.5%,#4d9c47 83.5%,#5b9f4b 85.5%,#74a551 88.5%,#95ae57 92.5%,#b7b65e 96.5%,#bea864 99.5%)"></i><i style="background:linear-gradient(90deg,#dcb9a4 0.5%,#d7b298 2.5%,#c8a777 8.5%,#c0a467 11.5%,#bfa664 12.5%,#b9b260 17.5%,#b4b65d 19.5%,#81a854 26.5%,#78a652 27.5%,#4e9c48 31.5%,#479a48 32.5%,#43984d 33.5%,#3f925a 36.5%,#3c8f60 38.5%,#3a8d65 41.5%,#3a8d65 45.5%,#3c8e61 48.5%,#419554 55.5%,#43984e 60.5%,#44984c 67.5%,#43974f 72.5%,#43974f 77.5%,#44994b 80.5%,#4a9b47 82.5%,#4f9c47 83.5%,#5ca04b 85.5%,#95ae58 92.5%,#b0b55d 95.5%,#b8b65f 96.5%,#bea864 99.5%)"></i><i style="background:linear-gradient(90deg,#ddb9a5 0.5%,#d7b298 2.5%,#c6a574 9.5%,#c3a46c 10.5%,#c1a367 11.5%,#bfa664 12.5%,#b9b260 17.5%,#b5b65e 19.5%,#99af58 23.5%,#7aa752 27.5%,#509d48 31.5%,#479a47 32.5%,#44984c 33.5%,#3f9259 36.5%,#3d8f5f 38.5%,#3b8d64 41.5%,#3b8d64 45.5%,#3c8f60 48.5%,#419552 55.5%,#44984c 60.5%,#44994b 67.5%,#43984e 71.5%,#43984e 77.5%,#45994a 80.5%,#4c9c47 82.5%,#509d48 83.5%,#5ea04b 85.5%,#96ae58 92.5%,#b0b55d 95.5%,#b8b55f 96.5%,#bfa764 99.5%)"></i><i style="background:linear-gradient(90deg,#ddbaa6 0.5%,#d7b399 2.5%,#d1ad8b 5.5%,#c9a77a 8.5%,#c1a369 11.5%,#c0a565 12.5%,#b6b65e 19.5%,#9baf59 23.5%,#7ba753 27.5%,#529d48 31.5%,#499b47 32.5%,#43974f 34.5%,#3d905d 38.5%,#3b8e62 41.5%,#3b8e62 45.5%,#3d905f 48.5%,#429651 55.5%,#45994b 60.5%,#46994a 67.5%,#44984d 76.5%,#469a49 80.5%,#4e9c47 82.5%,#529d48 83.5%,#5fa14c 85.5%,#80a853 89.5%,#86aa55 90.5%,#b1b55d 95.5%,#b8b55f 96.5%,#bfa764 99.5%)"></i><i style="background:linear-gradient(90deg,#ddbaa7 0.5%,#d8b39a 2.5%,#d1ae8c 5.5%,#cca97f 7.5%,#c4a46f 10.5%,#c0a566 12.5%,#b8b45f 18.5%,#b6b65e 19.5%,#b1b55d 20.5%,#9cb059 23.5%,#7da753 27.5%,#4b9b48 32.5%,#46994a 33.5%,#419552 35.5%,#3e915c 38.5%,#3c8e61 41.5%,#3c8e61 45.5%,#3d905d 48.5%,#429650 55.5%,#46994a 60.5%,#479a49 67.5%,#44994b 76.5%,#489a49 80.5%,#549e49 83.5%,#61a14c 85.5%,#87aa55 90.5%,#b2b55d 95.5%,#b8b45f 96.5%,#bfa764 99.5%)"></i><i style="background:linear-gradient(90deg,#debba8 0.5%,#d6b297 3.5%,#c8a677 9.5%,#c0a466 12.5%,#bfa664 13.5%,#b9b35f 18.5%,#b7b65e 19.5%,#b2b55d 20.5%,#9db059 23.5%,#86aa55 26.5%,#75a551 28.5%,#4d9c48 32.5%,#479a49 33.5%,#44984d 34.5%,#3e915b 38.5%,#3c8f60 41.5%,#3c8f61 44.5%,#3e915c 48.5%,#43974f 55.5%,#44994b 58.5%,#479a49 60.5%,#499a48 67.5%,#44994a 73.5%,#44994a 76.5%,#499b48 80.5%,#569e49 83.5%,#63a24d 85.5%,#89aa55 90.5%,#b2b65d 95.5%,#b8b45f 96.5%,#bfa664 99.5%)"></i><i style="background:linear-gradient(90deg,#debca9 0.5%,#d7b298 3.5%,#c8a778 9.5%,#c0a367 12.5%,#c0a565 13.5%,#b7b55f 19.5%,#b3b65d 20.5%,#9fb059 23.5%,#7fa853 27.5%,#6da44f 29.5%,#4f9c48 32.5%,#499b47 33.5%,#44984c 34.5%,#3f925a 38.5%,#3c8f5f 42.5%,#3c8f5f 44.5%,#3e915b 48.5%,#43984d 55.5%,#45994a 58.5%,#499b47 60.5%,#4a9b48 61.5%,#4a9b47 67.5%,#499b47 68.5%,#499b47 70.5%,#459949 73.5%,#459949 76.5%,#4b9b47 80.5%,#589f4a 83.5%,#73a551 87.5%,#8aab55 90.5%,#b3b65d 95.5%,#b9b45f 96.5%,#bfa664 99.5%)"></i><i style="background:linear-gradient(90deg,#dfbcaa 0.5%,#dcb8a2 1.5%,#d7b299 3.5%,#d0ad8a 6.5%,#cdab83 7.5%,#c4a46f 11.5%,#c1a368 12.5%,#c0a565 13.5%,#bcac62 16.5%,#b8b55f 19.5%,#b4b65d 20.5%,#a0b15a 23.5%,#89ab55 26.5%,#70a450 29.5%,#519d48 32.5%,#4a9b46 33.5%,#44994b 34.5%,#3f9258 38.5%,#3d905e 42.5%,#3d905e 44.5%,#3f9258 49.5%,#44984c 55.5%,#459a49 58.5%,#4a9b46 60.5%,#4c9c47 61.5%,#4c9c47 67.5%,#4a9b46 68.5%,#4a9b46 70.5%,#459a49 73.5%,#459a49 76.5%,#4c9c47 80.5%,#599f4a 83.5%,#74a551 87.5%,#8bab56 90.5%,#b4b65d 95.5%,#b9b35f 96.5%,#bfa664 99.5%)"></i><i style="background:linear-gradient(90deg,#dfbcaa 0.5%,#dcb9a3 1.5%,#d7b39a 3.5%,#c7a675 10.5%,#c5a570 11.5%,#c1a369 12.5%,#bfa764 14.5%,#b8b45f 19.5%,#b5b65e 20.5%,#afb55c 21.5%,#a1b15a 23.5%,#7aa752 28.5%,#539d48 32.5%,#4c9c47 33.5%,#46994a 34.5%,#409357 38.5%,#3d905d 42.5%,#3d905d 44.5%,#3f925a 47.5%,#43984d 54.5%,#45994b 55.5%,#4c9c47 60.5%,#4e9c47 61.5%,#4f9c47 66.5%,#4c9c47 70.5%,#489b48 73.5%,#489b48 76.5%,#4c9c47 79.5%,#529d48 81.5%,#61a14c 84.5%,#8cab56 90.5%,#b5b65e 95.5%,#b9b35f 96.5%,#bfa564 99.5%)"></i><i style="background:linear-gradient(90deg,#dfbdab 0.5%,#d8b49b 3.5%,#c8a677 10.5%,#c5a572 11.5%,#c2a46b 12.5%,#bfa664 14.5%,#b9b45f 19.5%,#b6b65e 20.5%,#b0b55d 21.5%,#a3b15a 23.5%,#7ca753 28.5%,#559e49 32.5%,#4e9c47 33.5%,#479a49 34.5%,#44984d 35.5%,#409356 38.5%,#3e915b 41.5%,#3e915b 45.5%,#409456 49.5%,#44984c 54.5%,#46994a 55.5%,#519d48 61.5%,#529d48 63.5%,#529d48 66.5%,#4a9b48 73.5%,#4a9b48 76.5%,#4e9c47 79.5%,#549e49 81.5%,#63a24d 84.5%,#8dac56 90.5%,#b5b65e 95.5%,#c0a565 99.5%)"></i><i style="background:linear-gradient(90deg,#e0bdac 0.5%,#d6b297 4.5%,#c8a778 10.5%,#c6a674 11.5%,#c3a46c 12.5%,#c0a565 14.5%,#b9b360 19.5%,#b6b55e 20.5%,#b1b55d 21.5%,#a4b25a 23.5%,#7ea853 28.5%,#589f4a 32.5%,#489a48 34.5%,#44994b 35.5%,#409455 38.5%,#3e925a 41.5%,#3e925a 45.5%,#44994b 54.5%,#489a48 55.5%,#509d48 59.5%,#559e49 63.5%,#559e49 66.5%,#4c9c48 73.5%,#4c9c48 76.5%,#4f9d48 79.5%,#569e49 81.5%,#64a24d 84.5%,#8eac56 90.5%,#b6b65e 95.5%,#c0a565 99.5%)"></i><i style="background:linear-gradient(90deg,#e0bdac 0.5%,#d7b298 4.5%,#c7a675 11.5%,#c3a46e 12.5%,#c0a465 14.5%,#b9b260 19.5%,#b7b55f 20.5%,#b3b65d 21.5%,#a6b25b 23.5%,#7fa853 28.5%,#77a652 29.5%,#6ca44f 30.5%,#499b47 34.5%,#44994a 35.5%,#419454 38.5%,#3f9259 41.5%,#3f9259 45.5%,#459949 54.5%,#499b47 55.5%,#539d49 59.5%,#579f4a 63.5%,#579f4a 66.5%,#4f9c48 73.5%,#4f9c48 77.5%,#519d48 79.5%,#589f4a 81.5%,#66a24d 84.5%,#8fac56 90.5%,#b7b65e 95.5%,#c0a565 99.5%)"></i><i style="background:linear-gradient(90deg,#e0bead 0.5%,#d7b299 4.5%,#c8a677 11.5%,#c4a56f 12.5%,#c0a465 14.5%,#b8b55f 20.5%,#b4b65e 21.5%,#a7b35b 23.5%,#81a854 28.5%,#4a9b46 34.5%,#459a4a 35.5%,#419553 38.5%,#3f9358 41.5%,#3f9358 45.5%,#469a48 54.5%,#4a9b46 55.5%,#4f9c47 57.5%,#539e49 58.5%,#5a9f4a 63.5%,#5a9f4a 66.5%,#519d48 73.5%,#519d48 77.5%,#539e49 79.5%,#5a9f4a 81.5%,#67a34e 84.5%,#90ac57 90.5%,#b7b65e 95.5%,#c0a565 99.5%)"></i><i style="background:linear-gradient(90deg,#e1bfae 0.5%,#d8b39a 4.5%,#c8a778 11.5%,#c5a571 12.5%,#c1a467 14.5%,#bfa664 15.5%,#b8b45f 20.5%,#b5b65e 21.5%,#afb55c 22.5%,#82a954 28.5%,#4d9c47 34.5%,#479a49 35.5%,#429652 38.5%,#409357 41.5%,#409357 45.5%,#43984d 51.5%,#489b48 54.5%,#4d9c47 55.5%,#589f4a 59.5%,#5ca04b 63.5%,#5ca04b 66.5%,#539e49 74.5%,#539e49 77.5%,#569e49 79.5%,#5ca04b 81.5%,#69a34e 84.5%,#91ad57 90.5%,#b0b55d 94.5%,#b8b65f 95.5%,#c0a465 99.5%)"></i><i style="background:linear-gradient(90deg,#e1bfb0 0.5%,#d6b196 5.5%,#c9a77a 11.5%,#c6a572 12.5%,#c1a469 14.5%,#c0a565 15.5%,#b9b35f 20.5%,#b6b65e 21.5%,#b0b55d 22.5%,#84a954 28.5%,#4f9c47 34.5%,#45994a 36.5%,#429651 38.5%,#409456 41.5%,#409456 45.5%,#44984c 51.5%,#479a49 52.5%,#4b9b48 54.5%,#4f9c47 55.5%,#589f4a 58.5%,#5da04b 61.5%,#5fa04c 66.5%,#569e49 74.5%,#569e49 77.5%,#589f4a 79.5%,#5da04b 81.5%,#6ba34f 84.5%,#92ad57 90.5%,#b1b55d 94.5%,#b8b55f 95.5%,#c0a466 99.5%)"></i><i style="background:linear-gradient(90deg,#e1c0b1 0.5%,#d6b297 5.5%,#caa87b 11.5%,#c6a674 12.5%,#c0a565 15.5%,#b9b360 20.5%,#b7b55e 21.5%,#b2b55d 22.5%,#85aa54 28.5%,#519d48 34.5%,#4b9b48 35.5%,#469a49 36.5%,#44984d 37.5%,#419454 41.5%,#419454 45.5%,#44994a 51.5%,#489a48 52.5%,#4d9c48 54.5%,#519d48 55.5%,#5a9f4a 58.5%,#60a14c 61.5%,#61a14c 66.5%,#589f4a 74.5%,#589f4a 77.5%,#5a9f4a 79.5%,#5fa14c 81.5%,#6da44f 84.5%,#93ad57 90.5%,#b2b65d 94.5%,#b8b55f 95.5%,#c0a467 99.5%)"></i><i style="background:linear-gradient(90deg,#e2c1b2 0.5%,#d7b298 5.5%,#caa87d 11.5%,#c7a675 12.5%,#c5a570 13.5%,#c0a465 15.5%,#b9b260 20.5%,#b7b55f 21.5%,#b3b65d 22.5%,#77a652 30.5%,#549e49 34.5%,#479a48 36.5%,#44994b 37.5%,#429650 39.5%,#419553 41.5%,#419553 45.5%,#459a49 51.5%,#499b47 52.5%,#4f9c48 54.5%,#589f4a 56.5%,#63a24d 61.5%,#63a24d 67.5%,#5a9f4a 74.5%,#5b9f4a 78.5%,#5da04b 79.5%,#61a14c 81.5%,#6fa450 84.5%,#80a854 87.5%,#9baf59 91.5%,#b3b65d 94.5%,#b8b45f 95.5%,#bea764 98.5%,#c1a367 99.5%)"></i><i style="background:linear-gradient(90deg,#e2c2b3 0.5%,#d7b399 5.5%,#cba97e 11.5%,#c5a572 13.5%,#c3a46d 14.5%,#c0a466 15.5%,#b8b55f 21.5%,#b4b65e 22.5%,#79a652 30.5%,#569e49 34.5%,#499b47 36.5%,#45994b 37.5%,#429652 41.5%,#429652 45.5%,#479a49 51.5%,#4b9b46 52.5%,#5a9f4a 56.5%,#65a24d 61.5%,#66a24d 67.5%,#5da04b 74.5%,#5da04b 78.5%,#63a24d 81.5%,#70a550 84.5%,#81a954 87.5%,#9cb059 91.5%,#b4b65e 94.5%,#b8b45f 95.5%,#bfa764 98.5%,#c1a368 99.5%)"></i><i style="background:linear-gradient(90deg,#e3c2b4 0.5%,#debba8 2.5%,#d8b39a 5.5%,#d0ad89 9.5%,#c4a46f 14.5%,#c1a467 15.5%,#bfa565 16.5%,#b8b45f 21.5%,#b5b65e 22.5%,#afb55d 23.5%,#7ba753 30.5%,#589f4a 34.5%,#4b9b48 36.5%,#45994c 38.5%,#429650 41.5%,#429650 45.5%,#43974e 47.5%,#499b48 51.5%,#4d9c47 52.5%,#5da04b 56.5%,#68a34e 61.5%,#69a34e 67.5%,#60a14c 74.5%,#5fa14c 78.5%,#66a24d 81.5%,#72a551 84.5%,#83a954 87.5%,#96ae58 90.5%,#b5b65e 94.5%,#b9b45f 95.5%,#bfa764 98.5%,#c1a369 99.5%)"></i><i style="background:linear-gradient(90deg,#e3c2b4 0.5%,#debba8 2.5%,#d6b196 6.5%,#ccaa80 11.5%,#c5a570 14.5%,#c2a469 15.5%,#bfa764 17.5%,#b6b65e 22.5%,#b1b55d 23.5%,#7da753 30.5%,#62a14d 33.5%,#4d9c48 36.5%,#45994a 38.5%,#43974f 41.5%,#43974f 45.5%,#479a49 49.5%,#4f9d48 52.5%,#62a14d 57.5%,#69a34e 60.5%,#6ba34f 62.5%,#6ba34f 67.5%,#61a14c 75.5%,#61a14c 78.5%,#68a34e 81.5%,#74a551 84.5%,#8aab55 88.5%,#97ae58 90.5%,#b6b65e 94.5%,#b9b35f 95.5%,#bfa664 98.5%,#c2a46a 99.5%)"></i><i style="background:linear-gradient(90deg,#e3c3b5 0.5%,#dfbca9 2.5%,#ddbaa6 3.5%,#d6b297 6.5%,#d5b194 7.5%,#ccaa81 11.5%,#c5a572 14.5%,#c2a46a 15.5%,#c0a467 16.5%,#bfa764 17.5%,#b7b55e 22.5%,#b2b65d 23.5%,#7ea853 30.5%,#64a24d 33.5%,#509d48 36.5%,#469a49 38.5%,#43974e 41.5%,#43974e 45.5%,#44994b 47.5%,#489a48 49.5%,#529d48 52.5%,#65a24d 57.5%,#6ca44f 60.5%,#6ea450 62.5%,#6ea450 67.5%,#64a24d 75.5%,#64a24d 78.5%,#6da44f 82.5%,#85aa55 87.5%,#98af58 90.5%,#b6b65e 94.5%,#bfa664 98.5%,#c2a46b 99.5%)"></i><i style="background:linear-gradient(90deg,#e3c3b5 0.5%,#dfbca9 2.5%,#debba7 3.5%,#d7b298 6.5%,#d6b196 7.5%,#d1ae8c 9.5%,#c6a573 14.5%,#c3a46c 15.5%,#c1a367 16.5%,#bfa664 17.5%,#b8b55f 22.5%,#b3b65d 23.5%,#8dac56 28.5%,#80a854 30.5%,#66a24e 33.5%,#4b9b47 37.5%,#45994a 39.5%,#44984d 41.5%,#44984d 45.5%,#45994a 47.5%,#499b46 49.5%,#68a34e 57.5%,#6fa450 60.5%,#71a550 62.5%,#71a550 67.5%,#66a24d 75.5%,#66a24d 78.5%,#6fa450 82.5%,#8cab56 88.5%,#99af58 90.5%,#b7b65e 94.5%,#bfa664 98.5%,#c3a46c 99.5%)"></i><i style="background:linear-gradient(90deg,#e4c4b7 0.5%,#dfbdaa 2.5%,#debba8 3.5%,#d7b39a 6.5%,#d6b297 7.5%,#c7a675 14.5%,#c1a369 16.5%,#c0a565 17.5%,#b8b55f 22.5%,#b4b65e 23.5%,#82a954 30.5%,#68a34e 33.5%,#4e9c47 37.5%,#469a49 39.5%,#45994b 41.5%,#45994b 45.5%,#469a49 47.5%,#4c9c47 49.5%,#6aa34f 57.5%,#71a550 60.5%,#73a551 62.5%,#73a551 67.5%,#69a34e 75.5%,#69a34e 78.5%,#6aa34f 79.5%,#71a550 82.5%,#8dac56 88.5%,#9aaf59 90.5%,#b1b55d 93.5%,#b8b65e 94.5%,#c0a565 98.5%,#c3a46d 99.5%)"></i><i style="background:linear-gradient(90deg,#e4c5b8 0.5%,#e0bdac 2.5%,#d8b49b 6.5%,#d3af8f 9.5%,#c7a676 14.5%,#c2a36a 16.5%,#c0a565 17.5%,#b8b45f 22.5%,#b5b65e 23.5%,#83a954 30.5%,#6aa34f 33.5%,#509d48 37.5%,#499b49 39.5%,#46994a 41.5%,#46994a 44.5%,#499b49 47.5%,#4e9c47 49.5%,#66a24e 55.5%,#70a450 58.5%,#74a551 60.5%,#76a651 62.5%,#76a651 67.5%,#70a450 71.5%,#6aa34f 77.5%,#6da44f 79.5%,#73a551 82.5%,#80a853 85.5%,#8eac56 88.5%,#b2b65d 93.5%,#b8b55f 94.5%,#c0a565 98.5%,#c4a46e 99.5%)"></i><i style="background:linear-gradient(90deg,#e5c6b9 0.5%,#e0bead 2.5%,#dab7a0 5.5%,#d3af90 9.5%,#c8a778 14.5%,#c2a46c 16.5%,#c0a466 17.5%,#bfa764 18.5%,#b6b65e 23.5%,#b0b55d 24.5%,#8cab56 29.5%,#6da44f 33.5%,#529d48 37.5%,#4e9c48 38.5%,#479a49 41.5%,#479a49 44.5%,#4e9c48 48.5%,#65a24d 54.5%,#73a551 58.5%,#76a651 60.5%,#78a652 62.5%,#78a652 67.5%,#6da44f 77.5%,#6fa450 79.5%,#75a651 82.5%,#81a854 85.5%,#90ac57 88.5%,#b3b65d 93.5%,#b8b55f 94.5%,#c0a466 98.5%,#c4a46f 99.5%)"></i><i style="background:linear-gradient(90deg,#e5c6ba 0.5%,#dfbca9 3.5%,#dbb7a1 5.5%,#d4b092 9.5%,#c9a779 14.5%,#c3a46d 16.5%,#c0a467 17.5%,#bfa664 18.5%,#b7b55e 23.5%,#b2b55d 24.5%,#6fa450 33.5%,#549e49 37.5%,#509d48 38.5%,#489a47 41.5%,#489a47 44.5%,#509d48 48.5%,#579e49 50.5%,#68a34e 54.5%,#75a651 58.5%,#79a652 60.5%,#7ba752 62.5%,#7ba752 67.5%,#75a651 72.5%,#71a550 74.5%,#6fa450 77.5%,#78a652 82.5%,#82a954 85.5%,#91ad57 88.5%,#acb45c 92.5%,#b4b65e 93.5%,#b8b55f 94.5%,#bea864 97.5%,#c0a467 98.5%,#c5a570 99.5%)"></i><i style="background:linear-gradient(90deg,#e5c7bc 0.5%,#dfbcaa 3.5%,#dab6a0 6.5%,#d6b196 8.5%,#d5b093 9.5%,#c7a676 15.5%,#c1a367 17.5%,#bfa664 18.5%,#b8b55f 23.5%,#b4b65d 24.5%,#71a551 33.5%,#579e4a 37.5%,#4a9b46 41.5%,#4a9b46 44.5%,#529d48 48.5%,#599f4a 50.5%,#6ba34f 54.5%,#78a652 58.5%,#7ba753 60.5%,#7da753 67.5%,#78a652 72.5%,#74a551 74.5%,#74a551 76.5%,#71a551 77.5%,#7aa752 82.5%,#84a954 85.5%,#93ad57 88.5%,#adb45c 92.5%,#b5b65e 93.5%,#b8b45f 94.5%,#bea764 97.5%,#c1a367 98.5%,#c5a571 99.5%)"></i><i style="background:linear-gradient(90deg,#e6c8bc 0.5%,#dfbdab 3.5%,#dbb7a1 6.5%,#d3af90 10.5%,#c8a778 15.5%,#c1a369 17.5%,#bea864 19.5%,#b8b45f 23.5%,#b4b65e 24.5%,#74a551 33.5%,#5a9f4a 37.5%,#4e9c47 40.5%,#4c9c47 42.5%,#4c9c47 44.5%,#559e49 48.5%,#74a551 56.5%,#7aa752 58.5%,#7da853 60.5%,#7fa853 67.5%,#7aa752 72.5%,#76a652 74.5%,#74a551 77.5%,#76a651 79.5%,#7ca753 82.5%,#85aa55 85.5%,#94ae57 88.5%,#b6b65e 93.5%,#b8b45f 94.5%,#bfa764 97.5%,#c1a368 98.5%,#c6a572 99.5%)"></i><i style="background:linear-gradient(90deg,#e6c8bd 0.5%,#e0bdac 3.5%,#d4b092 10.5%,#c9a779 15.5%,#c2a46b 17.5%,#bfa764 19.5%,#b8b45f 23.5%,#b5b65e 24.5%,#76a651 33.5%,#5ca04b 37.5%,#519d48 40.5%,#4e9c47 42.5%,#4f9c47 44.5%,#559e49 47.5%,#5fa04c 50.5%,#6ca44f 53.5%,#76a652 56.5%,#7ca753 58.5%,#80a853 60.5%,#82a954 64.5%,#81a954 67.5%,#7ca753 72.5%,#78a652 74.5%,#76a652 77.5%,#78a652 79.5%,#7da753 82.5%,#87aa55 85.5%,#95ae58 88.5%,#b6b65e 93.5%,#bfa764 97.5%,#c1a369 98.5%,#c6a573 99.5%)"></i><i style="background:linear-gradient(90deg,#e6c8be 0.5%,#e5c6b9 1.5%,#e0bead 3.5%,#d5b093 10.5%,#c9a87b 15.5%,#c3a46d 17.5%,#bfa764 19.5%,#b6b55e 24.5%,#b0b55d 25.5%,#8cab56 30.5%,#64a24d 36.5%,#579f4a 39.5%,#509d48 42.5%,#539d48 45.5%,#579f4a 47.5%,#79a652 56.5%,#82a954 60.5%,#84a954 64.5%,#83a954 67.5%,#7ea853 72.5%,#7ba752 74.5%,#79a652 77.5%,#7aa752 79.5%,#7fa853 82.5%,#85a954 84.5%,#97ae58 88.5%,#b7b65e 93.5%,#bfa664 97.5%,#c2a46a 98.5%,#c6a674 99.5%)"></i><i style="background:linear-gradient(90deg,#e6c9be 0.5%,#e5c7bb 1.5%,#e1bfaf 3.5%,#d5b195 10.5%,#caa87c 15.5%,#c4a46f 17.5%,#c1a469 18.5%,#bfa664 19.5%,#b7b55e 24.5%,#b2b65d 25.5%,#8eac56 30.5%,#67a34e 36.5%,#599f4a 39.5%,#539d48 42.5%,#559e49 45.5%,#599f4a 47.5%,#60a14c 49.5%,#71a550 53.5%,#7ba753 56.5%,#80a854 58.5%,#85aa54 61.5%,#87aa55 65.5%,#7ba753 77.5%,#7ca753 79.5%,#83a954 83.5%,#8eac56 86.5%,#98af58 88.5%,#a4b25a 90.5%,#b2b65d 92.5%,#b7b55f 93.5%,#bfa664 97.5%,#c2a46b 98.5%,#c7a675 99.5%)"></i><i style="background:linear-gradient(90deg,#e7c9bf 0.5%,#e6c7bc 1.5%,#e1c0b0 3.5%,#e0bead 4.5%,#debba7 5.5%,#d6b196 10.5%,#cba97e 15.5%,#c2a46a 18.5%,#bfa664 19.5%,#b8b55f 24.5%,#b4b65d 25.5%,#96ae58 29.5%,#69a34e 36.5%,#5ca04b 39.5%,#559e49 42.5%,#579f4a 45.5%,#5ca04b 47.5%,#62a14d 49.5%,#74a551 53.5%,#7da853 56.5%,#87aa55 61.5%,#89ab55 65.5%,#7da853 76.5%,#7da853 79.5%,#84a954 83.5%,#90ac57 86.5%,#99af58 88.5%,#a5b25b 90.5%,#b4b65d 92.5%,#b8b55f 93.5%,#bfa664 97.5%,#c3a46c 98.5%,#c7a676 99.5%)"></i><i style="background:linear-gradient(90deg,#e7cac0 0.5%,#e6c8bc 1.5%,#e2c0b1 3.5%,#d4b093 11.5%,#cba97f 15.5%,#c2a46c 18.5%,#c0a566 19.5%,#b8b45f 24.5%,#b5b65e 25.5%,#98af58 29.5%,#6ca44f 36.5%,#5fa04c 39.5%,#589f4a 42.5%,#5a9f4a 45.5%,#5fa04c 47.5%,#76a652 53.5%,#80a853 56.5%,#89ab55 61.5%,#8bab56 65.5%,#80a853 76.5%,#80a853 79.5%,#86aa55 83.5%,#9baf59 88.5%,#a6b25b 90.5%,#b5b65e 92.5%,#b8b55f 93.5%,#c0a565 97.5%,#c3a46d 98.5%,#c8a778 99.5%)"></i><i style="background:linear-gradient(90deg,#e8cbc1 0.5%,#e2c1b2 3.5%,#d5b194 11.5%,#ccaa81 15.5%,#c3a46d 18.5%,#c0a567 19.5%,#bfa764 20.5%,#b6b65e 25.5%,#86aa55 32.5%,#69a34e 37.5%,#5ea04b 40.5%,#5b9f4b 42.5%,#5da04b 45.5%,#61a14c 47.5%,#75a651 52.5%,#82a954 56.5%,#8cab56 61.5%,#8dac56 65.5%,#82a954 76.5%,#82a954 79.5%,#87aa55 83.5%,#9cb059 88.5%,#b5b65e 92.5%,#b8b45f 93.5%,#bea863 96.5%,#c0a466 97.5%,#c4a46f 98.5%,#c9a779 99.5%)"></i><i style="background:linear-gradient(90deg,#e8ccc3 0.5%,#e2c2b4 3.5%,#d6b196 11.5%,#cdaa82 15.5%,#c4a46f 18.5%,#c1a468 19.5%,#bfa664 20.5%,#b9b360 24.5%,#b6b55e 25.5%,#b1b55d 26.5%,#88aa55 32.5%,#6ca44f 37.5%,#60a14c 40.5%,#5da04b 42.5%,#5ea04b 44.5%,#64a24d 47.5%,#77a652 52.5%,#84a954 56.5%,#8eac56 61.5%,#8fac56 66.5%,#84a954 76.5%,#84a954 80.5%,#89ab55 83.5%,#9eb059 88.5%,#b6b65e 92.5%,#bea864 96.5%,#c0a466 97.5%,#c4a570 98.5%,#c9a87b 99.5%)"></i><i style="background:linear-gradient(90deg,#e9cdc4 0.5%,#e3c3b5 3.5%,#d6b297 11.5%,#cba97f 16.5%,#c5a570 18.5%,#c1a469 19.5%,#c0a565 20.5%,#b7b55f 25.5%,#b3b65d 26.5%,#89ab55 32.5%,#6ea450 37.5%,#63a24d 40.5%,#60a14c 42.5%,#60a14c 44.5%,#67a34e 47.5%,#7aa752 52.5%,#86aa55 56.5%,#90ac57 61.5%,#91ad57 66.5%,#86aa55 76.5%,#86aa55 80.5%,#8bab56 83.5%,#9aaf58 87.5%,#b7b65e 92.5%,#bea864 96.5%,#c0a367 97.5%,#caa87c 99.5%)"></i><i style="background:linear-gradient(90deg,#e9cdc5 0.5%,#e3c4b6 3.5%,#e1c0b0 5.5%,#dfbcaa 6.5%,#d7b399 11.5%,#ccaa80 16.5%,#c2a46b 19.5%,#c0a565 20.5%,#b8b55f 25.5%,#b4b65e 26.5%,#8bab56 32.5%,#70a550 37.5%,#65a24d 40.5%,#63a24d 42.5%,#63a24d 44.5%,#6aa34e 47.5%,#79a652 51.5%,#88aa55 56.5%,#92ad57 61.5%,#93ad57 66.5%,#88aa55 76.5%,#88aa55 80.5%,#8dac56 83.5%,#9bb059 87.5%,#b8b65e 92.5%,#bfa764 96.5%,#c1a368 97.5%,#cba97e 99.5%)"></i><i style="background:linear-gradient(90deg,#e9cec6 0.5%,#e6c8bd 2.5%,#e4c4b7 3.5%,#e2c1b1 5.5%,#dfbdab 6.5%,#d8b39a 11.5%,#cdaa82 16.5%,#c3a46d 19.5%,#c1a567 20.5%,#bfa764 21.5%,#b8b45f 25.5%,#b5b65e 26.5%,#8dac56 32.5%,#73a551 37.5%,#68a34e 40.5%,#66a24d 42.5%,#66a24d 44.5%,#6ca44f 47.5%,#7ea853 52.5%,#8aab55 56.5%,#94ad57 61.5%,#95ae58 66.5%,#8aab55 76.5%,#8aab55 80.5%,#8dac56 82.5%,#92ad57 84.5%,#9db059 87.5%,#b4b65d 91.5%,#b8b55f 92.5%,#bfa764 96.5%,#c2a369 97.5%,#cba97f 99.5%)"></i><i style="background:linear-gradient(90deg,#e9cec6 0.5%,#e7c9bf 2.5%,#e4c5b9 3.5%,#e2c1b3 5.5%,#e0bead 6.5%,#d9b49c 11.5%,#cdab83 16.5%,#c4a46f 19.5%,#bfa764 21.5%,#b6b65e 26.5%,#95ae58 31.5%,#7fa853 35.5%,#75a651 37.5%,#6ba34f 40.5%,#69a34e 42.5%,#69a34e 44.5%,#6fa450 47.5%,#80a854 52.5%,#8cab56 56.5%,#96ae58 61.5%,#97ae58 66.5%,#8eac56 74.5%,#8bab56 78.5%,#8eac56 82.5%,#93ad57 84.5%,#9fb059 87.5%,#b5b65e 91.5%,#b8b45f 92.5%,#bfa664 96.5%,#c2a46b 97.5%,#ccaa80 99.5%)"></i><i style="background:linear-gradient(90deg,#eacec7 0.5%,#e7cac0 2.5%,#e5c6ba 3.5%,#e3c2b4 5.5%,#e0beae 6.5%,#d9b59e 11.5%,#ceab85 16.5%,#c5a571 19.5%,#bfa664 21.5%,#b9b360 25.5%,#b7b55e 26.5%,#b2b55d 27.5%,#97ae58 31.5%,#81a854 35.5%,#70a550 39.5%,#6ea44f 40.5%,#6ba34f 42.5%,#6ba34f 44.5%,#72a551 47.5%,#8eac56 56.5%,#93ad57 58.5%,#99af58 62.5%,#99af58 67.5%,#90ac57 74.5%,#8dac56 78.5%,#90ad57 82.5%,#9cb059 86.5%,#b6b65e 91.5%,#bfa664 96.5%,#c3a46d 97.5%,#ccaa81 99.5%)"></i><i style="background:linear-gradient(90deg,#eacfc7 0.5%,#e8cbc1 2.5%,#e5c7bb 3.5%,#e3c3b5 5.5%,#e1bfaf 6.5%,#dab69f 11.5%,#cfac87 16.5%,#c6a573 19.5%,#c0a565 21.5%,#b7b55f 26.5%,#b3b65d 27.5%,#98af58 31.5%,#83a954 35.5%,#73a551 39.5%,#6ea450 41.5%,#6ea450 44.5%,#7aa752 49.5%,#90ac57 56.5%,#9bb059 62.5%,#9bb059 67.5%,#92ad57 74.5%,#8fac56 78.5%,#90ad57 81.5%,#97ae58 84.5%,#9eb059 86.5%,#b7b65e 91.5%,#c0a565 96.5%,#c4a46e 97.5%,#cdaa82 99.5%)"></i><i style="background:linear-gradient(90deg,#eacfc8 0.5%,#e8cbc2 2.5%,#e6c8bc 3.5%,#e4c4b6 5.5%,#e1c0b1 6.5%,#debba8 9.5%,#d8b49c 12.5%,#d0ac88 16.5%,#c7a674 19.5%,#c0a565 21.5%,#b8b55f 26.5%,#b4b65e 27.5%,#9aaf59 31.5%,#80a854 36.5%,#75a651 39.5%,#71a550 41.5%,#71a550 44.5%,#7da753 49.5%,#92ad57 56.5%,#9eb059 62.5%,#9eb059 67.5%,#94ad57 74.5%,#90ad57 78.5%,#92ad57 81.5%,#99af58 84.5%,#9fb159 86.5%,#b8b65f 91.5%,#c0a565 96.5%,#c4a570 97.5%,#cdab83 99.5%)"></i><i style="background:linear-gradient(90deg,#ebd0ca 0.5%,#e6c8be 3.5%,#e4c5b8 5.5%,#e1bfaf 7.5%,#debca9 9.5%,#d9b59d 12.5%,#d0ad8a 16.5%,#cba97d 18.5%,#c4a46f 20.5%,#c1a467 21.5%,#bfa664 22.5%,#b8b45f 26.5%,#b5b55e 27.5%,#91ad57 33.5%,#82a954 36.5%,#77a652 39.5%,#73a551 42.5%,#73a551 44.5%,#79a752 47.5%,#94ae57 56.5%,#a0b15a 62.5%,#a0b15a 67.5%,#96ae58 74.5%,#93ad57 79.5%,#94ae57 81.5%,#9aaf59 84.5%,#a1b15a 86.5%,#aab35c 88.5%,#b8b55f 91.5%,#c0a466 96.5%,#c5a571 97.5%,#ceab85 99.5%)"></i><i style="background:linear-gradient(90deg,#ebd1cb 0.5%,#e7c9bf 3.5%,#e4c5b9 5.5%,#e1c0b0 7.5%,#dab69f 12.5%,#d1ae8b 16.5%,#cba97f 18.5%,#c5a570 20.5%,#c1a469 21.5%,#bfa664 22.5%,#b9b360 26.5%,#b1b55d 28.5%,#8dac56 34.5%,#84a954 36.5%,#7aa752 39.5%,#76a651 42.5%,#76a651 44.5%,#7ca753 47.5%,#96ae58 56.5%,#a2b15a 62.5%,#a2b15a 67.5%,#98af58 74.5%,#95ae57 79.5%,#96ae58 81.5%,#9cb059 84.5%,#a3b15a 86.5%,#acb45c 88.5%,#b5b55e 90.5%,#b8b45f 91.5%,#bfa764 95.5%,#c1a467 96.5%,#c6a573 97.5%,#cfac86 99.5%)"></i><i style="background:linear-gradient(90deg,#ecd2cc 0.5%,#e3c4b6 6.5%,#e2c0b1 7.5%,#dbb7a0 12.5%,#cfac87 17.5%,#c5a572 20.5%,#c0a565 22.5%,#b9b260 26.5%,#b3b65d 28.5%,#8fac56 34.5%,#86aa55 36.5%,#7ca753 39.5%,#78a652 42.5%,#78a652 44.5%,#7ea853 47.5%,#9baf59 57.5%,#a4b25a 62.5%,#a5b25b 64.5%,#a4b25a 67.5%,#9aaf58 74.5%,#97ae58 79.5%,#9eb059 84.5%,#adb45c 88.5%,#b2b65d 89.5%,#b9b35f 91.5%,#bfa664 95.5%,#c1a468 96.5%,#c6a674 97.5%,#cfac88 99.5%)"></i><i style="background:linear-gradient(90deg,#ecd3cd 0.5%,#ebd1ca 1.5%,#e9cdc5 2.5%,#e4c5b8 6.5%,#e2c1b2 7.5%,#dbb8a2 12.5%,#d7b298 14.5%,#d0ad89 17.5%,#c6a573 20.5%,#c0a465 22.5%,#b8b45f 27.5%,#b5b65e 28.5%,#91ad57 34.5%,#88aa55 36.5%,#7ea853 39.5%,#7ba753 42.5%,#7ba753 44.5%,#80a854 47.5%,#9eb059 57.5%,#a6b25b 62.5%,#a7b35b 65.5%,#a4b25a 69.5%,#9cb059 74.5%,#99af58 80.5%,#9fb15a 84.5%,#a6b25b 86.5%,#b3b65d 89.5%,#b7b55f 90.5%,#b9b360 91.5%,#bfa664 95.5%,#c2a46a 96.5%,#c7a676 97.5%,#d0ad89 99.5%)"></i><i style="background:linear-gradient(90deg,#edd4cf 0.5%,#e9cec6 2.5%,#e5c6ba 6.5%,#e3c2b4 7.5%,#dcb9a3 12.5%,#d7b39a 14.5%,#d1ad8b 17.5%,#c7a675 20.5%,#c1a466 22.5%,#b6b65e 28.5%,#93ad57 34.5%,#8aab55 36.5%,#81a854 39.5%,#7da753 42.5%,#7da853 44.5%,#82a954 47.5%,#a0b15a 57.5%,#a8b35b 62.5%,#aab35b 65.5%,#a6b25b 69.5%,#9eb059 74.5%,#9baf59 80.5%,#a1b15a 84.5%,#a8b35b 86.5%,#b4b65e 89.5%,#b8b55f 90.5%,#c0a565 95.5%,#c2a46b 96.5%,#c8a777 97.5%,#d1ad8a 99.5%)"></i><i style="background:linear-gradient(90deg,#edd5d0 0.5%,#eacfc7 2.5%,#e5c7bb 6.5%,#e3c3b6 7.5%,#ddb9a5 12.5%,#d1ae8c 17.5%,#c4a570 21.5%,#c2a468 22.5%,#bfa664 23.5%,#b7b55e 28.5%,#b2b55d 29.5%,#95ae57 34.5%,#8cac56 36.5%,#81a854 40.5%,#7fa853 42.5%,#80a853 44.5%,#84a954 47.5%,#a2b15a 57.5%,#a9b35b 61.5%,#acb45c 65.5%,#a8b35b 69.5%,#9eb059 76.5%,#9db059 80.5%,#a1b15a 83.5%,#a6b25b 85.5%,#b5b55e 89.5%,#bab160 91.5%,#bea864 94.5%,#c0a566 95.5%,#c3a46d 96.5%,#c9a779 97.5%,#d1ae8b 99.5%)"></i><i style="background:linear-gradient(90deg,#edd6d1 0.5%,#eacfc8 2.5%,#e6c8bc 6.5%,#ddbaa6 12.5%,#cfac88 18.5%,#c5a572 21.5%,#bfa564 23.5%,#b9b260 27.5%,#b3b65d 29.5%,#97ae58 34.5%,#8eac56 36.5%,#83a954 40.5%,#81a954 43.5%,#86aa55 47.5%,#a4b25a 57.5%,#abb45c 61.5%,#aeb45c 65.5%,#aab45c 69.5%,#a1b15a 76.5%,#9fb059 80.5%,#a3b25a 83.5%,#a8b35b 85.5%,#b3b65d 88.5%,#b9b35f 90.5%,#bfa764 94.5%,#c1a467 95.5%,#c4a56f 96.5%,#ceab84 98.5%,#d2ae8d 99.5%)"></i><i style="background:linear-gradient(90deg,#eed7d2 0.5%,#ebd0c9 2.5%,#e3c2b4 9.5%,#e1bfae 10.5%,#debba8 12.5%,#d0ad8a 18.5%,#c6a674 21.5%,#c0a565 23.5%,#b5b65e 29.5%,#a3b25a 32.5%,#90ad57 36.5%,#85aa54 40.5%,#83a954 43.5%,#88aa55 47.5%,#a1b15a 55.5%,#aeb45c 61.5%,#afb55d 66.5%,#a3b15a 76.5%,#a1b15a 80.5%,#a5b25b 83.5%,#b1b55d 87.5%,#b5b65e 88.5%,#b7b55f 89.5%,#bfa664 94.5%,#c1a469 95.5%,#c5a571 96.5%,#ceac86 98.5%,#d2ae8e 99.5%)"></i><i style="background:linear-gradient(90deg,#eed7d4 0.5%,#ecd3ce 1.5%,#e3c3b5 9.5%,#e1bfb0 10.5%,#dfbca9 12.5%,#d8b49b 15.5%,#d1ae8c 18.5%,#c4a46f 22.5%,#c0a465 23.5%,#b7b75e 29.5%,#a5b25b 32.5%,#96ae58 35.5%,#87aa55 40.5%,#85aa55 43.5%,#8aab55 47.5%,#8fac56 49.5%,#a3b25a 55.5%,#b0b55d 61.5%,#b2b55d 66.5%,#a5b25b 76.5%,#a3b25a 80.5%,#a6b25b 83.5%,#b2b65d 87.5%,#b7b75e 88.5%,#bfa664 94.5%,#c2a46a 95.5%,#c6a574 96.5%,#cfac87 98.5%,#d2af8f 99.5%)"></i><i style="background:linear-gradient(90deg,#eed8d4 0.5%,#ecd3ce 1.5%,#e3c3b6 9.5%,#e1bfb0 10.5%,#dfbcaa 12.5%,#d8b49b 15.5%,#d1ae8c 18.5%,#c4a46f 22.5%,#c0a465 23.5%,#b7b75e 29.5%,#a5b25b 32.5%,#96ae58 35.5%,#87aa55 40.5%,#86aa55 43.5%,#8aab56 47.5%,#8fac56 49.5%,#a3b25a 55.5%,#b0b55d 61.5%,#b2b65d 66.5%,#a5b25b 76.5%,#a3b25a 80.5%,#a7b25b 83.5%,#b2b65d 87.5%,#b7b75e 88.5%,#bfa664 94.5%,#c2a46a 95.5%,#c6a574 96.5%,#cfac87 98.5%,#d3af8f 99.5%)"></i><i style="background:linear-gradient(90deg,#eed8d4 0.5%,#ecd3ce 1.5%,#e3c3b6 9.5%,#e1bfb0 10.5%,#dfbcaa 12.5%,#d8b49b 15.5%,#d1ae8c 18.5%,#c4a46f 22.5%,#c0a465 23.5%,#b7b75e 29.5%,#a5b25b 32.5%,#96ae58 35.5%,#87aa55 40.5%,#86aa55 43.5%,#8aab56 47.5%,#8fac56 49.5%,#a3b25a 55.5%,#b0b55d 61.5%,#b2b65d 66.5%,#a5b25b 76.5%,#a3b25a 80.5%,#a7b25b 83.5%,#b2b65d 87.5%,#b7b75e 88.5%,#bfa664 94.5%,#c2a46a 95.5%,#c6a574 96.5%,#cfac87 98.5%,#d3af8f 99.5%)"></i></div>
<svg id="pts" width="484" height="480" viewBox="0 0 484 480"><g fill="#0000ff" stroke="#000" stroke-width="0.9"><circle cx="126.4" cy="15.4" r="3.05"/><circle cx="153.6" cy="41.4" r="3.05"/><circle cx="154.4" cy="59.4" r="3.05"/><circle cx="0.0" cy="58.6" r="3.05"/><circle cx="227.4" cy="7.4" r="3.05"/><circle cx="299.4" cy="-0.2" r="3.05"/><circle cx="281.4" cy="16.4" r="3.05"/><circle cx="245.4" cy="35.4" r="3.05"/><circle cx="297.4" cy="36.4" r="3.05"/><circle cx="282.4" cy="42.4" r="3.05"/><circle cx="214.4" cy="44.2" r="3.05"/><circle cx="197.4" cy="52.4" r="3.05"/><circle cx="219.4" cy="72.2" r="3.05"/><circle cx="202.4" cy="96.4" r="3.05"/><circle cx="238.4" cy="94.2" r="3.05"/><circle cx="281.4" cy="109.4" r="3.05"/><circle cx="343.4" cy="9.4" r="3.05"/><circle cx="462.4" cy="2.6" r="3.05"/><circle cx="430.4" cy="45.4" r="3.05"/><circle cx="448.4" cy="53.4" r="3.05"/><circle cx="432.4" cy="58.4" r="3.05"/><circle cx="331.4" cy="53.4" r="3.05"/><circle cx="359.4" cy="69.4" r="3.05"/><circle cx="469.4" cy="76.4" r="3.05"/><circle cx="327.4" cy="87.4" r="3.05"/><circle cx="425.4" cy="93.4" r="3.05"/><circle cx="97.4" cy="122.4" r="3.05"/><circle cx="79.4" cy="131.4" r="3.05"/><circle cx="143.4" cy="138.4" r="3.05"/><circle cx="66.4" cy="155.4" r="3.05"/><circle cx="0.0" cy="164.2" r="3.05"/><circle cx="58.4" cy="211.4" r="3.05"/><circle cx="125.4" cy="206.4" r="3.05"/><circle cx="122.4" cy="230.4" r="3.05"/><circle cx="228.4" cy="120.4" r="3.05"/><circle cx="170.4" cy="132.4" r="3.05"/><circle cx="188.4" cy="135.4" r="3.05"/><circle cx="267.4" cy="134.4" r="3.05"/><circle cx="281.4" cy="152.4" r="3.05"/><circle cx="232.4" cy="159.4" r="3.05"/><circle cx="253.4" cy="157.4" r="3.05"/><circle cx="166.4" cy="165.4" r="3.05"/><circle cx="220.4" cy="177.4" r="3.05"/><circle cx="270.4" cy="176.4" r="3.05"/><circle cx="174.4" cy="186.4" r="3.05"/><circle cx="300.4" cy="197.4" r="3.05"/><circle cx="253.4" cy="218.4" r="3.05"/><circle cx="229.4" cy="232.4" r="3.05"/><circle cx="262.4" cy="232.4" r="3.05"/><circle cx="471.4" cy="116.6" r="3.05"/><circle cx="387.4" cy="129.4" r="3.05"/><circle cx="340.4" cy="147.4" r="3.05"/><circle cx="469.4" cy="156.4" r="3.05"/><circle cx="328.4" cy="176.4" r="3.05"/><circle cx="336.4" cy="200.4" r="3.05"/><circle cx="434.4" cy="201.4" r="3.05"/><circle cx="358.4" cy="222.4" r="3.05"/><circle cx="320.4" cy="233.0" r="3.05"/><circle cx="120.4" cy="241.4" r="3.05"/><circle cx="65.4" cy="266.4" r="3.05"/><circle cx="147.4" cy="265.4" r="3.05"/><circle cx="57.4" cy="292.4" r="3.05"/><circle cx="94.4" cy="295.4" r="3.05"/><circle cx="135.4" cy="301.4" r="3.05"/><circle cx="30.4" cy="308.4" r="3.05"/><circle cx="49.4" cy="314.4" r="3.05"/><circle cx="140.4" cy="323.4" r="3.05"/><circle cx="136.4" cy="345.4" r="3.05"/><circle cx="303.4" cy="242.4" r="3.05"/><circle cx="278.4" cy="258.4" r="3.05"/><circle cx="165.4" cy="267.4" r="3.05"/><circle cx="237.4" cy="280.4" r="3.05"/><circle cx="261.4" cy="287.4" r="3.05"/><circle cx="186.4" cy="288.4" r="3.05"/><circle cx="226.4" cy="289.4" r="3.05"/><circle cx="242.4" cy="296.4" r="3.05"/><circle cx="296.4" cy="297.4" r="3.05"/><circle cx="212.4" cy="331.4" r="3.05"/><circle cx="287.4" cy="337.4" r="3.05"/><circle cx="188.4" cy="346.4" r="3.05"/><circle cx="407.4" cy="242.4" r="3.05"/><circle cx="425.4" cy="239.4" r="3.05"/><circle cx="423.4" cy="251.4" r="3.05"/><circle cx="380.4" cy="291.4" r="3.05"/><circle cx="397.4" cy="302.4" r="3.05"/><circle cx="466.4" cy="300.4" r="3.05"/><circle cx="347.4" cy="315.4" r="3.05"/><circle cx="391.4" cy="320.4" r="3.05"/><circle cx="403.4" cy="327.4" r="3.05"/><circle cx="468.4" cy="328.4" r="3.05"/><circle cx="124.6" cy="360.2" r="3.05"/><circle cx="23.4" cy="371.3" r="3.05"/><circle cx="61.3" cy="410.5" r="3.05"/><circle cx="150.4" cy="415.3" r="3.05"/><circle cx="2.5" cy="460.5" r="3.05"/><circle cx="121.4" cy="461.4" r="3.05"/><circle cx="169.5" cy="358.5" r="3.05"/><circle cx="247.3" cy="357.6" r="3.05"/><circle cx="207.4" cy="377.3" r="3.05"/><circle cx="247.3" cy="383.4" r="3.05"/><circle cx="297.4" cy="391.4" r="3.05"/><circle cx="316.3" cy="414.2" r="3.05"/><circle cx="296.3" cy="427.4" r="3.05"/><circle cx="191.4" cy="437.4" r="3.05"/><circle cx="175.3" cy="444.3" r="3.05"/><circle cx="224.3" cy="445.2" r="3.05"/><circle cx="187.5" cy="470.3" r="3.05"/><circle cx="217.4" cy="468.4" r="3.05"/><circle cx="252.3" cy="479.0" r="3.05"/><circle cx="346.4" cy="378.2" r="3.05"/><circle cx="332.3" cy="385.3" r="3.05"/><circle cx="413.5" cy="380.4" r="3.05"/><circle cx="462.5" cy="380.4" r="3.05"/><circle cx="394.3" cy="405.3" r="3.05"/><circle cx="404.2" cy="429.3" r="3.05"/><circle cx="351.4" cy="435.4" r="3.05"/><circle cx="393.2" cy="452.3" r="3.05"/><circle cx="483.8" cy="446.2" r="3.05"/><circle cx="438.5" cy="473.3" r="3.05"/><circle cx="402.1" cy="479.3" r="3.05"/></g></svg>
<div id="cb"></div>
<svg style="position:absolute;left:0;top:0" width="800" height="600" viewBox="0 0 800 600"><g fill="none" stroke="#000" stroke-width="1.4" stroke-linejoin="miter"><rect x="111.60" y="59.60" width="484.00" height="480.00"/><rect x="626.60" y="59.60" width="24.00" height="480.00"/></g></svg>
<div class="ln" style="left:193.00px;top:533.50px;width:1.00px;height:5.50px;background:rgba(0,0,0,.85);"></div>
<div class="ln" style="left:193.00px;top:60.00px;width:1.00px;height:5.50px;background:rgba(0,0,0,.85);"></div>
<div class="t" style="left:163.2px;top:542.0px;width:60px;text-align:center;letter-spacing:-0.45px">600</div>
<div class="ln" style="left:316.00px;top:533.50px;width:1.00px;height:5.50px;background:rgba(0,0,0,.85);"></div>
<div class="ln" style="left:316.00px;top:60.00px;width:1.00px;height:5.50px;background:rgba(0,0,0,.85);"></div>
<div class="t" style="left:286.2px;top:542.0px;width:60px;text-align:center;letter-spacing:-0.45px">650</div>
<div class="ln" style="left:439.00px;top:533.50px;width:1.00px;height:5.50px;background:rgba(0,0,0,.85);"></div>
<div class="ln" style="left:439.00px;top:60.00px;width:1.00px;height:5.50px;background:rgba(0,0,0,.85);"></div>
<div class="t" style="left:409.2px;top:542.0px;width:60px;text-align:center;letter-spacing:-0.45px">700</div>
<div class="ln" style="left:562.00px;top:533.50px;width:1.00px;height:5.50px;background:rgba(0,0,0,.85);"></div>
<div class="ln" style="left:562.00px;top:60.00px;width:1.00px;height:5.50px;background:rgba(0,0,0,.85);"></div>
<div class="t" style="left:532.2px;top:542.0px;width:60px;text-align:center;letter-spacing:-0.45px">750</div>
<div class="ln" style="left:112.00px;top:454.00px;width:5.50px;height:1.00px;background:rgba(0,0,0,.85);"></div>
<div class="ln" style="left:589.50px;top:454.00px;width:5.50px;height:1.00px;background:rgba(0,0,0,.85);"></div>
<div class="t" style="left:46.6px;top:445.7px;width:60px;text-align:right;letter-spacing:-0.45px">350</div>
<div class="ln" style="left:112.00px;top:331.00px;width:5.50px;height:1.00px;background:rgba(0,0,0,.85);"></div>
<div class="ln" style="left:589.50px;top:331.00px;width:5.50px;height:1.00px;background:rgba(0,0,0,.85);"></div>
<div class="t" style="left:46.6px;top:322.7px;width:60px;text-align:right;letter-spacing:-0.45px">400</div>
<div class="ln" style="left:112.00px;top:208.00px;width:5.50px;height:1.00px;background:rgba(0,0,0,.85);"></div>
<div class="ln" style="left:589.50px;top:208.00px;width:5.50px;height:1.00px;background:rgba(0,0,0,.85);"></div>
<div class="t" style="left:46.6px;top:199.7px;width:60px;text-align:right;letter-spacing:-0.45px">450</div>
<div class="ln" style="left:112.00px;top:85.00px;width:5.50px;height:1.00px;background:rgba(0,0,0,.85);"></div>
<div class="ln" style="left:589.50px;top:85.00px;width:5.50px;height:1.00px;background:rgba(0,0,0,.85);"></div>
<div class="t" style="left:46.6px;top:76.7px;width:60px;text-align:right;letter-spacing:-0.45px">500</div>
<div class="ln" style="left:644.50px;top:510.54px;width:5.50px;height:1.00px;background:rgba(0,0,0,.85);"></div>
<div class="t" style="left:654.6px;top:502.0px">0.000004</div>
<div class="ln" style="left:644.50px;top:454.93px;width:5.50px;height:1.00px;background:rgba(0,0,0,.85);"></div>
<div class="t" style="left:654.6px;top:446.4px">0.000008</div>
<div class="ln" style="left:644.50px;top:399.32px;width:5.50px;height:1.00px;background:rgba(0,0,0,.85);"></div>
<div class="t" style="left:654.6px;top:390.8px">0.000012</div>
<div class="ln" style="left:644.50px;top:343.70px;width:5.50px;height:1.00px;background:rgba(0,0,0,.85);"></div>
<div class="t" style="left:654.6px;top:335.2px">0.000016</div>
<div class="ln" style="left:644.50px;top:288.09px;width:5.50px;height:1.00px;background:rgba(0,0,0,.85);"></div>
<div class="t" style="left:654.6px;top:279.6px">0.000020</div>
<div class="ln" style="left:644.50px;top:232.48px;width:5.50px;height:1.00px;background:rgba(0,0,0,.85);"></div>
<div class="t" style="left:654.6px;top:224.0px">0.000024</div>
<div class="ln" style="left:644.50px;top:176.87px;width:5.50px;height:1.00px;background:rgba(0,0,0,.85);"></div>
<div class="t" style="left:654.6px;top:168.4px">0.000028</div>
<div class="ln" style="left:644.50px;top:121.26px;width:5.50px;height:1.00px;background:rgba(0,0,0,.85);"></div>
<div class="t" style="left:654.6px;top:112.8px">0.000032</div>
<div class="ln" style="left:644.50px;top:65.65px;width:5.50px;height:1.00px;background:rgba(0,0,0,.85);"></div>
<div class="t" style="left:654.6px;top:57.1px">0.000036</div>
<div class="t" style="left:294.6px;top:560.5px;width:120px;text-align:center;letter-spacing:0.12px">X [pix]</div>
<div class="t" style="left:-0.2px;top:289.4px;width:120px;text-align:center;transform:rotate(-90deg);transform-origin:50% 50%;letter-spacing:-0.05px">Y [pix]</div>
</body></html>
